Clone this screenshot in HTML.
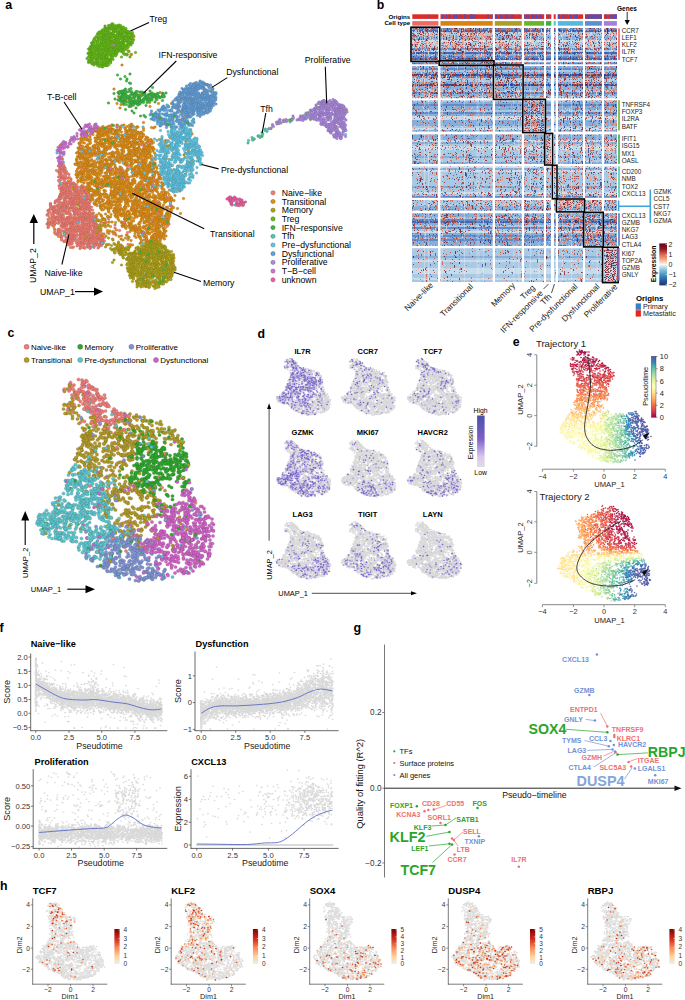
<!DOCTYPE html>
<html><head><meta charset="utf-8"><style>
html,body{margin:0;padding:0;background:#fff;width:685px;height:1000px;overflow:hidden}
svg{display:block;font-family:"Liberation Sans",sans-serif}
</style></head><body>
<svg width="685" height="1000" viewBox="0 0 685 1000">
<defs><marker id="ma0" markerUnits="userSpaceOnUse" markerWidth="1" markerHeight="1" overflow="visible" orient="0"><circle r="2.6" fill="#e08e16" stroke="#93621a" stroke-width="0.56"/></marker><marker id="ma1" markerUnits="userSpaceOnUse" markerWidth="1" markerHeight="1" overflow="visible" orient="0"><circle r="2.6" fill="#f27c72" stroke="#9e5751" stroke-width="0.56"/></marker><marker id="ma2" markerUnits="userSpaceOnUse" markerWidth="1" markerHeight="1" overflow="visible" orient="0"><circle r="2.6" fill="#afa318" stroke="#766f1b" stroke-width="0.56"/></marker><marker id="ma3" markerUnits="userSpaceOnUse" markerWidth="1" markerHeight="1" overflow="visible" orient="0"><circle r="2.6" fill="#5cc4e4" stroke="#448296" stroke-width="0.56"/></marker><marker id="ma4" markerUnits="userSpaceOnUse" markerWidth="1" markerHeight="1" overflow="visible" orient="0"><circle r="2.6" fill="#64a0da" stroke="#496d90" stroke-width="0.56"/></marker><marker id="ma5" markerUnits="userSpaceOnUse" markerWidth="1" markerHeight="1" overflow="visible" orient="0"><circle r="2.6" fill="#64bc14" stroke="#497e19" stroke-width="0.56"/></marker><marker id="ma6" markerUnits="userSpaceOnUse" markerWidth="1" markerHeight="1" overflow="visible" orient="0"><circle r="2.6" fill="#3bb842" stroke="#307b34" stroke-width="0.56"/></marker><marker id="ma7" markerUnits="userSpaceOnUse" markerWidth="1" markerHeight="1" overflow="visible" orient="0"><circle r="2.6" fill="#ce72d2" stroke="#88518b" stroke-width="0.56"/></marker><marker id="ma8" markerUnits="userSpaceOnUse" markerWidth="1" markerHeight="1" overflow="visible" orient="0"><circle r="2.6" fill="#4ccab0" stroke="#3a8676" stroke-width="0.56"/></marker><marker id="ma9" markerUnits="userSpaceOnUse" markerWidth="1" markerHeight="1" overflow="visible" orient="0"><circle r="2.6" fill="#ab8ae0" stroke="#736093" stroke-width="0.56"/></marker><marker id="ma10" markerUnits="userSpaceOnUse" markerWidth="1" markerHeight="1" overflow="visible" orient="0"><circle r="2.6" fill="#e8609f" stroke="#98466c" stroke-width="0.56"/></marker><marker id="mc_trans" markerUnits="userSpaceOnUse" markerWidth="1" markerHeight="1" overflow="visible" orient="0"><circle r="3.2" fill="#b39a26" stroke="#786924" stroke-width="0.6"/></marker><marker id="mc_naive" markerUnits="userSpaceOnUse" markerWidth="1" markerHeight="1" overflow="visible" orient="0"><circle r="3.2" fill="#f27c7a" stroke="#9e5756" stroke-width="0.6"/></marker><marker id="mc_memory" markerUnits="userSpaceOnUse" markerWidth="1" markerHeight="1" overflow="visible" orient="0"><circle r="3.2" fill="#2ea82c" stroke="#287227" stroke-width="0.6"/></marker><marker id="mc_predys" markerUnits="userSpaceOnUse" markerWidth="1" markerHeight="1" overflow="visible" orient="0"><circle r="3.2" fill="#5cc6cf" stroke="#448489" stroke-width="0.6"/></marker><marker id="mc_dys" markerUnits="userSpaceOnUse" markerWidth="1" markerHeight="1" overflow="visible" orient="0"><circle r="3.2" fill="#d063c6" stroke="#8a4884" stroke-width="0.6"/></marker><marker id="mc_prolif" markerUnits="userSpaceOnUse" markerWidth="1" markerHeight="1" overflow="visible" orient="0"><circle r="3.2" fill="#7f93d3" stroke="#59658b" stroke-width="0.6"/></marker><marker id="md_g" markerUnits="userSpaceOnUse" markerWidth="1" markerHeight="1" overflow="visible" orient="0"><circle r="1.7" fill="#d9d9d9"/></marker><marker id="md_p0" markerUnits="userSpaceOnUse" markerWidth="1" markerHeight="1" overflow="visible" orient="0"><circle r="1.6" fill="#cdc2ea"/></marker><marker id="md_p1" markerUnits="userSpaceOnUse" markerWidth="1" markerHeight="1" overflow="visible" orient="0"><circle r="1.6" fill="#ad9fe0"/></marker><marker id="md_p2" markerUnits="userSpaceOnUse" markerWidth="1" markerHeight="1" overflow="visible" orient="0"><circle r="1.6" fill="#8f7dd4"/></marker><marker id="md_p3" markerUnits="userSpaceOnUse" markerWidth="1" markerHeight="1" overflow="visible" orient="0"><circle r="1.6" fill="#7462c6"/></marker><marker id="me1_0" markerUnits="userSpaceOnUse" markerWidth="1" markerHeight="1" overflow="visible" orient="0"><circle r="1.64" fill="#aa0f45"/></marker><marker id="me1_1" markerUnits="userSpaceOnUse" markerWidth="1" markerHeight="1" overflow="visible" orient="0"><circle r="1.64" fill="#c42b4b"/></marker><marker id="me1_2" markerUnits="userSpaceOnUse" markerWidth="1" markerHeight="1" overflow="visible" orient="0"><circle r="1.64" fill="#d9444d"/></marker><marker id="me1_3" markerUnits="userSpaceOnUse" markerWidth="1" markerHeight="1" overflow="visible" orient="0"><circle r="1.64" fill="#e75a48"/></marker><marker id="me1_4" markerUnits="userSpaceOnUse" markerWidth="1" markerHeight="1" overflow="visible" orient="0"><circle r="1.64" fill="#f47044"/></marker><marker id="me1_5" markerUnits="userSpaceOnUse" markerWidth="1" markerHeight="1" overflow="visible" orient="0"><circle r="1.64" fill="#f88e52"/></marker><marker id="me1_6" markerUnits="userSpaceOnUse" markerWidth="1" markerHeight="1" overflow="visible" orient="0"><circle r="1.64" fill="#fdab60"/></marker><marker id="me1_7" markerUnits="userSpaceOnUse" markerWidth="1" markerHeight="1" overflow="visible" orient="0"><circle r="1.64" fill="#fdc272"/></marker><marker id="me1_8" markerUnits="userSpaceOnUse" markerWidth="1" markerHeight="1" overflow="visible" orient="0"><circle r="1.64" fill="#fed985"/></marker><marker id="me1_9" markerUnits="userSpaceOnUse" markerWidth="1" markerHeight="1" overflow="visible" orient="0"><circle r="1.64" fill="#feea9c"/></marker><marker id="me1_10" markerUnits="userSpaceOnUse" markerWidth="1" markerHeight="1" overflow="visible" orient="0"><circle r="1.64" fill="#fff8b3"/></marker><marker id="me1_11" markerUnits="userSpaceOnUse" markerWidth="1" markerHeight="1" overflow="visible" orient="0"><circle r="1.64" fill="#f9fdb6"/></marker><marker id="me1_12" markerUnits="userSpaceOnUse" markerWidth="1" markerHeight="1" overflow="visible" orient="0"><circle r="1.64" fill="#eef8a4"/></marker><marker id="me1_13" markerUnits="userSpaceOnUse" markerWidth="1" markerHeight="1" overflow="visible" orient="0"><circle r="1.64" fill="#def29a"/></marker><marker id="me1_14" markerUnits="userSpaceOnUse" markerWidth="1" markerHeight="1" overflow="visible" orient="0"><circle r="1.64" fill="#c3e79f"/></marker><marker id="me1_15" markerUnits="userSpaceOnUse" markerWidth="1" markerHeight="1" overflow="visible" orient="0"><circle r="1.64" fill="#a8dca4"/></marker><marker id="me1_16" markerUnits="userSpaceOnUse" markerWidth="1" markerHeight="1" overflow="visible" orient="0"><circle r="1.64" fill="#88d0a4"/></marker><marker id="me1_17" markerUnits="userSpaceOnUse" markerWidth="1" markerHeight="1" overflow="visible" orient="0"><circle r="1.64" fill="#69c3a5"/></marker><marker id="me1_18" markerUnits="userSpaceOnUse" markerWidth="1" markerHeight="1" overflow="visible" orient="0"><circle r="1.64" fill="#51aaaf"/></marker><marker id="me1_19" markerUnits="userSpaceOnUse" markerWidth="1" markerHeight="1" overflow="visible" orient="0"><circle r="1.64" fill="#3990ba"/></marker><marker id="me1_20" markerUnits="userSpaceOnUse" markerWidth="1" markerHeight="1" overflow="visible" orient="0"><circle r="1.64" fill="#4076b4"/></marker><marker id="me1_21" markerUnits="userSpaceOnUse" markerWidth="1" markerHeight="1" overflow="visible" orient="0"><circle r="1.64" fill="#545ca8"/></marker><marker id="me2_0" markerUnits="userSpaceOnUse" markerWidth="1" markerHeight="1" overflow="visible" orient="0"><circle r="1.64" fill="#aa0f45"/></marker><marker id="me2_1" markerUnits="userSpaceOnUse" markerWidth="1" markerHeight="1" overflow="visible" orient="0"><circle r="1.64" fill="#c42b4b"/></marker><marker id="me2_2" markerUnits="userSpaceOnUse" markerWidth="1" markerHeight="1" overflow="visible" orient="0"><circle r="1.64" fill="#d9444d"/></marker><marker id="me2_3" markerUnits="userSpaceOnUse" markerWidth="1" markerHeight="1" overflow="visible" orient="0"><circle r="1.64" fill="#e75a48"/></marker><marker id="me2_4" markerUnits="userSpaceOnUse" markerWidth="1" markerHeight="1" overflow="visible" orient="0"><circle r="1.64" fill="#f47044"/></marker><marker id="me2_5" markerUnits="userSpaceOnUse" markerWidth="1" markerHeight="1" overflow="visible" orient="0"><circle r="1.64" fill="#f88e52"/></marker><marker id="me2_6" markerUnits="userSpaceOnUse" markerWidth="1" markerHeight="1" overflow="visible" orient="0"><circle r="1.64" fill="#fdab60"/></marker><marker id="me2_7" markerUnits="userSpaceOnUse" markerWidth="1" markerHeight="1" overflow="visible" orient="0"><circle r="1.64" fill="#fdc272"/></marker><marker id="me2_8" markerUnits="userSpaceOnUse" markerWidth="1" markerHeight="1" overflow="visible" orient="0"><circle r="1.64" fill="#fed985"/></marker><marker id="me2_9" markerUnits="userSpaceOnUse" markerWidth="1" markerHeight="1" overflow="visible" orient="0"><circle r="1.64" fill="#feea9c"/></marker><marker id="me2_10" markerUnits="userSpaceOnUse" markerWidth="1" markerHeight="1" overflow="visible" orient="0"><circle r="1.64" fill="#fff8b3"/></marker><marker id="me2_11" markerUnits="userSpaceOnUse" markerWidth="1" markerHeight="1" overflow="visible" orient="0"><circle r="1.64" fill="#f9fdb6"/></marker><marker id="me2_12" markerUnits="userSpaceOnUse" markerWidth="1" markerHeight="1" overflow="visible" orient="0"><circle r="1.64" fill="#eef8a4"/></marker><marker id="me2_13" markerUnits="userSpaceOnUse" markerWidth="1" markerHeight="1" overflow="visible" orient="0"><circle r="1.64" fill="#def29a"/></marker><marker id="me2_14" markerUnits="userSpaceOnUse" markerWidth="1" markerHeight="1" overflow="visible" orient="0"><circle r="1.64" fill="#c3e79f"/></marker><marker id="me2_15" markerUnits="userSpaceOnUse" markerWidth="1" markerHeight="1" overflow="visible" orient="0"><circle r="1.64" fill="#a8dca4"/></marker><marker id="me2_16" markerUnits="userSpaceOnUse" markerWidth="1" markerHeight="1" overflow="visible" orient="0"><circle r="1.64" fill="#88d0a4"/></marker><marker id="me2_17" markerUnits="userSpaceOnUse" markerWidth="1" markerHeight="1" overflow="visible" orient="0"><circle r="1.64" fill="#69c3a5"/></marker><marker id="me2_18" markerUnits="userSpaceOnUse" markerWidth="1" markerHeight="1" overflow="visible" orient="0"><circle r="1.64" fill="#51aaaf"/></marker><marker id="me2_19" markerUnits="userSpaceOnUse" markerWidth="1" markerHeight="1" overflow="visible" orient="0"><circle r="1.64" fill="#3990ba"/></marker><marker id="me2_20" markerUnits="userSpaceOnUse" markerWidth="1" markerHeight="1" overflow="visible" orient="0"><circle r="1.64" fill="#4076b4"/></marker><marker id="me2_21" markerUnits="userSpaceOnUse" markerWidth="1" markerHeight="1" overflow="visible" orient="0"><circle r="1.64" fill="#545ca8"/></marker><marker id="mf" markerUnits="userSpaceOnUse" markerWidth="1" markerHeight="1" overflow="visible" orient="0"><circle r="1.7" fill="#d9d9d9"/></marker><marker id="mh_g" markerUnits="userSpaceOnUse" markerWidth="1" markerHeight="1" overflow="visible" orient="0"><circle r="1.7" fill="#dcdcdc"/></marker><marker id="mh_o0" markerUnits="userSpaceOnUse" markerWidth="1" markerHeight="1" overflow="visible" orient="0"><circle r="1.64" fill="#fdd8b4"/></marker><marker id="mh_o1" markerUnits="userSpaceOnUse" markerWidth="1" markerHeight="1" overflow="visible" orient="0"><circle r="1.64" fill="#fbb07c"/></marker><marker id="mh_o2" markerUnits="userSpaceOnUse" markerWidth="1" markerHeight="1" overflow="visible" orient="0"><circle r="1.64" fill="#f4884e"/></marker><marker id="mh_o3" markerUnits="userSpaceOnUse" markerWidth="1" markerHeight="1" overflow="visible" orient="0"><circle r="1.64" fill="#e2582e"/></marker><marker id="mh_o4" markerUnits="userSpaceOnUse" markerWidth="1" markerHeight="1" overflow="visible" orient="0"><circle r="1.64" fill="#c2301c"/></marker></defs>
<g transform="scale(0.5)" fill="none" stroke="none"><path d="m247 73 15 0 6 0-34 10-25 7-12 14 9-3 9 1 9 7 8-4 18 3 4 1 3-7 5 7 1 0-36 1-6 12 23 8 167 39-183 9 170-7 26 4-179 12 4-6 21 5 11 3 20-1 19-3 61-1 42-4-186 13 6 1 17 3 0-5 20 0 10 6 7-2 4 1 11 2 48-9 22 0 10 6 11-6 3 4-172 13 8 2 4-1 2-5 4-1 6 1 1 0 35-3 5 5 18 2 26 0 19-3 39-2 249 2-410 12 22-3 38 0 78 4 285-5 17 2 8 0-325 9 11-2 11 8 268-2 5 1 35-8-372 16 32-2 16 4 2-4 241 2 45 1-467 12 73-1 24-3 34-3 5 6 5-7 3 0 6 0 5 0 15-1 208 2-386 15 3 2 0-1 2 1 3-4 4 4 1-4 2 3 0 1 2-3 3 3 2-4 2-2 2 4 3 0 3-3 2 2 2-4 1 5 0 1 3-5 0 6 2-9 0 0 1 8 2 1 7-9 0 4 1-3 5 4 0 4 1-6 0 5 3-7 4-1 2 6 0 1 4-4 5-2 0 5 1-5 1 8 2-5 1-2 2 1 0-1 7 3 1-1 0 0 2 0 11 3 16-2 4 1 3-2 354-3-495 15 2 1 1 1 2-2 0-2 1 0 1-3 5 1 1 2 1 4 3-4 0-1 0 6 1-8 4 1 2 0 1 2 2 1 1 3 1-3 1 0 2-3 0 4 1-5 0 1 2-2 1 2 0 7 2-9 0 5 2 1 1-6 0 8 2-4 0 0 1 5 2-4 1-4 0 0 0 5 2-2 1-2 1 2 2 0 1 3 1-7 0 0 2 0 0 8 4-4 0 2 0 3 1-3 1-5 0 5 1-6 1 0 0 7 1-6 0 7 2-8 0 1 0 8 2-6 4 1 7 5 1-6 1-3 2 4 0 3 2-5 0 7 1-7 1-1 3 2 0 5 1-8 1 1 1 2 1 6 0 0 1-8 1 2 0 6 3-8 0 4 1-3 0-2 4 6 1-2 1 2 1 2 2-2 2-1 0 0 2 2 1 1 2-7 0 8 92-6 5 5 289-3-512 13 1-2 1 3 1-7 3-2 1 7 1-4 3 0 1-2 0 6 1-6 1 1 1 7 4-5 1 5 9-3 1 1 3-6 1 4 1 2 0 1 1-7 0 0 2 3 1-4 1 3 0 6 1-7 3-1 0 8 1-9 1 8 1-7 1-1 1 8 4-1 1-5 2 3 1-4 0 7 5-3 0 2 1-2 1 1 4 0 1-1 2-1 1 0 0 5 1-4 3-4 1 0 2 6 1 2 2-9 1 5 0 1 1-3 1-1 1-1 1 7 3 1 1-9 0 5 3-2 0-2 0 5 1 1 1 1 1-7 2 5 0 1 1-5 1-2 1 2 1 1 1 3 1-1 3-4 0 8 2-5 1-4 0 0 0 2 0 6 4 0 3-5 1 1 0 0 0 4 0-3 1-2 1 4 2-2 2-3 1-1 3 8 3-4 0-1 1 5 2-3 6 3 17 0 22-3 166 3 1-1-350 9 1-1 1 0 0 3 2-7 3 3 2-5 2 6 4-6 3 0 0 9 2-7 1-1 1 6 1-2 10-2 0-1 1 0 1-1 2 5 0 3 1-2 4-2 0-2 0 4 0-2 1 4 2-9 0 9 1-4 2 3 2-1 1 1 2-5 1 2 4-4 1 1 0 5 1-5 0-1 1-1 0 0 0 6 0 3 3-8 1 4 0 3 0 1 4-7 0 4 2 3 1-6 0-1 1 0 0 7 4 0 2-5 3 0 1 5 1-9 1 9 0-1 2-5 3-1 0 4 1-5 0 8 1-6 1-2 4-1 0 4 0 1 1 3 1-6 1 2 3 3 1-3 0 3 1-3 0 2 4-6 0 6 1-3 2-3 0 5 1-1 1 3 0 2 3-5 1 3 1 1 0 0 3-6 3 0 0 2 0 1 0 4 3-5 2 5 4-3 3-2 1 0 2-2 1-1 1 0 0 7 2-3 2-3 0 5 3-2 24-4 0 4 2-3 21 0 18 1-251 7 35 6 3 1 1-5 0 6 1-4 1-1 2 4 1-5 1 7 0-2 5-3 3-1 0-2 0 3 0 5 2-5 1 4 3-2 2 3 4-5 0-2 2 3 2-4 0-1 0 4 0 3 4 0 1-2 2-4 0 4 1 2 5-5 1-1 1 2 3 2 1-5 2 6 0-3 3 6 0 0 1-6 0 3 2-2 3 3 2-4 0-1 7-2 0 4 2-4 1 3 0 3 2 3 3-7 1 0 5 1 2 0 1 0 0 4 1-1 2-4 1 1 2-3 0 5 2-4 1 5 1-3 2 2 0 2 4-5 1 1 2-2 0 1 3-1 0 5 0 3 0 0 1-7 1 6 1-1 2 2 1 0 1-2 1 0 2-5 0 4 0 1 0 2 1-1 7 1 1-9 1 5 0 4 1-5 1 4 1-6 1 7 3-5 0 4 1-7 0 0 1 0 0 5 2-5 1 2 1 2 1 0 2-1 2 1 0 3 0 1 2-1 26-6 41 4-259 5 37 5 3-2 1 2 1-6 1 9 0-1 2-1 1-1 1-6 4 0 0 6 1-4 1 5 2 1 0-4 0 3 2-7 0 4 2 2 0 3 3-7 1 7 1-6 1 0 0 3 2 1 2 2 1-9 1 5 2-5 0 7 1-2 1 0 3 0 1 3 2-8 0 1 1-1 0 0 1 9 1-4 0 0 2-1 2 1 0 3 2-4 0 4 2-8 0 2 0 4 3-6 0 4 0 3 3 1 5-1 1 1 4-3 1 2 0 2 1-5 3 3 3-2 1 0 2 0 1-5 2 5 0 4 5-9 0 8 1-4 3-3 0 2 0 2 9 3 1-7 1 5 1-6 0 2 1 2 0 5 2-6 0 3 2 1 1-7 0 1 3 3 1 5 1-2 1-4 1 4 1-7 0 4 0 5 3-4 2-1 3 4 1-1 1-7 1 3 0 6 1-4 2-3 1 2 0 0 1-2 0 7 1-1 2-6 0 0 2 6 1-3 1-3 2 0 0 5 1 1 1-8 1 4 5-2 3 4 67-5 9-1-260 18 28 0 2-5 1 1 2-2 2-1 0 5 0 2 2-3 0 1 2-5 0 0 2 4 1-2 0 4 0 2 2-5 1 5 1-3 2-5 2 5 0 2 0 1 1-2 3-3 2-3 2 0 0 2 0 6 8-9 3 8 3-5 1 3 3 3 3-6 0 2 1 0 0 0 2-3 3 0 1 7 1 0 5-5 2 5 2-4 2-2 1-1 3-1 0 2 0 1 0 1 5 0 2 2 1-6 1 1 3 4 2-3 1 3 0 1 2-2 1-3 0-2 0 4 0-3 2 8 1 0 2-7 2-1 0 2 0 3 1-4 0 6 3-8 0 3 0 4 0 1 1-1 2 2 1-7 0 6 3-3 1-4 0 8 4-7 5 0 1-2 2 5 1 3 0-2 1-1 0-1 2-4 1 3 1-1 1 6 3-5 1 6 3-7 1-2 0 6 0 2 3-4 1-1 1 3 4-6 0 5 3-3 0 6 7-1 1-6 0 8 22-2 52 2 10-4-245 13 1 1 2-8 1 0 0 7 1-3 0 3 2-2 4-2 1 3 1-3 3 1 2 4 2-2 1-6 0 8 1-8 0 3 0 1 3 2 1-2 2-2 0-1 1 1 4 5 1-7 2 7 1-3 2-3 3 4 4-2 1 1 4-2 0 3 0 3 1-6 0 4 3-3 1 1 1-5 2 9 1 0 1 0 1-9 1 1 0 2 1-3 0 5 0 4 3-9 1 9 0-1 4-8 1 3 0 4 1-5 0 7 0-1 2-2 1-2 1 1 1-4 2-1 1 2 4-1 1 2 2-3 0 5 5-4 3-1 2 8 1-3 2-4 0 7 0-1 2-2 1 3 4-7 0 0 3 3 0 3 1-4 0 4 0 2 1-9 2 7 3-7 1 4 1-4 1 3 2 0 0 0 0-1 1 1 2 6 1-4 0-1 1 3 4-7 1 4 0 3 4-5 0 5 1-4 1 5 1-2 1-1 1-4 7 5 0 2 1-4 3 0 1-3 0 4 1 3 2-2 2 0 0 2-187 2 32 8 1-7 1 5 1-6 2 4 1 1 2-2 1 3 1-6 3 2 0 5 2-6 0-1 0 9 3-4 1-1 0 2 1 3 1-9 1 5 1-5 0 1 1-1 2 2 2 0 1-1 0 1 2-2 0 2 0 6 2-4 3-4 0 3 3 1 3 3 2-7 0 5 0 0 1 3 0-1 4-2 1-4 0 3 2 3 2-4 4-2 0 0 0 4 2 2 0 2 2-6 0-1 2 2 1 2 2-4 4 6 4-8 0 4 2 2 1 2 4 1 3-5 0 5 2-3 1 0 9-6 3 2 0 6 6-8 1 2 1 1 1 5 5-2 1-2 2-1 3-1 0 5 2-4 1 5 1-3 0 4 2-3 3-5 1 3 0 2 1 3 2-6 0 4 1-6 0 4 2 3 3-6 0 5 2-7 0 4 3 0 0 4 1-6 0 5 2-6 2 2 0 5 2-1 1 1 1-3 2-5 3 4 1 3 30-6-192 18 1-6 1-1 0 7 3 0 1-3 1 1 1-4 1 2 2-4 0 4 1 3 2-2 0-1 1 4 0-4 1-3 0 3 3-5 2 2 0 7 2-4 1 0 1 2 2-5 1-1 0 7 2-8 0 0 1 1 1 3 1 2 1-6 0 4 0 4 2-4 1 5 1-7 0 4 1-6 0 0 3 7 1-2 2 3 1-8 0 8 2-5 3-3 0 6 1-4 6 4 3 0 0 1 0 0 2-5 0 1 2-2 3-1 0 3 0 0 1-3 0 6 0 2 1-8 1 4 3-4 0 9 3-4 1-2 1 5 1-1 1-2 0 2 1-7 0 0 5 1 0 5 1-2 0 4 1-2 3-5 0 5 2-1 0-1 2 0 0 4 4-3 1-3 1-2 0 8 2-8 8 5 1-5 1 0 1 9 1-1 1-8 0 8 1-7 0 0 1 4 3 2 1-4 1 5 1-8 1 5 2-2 0 5 0 1 1-5 0 2 1 2 3-6 1 7 0-2 0 2 1 0 1-8 4 2 0 6 2-6 2 4 1-5 0 1 1-3 2 4 3-2 0 1 4 1 0 5 2-5 1 1 0 2 2-4 2 1 2 2 1 3 3 0 6-4 17-3 8 4 22-4-248 11 6 4 5-1 17-6 1 5 1-1 0-1 4-3 2 6 2-1 1 3 1-6 0 3 1 3 1-4 0-4 6 4 0 1 1-2 1 4 1 2 2-7 0 1 1 3 0 2 2-5 0-1 1 7 2-4 6 3 2-8 2 0 0 4 0 3 2-2 0 1 2 1 3-6 3 8 3-6 2 0 1 0 0 5 1-3 2 4 1-6 0 6 1-6 2 0 1 3 0 1 1-4 0 6 2-9 1 7 5-1 1 0 1 3 2-4 0 2 1-7 3 4 3-3 0 3 0 1 1 2 2 2 1-5 1-3 1 1 1 3 0 4 1-9 1 0 3 2 0 3 1 1 1-4 2 0 2 7 1 0 1-5 5-1 4-2 0 1 1 6 4-7 2 1 0 1 7 3 1-3 3-3 0 5 0 2 2-6 1 2 1 4 1 1 1-3 3-2 0-2 0 8 2-2 4-1 0 0 1 1 0 2 3-3 1-5 2 6 1-5 0 0 0 5 1-6 6 8 3-5 1 1 0 3 1-7 0 4 1 1 1 2 24-6 5 6 14 1 2-7-230 10 19-1 0 3 4-3 3 0 0 3 3-4 2 6 2-6 1 1 4 5 2 1 1 2 1-3 2-1 0 1 0 3 3-7 1-1 0 3 0 4 2-2 3-6 1 6 1-1 1-4 2 5 1 3 2-8 0 6 1-1 3-2 0 4 1-8 1 6 1 0 0 0 1-1 2-3 1 2 2 2 2-5 2 5 1-1 3 3 1-4 0 4 1-6 1 3 2 0 1-3 1 6 2-7 2 3 1 4 1-1 1-5 3 6 1-7 0 6 0-1 1-4 2 0 0 6 3-2 0-1 2-4 0 8 1-1 2-5 0 3 1 2 2 1 1-9 0 4 5 0 0 3 2-1 3 1 0 1 2 1 1-7 0-2 0 9 1-4 2-5 2 2 0 4 7 2 2-3 2 3 2-6 1 2 1 3 4-6 1-1 1 9 1-7 2-1 2 4 0-3 1 6 4-4 0-2 0 6 1-7 1 8 2-2 2-5 0 2 6-3 0 1 0 3 0 2 3 2 1-5 6 1 2 2 0 0 39-6-220 11 18 5 1-5 2-1 7 5 0 3 2-3 1-5 1 3 1 5 2-5 0 4 1-3 4 3 5-7 3 2 1-3 1 2 1 6 1-3 5 1 2-6 1 5 3-4 0 2 1-2 4 1 1-2 0 2 2-2 2 2 5 3 1-3 1-2 0 2 1 2 4 4 1-6 0 3 0 3 2-6 1 3 1 2 1-3 2 5 1-3 1-1 0 2 1-5 0 7 1-7 1 5 3-3 1 5 3-7 0 5 4-2 0-1 1 2 1-5 2-1 0 3 1 3 3-2 0 3 2-6 1 6 5 2 1-2 3-4 0 1 1-3 1 7 1-3 2-2 0 6 1-2 0 2 2-7 4-1 0 4 1 4 1-7 0 5 1-1 2 2 1-8 4 3 0 2 1-5 1 4 1-4 0 6 6-2 5 0 0 4 1-7 0 7 2-4 1-1 2-2 0 6 9-4 0 3 0 1 1-6 2-1 1 9 17 0 5-2-229 11 48-6 0 2 1 1 3 4 3-7 0 1 0 3 1-2 1 3 3-7 1 1 1 0 1 8 3-5 1-3 1 3 1 4 0-3 0 2 1-6 2 8 2-8 0 3 1 2 1-5 0 8 2-8 0 6 0-1 5 3 3-1 1-7 1 0 0 6 1 1 1-6 1 7 1 0 9-8 0 5 1-1 1 0 0 3 3-6 1 1 0 6 2-5 1-4 1 5 0 2 1-3 3 3 0 0 1-6 0 7 1-5 1 4 3-6 0 6 3-1 0 3 1-5 1-1 0 6 1-9 0 2 0 0 2 3 1-1 0 2 4-5 2-1 0 5 3-2 1 1 1-3 1 3 0 5 1-2 3-5 3 4 2-5 0 3 0 3 2-3 0 5 2-2 1 2 1-5 1 2 1-3 0 3 2 3 2-9 2 8 1 0 0-3 3-5 0 6 1-5 1 0 1 5 3-4 1-1 2 0 0 7 2-6 1-2 1 0 1 2 1 3 2-5 1 0 4 1 1 1 2 2 2 5 1 0 2 0 3-4 2-2 1 6 4-5 0 5 1-4 0 2 4-2 3 4 1-9 4 1 17 0 0 1-242 14 12 1 20 0 8 1 16 1 4-1 3-6 1 0 2 6 0-5 0 4 2-7 0 3 0 6 5-8 4 8 2-2 1-6 1 4 1 2 1-2 0-1 1-4 1 8 2-8 4 4 3 0 1-2 2 5 2-4 1 3 0 2 2-8 4 2 0 5 1-5 0 2 4-1 0 4 1-5 1 0 1 0 2 6 1-1 3 1 2-5 0 6 1-7 1 7 2-8 0 3 1 0 1-1 1 6 1-2 2 1 0-1 1-6 1 2 1-1 1 6 2-1 2-7 1 0 1 1 2 4 1-1 0 1 1-4 0 2 1 1 3-4 2 9 2-4 2 2 1-5 5 0 1 3 2-5 0 4 2-1 1-1 0 5 4-1 0 3 1-3 2-5 0 2 3-1 0 3 1 4 2-8 1 3 3 0 3 1 1-5 1 6 3-4 0 6 1-4 2 1 4 2 1-3 3-1 0 6 1-2 1 1 2-7 0 1 1 7 1-1 1-2 0-3 1-3 1 0 0 7 2-1 3-1 4 3 1-4 2 3 0 0 7-6 17 6 89 0-329 9 28 3 2-1 3-6 21-2 3 0 4 7 1-2 1 4 2-7 0 1 1-3 0 8 2-8 2 2 2 4 1-2 0 2 5-3 1-2 1-1 1 8 4-2 2 0 0 2 1-6 0 5 2-2 1-2 0 1 2-2 0 6 0 1 2-6 1 3 4-3 0 1 2-2 3 2 0 5 3-5 1-2 1 0 0 2 2 5 1-9 0 2 0 3 3-2 8-2 0 7 0-4 2-1 1 3 2-3 0 5 1-6 1 0 3-1 2 2 2 5 1-1 1-6 0 7 1-4 1 0 4-1 0 0 0 2 0 4 2-1 1-5 0 3 3-5 0-1 2 5 4 1 3-2 0 3 1-6 2 8 1-7 1 6 2-5 0 2 2-2 0 2 1-3 1-2 0 8 2 0 1 1 1-2 1-3 0 1 2 0 1-3 1 0 2 1 0 5 1-6 1 5 3-1 2-3 0 4 0 1 2-1 1 0 9-2 1-4 1 2 1 0 2-2 3 0 3-1 1 6 1-4 2-2 4 1 112 2-340 12 2 0 24-1 15-1 1 5 32-7 6 1 1 3 1-3 0 5 1-7 0 6 1-5 2 0 1 8 2-6 2 3 1-2 4 5 1-8 0 6 0-2 1 3 4-2 1-4 1-2 4 7 1-7 2 6 1-5 1 8 0 0 1-9 1 6 0 1 2-5 4-1 0 5 0 3 3-1 5-4 0 5 1-5 0 0 1-1 0 2 1 1 5-4 5 7 1-2 1-4 0 3 1-3 1 4 1-1 2-4 1 7 2-9 0 7 3-7 0 5 0 0 2-3 0 2 3-4 0 1 1 5 2 3 2-6 0 0 0 2 1-4 0 7 3-2 1 2 0-1 1 2 2-8 0 3 0 3 2-4 1-2 2 3 0 0 0 3 3-5 2 6 1-2 1 3 1-7 1 2 1-2 2 3 1-2 2 2 2-3 3 0 0 6 1-6 0 0 1 0 0 4 3-1 0 4 3-4 1-5 0 9 5-4 3-1 0 4 6 0 1-7 2 2 1 3 2-1 8 2 117-7 7 1-347 16 18-3 3 2 34 0 11 1 6-7 7 8 6-5 0-2 1 3 4 5 5-7 2 0 0 4 1-3 3 4 0-3 1-1 2-3 1 0 0 4 2-1 1 2 0 4 1-1 2-8 0 9 3 0 0 0 1-7 0 4 1-5 0 8 3-2 0-1 4-3 1-1 2 2 0 1 1 3 2 1 3-8 1-1 1 2 0 6 1-3 2 2 1-4 1 3 1 2 1-6 1-2 1 3 3 2 1-3 1 0 0 3 1-1 1 3 3-1 0 2 1-7 1 2 3 4 0-1 0 3 3-9 0 9 1-4 2-4 1 1 1 2 1 5 1-1 3-8 1 8 1-7 0 5 2-6 0 2 2 6 0-1 2 1 1-6 0 3 1 1 3-5 1 0 3 2 0-3 1 5 0 3 3-5 0 3 9 1 2-3 1 4 0 1 4-1 2-7 0 1 1-1 18 6-265 12 61-3 1-5 12 3 1 4 7-4 13 2 2-3 0-3 9 0 1 2 1 7 1-3 2 2 1 1 2-1 7-4 4 0 9-3 2 1 0 2 2-4 2 4 0 4 1-8 6 2 3-1 3 7 1-4 0 5 0-2 1 0 1-6 0 3 2 5 1-9 0 9 2-7 2 6 1-4 3 1 5 2 2-7 1 3 0 0 3 1 3-3 3 0 2 1 1 6 1-8 0 7 1-6 1 2 0 5 1-6 4 2 0 1 2-1 1-1 1 2 1-4 2 6 1-5 0 6 1-6 1-1 2 2 0 6 2-9 3 5 3-1 0 2 2 3 1-6 1 4 1-6 3 1 0 4 0 0 3-5 2-1 0 8 2-1 0 0 0 2 4-7 2-1 0 6 1-7 1 7 1 2 2-8 0 4 1 2 2-5-237 12 3-2 5 4 6-5 7 7 58-4 8-1 0 3 4 3 4-7 1-1 4 3 5 2 0 1 2-7 2 5 6-1 0 0 6 0 14-3 5 3 0 1 2 0 1 2 1-1 3 2 0 1 1-8 0 1 6 3 2 2 0 1 3-1 1-6 0 4 4-3 10 6 2-3 1 2 2-5 6 1 0 3 2-1 1-2 3-3 0 1 0-1 1 1 0 3 3-4 0 4 1 4 2 0 1 0 2-5 0 3 2-6 0 9 1-2 1-5 0 1 1-3 2 5 2-4 0 8 2-4 1-5 0 9 1-2 1-7 1 0 0 2 1 1 2-3 0 2 1 3 2 2 2-7 2 4 0-2 1 5 0-1 2-6 0 8 4-2 0 1 0-1 1-5 1 7-231 5 2 5 20-8 3 9 17-5 31-2 11 3 2 0 3 1 0-1 9-3 5-1 1 3 5-4 5 3 23-2 1 2 1-1 2-1 2 1 1-2 0 5 1 2 5-5 0 1 3 4 1-5 1-2 0 4 0 1 1-4 2 6 0 2 2-7 1 3 1 0 0 0 1 3 1-7 0 2 1 4 2-1 1 0 0 3 3-3 1-4 2 3 0 4 6-6 0 3 1-1 2 2 2-5 2-2 1 8 2-1 2-3 0-2 0 4 1 0 1-1 0 4 2-3 3-4 0 7 3-8 1 6 2-3 2 2 0 2 1-8 3 1 0 5 1-4 0 2 4-3 1 0 2 5 2-6 0 9 3-4-189 6 29 8 4-9 17 9 13 0 0-1 3 0 7-7 0 4 3 2 2-5 5 2 2-1 3 3 3-6 27 3 3-3 4 1 3 6 1-5 2 0 1 1 3 3 1-6 3 5 1-3 3 1 0 2 0 1 2-2 3 3 3-6 1 5 2-5 0 0 0 6 3-1 0 2 5-4 5-2 0 6 2 0 2-6 0 0 0 6 1-4 1-4 3 5 0 4 1-8 1 3 2 1 1 2 5-6 0 5 0 2 1-6 0 3 3-3-215 11 79-1 6-1 2 3 1-1 20 5 7-8 6 3 4 5 1-6 8 4 2-6 1 0 2 9 1-5 12-2 3 3 4-5 2 4 1-2 2 3 0 3 6-6 1 1 1-3 2 5 1-2 0 6 0 0 1-6 1 4 9 0 0-2 1-1 0-1 2 1 0-3 0 7 2-8 1 1 0 6 0 2 2-4 3-3 0 6 2-5 1 0 0 0 3 2 0-3 0 6 1 1 1-5 1-4 2 5 2-5 0 4 2 4 3-6-204 11 32 3 16 1 42 2 12 0 7-2 9-7 15 9 1-8 18 6 2-2 1-3 4-2 5 2 0 3 1 2 2-3 1-2 3 5 1-6 0 7 3-5 4 6 2-3 1-3 1 6 1-7 0 6 2-6 0 4 1 2 2-5 3 0-175 12 24 1 45-6 27 8 0-7 1-1 4 6 0-1 11 0 8-5 23 2 6-2 1 2 3-2 0 2 1 2 3-2 2-2 0 3 2-1 2 2-73 8 8 3 1-5 1 0 12 0 56 9 34 3-86 9 18 5 44-4 22 4-77 10 35 10 7-1 24 2-47 5-14 10 11-1 3 8 29-4" style="marker:url(#ma0)"/><path d="m218 255-51 18 132 12-137 9 122-4-118 14 23 7-70 17 5 0-7 4 0 0 3 1 0 4 0 1 1 1 2-6 0 1 2 4 2-6 0-2 1 8 1-3 1 1 0 3 0-1 32-1 93-4-142 8 4 3 2-4 0 5 0 4 1-7 2 4 0 3 1-6 4-1 2-1 0 6 1-4 0 1 2 3 1-4 2 4 3 2 98-6 10-3-129 14 3 1 2-3 0 6 0 1 1-9 2 5 1-1 0-2 2 5 1 2 2-7 3 4 5-1 3 3 112-2 54 3-191 2 2 2 1 5 5-1 1 0 2-6 2 7 0-3 4 2 1-2 0 0 2 1 2-1 3-3 0 5 0 2 5-3 0 1 1 2 1-1 4 1-35 3 1 5 3 2 1-3 0-3 1 5 0 1 2-9 0 8 1-3 0 2 1 0 1-3 1 4 1 1 1-9 0 5 1-3 1 1 2 1 0 3 3 0 1-7 0 2 0 0 0 5 3-4 2 6 1-8 1 3 1 3 0 2 2-8 1 6 1-4 1 2 1-1 0 4 3-4 5 3 0 2 1-4 1 1 0 2 3 1 1-2 1-2 0-1 1 3 28-4 86-2-162 12 0 5 0 1 1-4 3-2 0 4 1 2 2-6 0 5 3-5 0 4 0-2 1 0 0 3 1-6 1 0 0-1 1 5 4-4 0 5 2-3 0 1 0 3 1 1 3 0 1-2 2-5 1 1 0 1 2 1 1-5 0 4 1 1 2-4 0 7 1-1 0 2 1-7 0 5 2-3 3-2 0 6 1-8 1 5 3 1 6 0 2 3 121-8-179 17 1-6 1 1 0 4 1-5 0 4 1 1 2-4 0 1 1-1 4 6 1-1 1-6 0 4 0 3 2-5 2-4 1 3 0 2 1 1 2 3 1-9 1 6 1-4 0 7 1-1 1 0 2-2 2-2 1 5 1-7 0 1 1 4 0-4 2-3 0 9 1-5 0-1 2-3 1 2 1 1 0 1 4-1 0 3 1 0 2-5 2 8 2-5 3-3 0 0 1 5 0-2 2 1 1 2 2-1 0-2 154 0-231 14 0-1 9-1 1-3 0-1 3-2 2 3 2 4 2-4 4 3 0 3 1-2 1 1 2-8 1 4 2 0 0 5 1-3 3-3 2 5 1-3 2-2 1-2 0 7 1-2 2-6 0 2 1 4 1-3 1 1 0 4 2-5 0 3 1-5 1 3 1-3 2 6 1-2 0 0 1-4 3 4 2 0 0-2 1-2 1 2 1 4 1-5 0 0 2 4 1-6 0 4 1 4 2-7 2 2 0-1 0 4 1-4 1 3 2 2 1 2 0 0 2-5 0 0 134 0-214 14 1-8 0 3 0 5 1-6 3 3 0 4 1-1 1-4 1 4 1-5 1 1 1 3 3-6 2 1 0 7 1-8 0 3 1 0 1-4 3 7 0 1 2-6 0 6 2-3 0 1 1-4 1 1 1 1 3 2 1-4 0 1 1 1 1-3 0 3 1-2 1 4 0 0 5-1 1 1 0-2 0-1 1-3 0 1 0 2 4 5 2-8 0 1 2 5 0 1 1 0 2 1 3 0 2-5 1-1 0 6 1-6 1 4 1 2 1-1 2-6 0 3 1-4 0 4 1-4 0 9 1-4 3-5 0 3 0 4 1-5 0 5 2-1 0 3 0-1 1-4 2-1 1 3 3-2-87 7 0 1 0 6 2-5 2 2 3 4 3-7 0 3 2 1 0 1 1-2 1-5 1 2 0 2 0 0 1-1 3 3 0 2 2-8 1 3 1 1 0 2 4-3 0 6 2-7 2 5 1-6 1 0 1 1 1-1 1-1 2 5 2-1 1 4 1-8 1 1 0 4 2 3 4-7 2 1 2 0 0 3 0 3 1-1 0 1 0 1 2-3 2-4 2 6 1-3 1-5 2 1 0 0 2 6 1 0 2 0 1-6 1 5 3 2 0-4 1-2 3 6 1-2 2 3 2-5 1-3 1-1 1 8 1-1 2-7 0 9 131-3-222 4 4 3 3 4 0 2 4-6 0-1 1 4 2-2 0 3 1-4 3 2 1-1 0 4 0 1 2-5 0 2 0 0 3-6 1 7 0 0 1-6 3 1 0 2 1 2 0 2 0-1 2-6 0 5 0 3 1-6 0 6 3 0 0-1 4-3 0 3 1-2 0 3 2-3 1 0 1-2 1-1 1 1 1 3 1-6 3 5 2 2 1-3 1-3 0 1 0 6 1-2 1-1 3 3 1-1 1-7 1 0 1 2 0-2 1 6 1 0 2-3 2-1 1 3 0 0 0 2 1-7 1 0 1 0 1-1 2 4 2-4 0 6 1 1 1 1 2-7 0 3 0 4 2-7 0 3 1 5 1-2 1-3 1-3 1 8 0 0 2-2 1-4 1 1 2 3 26 1-123 10 2-1 0 1 1-4 0 0 0 4 2-1 1-1 2 1 1 0 1-3 3-4 0 5 2 0 0 4 1-7 0 4 1 0 6 1 1-3 0-2 1 2 4-2 1 2 0 5 3-4 1 2 3-2 1-2 0 4 2-6 2 4 0 3 2-8 0 2 2 4 1 3 1-4 0-1 1-3 1 8 2-5 1-1 0 5 1 0 1-6 0 4 5-2 0-3 0 5 4-6 0 5 3-4 3 6 1-6 0 5 0 1 1-4 1-1 2 7 1-7 0 0 0 6 2 1 1-8 1 8 1-5 3-2 1 5 1 2 1-5 2-1 3 1 0 5 0 0 1-5 2-1 1-3 1 4 9 5 12-5 37 0 55-4-208 15 1-4 0 3 6-4 5 1 8 8 3-1 3-6 2 1 1 2 1-4 2 3 1-4 0 5 1-5 1 1 0 1 1 0 2 0 0 6 1 1 4-2 2-3 0 5 1-9 0 3 2 2 1-2 0 3 2 2 2-7 4 4 0 4 1-8 1 6 1-7 2 4 0 3 2-3 0 1 0 4 1-8 3 6 1-4 0-1 3 2 0 2 1-1 0 3 2-5 4-3 0 7 0 0 1-3 1-4 3 7 1-3 1 5 0-1 1-5 5-1 0 3 1-4 0 6 2-3 0 3 0-2 1-4 0 0 1 4 2 0 2 1 1 3 2-4 0 0 30-5 0 6 105-4-226 13 1-4 1 7 3 1 1-1 0-1 1-3 1-1 1-3 1 3 1 1 1 5 1-2 2-6 4 1 2 7 2-5 1 3 1-4 2 6 1-9 2 0 0 1 0 7 0-1 1-1 1 3 1-5 2-4 1 5 1-3 1 7 2-9 0 3 0 2 1-4 2 2 1 1 1-4 0 5 4-4 1 1 1 0 1 6 0 0 0-1 1-2 2 0 1-4 1 0 0 7 1-5 2 2 1-1 1 2 1 1 1-7 1 1 0 5 3-5 0 5 1-2 0 1 0 3 1 0 6-4 0 5 1-7 0 1 2-3 0 7 0 2 3-6 1 0 0-2 3 5 1-4 0 3 0-1 3 5 2-5 1-3 4 8 21-1 12-7 16 4-133 9 1-1 0 4 1-4 5-2 3 4 2 0 0 3 3 0 1-6 1-1 2 5 0 2 1 0 2-7 0 1 1 4 2-2 1-2 1-2 0 6 1-4 1 7 1-7 1 1 2-3 2 8 3-8 0 5 0 1 1-4 0 1 2 3 2-6 0 2 0 5 4-5 0 6 1-7 0 4 3 1 3-4 0 7 1-6 2-1 0 6 2-2 1 1 0 2 1-9 0 2 1 1 3 3 1-2 0 0 1 3 3-3 1 2 1 3 1 0 1-6 1-2 0 2 1-2 0 7 3-4 0 1 0 4 1-3 4 2 3-3-86 5 5 2 3-1 2 3 2-2 0 3 2 0 3-4 0 4 1 1 0 3 1-7 2 5 0 0 2-7 0 1 1 1 5-1 1 5 2 3 1-6 2 6 1-5 3-3 0 0 1 5 1 0 1 3 1-4 2-5 0 5 0 4 1-4 2-4 0 6 1-6 2-1 1 9 1-6 3-1 0 4 0-1 1-5 0 0 1 4 1-4 2 6 2-5 1-1 0 1 0 7 2-2 3-4 0 5 0-2 0 4 2-3 1-5 0 7 4-8 0 1 1 8 0-1 0-7 1 7 0-3 1 4 2-8 0 6 0-2 1-2 0 0 0 1 1 2 0 1 0-5 3 0 47 7-119 1 4 5 6-1 7-2 6 0 0 5 1-2 3-5 1 5 4 0 1 1 5-5 0 3 2 0 1-4 2 1 0 6 1-2 2-1 5-3 0 4 3-4 4-1 1 6 2-2 1-4 3 0 1 0 0 1 37 3 107 35" style="marker:url(#ma1)"/><path d="m366 262-28 29 3 2 6 14-8 12 29-9 2 5 6 9-20 8 15 17 0-1-2 18-223 10 11 35 38 28 20-6 1 0-22 9 15 7 22-4-35 10 3-4 0 8 3-1 1-8 13 1-88 15 66-2-22 10 40-2 5 4 41-1-52 10 7 4 13-9 2 7 8 2 1-5 54 3 6 1 5 0 0 0 2-6 0 3 4-1 1 0 0 5 2-5 2 4 0 1 1-3 2 3 1-3 5 2-111 6 10 3 2-6 4 7 4 0 0-1 3-2 0-3 1 3 1 3 2-2 6-3 0 6 1-6 2 6 0-2 4 1 2-3 3 4 1-3 2-3 1 1 12 2 1 2 3-4 1 5 2-2 1 1 0 1 3-7 1 5 2-6 1 6 2 2 2-6 1 3 1-5 0 6 1-4 0-1 3 1 1 5 2-7 0 6 1-6 1 3 0 0 2 1 1-4 0 3 0 1 0 4 2-8 1 5 1 3 1-6 0 3 2-4 2 1 0 3 0 1 1-5 2 5 1-7 0 8 1-6 3-2 1 6 0-3 2 2 1-3 0 5 3-5 1 3 0 3 0-2 1-2-107 6 4 1 1 4 1 1 8 0 1-4 1-1 0 8 1-7 0 2 2 4 0-4 1-2 1-1 0-1 1 5 1-2 5 3 0-5 0 5 1 2 5 0 1 1 1-3 2 2 1-1 3-1 0 3 3-4 1-3 0 4 1 1 0 2 2-2 2 1 1-7 2 6 1-7 1 4 0 2 0 2 2-1 0 1 1-3 1-4 1 1 1 4 0-1 0 3 1-6 1 5 1-6 0 2 0 5 1 1 2-5 0 4 2-7 0 0 0 2 1 4 2-3 1 3 0 1 1-8 1 3 0 3 2 1 2-6 0 4 0 4 1-9 0 6 1-2 1-1 0 4 1-6 2 6 1 2 3-7 0 0 0-2 0 5 1-3 0 3 1 0 1 3 2-8 1 7 2-1 1-4 1 1 0 1 2 4 1-3 1-1 3 2 1-2 0-2 0 5 1-7 1 4 1-3 2 4 1-2 0 6 1-4 4-2 4 6-102 1 0 1 1 4 1 1 3-6 3 9 1-1 1-1 1-1 1-4 1 4 0 1 1-6 2 6 2-6 0 8 2-4 0-1 1-3 0 7 0-3 1-5 1 0 2 4 0 4 1-4 1 5 1-5 1 1 1 3 2-1 2-7 0 2 0 5 1-2 1 4 1-5 0 5 1-7 2 1 0 5 3-8 1 9 2-2 1-4 2 0 1-1 0 4 1-3 1 6 1-9 0 9 1-3 0-1 1-1 3 2 1-3 0 3 3 0 0 0 1 1 1-6 1 1 1 4 1-1 4-5 0 2 0 6 1-8 0 6 1-4 0 3 0 4 2-3 2-3 1-3 0 5 1 0 1-1 1 3 1-7 1 2 0 2 2 0 0 2 2-5 1 6 1-5 0 5 0 1 0-1 1-7 1 5 1-2 0 6 2 0 3-9 0 2 0 1 1 3 1-6 0 2 0 5 1 1 3-2-123 9 3-5 26 9 1-2 2-6 2 3 0 1 2-5 0 2 0 7 1-6 1 5 1 1 1-3 1-1 1-3 0 3 0 3 1-6 0 3 2-1 1 1 1-3 0 2 3 4 1-6 1-2 1 8 1-6 0 7 2-4 2-5 0 8 2-7 0 0 1 0 0 2 2-3 0 3 0 4 1-7 1 7 0 0 1-1 1-3 1-1 2 5 0 2 1-9 0 4 2-2 1 0 0 1 0 5 1-6 3 7 2-3 0 1 1-7 0 5 2-2 1 6 1-9 0 9 1-3 2-1 0 2 2-6 0 0 0 7 0-1 1-2 0 0 2 3 1 1 4-9 0 3 1 1 0 5 1-8 0 6 1-2 0 2 1-1 1-1 1-1 1 4 1-5 1 0 1-2 1 3 0 2 0 3 1-8 5 5 1-4 0 2 1 4 1-2 1 0 0 2 0 1 1-9 0 1 1 2 0 0 1-2-104 9 11 0 1 7 0-1 2 1 2-5 1 1 1 4 1 1 1 1 2-9 0 3 0 0 2 3 0-1 1-5 1 5 0 4 1-2 1-3 0-2 3-2 0 7 0 2 1-8 3 2 1 2 3 2 1 0 1-4 1-2 0 2 0 4 0 2 1-7 0-2 2 4 3-2 0 3 0 1 1-6 1 1 1 7 1-4 1 2 2 3 0-1 2-8 0 7 1-2 1 2 1-7 1 7 0 0 1-7 3 2 0 0 0 6 1 0 2-5 0 6 2-6 1 0 0 6 1-4 0 3 1-8 0 6 1-6 2 7 3-2 0 2 0 2 1-5 0 3 3-7 0 5 0 0 2-2 0 2 2-2 2-1 1-2 0 7 0-1 1-3 1 1 1 5 2-2 0 1 1-7 0 3 5-1 0-1 0 5 0 1 2-8 0 9 1 0 1-6 2 2 0 3-94 4 2 2 1-4 0 2 2 1 0 3 1 1 2-7 0 2 1 2 1-1 1 3 1 1 1 2 1-7 0 2 3 3 0 2 0-1 2-3 1-4 0 0 2 3 1-2 0 6 1 1 1-1 2-5 1-3 0 6 0 2 1-2 1-3 0 3 2-4 1-2 2 8 1-8 0 3 1 5 3-4 0 2 0 2 1-7 0 0 0 6 3-3 0 0 2 4 1-8 0 9 1-5 0 4 1-2 1 3 2-6 0 1 0 1 1-5 0 2 3-2 3 1 0 4 0 4 1-5 0 4 2-6 0 1 0 3 3 1 2-5 1 3 3 3 1-8 0 8 1 1 0-3 3-5 0 5 1-6 1 3 0 3 3-5 0 0 0 4 1-2 2 4 1-7 0 5 1 4 1-7 1 6 1-5 1 3 2-6 2 0-91 11 2 0 0 5 1-6 2 2 1-2 1 1 0 5 0 0 1-4 0 6 1-5 6 0 2 5 2-6 0 6 2-5 0 4 2-2 2-5 0 8 1 0 1-8 3 3 0 2 3-3 0 1 0 3 3-4 0 0 1-2 0 4 1-2 3 3 1-1 0 3 5-2 1-4 2 0 1 1 2-1 3 4 0 0 1-5 1 6 1 1 0 1 1-1 1-5 0 2 1-4 2 2 3 5 0 2 2-6 0 5 2-8 2 5 0 0 2-4 0 5 2-5 0 8 1-4 1 0 1-4 3 3 0 5 2-7-79 11 8-1 1 2 0 5 1-4 0 2 1-4 0 5 2-8 0 3 3-3 0 7 2-7 1 8 0 1 1-3 0 2 1-6 1-2 1 9 1-5 2-1 0 0 1 5 2-2 0 1 1-6 0-1 0 6 1-6 0 6 3-3 0 6 1-4 1 4 2-3 2-5 1 3 3 0 1 3 0 2 1-9 1 2 2 7 0-2 1-3 2 5 0 0 1-1 2-8 0 2 0 2 2 4 1-5 0 3 1-4 1 6 1-3 1 3 2-5 2 0 2 1 4-4-63 14 4-4 0 1 4 3 4-4 1 3 3-3 2 3 1 0 1-1 1-2 3 5 1-1 7-2 3 1 1 0 0 4 4-2 4-1" style="marker:url(#ma2)"/><path d="m204 65 50 6-58 24 42 2-28 6-2 16 200 57 3 11 16-2 5 0-41 7 4 0 11 7 24-8-71 11 9 6 47 1 6-8 222 3-321 14 7-2 3 0 2-6 1 1 8 8 3-4 5-5 20 2 3 5 22-1 233 3 5-3 10-3 31 4 12-5-381 16 3 1 3 0 4-9 4 7 9-5 2 6 3-2 8 3 6-3 4 0 12-6 0 3 6 3 5 3 8-4 259-3-342 8 2 8 5-8 4 2 3 2 2 2 3-4 5 4 9-4 2-1 3 6 1-4 1 6 1-6 4 3 2-6 0 5 3-5 8 4 13 2 3-6 208 9 27-5 6-3 7 5 20-4-334 8 1 0 1 0 5 8 1-2 1 0 2-4 2 1 1 0 3 5 4-5 3-1 6 0 2 4 3 3 1-2 2-4 2 5 6-5 4 1 2 2 4-6 1 3 4-2 1 1 4 0 1-1 3 7 4 1 1-2 1-5 3-1 193 3 66 1-401 8 22 2 19-1 57-2 1 6 1-7 2 4 1-4 0 6 2-1 4-2 5 4 2-5 3-2 0 7 1-4 0 0 2 0 0 0 0 3 1-5 0 5 1-6 0 2 0 6 3-2 1-1 4-5 1-1 3 9 282-4-486 5 5 7 139-6 15 2 1 6 5-4 1-5 0 2 1 2 0 2 3-2 1 4 2-8 2 7 2-3 0 1 1 1 3-3 4 2 0 3 1-1 0 1 1-8 1 6 4-4 0 2 1-2 0 3 0-2 1-3 0 7 0-3 2 3 3 0 1-7 0 5 1-2 1-3 1 9 1-9 1 3 0 3 309 3-543 4 84-1 5 4 13-6 59 8 15-2 0-3 15 0 1 1 4-4 0 0 0 2 1 0 0 6 1-5 2 6 0-1 1-2 1-2 0-3 0 2 1 2 2-2 1-2 0 0 1 5 1-1 0 3 1-8 1 7 2-7 0 2 1 2 0 3 1-4 0 1 2 1 2 0 0 3 2 1 1-4 1-1 1 3 1-6 1 5 0 3 2-9 2 1 0 8 1-9 0 8 1-4 0 4 0 0 2-6 7 7 2-3 4 1 126-2 159-4-549 14 184-4 4 8 3-3 1-5 0 6 2-7 0 1 0 6 1-3 4 5 3-2 2-3 2-3 2 2 4 4 1 2 1-3 0 1 0 1 2-7 5 8 1-8 0 3 2 3 1-3 0 4 1 1 2-7 1 3 3-3 0 3 0 0 1-1 1 3 5-7 1 8 5-7 0 7 1-6 2-2 0 8 2 1 1-4 2-2 0 1 0 1 2-5 1 9 3-4 1 2 1-3 2 4 0-4 1-4 0 8-73 5 1 6 1-8 0 4 3 0 1-2 0 4 0 1 1-5 1 2 0 0 2-5 0 6 6 0 2 0 2 3 2-5 3 5 1-5 0 4 1-2 2-1 1-5 0 2 0 4 1 2 1-5 0-3 1 7 1-4 0 6 4-7 8 5 4-6 0 1 0 1 1-3 0 1 0 4 0 3 4-7 0 2 1-1 0 5 1 1 1-4 1 1 1-2 1-3 0 1 2 2 1 2 3-3 1 0 0 1 1 6 2-4 2 0 1-1 3-2 0 7 1-5-285 12 49-3 16-1 24 7 111-8 5 3 3-4 0 3 4 1 2-3 1 0 1-1 1 7 0 1 0 1 3-6 1-3 0 3 1 3 2-1 6-4 0-1 3 8 1-2 4-4 0 2 1 4 1-2 1-2 0 4 2-7 1 6 11-6 1 5 2 1 1 0 3-2 0 3 1 0 1-4 1 0 0 4 1-3 1 1 2 1 2-5 0-1 0 8 1-8 1 0 0 3 2-3 1 7 1-6 0 1 0 6 0-2 1-4 3-1 0 4 3-1 2-4 1-1 0 6 3-1-277 5 68 2 0 6 112-2 5-6 0 0 0 7 5-6 1 6 2-5 1 7 1-9 4 6 1-1 2-3 0 1 0 5 2-8 0 5 0 4 0 0 3-7 9 7 1-6 1-2 1 4 1-1 0-3 2 5 2-1 2-5 0 2 1 4 2-1 1 4 1-3 0 2 2-8 3 9 4-1 7-3 2-4 3 6 1-2 2-1 1 3 0-3 1 2 5-5 5-1 2 2 0 4 2-2 0 2 0 3 1-9 2 7 1-7 3 1-278 14 103-2 16 3 33 3 25-6 17 1 0-1 0 2 2 1 0-6 3 4 0 5 1-1 3-7 1 0 0 2 0 5 2-3 4 1 1-1 0 4 0 0 1-9 2 7 3-7 5 5 2-4 0 1 0 1 0 0 10-3 0 5 1-2 0 0 1 0 1 0 2-3 8 1 0 6 1-1 1-1 2 1 1 1 2-4 0 1 1 0 1 0 1 1 1 3 1-2 1 2 1-6 6 0 4 0 1 2 1-4 0 2 1 7 2-2-192 8 49 2 44-2 14-4 3 6 2-5 0 5 1-3 1 1 2-3 1 5 0 1 0 0 3-6 0 1 0 2 1-2 3 3 1-2 1-3 0 7 3-5 0-1 2 7 3-8 3 8 6-1 1-5 0 3 4-4 1 1 3 3 2-4 2 3 4-4 0 4 0 2 1 2 1-2 1-4 1-2 1 3 1 2 1-4 0 3 0 2 1-6 1 0 2 4 1-4 0 1 1 2 1-2 1 7 8-4-129 11 24 1 17 0 15-4 2 5 1-4 1-2 2 2 0-1 0 4 2-6 2 4 0 2 3 1 1-4 1-3 1 1 0 6 0-2 2-5 1 7 1-1 1-4 4 4 2-7 1 9 1-8 0 3 4-1 0 6 1-8 0 0 3 1 0 1 0 2 0 3 3 0 1-1 1 2 3-5 2-3 2 0 5 2 4 6 1-8 2 6 1-7 0 8 1-6 9 4-68 4 3 5 0 0 0 3 2-2 1-3 3-1 1-1 0 7 1 1 1-6 1 5 1-8 0 7 1-6 0 8 1-4 0 4 5-4 0 3 1-1 1-1 1-2 1 4 1-1 1-6 1 5 2-4 1 5 2-4 1 6 2-7 0 7 0 0 1-3 3 0 0-2 3 1 0 4 1-9 3 1 5 8 1-2 2-3 4 0 2-3 0 4-264 12 173-6 33-1 2 5 1 3 2-8 2 3 0 4 1-7 0 0 0 8 2-5 0 5 0 0 5-7 1 1 1 2 0 5 0-3 2 0 1-4 3 6 1-6 0 0 0 3 0 3 1-3 1 1 2-3 3 2 0 3 1 1 2-2 1-5 0 5 1-1 2-4 0 7 2-6 0 6 3-5 1 1 4 1 3 0 2-5-165 10 94 1 10 0 16 2 0-2 1-2 1 0 1 0 1 1 4 5 1-2 0 0 1-2 0 7 1-7 1 1 1 5 1 0 2-8 3 4 0 4 1 0 1-8 0 4 2 1 1-5 0 5 1-4 0 8 2-9 0 8 1 1 2-5 1 0 2 0-128 13 101-7 5 4 0 0 1-3 4 2 3 0-186 13 290 1-118 9 142-2-188 9 175-3-280 29 137-4-171 10-27 23 155 2-80 16 82 1-101 5" style="marker:url(#ma3)"/><path d="m381 167 5 1 3-1 2-1 2-1 0 4 4 0 2-3 1-4 1 2 3 1 1-1 0 3 1 2 2-3 2 2 1 1 3 0-50 8 3 2 4-2 1 1 1-6 1 7 2-3 2-6 0 8 1 1 2-7 0 4 1 0 2-2 1-2 0 3 2-3 2 6 0 1 1-4 0 3 1-6 0 6 1-5 0 3 1-3 1 0 1-3 0 9 1-7 0 5 1-5 0 2 1 4 2-3 2 0 1-4 0 2 0 3 1-6 1 7 1-4 0-1 2-1 1 8 0-1 2 1 4-9 1 0 1 1 0 2 1-2 1 5 2-6 5 8-68 11 1-2 1-3 3 4 0 1 2-4 1 0 1-4 1-1 0 4 1 1 2 2 2-6 0 7 1-3 1 2 1-4 1 5 1-4 0 2 0 3 3-7 1-2 0 8 1-2 1-1 1 4 1-9 0 2 0 7 2-4 2-5 0 2 0 1 1 2 1-5 0 8 1-5 1 3 3 1 0-1 1 3 6-3 1 1 1 2 2-7 0 3 0 2 2-2 2 3 2-7 0 2 1-2 0 6 0 2 3-7 4 2 2 5 1-7 4 4 0 1 3 1-186 6 6-2 3 1 35 1 13 5 26-6 21 6 3-3 1 3 1-4 3-1 0-3 2 1 1 3 1-3 0 6 2 0 0 1 2-9 1 5 1 0 0 2 1-4 2 3 1-2 1 2 1-6 0 4 0 4 3-3 2 2 1-7 0 7 1-6 0 4 0 3 1 0 2-1 1-1 3-6 0 9 0-2 1-7 0 4 0 3 3 0 1-3 2 3 1-2 2-3 0 5 2-5 0 0 2 4 1-3 1-2 0 7 1-7 0 4 0 3 1-4 2 3 0 2 2-2 1-5 1 7 1-5 2-1 0 0 0 3 1 0 1-5 2 6 1-5 0 2 0 0 3 0 0 0 0 3 4-5 0-1 0 6 1-5 1-1 1 5 1 3 1-4-87 12 1-4 0 5 5-8 3 9 2-7 0 3 2-5 0 1 1 5 5-6 4 6 1-6 0 5 1-5 0 3 1 0 1 6 1-2 2-7 0 2 1 1 1 3 2 1 1-7 1 8 1-6 0 6 1-6 1 2 0 4 1-4 2-2 1 1 1 4 0-1 1 1 1-4 2 4 1-4 0 1 1-4 1 6 2-1 0 2 1-4 1 6 1-1 1-1 1-6 2 8 1-3 1-6 4 0 0 1 0 4 2 4 1-9 0 7 2 2 0-3 2-6 0 5 0 1 1-3 0-2 2 1 0 5 1-6 3 2 0 4 1-4 2-1 0 1 0 3 3-6 1 8-107 6 0 3 2-1 0-4 0 2 1 4 2-2 0 2 7-5 0 1 8 0 2 0 1-4 2 0 1 6 1 0 2-1 1-2 1 5 1-5 1-3 1 3 1 1 5 5 1-8 0 4 0 3 1-8 0 8 1-4 2 0 1 3 0 1 2-3 1-2 0 6 2-6 1-1 0 6 4 1 1-6 0 4 0 2 1-9 1 2 1-2 0 9 2-9 0 9 1-9 0 4 0 0 0 2 2 2 3-5 1 6 1-8 0 5 0 1 1-6 0 5 1-6 1 8 1-1 1 2 1-7 0 4 1-2 0 4 2-4 1-2 1 4 1-6 0 7 1-3 0 1 1-4 1 2 1-3 0 6 0 3 2-7 0 7 3-7 1-1 0 3 1 1 0 3 1-1 0-2 1 4 1-7 1 1 1-3 0 0 0 6 2-6 2 1-125 16 1-5 8 4 1-1 5 3 2-6 0-1 5-1 1 8 9 1 1-8 5 0 1 1 3 0 4 6 2 1 5-4 0-2 2-3 0 1 1 2 3 6 3-5 0-2 0 2 1 3 1-4 0 3 4-6 0 0 0 2 2 3 3-1 1-3 0 8 2-4 0 2 4-3 1 0 3 4 1-7 0 2 1-2 0 7 0-1 1-7 4 1 2 4 2-1 0 4 1-6 0 3 2 4 0-1 2-6 1-2 0 2 0 2 1 5 3-5 1 0 0 4 0-1 3-3 1 1 2-3 0 2 1 2 0-4 4 1 2-2-116 17 0 0 1-4 1 3 4-4 1-2 1 5 2 0 1-1 0 2 0-7 0 4 4 0 1 4 3 1 5-9 0 8 2-8 0 8 7-7 4 0 3 6 0-5 1 6 8 0 0-6 11 0 0 7 0-1 1-3 4-5 4 5 1-1 1-4 2 3 0-3 0 4 1-1 2 1 2-3 4 7 8-7 5 2-85 10 1-3 6 6 1 1 3-7 2 1 0 2 3 5 1-4 0 2 0 2 4 0 3 0 0-7 0-1 7 5 6-3 5-2 1 8 1-1 2-6 2 6 2-7 1 9 3-9 1 4 0 2 1 1 2-5 3 3 2 2 10-2-68 7 1-1 1-1 10 0 1 5 2-5 7 4 0-3 10 3 10-1 19-3 4 1" style="marker:url(#ma4)"/><path d="m224 48 0 0 2 0-16 4 0 4 0 0 1 1 0 0 2 2 2-3 0 0 1 3 1-8 2 4 0 2 1-6 0 1 0 5 0 1 0 0 2 0 1-4 1 1 0 3 1-7 2 1 0 4 0 2 0-3 3-2 1-2 0 5 2 0 1-3 0 2 2-4 0 5 1-4 1-2 2 3 0 2 0 2 1-6 1 3 1 1 1 3 1-1 1 1 1-4 0 5 3-1 2-1-57 11 1-1 1 0 1-3 2 3 2-4 1 5 0-3 1 4 1-6 0-3 0 5 1-5 2 3 0 4 1-1 2-4 0 5 1-6 0-1 1 8 2-6 1 4 0 2 1-1 0-2 1 1 1-2 2 4 3-2 2-5 0 4 0 3 1-8 0 6 2-6 1 3 1-3 1 2 0-1 2 4 1-5 0 9 1-4 2 1 1-3 0 5 1-6 1 0 0 5 1-1 0-2 3-2 0 1 1 5 1-2 3-2 1-1 1 4 1-5 2 1 1 0 0 2 1-2 0 4 1-1 2-1 2 3 1 0 2-3-76 13 0-1 0 2 3-6 2 2 2-1 1-3 0 7 1 0 1-3 3-1 1-4 2 6 0 3 1 0 1-8 0 2 0 2 1-3 0 6 1 0 1-5 1-2 0 2 0 2 2-3 0 7 1-7 0 3 2 4 1-6 0-1 1 4 0 3 2-4 0 3 2-8 0 0 0 1 0 5 0 0 2-1 1-2 0 2 4-2 1-2 0 0 0 4 0 4 2-4 0-1 3-1 0 0 0 1 1-3 1 7 2-7 0 1 0 2 1-3 2-1 0 7 1-5 0 2 0 4 1-7 1 0 3 5 0 3 1-4 0 0 1-2 1 0 1-3 0 4 1 0 1-4 2 1 0-1 0 7 2-3 0 1 0 1 3 2 1-1 1-2 0-1 1-4 2 0 0 1 1 8-84 7 1 1 2-3 0 5 1-8 0 6 0 2 1-2 4-4 1 6 2-8 0 3 0-2 0 4 3-6 2 0 1 6 1-5 0 7 1-3 1 1 0 2 1 1 2-8 1 1 0 1 2 3 0 2 1-6 1 6 1-4 1 1 0 4 1-6 0 5 3-6 1 6 1-5 0 5 1 1 1-7 0 3 1-2 0 4 2-4 1-2 0 1 0 2 0 3 2 0 0-1 1-4 1-1 1 7 1-2 1-4 0 3 1-5 2 0 0 5 1 0 0-4 1 2 1 6 1-5 1 3 2-2 2-5 0 3 1 2 0 3 0 0 2-7 0 4 0-3 0 7 1-7 1-1 4 2 0-3 1 0 1 0 0 6 1 1 1-4 0 2 0 3 1 1 2-5 0 1 2-1 1 0 1-4 0 6 1-5-89 17 2 1 1-4 1-2 0 5 0 1 2-2 1-6 0 1 0 1 1 0 1 3 1-6 1 4 1-1 1 1 2 2 1-3 0 1 2-3 1 3 1-4 0 5 0 0 2 4 1-9 0 3 0 0 0 3 2 0 2-6 1 1 1 8 1-7 1 3 0 4 0-2 1-7 0 4 2 2 1-1 1-2 2 0 1-1 0 6 1-3 3-1 0 2 0 1 2-6 0 7 1-2 3-2 0 0 1 1 0 4 2-6 0 0 0 5 2-8 0 6 1-2 2-3 0 2 1 2 0 3 1-8 0 6 1 3 2-8 0 7 1-4 2 0 1-4 0 4 0 1 0 4 0-9 1 0 1 5 1-3 1 3 0 4 2-6 0 0 0 5 0 0 1-2 3 3 0-9 2 3 0 1 1 1 1-4 5-1-86 17 2-2 0 3 2-2 1-6 1 2 0 6 2-8 0 2 0 4 1-6 0 6 1 0 0 1 1-2 3-5 0 6 1-4 0 6 1-6 3-1 0 0 1 0 0 3 0 5 1-3 2-4 0 6 2-5 1 0 1 6 2-9 0 0 0 6 1-3 0 6 4-4 1-1 1 5 1-8 1-1 1 2 0 1 0 4 1 1 1-4 1-3 1 1 2-2 0 4 0 4 1-4 4-4 1 2 0 3 0-1 1 4 2-5 0-3 1 3 1 2 0 4 1-8 0 6 0 2 1-9 0 1 0 4 1-2 1 0 4-2 1 1 0-2 1 2 2-1 1 3 2 3 0-5 2 7 5-1 4-5 13 2-97 12 3-3 2-4 1 3 1 5 1-4 1-1 1 1 1-4 0 9 1-6 0 0 0 6 3-8 1 4 1 0 1 3 1 0 1-8 0 0 1 8 1-8 0 2 1 4 1 0 2-6 0 2 0 1 0 3 1-3 1 6 1-5 0 5 2-3 0 1 1-7 0 9 1-9 1 2 0 4 3 0 1-5 1 1 0 3 0-1 0 5 1-6 1 4 0 2 2-8 2 8 0-1 3-7 0 7 1-8 0 1 0 5 1-3 0 0 1-3 0 5 1 4 2-9 3 2 12 2 11-4 6 4-83 11 1-2 0-2 0 1 1-1 0 2 1-3 0 3 3 1 0 2 1 2 1-4 0 2 1-6 0 3 2 4 2 0 1-3 1-1 0 4 2-6 0 7 1-6 1 1 0 6 1-2 0 0 2-3 0 3 3-6 1 7 1-5 1 6 0 0 1-2 0 0 2-3 0-3 1 4 0-1 0 5 2-9 1 1 0 8 0 0 2-3 1-6 0 7 1-4 1 0 2-1 1 1 1 1 0 2-33 4 7 1 3 2 4-2 1 2 2 1 1-1 4-2 1 0 3-1 0 1 1-1 2 0 420 86 1-1-25 14 4-4 15-1 2 5 5-5-55 14 37 1 18-4 1-4-73 12 12-3 4 1 50-1-91 17-18 16" style="marker:url(#ma5)"/><path d="m260 148-25 2 6 8 9-5 4 5-1 4 6 4 2 1-10 11 7 1 4-2 43-2-77 12 8-2 2 2 0 0 1-4 0 2 3-2 2-1 0 2 0 5 1-1 1 0 0-4 0 0 1 5 1 0 1-1 0-2 0-6 1 9 1 0 1-6 3 1 5-1 3 5 0-5 2 4 0 0 4 2 2-3 1-3 1 5 2-5 5 1 4 0 1 4 2-2 0 3 1 0 2-3 7 3 3-7 1 6 0 1 1-1 2-2 4 2 4 1 3-2 1 0 9-1 1 3 0-1 1 1 5-3-102 12 9-3 2 3 1 1 1-4 0 2 0 1 0-5 1-1 1 4 1-5 1 1 0 4 2-3 2 6 0-3 1-6 3 7 0-3 1-1 3 5 1-7 0 6 1-1 0 1 5-6 1 5 1 0 1-5 1 3 3-3 3-1 0 6 1-4 1 5 0-6 1 5 0 0 0 0 1 3 3-7 5 5 2-6 3 6 0-3 1-2 1 7 0-8 0 3 1-2 3 4 1-6 1 0 1 8 1-7 2-1 0 4 1 0 1 0 0-2 1 0 4 0 0 4 1-6 0 2 1 7 1-6 0-2 3 2 1 2 1 0 2-1 3-1 0 0 1-1 1 2-110 12 19-6 3 1 3 0 0 2 1-2 2 1 1 1 0-3 2 4 0 0 0 1 0 4 3-5 2 5 4-5 3 3 0 2 1-9 1 8 1-3 1-4 1 3 1 0 0 0 2 2 1-4 1 3 0-4 1 5 1 0 0-4 1 0 1 6 2-7 1 6 1 1 0-3 0 3 0-7 1-1 1 7 0 0 1-5 1 1 1 0 3 0 0-3 0 0 1 0 0 5 1-5 6 5 1-4 3-1 1 3 5-3 6 4 15-3-74 18 7-6 2-1 1-1 5-1 1 0 5 6 4-6 16 1-28 11 4 4 13 6 7-1 3 3 14-4 15 6 29-4 26 14-165 10 17-5 109-1-126 30 15 6 83 43-72 26-46 8 5 13 20-6 67 9 31 39-56 19 78 6-38 13 4 27-21 21 38 0-20 6-6 12 42 8-7 11-41 17 19-6 22 3-8 10 7-3" style="marker:url(#ma6)"/><path d="m228 90-49 158 13 0-31 11 6-2 3-4 1-3 2 3 2-3 0 1 1 1 1 2 2 4 1-2 2-3 5 5 2-7 0 4 2 1 0-4 1 7 2-6 2 1 38-1-80 14 5-7 3 9 1-7 1 3 0 4 1 0 2-6 0 3 0 0 1 1 1-1 0 0 0 0 2-4 1 6 1 1 7 0 1-9 2 0 0 5 1-4 2 2 0-2-44 18 1-4 2 3 2 0 1-3 1 1 1 3 4-7 1 6 9-8 1 2 5-2 2 0 0 2-48 17 0-2 1 0 2-4 1 6 3-1 0-3 1 1 7 1 0 0 1-5 2 6 0-8 5 3-31 12 2 4 1-6 2 2 0 2 3-3 0-1 1-1 1 5 3-1 2-3 4 1 1 0 0-2-22 9 5 1 1 4 0-3 1 2 0 2 0-1 1-4 4 4 2 1 0-3-13 12 3 0 1-3 1 1 0 4 0-1 1 0 2-3-6 7 1 3 2 5 1-4 0-1 2 2 2-3-5 8 101 6 23 19 61 15 158 25 11 3-11 6 6-4 5 6 14-2-148 6-53 54" style="marker:url(#ma7)"/><path d="m531 258 6 0-13 7 1 4 0-1 5-7 4 2-30 12 4 3 8-6 1 0 2 0 0 2-23 12 1-5 8-1" style="marker:url(#ma8)"/><path d="m666 199-30 8 2-3 1 3 3 2 0 0 2-2 0-4 1 1 1 5 0-1 0-3 0-3 1 2 1 2 0-5 0 0 0 5 1 0 1-2 2 0 0 5 2-1 0-3 0 4 2-5 0 0 3 5 1 0 0-8 2 3 1 5 2-3 0 0 1 3 2-2 0-3 1-3 1 2 1-1 1 2 0 5 0-3 2-1 4 4-50 10 1-2 2-1 1-1 0-5 2 4 1 2 4 3 0-2 2-3 1 4 0-3 0-3 1 0 0 4 1-4 2 7 1-8 1 5 0-4 0 2 3-3 0 0 0 8 1-3 1-1 0-2 0-1 4 7 0-8 0 1 1 6 1-3 0 4 1 0 1-3 5 0 1-4 1 1 0 2 1-3 1 6 2-8 1 7 1 0 2-7 0 6 1 0 0-5 1 3 1 2 1-6 0 7 1-6 0 3 0-1 0 2 1 2 0 1 1-4 1 0 0-4 0 3 1 4 1 1 1 0 0-4 0 3 2 1 3 0-80 8 3 1 4 2 2-9 1 2 0 7 1-7 0 3 1-4 1-1 1 9 3-4 2-1 0 2 0 2 1-7 1 6 0-7 4 9 1-4 2-2 0 0 2 3 0-5 2 5 0 3 1-4 1 1 0 3 2-3 0 0 1 2 1 1 0 0 3-7 1-1 0 6 0 0 1-2 0-3 1 2 0-2 0 1 0 6 3-3 2 1 3 0 0-1 1-5 3-1 1 9 1-7 1 2 1 3 0 2 1-1 0-6 0-1 0-1 1 0 0 7 0-5 1 1 0 3 3-3 0-2 0-1 2 5 0 0 0 0 0-4 0 5 1-6 0 0 0 1 0 8 0-7 0-2 2 9 0-2 0-7 2 2 1 1 0 6 2-7 1 1 1 0 0 1 0 3 0 1 4-4-134 15 12 0 13 0 1-7 1 4 10 3 1-1 3-4 0-2 0 7 3-7 0 2 3 2 0 0 1 2 1-8 2 7 1 1 2-3 2-5 3 5 2 1 1-3 1 1 0-2 2 5 1-7 1 2 1 6 0 0 1-6 2 3 0-5 1 5 0 2 5 1 2-6 0 5 0 2 0-9 0 5 1 2 1-6 0 7 1-6 0-1 1-1 0 0 1 9 1-7 2 6 1 0 1-1 5-3 0-3 1 8 0-5 2-3 0 5 0 0 3-1 1-2 0 3 1 1 0-7 5 0 3 5 0 4 0-2 1-1 0-5 1 0 1 0 1 0 1 0 0 0 1 5 0 3 1-9 1 9 1-9 1 7 0 2 1-8 0 3 0 3 1-1 1 1 1 1 1-3 1 0 0-3 2-1 0 6 0-6 1 6-144 12 8-5 1 4 0-1 4-4 0-1 0 5 1-7 0 6 1-4 2 4 5-6 2 3 4 0 1-2 20-1 7 0 5 1 28-1 5 1 3 7 0 0 1-3 0 0 1 4 3-6 0 4 0-5 0 6 3 1 0-4 1 4 0-6 1 3 4-6 1 9 1 0 1-9 0 9 3-1 1-4 0 5 4-2 0-5 0 1 1 4 1-7 1 5 0 0 1-3 0 1 2 1 1 1 1-4 0 2 1-1 1 2 0 4 2-5 2 5 0 1 3-7 0 5 0 1 1-2 1-1 2-1 1 5 1 0 2-9-153 17 6-5 2 1 102-3 3 3 2 1 1 0 0-1 1-3 2 6 0 3 1-7 0 1 0 4 1-6 1 2 1 4 3-2 0-4 3 6 1-6 1 1 0 6 0-5 2 0 0 0 1 2 0 3 2-3 6-2 1 1 0-4 0 1 1 2 1-3 1 0 1 7 0 1 0-3 0 3 3-5 0 1 1 3 1-6-35 10 1 0 2-1 1 3 1 0 0 2 1 1 1-4 1 0 0-2 1 1 6 0 1 1 0-2 1 9 0-3 1 2 1-1 1-2 0-4 1 5 0-1 3 1 0 2 5 1 1-5 1-1 1-2 3-1 1 1-25 9 1 4 1-4 0 0 3 5 1 0 1-4 0 6 3-6 1 1 1-2 2 4 0 3 1-1 0 0 0 1 2-6 7 2" style="marker:url(#ma9)"/><path d="m454 398 4 0 1-4 1 5 1-5 0 2 2 2 4 1 0-2 2-3 1 4 0-2 3 1 6 1 1 1-21 2 2 1 1 6 1-8 0 6 0-1 1 4 1-8 0-1 1 1 7 4 2-4 0 7 0 0 5-4 0 3 1 1 1-7 2 2 0-3 1 6 1 1 5-3-27 6 10 0 2 1 3-1 6 1 2-1" style="marker:url(#ma10)"/></g>
<text x="5.3" y="9" font-size="12.5" font-weight="bold">a</text><text x="149.5" y="21.7" font-size="8.7">Treg</text><line x1="149" y1="22.5" x2="130.4" y2="31" stroke="#000" stroke-width="1.1"/><text x="158.5" y="57.6" font-size="8.7">IFN-responsive</text><line x1="176.3" y1="61" x2="143.5" y2="93.2" stroke="#000" stroke-width="1.1"/><text x="226.2" y="75.1" font-size="8.7">Dysfunctional</text><line x1="227.3" y1="77.6" x2="212" y2="87.4" stroke="#000" stroke-width="1.1"/><text x="260.2" y="111.5" font-size="8.7">Tfh</text><line x1="265.8" y1="113" x2="262.2" y2="132.8" stroke="#000" stroke-width="1.1"/><text x="304.8" y="62.8" font-size="8.7">Proliferative</text><line x1="325.3" y1="66.8" x2="326.7" y2="103.2" stroke="#000" stroke-width="1.1"/><text x="47" y="99.5" font-size="8.7">T-B-cell</text><line x1="64" y1="102" x2="82" y2="129.3" stroke="#000" stroke-width="1.1"/><text x="221" y="173" font-size="8.7">Pre-dysfunctional</text><line x1="201.5" y1="164.5" x2="218.6" y2="168.9" stroke="#000" stroke-width="1.1"/><text x="210" y="237" font-size="8.7">Transitional</text><line x1="132.3" y1="193.2" x2="204.2" y2="228.8" stroke="#000" stroke-width="1.1"/><text x="203" y="285.5" font-size="8.7">Memory</text><line x1="174" y1="272.2" x2="201" y2="281.4" stroke="#000" stroke-width="1.1"/><text x="44.4" y="275.5" font-size="8.7">Naive-like</text><line x1="68.9" y1="234.7" x2="61.9" y2="264.5" stroke="#000" stroke-width="1.1"/><text x="40" y="295" font-size="8.7">UMAP_1</text><line x1="75" y1="291.6" x2="96" y2="291.6" stroke="#000" stroke-width="1.2"/><path d="M103 291.6 L94 287.4 L94 295.8Z"/><text x="36" y="283" font-size="8.7" transform="rotate(-90 36 283)">UMAP_2</text><line x1="33.8" y1="244" x2="33.8" y2="222" stroke="#000" stroke-width="1.2"/><path d="M33.8 214 L29.6 223 L38 223Z"/><circle cx="273" cy="192.8" r="2.1" fill="#f27c72" stroke="#915651" stroke-width="0.5"/><text x="281.7" y="195.8" font-size="8.7">Naive−like</text><circle cx="273" cy="201.5" r="2.1" fill="#e08e16" stroke="#885f23" stroke-width="0.5"/><text x="281.7" y="204.5" font-size="8.7">Transitional</text><circle cx="273" cy="210.2" r="2.1" fill="#afa318" stroke="#706a24" stroke-width="0.5"/><text x="281.7" y="213.2" font-size="8.7">Memory</text><circle cx="273" cy="218.9" r="2.1" fill="#64bc14" stroke="#4a7622" stroke-width="0.5"/><text x="281.7" y="221.9" font-size="8.7">Treg</text><circle cx="273" cy="227.6" r="2.1" fill="#3bb842" stroke="#367439" stroke-width="0.5"/><text x="281.7" y="230.6" font-size="8.7">IFN−responsive</text><circle cx="273" cy="236.3" r="2.1" fill="#4ccab0" stroke="#3e7d70" stroke-width="0.5"/><text x="281.7" y="239.3" font-size="8.7">Tfh</text><circle cx="273" cy="245.0" r="2.1" fill="#5cc4e4" stroke="#467a8a" stroke-width="0.5"/><text x="281.7" y="248" font-size="8.7">Pre−dysfunctional</text><circle cx="273" cy="253.7" r="2.1" fill="#64a0da" stroke="#4a6885" stroke-width="0.5"/><text x="281.7" y="256.7" font-size="8.7">Dysfunctional</text><circle cx="273" cy="262.4" r="2.1" fill="#ab8ae0" stroke="#6e5d88" stroke-width="0.5"/><text x="281.7" y="265.4" font-size="8.7">Proliferative</text><circle cx="273" cy="271.1" r="2.1" fill="#ce72d2" stroke="#7f5181" stroke-width="0.5"/><text x="281.7" y="274.1" font-size="8.7">T−B−cell</text><circle cx="273" cy="279.8" r="2.1" fill="#e8609f" stroke="#8c4868" stroke-width="0.5"/><text x="281.7" y="282.8" font-size="8.7">unknown</text>
<g fill="none" stroke-width="1" shape-rendering="crispEdges"><path d="M412 74.5h26m2 0h53m2 0h27m2 0h20m2 0h5m3 0h2m2 0h25m2 0h17m2 0h13m-205 1h26m2 0h53m2 0h27m2 0h20m2 0h5m3 0h2m2 0h25m2 0h17m2 0h13m-205 9h26m2 0h53m2 0h27m2 0h20m2 0h5m3 0h2m2 0h25m2 0h17m2 0h13m-205 1h26m2 0h53m2 0h27m2 0h20m2 0h5m3 0h2m2 0h25m2 0h17m2 0h13" stroke="#2c4c9c"/><path d="M412 30.5h26m2 0h53m2 0h27m2 0h20m2 0h5m3 0h2m2 0h25m2 0h17m2 0h13m-205 1h26m2 0h53m2 0h27m2 0h20m2 0h5m3 0h2m2 0h25m2 0h17m2 0h13m-205 21h26m2 0h53m2 0h27m2 0h20m2 0h5m3 0h2m2 0h25m2 0h17m2 0h13m-205 1h26m2 0h53m2 0h27m2 0h20m2 0h5m3 0h2m2 0h25m2 0h17m2 0h13m-205 5h26m2 0h53m2 0h27m2 0h20m2 0h5m3 0h2m2 0h25m2 0h17m2 0h13m-205 1h26m2 0h53m2 0h27m2 0h20m2 0h5m3 0h2m2 0h25m2 0h17m2 0h13m-205 162h26m2 0h53m2 0h27m2 0h20m2 0h5m3 0h2m2 0h25m2 0h17m2 0h13m-205 1h26m2 0h53m2 0h27m2 0h20m2 0h5m3 0h2m2 0h25m2 0h17m2 0h13" stroke="#4367b0"/><path d="M412 28.5h26m2 0h53m2 0h27m2 0h20m2 0h5m3 0h2m2 0h25m2 0h17m2 0h13m-205 1h26m2 0h53m2 0h27m2 0h20m2 0h5m3 0h2m2 0h25m2 0h17m2 0h13m-205 19h26m2 0h53m2 0h27m2 0h20m2 0h5m3 0h2m2 0h25m2 0h17m2 0h13m-205 1h26m2 0h53m2 0h27m2 0h20m2 0h5m3 0h2m2 0h25m2 0h17m2 0h13m-205 7h26m2 0h53m2 0h27m2 0h20m2 0h5m3 0h2m2 0h25m2 0h17m2 0h13m-205 1h26m2 0h53m2 0h27m2 0h20m2 0h5m3 0h2m2 0h25m2 0h17m2 0h13m-205 6h26m2 0h53m2 0h27m2 0h20m2 0h5m3 0h2m2 0h25m2 0h17m2 0h13m-205 1h26m2 0h53m2 0h27m2 0h20m2 0h5m3 0h2m2 0h25m2 0h17m2 0h13m-205 4h26m2 0h53m2 0h27m2 0h20m2 0h5m3 0h2m2 0h25m2 0h17m2 0h13m-205 1h26m2 0h53m2 0h27m2 0h20m2 0h5m3 0h2m2 0h25m2 0h17m2 0h13m-205 7h26m2 0h53m2 0h27m2 0h20m2 0h5m3 0h2m2 0h25m2 0h17m2 0h13m-205 1h26m2 0h53m2 0h27m2 0h20m2 0h5m3 0h2m2 0h25m2 0h17m2 0h13m-205 15h26m2 0h53m2 0h27m2 0h20m2 0h5m3 0h2m2 0h25m2 0h17m2 0h13m-205 1h26m2 0h53m2 0h27m2 0h20m2 0h5m3 0h2m2 0h25m2 0h17m2 0h13m-205 11h26m2 0h53m2 0h27m2 0h20m2 0h5m3 0h2m2 0h25m2 0h17m2 0h13m-205 1h26m2 0h53m2 0h27m2 0h20m2 0h5m3 0h2m2 0h25m2 0h17m2 0h13m-205 7h26m2 0h53m2 0h27m2 0h20m2 0h5m3 0h2m2 0h25m2 0h17m2 0h13m-205 1h26m2 0h53m2 0h27m2 0h20m2 0h5m3 0h2m2 0h25m2 0h17m2 0h13m-205 83h26m2 0h53m2 0h27m2 0h20m2 0h5m3 0h2m2 0h25m2 0h17m2 0h13m-205 1h26m2 0h53m2 0h27m2 0h20m2 0h5m3 0h2m2 0h25m2 0h17m2 0h13m-205 22h26m2 0h53m2 0h27m2 0h20m2 0h5m3 0h2m2 0h25m2 0h17m2 0h13m-205 1h26m2 0h53m2 0h27m2 0h20m2 0h5m3 0h2m2 0h25m2 0h17m2 0h13m-205 7h26m2 0h53m2 0h27m2 0h20m2 0h5m3 0h2m2 0h25m2 0h17m2 0h13m-205 1h26m2 0h53m2 0h27m2 0h20m2 0h5m3 0h2m2 0h25m2 0h17m2 0h13m-205 7h26m2 0h53m2 0h27m2 0h20m2 0h5m3 0h2m2 0h25m2 0h17m2 0h13m-205 1h26m2 0h53m2 0h27m2 0h20m2 0h5m3 0h2m2 0h25m2 0h17m2 0h13m-205 3h26m2 0h53m2 0h27m2 0h20m2 0h5m3 0h2m2 0h25m2 0h17m2 0h13m-205 1h26m2 0h53m2 0h27m2 0h20m2 0h5m3 0h2m2 0h25m2 0h17m2 0h13" stroke="#628bc8"/><path d="M412 36.5h26m2 0h53m2 0h27m2 0h20m2 0h5m3 0h2m2 0h25m2 0h17m2 0h13m-205 1h26m2 0h53m2 0h27m2 0h20m2 0h5m3 0h2m2 0h25m2 0h17m2 0h13m-205 1h26m2 0h53m2 0h27m2 0h20m2 0h5m3 0h2m2 0h25m2 0h17m2 0h13m-205 1h26m2 0h53m2 0h27m2 0h20m2 0h5m3 0h2m2 0h25m2 0h17m2 0h13m-205 15h26m2 0h53m2 0h27m2 0h20m2 0h5m3 0h2m2 0h25m2 0h17m2 0h13m-205 1h26m2 0h53m2 0h27m2 0h20m2 0h5m3 0h2m2 0h25m2 0h17m2 0h13m-205 5h26m2 0h53m2 0h27m2 0h20m2 0h5m3 0h2m2 0h25m2 0h17m2 0h13m-205 1h26m2 0h53m2 0h27m2 0h20m2 0h5m3 0h2m2 0h25m2 0h17m2 0h13m-205 1h26m2 0h53m2 0h27m2 0h20m2 0h5m3 0h2m2 0h25m2 0h17m2 0h13m-205 4h26m2 0h53m2 0h27m2 0h20m2 0h5m3 0h2m2 0h25m2 0h17m2 0h13m-205 1h26m2 0h53m2 0h27m2 0h20m2 0h5m3 0h2m2 0h25m2 0h17m2 0h13m-205 5h26m2 0h53m2 0h27m2 0h20m2 0h5m3 0h2m2 0h25m2 0h17m2 0h13m-205 1h26m2 0h53m2 0h27m2 0h20m2 0h5m3 0h2m2 0h25m2 0h17m2 0h13m-205 9h26m2 0h53m2 0h27m2 0h20m2 0h5m3 0h2m2 0h25m2 0h17m2 0h13m-205 1h26m2 0h53m2 0h27m2 0h20m2 0h5m3 0h2m2 0h25m2 0h17m2 0h13m-205 3h26m2 0h53m2 0h27m2 0h20m2 0h5m3 0h2m2 0h25m2 0h17m2 0h13m-205 1h26m2 0h53m2 0h27m2 0h20m2 0h5m3 0h2m2 0h25m2 0h17m2 0h13m-205 1h26m2 0h53m2 0h27m2 0h20m2 0h5m3 0h2m2 0h25m2 0h17m2 0h13m-205 1h26m2 0h53m2 0h27m2 0h20m2 0h5m3 0h2m2 0h25m2 0h17m2 0h13m-205 5h26m2 0h53m2 0h27m2 0h20m2 0h5m3 0h2m2 0h25m2 0h17m2 0h13m-205 1h26m2 0h53m2 0h27m2 0h20m2 0h5m3 0h2m2 0h25m2 0h17m2 0h13m-205 7h26m2 0h53m2 0h27m2 0h20m2 0h5m3 0h2m2 0h25m2 0h17m2 0h13m-205 1h26m2 0h53m2 0h27m2 0h20m2 0h5m3 0h2m2 0h25m2 0h17m2 0h13m-205 3h26m2 0h53m2 0h27m2 0h20m2 0h5m3 0h2m2 0h25m2 0h17m2 0h13m-205 1h26m2 0h53m2 0h27m2 0h20m2 0h5m3 0h2m2 0h25m2 0h17m2 0h13m-205 1h26m2 0h53m2 0h27m2 0h20m2 0h5m3 0h2m2 0h25m2 0h17m2 0h13m-205 1h26m2 0h53m2 0h27m2 0h20m2 0h5m3 0h2m2 0h25m2 0h17m2 0h13m-205 5h26m2 0h53m2 0h27m2 0h20m2 0h5m3 0h2m2 0h25m2 0h17m2 0h13m-205 1h26m2 0h53m2 0h27m2 0h20m2 0h5m3 0h2m2 0h25m2 0h17m2 0h13m-205 5h26m2 0h53m2 0h27m2 0h20m2 0h5m3 0h2m2 0h25m2 0h17m2 0h13m-205 1h26m2 0h53m2 0h27m2 0h20m2 0h5m3 0h2m2 0h25m2 0h17m2 0h13m-205 1h26m2 0h53m2 0h27m2 0h20m2 0h5m3 0h2m2 0h25m2 0h17m2 0h13m-205 1h26m2 0h53m2 0h27m2 0h20m2 0h5m3 0h2m2 0h25m2 0h17m2 0h13m-205 1h26m2 0h53m2 0h27m2 0h20m2 0h5m3 0h2m2 0h25m2 0h17m2 0h13m-205 1h26m2 0h53m2 0h27m2 0h20m2 0h5m3 0h2m2 0h25m2 0h17m2 0h13m-205 5h26m2 0h53m2 0h27m2 0h20m2 0h5m3 0h2m2 0h25m2 0h17m2 0h13m-205 1h26m2 0h53m2 0h27m2 0h20m2 0h5m3 0h2m2 0h25m2 0h17m2 0h13m-205 3h26m2 0h53m2 0h27m2 0h20m2 0h5m3 0h2m2 0h25m2 0h17m2 0h13m-205 1h26m2 0h53m2 0h27m2 0h20m2 0h5m3 0h2m2 0h25m2 0h17m2 0h13m-205 1h26m2 0h53m2 0h27m2 0h20m2 0h5m3 0h2m2 0h25m2 0h17m2 0h13m-205 1h26m2 0h53m2 0h27m2 0h20m2 0h5m3 0h2m2 0h25m2 0h17m2 0h13m-205 1h26m2 0h53m2 0h27m2 0h20m2 0h5m3 0h2m2 0h25m2 0h17m2 0h13m-205 1h26m2 0h53m2 0h27m2 0h20m2 0h5m3 0h2m2 0h25m2 0h17m2 0h13m-205 3h26m2 0h53m2 0h27m2 0h20m2 0h5m3 0h2m2 0h25m2 0h17m2 0h13m-205 1h26m2 0h53m2 0h27m2 0h20m2 0h5m3 0h2m2 0h25m2 0h17m2 0h13m-205 13h26m2 0h53m2 0h27m2 0h20m2 0h5m3 0h2m2 0h25m2 0h17m2 0h13m-205 1h26m2 0h53m2 0h27m2 0h20m2 0h5m3 0h2m2 0h25m2 0h17m2 0h13m-205 5h26m2 0h53m2 0h27m2 0h20m2 0h5m3 0h2m2 0h25m2 0h17m2 0h13m-205 1h26m2 0h53m2 0h27m2 0h20m2 0h5m3 0h2m2 0h25m2 0h17m2 0h13m-205 5h26m2 0h53m2 0h27m2 0h20m2 0h5m3 0h2m2 0h25m2 0h17m2 0h13m-205 1h26m2 0h53m2 0h27m2 0h20m2 0h5m3 0h2m2 0h25m2 0h17m2 0h13m-205 17h26m2 0h53m2 0h27m2 0h20m2 0h5m3 0h2m2 0h25m2 0h17m2 0h13m-205 1h26m2 0h53m2 0h27m2 0h20m2 0h5m3 0h2m2 0h25m2 0h17m2 0h13m-205 19h26m2 0h53m2 0h27m2 0h20m2 0h5m3 0h2m2 0h25m2 0h17m2 0h13m-205 1h26m2 0h53m2 0h27m2 0h20m2 0h5m3 0h2m2 0h25m2 0h17m2 0h13m-205 1h26m2 0h53m2 0h27m2 0h20m2 0h5m3 0h2m2 0h25m2 0h17m2 0h13m-205 1h26m2 0h53m2 0h27m2 0h20m2 0h5m3 0h2m2 0h25m2 0h17m2 0h13m-205 4h26m2 0h53m2 0h27m2 0h20m2 0h5m3 0h2m2 0h25m2 0h17m2 0h13m-205 1h26m2 0h53m2 0h27m2 0h20m2 0h5m3 0h2m2 0h25m2 0h17m2 0h13m-205 1h26m2 0h53m2 0h27m2 0h20m2 0h5m3 0h2m2 0h25m2 0h17m2 0h13m-205 1h26m2 0h53m2 0h27m2 0h20m2 0h5m3 0h2m2 0h25m2 0h17m2 0h13m-205 7h26m2 0h53m2 0h27m2 0h20m2 0h5m3 0h2m2 0h25m2 0h17m2 0h13m-205 1h26m2 0h53m2 0h27m2 0h20m2 0h5m3 0h2m2 0h25m2 0h17m2 0h13m-205 9h26m2 0h53m2 0h27m2 0h20m2 0h5m3 0h2m2 0h25m2 0h17m2 0h13m-205 1h26m2 0h53m2 0h27m2 0h20m2 0h5m3 0h2m2 0h25m2 0h17m2 0h13m-205 3h26m2 0h53m2 0h27m2 0h20m2 0h5m3 0h2m2 0h25m2 0h17m2 0h13m-205 1h26m2 0h53m2 0h27m2 0h20m2 0h5m3 0h2m2 0h25m2 0h17m2 0h13m-205 3h26m2 0h53m2 0h27m2 0h20m2 0h5m3 0h2m2 0h25m2 0h17m2 0h13m-205 1h26m2 0h53m2 0h27m2 0h20m2 0h5m3 0h2m2 0h25m2 0h17m2 0h13m-205 1h26m2 0h53m2 0h27m2 0h20m2 0h5m3 0h2m2 0h25m2 0h17m2 0h13m-205 1h26m2 0h53m2 0h27m2 0h20m2 0h5m3 0h2m2 0h25m2 0h17m2 0h13m-205 1h26m2 0h53m2 0h27m2 0h20m2 0h5m3 0h2m2 0h25m2 0h17m2 0h13m-205 11h26m2 0h53m2 0h27m2 0h20m2 0h5m3 0h2m2 0h25m2 0h17m2 0h13m-205 1h26m2 0h53m2 0h27m2 0h20m2 0h5m3 0h2m2 0h25m2 0h17m2 0h13" stroke="#86aedb"/><path d="M412 32.5h26m2 0h53m2 0h27m2 0h20m2 0h5m3 0h2m2 0h25m2 0h17m2 0h13m-205 1h26m2 0h53m2 0h27m2 0h20m2 0h5m3 0h2m2 0h25m2 0h17m2 0h13m-205 1h26m2 0h53m2 0h27m2 0h20m2 0h5m3 0h2m2 0h25m2 0h17m2 0h13m-205 1h26m2 0h53m2 0h27m2 0h20m2 0h5m3 0h2m2 0h25m2 0h17m2 0h13m-205 7h26m2 0h53m2 0h27m2 0h20m2 0h5m3 0h2m2 0h25m2 0h17m2 0h13m-205 1h26m2 0h53m2 0h27m2 0h20m2 0h5m3 0h2m2 0h25m2 0h17m2 0h13m-205 1h26m2 0h53m2 0h27m2 0h20m2 0h5m3 0h2m2 0h25m2 0h17m2 0h13m-205 1h26m2 0h53m2 0h27m2 0h20m2 0h5m3 0h2m2 0h25m2 0h17m2 0h13m-205 1h26m2 0h53m2 0h27m2 0h20m2 0h5m3 0h2m2 0h25m2 0h17m2 0h13m-205 1h26m2 0h53m2 0h27m2 0h20m2 0h5m3 0h2m2 0h25m2 0h17m2 0h13m-205 3h26m2 0h53m2 0h27m2 0h20m2 0h5m3 0h2m2 0h25m2 0h17m2 0h13m-205 1h26m2 0h53m2 0h27m2 0h20m2 0h5m3 0h2m2 0h25m2 0h17m2 0h13m-205 19h26m2 0h53m2 0h27m2 0h20m2 0h5m3 0h2m2 0h25m2 0h17m2 0h13m-205 1h26m2 0h53m2 0h27m2 0h20m2 0h5m3 0h2m2 0h25m2 0h17m2 0h13m-205 7h26m2 0h53m2 0h27m2 0h20m2 0h5m3 0h2m2 0h25m2 0h17m2 0h13m-205 1h26m2 0h53m2 0h27m2 0h20m2 0h5m3 0h2m2 0h25m2 0h17m2 0h13m-205 1h26m2 0h53m2 0h27m2 0h20m2 0h5m3 0h2m2 0h25m2 0h17m2 0h13m-205 1h26m2 0h53m2 0h27m2 0h20m2 0h5m3 0h2m2 0h25m2 0h17m2 0h13m-205 9h26m2 0h53m2 0h27m2 0h20m2 0h5m3 0h2m2 0h25m2 0h17m2 0h13m-205 1h26m2 0h53m2 0h27m2 0h20m2 0h5m3 0h2m2 0h25m2 0h17m2 0h13m-205 5h26m2 0h53m2 0h27m2 0h20m2 0h5m3 0h2m2 0h25m2 0h17m2 0h13m-205 1h26m2 0h53m2 0h27m2 0h20m2 0h5m3 0h2m2 0h25m2 0h17m2 0h13m-205 3h26m2 0h53m2 0h27m2 0h20m2 0h5m3 0h2m2 0h25m2 0h17m2 0h13m-205 1h26m2 0h53m2 0h27m2 0h20m2 0h5m3 0h2m2 0h25m2 0h17m2 0h13m-205 9h26m2 0h53m2 0h27m2 0h20m2 0h5m3 0h2m2 0h25m2 0h17m2 0h13m-205 1h26m2 0h53m2 0h27m2 0h20m2 0h5m3 0h2m2 0h25m2 0h17m2 0h13m-205 15h26m2 0h53m2 0h27m2 0h20m2 0h5m3 0h2m2 0h25m2 0h17m2 0h13m-205 1h26m2 0h53m2 0h27m2 0h20m2 0h5m3 0h2m2 0h25m2 0h17m2 0h13m-205 17h26m2 0h53m2 0h27m2 0h20m2 0h5m3 0h2m2 0h25m2 0h17m2 0h13m-205 1h26m2 0h53m2 0h27m2 0h20m2 0h5m3 0h2m2 0h25m2 0h17m2 0h13m-205 5h26m2 0h53m2 0h27m2 0h20m2 0h5m3 0h2m2 0h25m2 0h17m2 0h13m-205 1h26m2 0h53m2 0h27m2 0h20m2 0h5m3 0h2m2 0h25m2 0h17m2 0h13m-205 1h26m2 0h53m2 0h27m2 0h20m2 0h5m3 0h2m2 0h25m2 0h17m2 0h13m-205 1h26m2 0h53m2 0h27m2 0h20m2 0h5m3 0h2m2 0h25m2 0h17m2 0h13m-205 1h26m2 0h53m2 0h27m2 0h20m2 0h5m3 0h2m2 0h25m2 0h17m2 0h13m-205 1h26m2 0h53m2 0h27m2 0h20m2 0h5m3 0h2m2 0h25m2 0h17m2 0h13m-205 3h26m2 0h53m2 0h27m2 0h20m2 0h5m3 0h2m2 0h25m2 0h17m2 0h13m-205 1h26m2 0h53m2 0h27m2 0h20m2 0h5m3 0h2m2 0h25m2 0h17m2 0h13m-205 1h26m2 0h53m2 0h27m2 0h20m2 0h5m3 0h2m2 0h25m2 0h17m2 0h13m-205 1h26m2 0h53m2 0h27m2 0h20m2 0h5m3 0h2m2 0h25m2 0h17m2 0h13m-205 11h26m2 0h53m2 0h27m2 0h20m2 0h5m3 0h2m2 0h25m2 0h17m2 0h13m-205 1h26m2 0h53m2 0h27m2 0h20m2 0h5m3 0h2m2 0h25m2 0h17m2 0h13m-205 1h26m2 0h53m2 0h27m2 0h20m2 0h5m3 0h2m2 0h25m2 0h17m2 0h13m-205 1h26m2 0h53m2 0h27m2 0h20m2 0h5m3 0h2m2 0h25m2 0h17m2 0h13m-205 1h26m2 0h53m2 0h27m2 0h20m2 0h5m3 0h2m2 0h25m2 0h17m2 0h13m-205 1h26m2 0h53m2 0h27m2 0h20m2 0h5m3 0h2m2 0h25m2 0h17m2 0h13m-205 1h26m2 0h53m2 0h27m2 0h20m2 0h5m3 0h2m2 0h25m2 0h17m2 0h13m-205 1h26m2 0h53m2 0h27m2 0h20m2 0h5m3 0h2m2 0h25m2 0h17m2 0h13m-205 1h26m2 0h53m2 0h27m2 0h20m2 0h5m3 0h2m2 0h25m2 0h17m2 0h13m-205 1h26m2 0h53m2 0h27m2 0h20m2 0h5m3 0h2m2 0h25m2 0h17m2 0h13m-205 1h26m2 0h53m2 0h27m2 0h20m2 0h5m3 0h2m2 0h25m2 0h17m2 0h13m-205 1h26m2 0h53m2 0h27m2 0h20m2 0h5m3 0h2m2 0h25m2 0h17m2 0h13m-205 1h26m2 0h53m2 0h27m2 0h20m2 0h5m3 0h2m2 0h25m2 0h17m2 0h13m-205 1h26m2 0h53m2 0h27m2 0h20m2 0h5m3 0h2m2 0h25m2 0h17m2 0h13m-205 3h26m2 0h53m2 0h27m2 0h20m2 0h5m3 0h2m2 0h25m2 0h17m2 0h13m-205 1h26m2 0h53m2 0h27m2 0h20m2 0h5m3 0h2m2 0h25m2 0h17m2 0h13m-205 1h26m2 0h53m2 0h27m2 0h20m2 0h5m3 0h2m2 0h25m2 0h17m2 0h13m-205 1h26m2 0h53m2 0h27m2 0h20m2 0h5m3 0h2m2 0h25m2 0h17m2 0h13m-205 3h26m2 0h53m2 0h27m2 0h20m2 0h5m3 0h2m2 0h25m2 0h17m2 0h13m-205 1h26m2 0h53m2 0h27m2 0h20m2 0h5m3 0h2m2 0h25m2 0h17m2 0h13m-205 5h26m2 0h53m2 0h27m2 0h20m2 0h5m3 0h2m2 0h25m2 0h17m2 0h13m-205 1h26m2 0h53m2 0h27m2 0h20m2 0h5m3 0h2m2 0h25m2 0h17m2 0h13m-205 1h26m2 0h53m2 0h27m2 0h20m2 0h5m3 0h2m2 0h25m2 0h17m2 0h13m-205 1h26m2 0h53m2 0h27m2 0h20m2 0h5m3 0h2m2 0h25m2 0h17m2 0h13m-205 1h26m2 0h53m2 0h27m2 0h20m2 0h5m3 0h2m2 0h25m2 0h17m2 0h13m-205 1h26m2 0h53m2 0h27m2 0h20m2 0h5m3 0h2m2 0h25m2 0h17m2 0h13m-205 5h26m2 0h53m2 0h27m2 0h20m2 0h5m3 0h2m2 0h25m2 0h17m2 0h13m-205 7h26m2 0h53m2 0h27m2 0h20m2 0h5m3 0h2m2 0h25m2 0h17m2 0h13m-205 1h26m2 0h53m2 0h27m2 0h20m2 0h5m3 0h2m2 0h25m2 0h17m2 0h13m-205 7h26m2 0h53m2 0h27m2 0h20m2 0h5m3 0h2m2 0h25m2 0h17m2 0h13m-205 1h26m2 0h53m2 0h27m2 0h20m2 0h5m3 0h2m2 0h25m2 0h17m2 0h13m-205 3h26m2 0h53m2 0h27m2 0h20m2 0h5m3 0h2m2 0h25m2 0h17m2 0h13m-205 1h26m2 0h53m2 0h27m2 0h20m2 0h5m3 0h2m2 0h25m2 0h17m2 0h13m-205 18h26m2 0h53m2 0h27m2 0h20m2 0h5m3 0h2m2 0h25m2 0h17m2 0h13m-205 1h26m2 0h53m2 0h27m2 0h20m2 0h5m3 0h2m2 0h25m2 0h17m2 0h13m-205 1h26m2 0h53m2 0h27m2 0h20m2 0h5m3 0h2m2 0h25m2 0h17m2 0h13m-205 1h26m2 0h53m2 0h27m2 0h20m2 0h5m3 0h2m2 0h25m2 0h17m2 0h13m-205 1h26m2 0h53m2 0h27m2 0h20m2 0h5m3 0h2m2 0h25m2 0h17m2 0h13m-205 1h26m2 0h53m2 0h27m2 0h20m2 0h5m3 0h2m2 0h25m2 0h17m2 0h13m-205 1h26m2 0h53m2 0h27m2 0h20m2 0h5m3 0h2m2 0h25m2 0h17m2 0h13m-205 1h26m2 0h53m2 0h27m2 0h20m2 0h5m3 0h2m2 0h25m2 0h17m2 0h13m-205 3h26m2 0h53m2 0h27m2 0h20m2 0h5m3 0h2m2 0h25m2 0h17m2 0h13m-205 1h26m2 0h53m2 0h27m2 0h20m2 0h5m3 0h2m2 0h25m2 0h17m2 0h13m-205 3h26m2 0h53m2 0h27m2 0h20m2 0h5m3 0h2m2 0h25m2 0h17m2 0h13m-205 1h26m2 0h53m2 0h27m2 0h20m2 0h5m3 0h2m2 0h25m2 0h17m2 0h13m-205 1h26m2 0h53m2 0h27m2 0h20m2 0h5m3 0h2m2 0h25m2 0h17m2 0h13m-205 1h26m2 0h53m2 0h27m2 0h20m2 0h5m3 0h2m2 0h25m2 0h17m2 0h13m-205 1h26m2 0h53m2 0h27m2 0h20m2 0h5m3 0h2m2 0h25m2 0h17m2 0h13m-205 1h26m2 0h53m2 0h27m2 0h20m2 0h5m3 0h2m2 0h25m2 0h17m2 0h13m-205 7h26m2 0h53m2 0h27m2 0h20m2 0h5m3 0h2m2 0h25m2 0h17m2 0h13m-205 1h26m2 0h53m2 0h27m2 0h20m2 0h5m3 0h2m2 0h25m2 0h17m2 0h13m-205 1h26m2 0h53m2 0h27m2 0h20m2 0h5m3 0h2m2 0h25m2 0h17m2 0h13m-205 1h26m2 0h53m2 0h27m2 0h20m2 0h5m3 0h2m2 0h25m2 0h17m2 0h13m-205 3h26m2 0h53m2 0h27m2 0h20m2 0h5m3 0h2m2 0h25m2 0h17m2 0h13m-205 1h26m2 0h53m2 0h27m2 0h20m2 0h5m3 0h2m2 0h25m2 0h17m2 0h13" stroke="#a9c8e4"/><path d="M412 40.5h26m2 0h53m2 0h27m2 0h20m2 0h5m3 0h2m2 0h25m2 0h17m2 0h13m-205 1h26m2 0h53m2 0h27m2 0h20m2 0h5m3 0h2m2 0h25m2 0h17m2 0h13m-205 57h26m2 0h53m2 0h27m2 0h20m2 0h5m3 0h2m2 0h25m2 0h17m2 0h13m-205 18h26m2 0h53m2 0h27m2 0h20m2 0h5m3 0h2m2 0h25m2 0h17m2 0h13m-205 1h26m2 0h53m2 0h27m2 0h20m2 0h5m3 0h2m2 0h25m2 0h17m2 0h13m-205 1h26m2 0h53m2 0h27m2 0h20m2 0h5m3 0h2m2 0h25m2 0h17m2 0h13m-205 1h26m2 0h53m2 0h27m2 0h20m2 0h5m3 0h2m2 0h25m2 0h17m2 0h13m-205 9h26m2 0h53m2 0h27m2 0h20m2 0h5m3 0h2m2 0h25m2 0h17m2 0h13m-205 1h26m2 0h53m2 0h27m2 0h20m2 0h5m3 0h2m2 0h25m2 0h17m2 0h13m-205 11h26m2 0h53m2 0h27m2 0h20m2 0h5m3 0h2m2 0h25m2 0h17m2 0h13m-205 1h26m2 0h53m2 0h27m2 0h20m2 0h5m3 0h2m2 0h25m2 0h17m2 0h13m-205 5h26m2 0h53m2 0h27m2 0h20m2 0h5m3 0h2m2 0h25m2 0h17m2 0h13m-205 1h26m2 0h53m2 0h27m2 0h20m2 0h5m3 0h2m2 0h25m2 0h17m2 0h13m-205 1h26m2 0h53m2 0h27m2 0h20m2 0h5m3 0h2m2 0h25m2 0h17m2 0h13m-205 1h26m2 0h53m2 0h27m2 0h20m2 0h5m3 0h2m2 0h25m2 0h17m2 0h13m-205 17h26m2 0h53m2 0h27m2 0h20m2 0h5m3 0h2m2 0h25m2 0h17m2 0h13m-205 1h26m2 0h53m2 0h27m2 0h20m2 0h5m3 0h2m2 0h25m2 0h17m2 0h13m-205 3h26m2 0h53m2 0h27m2 0h20m2 0h5m3 0h2m2 0h25m2 0h17m2 0h13m-205 1h26m2 0h53m2 0h27m2 0h20m2 0h5m3 0h2m2 0h25m2 0h17m2 0h13m-205 21h26m2 0h53m2 0h27m2 0h20m2 0h5m3 0h2m2 0h25m2 0h17m2 0h13m-205 1h26m2 0h53m2 0h27m2 0h20m2 0h5m3 0h2m2 0h25m2 0h17m2 0h13m-205 38h26m2 0h53m2 0h27m2 0h20m2 0h5m3 0h2m2 0h25m2 0h17m2 0h13m-205 1h26m2 0h53m2 0h27m2 0h20m2 0h5m3 0h2m2 0h25m2 0h17m2 0h13m-205 28h26m2 0h53m2 0h27m2 0h20m2 0h5m3 0h2m2 0h25m2 0h17m2 0h13m-205 1h26m2 0h53m2 0h27m2 0h20m2 0h5m3 0h2m2 0h25m2 0h17m2 0h13m-205 7h26m2 0h53m2 0h27m2 0h20m2 0h5m3 0h2m2 0h25m2 0h17m2 0h13m-205 1h26m2 0h53m2 0h27m2 0h20m2 0h5m3 0h2m2 0h25m2 0h17m2 0h13m-205 1h26m2 0h53m2 0h27m2 0h20m2 0h5m3 0h2m2 0h25m2 0h17m2 0h13m-205 1h26m2 0h53m2 0h27m2 0h20m2 0h5m3 0h2m2 0h25m2 0h17m2 0h13m-205 1h26m2 0h53m2 0h27m2 0h20m2 0h5m3 0h2m2 0h25m2 0h17m2 0h13m-205 1h26m2 0h53m2 0h27m2 0h20m2 0h5m3 0h2m2 0h25m2 0h17m2 0h13m-205 5h26m2 0h53m2 0h27m2 0h20m2 0h5m3 0h2m2 0h25m2 0h17m2 0h13m-205 1h26m2 0h53m2 0h27m2 0h20m2 0h5m3 0h2m2 0h25m2 0h17m2 0h13" stroke="#c6dbec"/><path d="M412.5 29v1m0 1v1m0 10v1m0 18v1m0 44v1m0 23v1m0 51v1m1-141v1m0 4v1m0 141v1m0 60v1m0 26v1m1-73v2m1-177v4m0 4v1m0 13v2m0 23v5m0 43v1m1-96v2m0 1v2m0 31v1m0 5v1m0 14v1m0 122v1m0 27v1m1-185v1m0 94v2m0 23v2m0 42v1m1-191v1m0 1v2m0 5v1m0 6v4m0 196v1m1-210v1m0 7v1m0 1v1m0 22v2m0 5v1m0 169v1m1-205v3m0 10v1m0 25v1m0 60v1m1-111v2m0 39v2m0 66v1m0 59v1m0 6v1m1-157v1m0 24v2m0 15v1m0 12v1m0 11v2m1-90v1m0 18v1m0 24v2m0 31v2m0 72v2m0 21v1m1-168v1m0 17v1m1 20v1m0 75v1m0 79v4m0 1v2m1-205v1m0 14v1m1-16v1m0 7v1m0 1v1m0 47v1m0 63v1m1-105v2m0 47v1m0 8v1m0 43v1m0 2v2m0 4v1m0 41v2m1-178v1m0 2v3m0 21v1m0 18v1m0 13v1m0 3v4m1-69v1m0 8v2m0 3v1m0 5v2m0 25v2m0 12v1m0 86v2m0 22v2m1-147v1m0 159v1m0 20v1m0 8v1m0 16v1m1-224v2m0 4v1m0 5v1m0 3v1m0 5v1m0 89v1m0 27v1m0 33v1m1-180v1m0 7v2m0 2v1m0 49v1m0 79v1m1-146v1m0 11v2m0 6v1m0 2v1m0 17v1m0 132v1m0 13v1m0 17v1m0 7v1m1-210v1m0 5v1m0 35v3m0 3v1m0 66v1m0 44v1m0 31v1m1-185v1m0 141v1m0 51v1m1-194v1m0 4v1m0 5v1m0 10v1m0 10v1m0 78v1m3-121v1m0 41v3m1 31v1m0 60v1m0 60v1m1-204v1m0 6v1m0 194v2m0 6v1m1-155v1m0 8v1m0 106v1m1-161v1m0 89v2m0 128v2m1-188v1m0 72v1m1-118v1m0 9v1m0 11v1m0 1v1m0 9v1m0 6v4m0 89v3m0 18v2m0 36v2m0 8v2m0 39v1m1-246v1m0 7v1m0 1v1m0 5v2m0 3v1m0 3v1m0 35v1m0 3v1m0 109v1m1-175v1m0 1v1m0 9v1m0 112v2m0 6v1m0 73v1m1-212v1m0 11v1m0 1v1m0 17v1m0 12v1m0 124v1m0 4v1m1-145v2m0 15v1m0 11v1m0 64v1m0 49v1m1-168v1m0 4v1m0 17v1m0 160v1m1-193v2m0 26v1m1-27v2m0 8v1m0 175v1m1-184v4m0 50v1m0 3v1m0 12v1m1-56v2m0 14v1m0 9v1m0 126v1m1-148v1m0 34v1m0 147v2m1-208v1m0 27v1m0 3v3m0 15v1m0 71v1m0 11v1m1-141v2m0 7v3m0 22v2m0 20v1m0 54v1m0 14v1m1-122v2m0 12v2m0 91v1m0 81v2m0 41v1m1-87v1m0 6v1m1-110v1m0 48v1m0 68v3m0 6v1m0 3v1m0 51v2m1-232v1m0 53v1m0 23v1m0 6v1m0 11v1m0 108v2m1-193v1m0 10v1m0 16v1m0 23v2m0 20v1m1-92v1m0 130v1m0 46v1m1-134v2m0 21v1m0 58v1m0 53v1m0 35v1m1-212v1m0 12v1m0 75v1m0 6v1m0 72v3m0 45v1m1-210v2m1 66v1m0 6v1m0 45v1m0 23v1m1-154v2m0 48v1m0 49v2m0 9v1m1-106v2m0 18v1m0 118v2m0 82v1m1-222v1m0 6v1m0 58v1m0 92v1m0 50v1m0 17v2m1-244v1m0 64v1m0 13v1m0 37v3m0 31v1m1-141v1m0 44v2m1-58v2m0 6v1m0 6v1m0 114v1m0 28v1m1-142v1m0 50v1m0 12v1m0 72v1m0 85v1m1-214v1m0 6v1m0 12v2m0 39v2m1-85v2m0 8v3m0 9v1m0 49v2m0 2v2m0 74v2m1-98v1m0 49v1m0 25v1m0 21v1m0 19v1m1-130v1m1-44v1m0 3v1m0 46v3m0 97v1m1-144v1m0 8v4m0 17v1m0 10v1m0 164v1m1-223v1m0 52v1m0 11v2m0 2v2m0 95v1m1-158v1m0 3v1m0 48v1m1-57v1m0 3v2m0 42v1m0 29v1m0 7v1m0 39v1m0 46v1m0 41v2m1-111v1m1-110v1m0 16v1m0 8v1m1-16v1m0 1v1m0 213v1m1-230v2m0 37v1m0 13v1m0 3v1m0 3v1m0 25v1m1-58v2m0 128v1m1-146v2m0 5v1m0 5v2m0 7v2m1-31v1m0 3v2m0 35v4m0 57v1m0 1v1m0 79v1m1-193v5m0 34v1m0 65v1m3-98v1m0 6v1m0 122v1m1 34v1m0 5v1m0 12v1m0 7v3m1-179v1m0 37v1m0 130v2m0 46v2m1-237v1m0 8v1m0 95v1m0 96v1m0 7v1m1-188v1m0 21v1m0 26v1m0 113v2m0 22v1m1-197v1m0 3v3m0 127v2m1-151v1m0 40v3m0 8v1m0 7v2m1-49v4m0 62v4m0 69v1m0 52v1m1-206v1m0 10v1m0 3v2m0 106v1m1-125v1m0 8v1m0 17v1m0 2v1m0 13v1m0 35v1m0 16v1m0 36v1m0 36v1m0 18v2m1-186v1m0 3v1m0 12v1m0 1v1m0 1v1m0 29v2m0 93v1m1-130v1m1-15v2m0 3v1m0 35v3m0 7v1m1-62v2m0 5v3m0 150v1m0 11v2m0 32v1m1-196v1m0 40v3m0 128v1m0 52v1m1-227v1m0 19v2m0 49v1m0 57v1m0 25v1m0 4v1m0 22v1m1-194v1m0 25v1m0 11v1m0 142v2m1-182v1m0 14v1m0 3v2m0 35v1m0 7v1m0 76v1m2-141v1m0 6v2m0 3v1m0 6v1m0 19v1m0 9v1m0 12v2m0 45v1m1-108v1m0 79v1m0 164v1m1-249v1m0 1v1m0 6v2m0 35v1m0 9v1m0 4v2m0 17v1m0 59v1m0 13v1m0 12v1m0 55v1m1-209v1m0 42v2m0 139v1m0 37v1m1-238v1m0 3v1m0 16v1m0 38v2m0 106v1m0 27v2m1-199v1m0 8v1m0 39v1m0 9v2m0 114v1m0 6v1m1-187v1m0 5v1m0 3v1m0 5v1m0 38v3m0 51v2m0 139v1m1-251v4m0 19v1m0 7v1m0 17v1m0 9v1m0 13v1m0 79v1m0 23v1m0 7v1m0 24v1m3-183v1m0 3v1m0 17v3m0 40v2m1-45v1m1-36v1m0 30v1m0 92v1m0 75v1m1-95v1m0 6v1m0 9v1m1-139v1m0 4v1m0 1v1m0 1v1m0 1v3m0 5v2m0 6v1m0 22v3m0 23v2m0 3v1m0 77v1m0 67v1m1-198v1m0 17v1m0 12v1m0 26v1m0 148v1m1-230v5m0 145v2m0 12v2m1-173v1m0 31v1m1-23v2m0 1v1m0 1v1m0 90v1m0 5v2m0 5v1m1-107v2m0 83v1m0 61v1m1-147v3m0 30v1m0 31v1m0 3v1m0 1v3m0 69v1m1-154v1m0 8v1m0 47v1m0 50v4m1-95v6m0 22v1m0 34v1m0 4v1m0 97v1m2-180v1m0 3v1m0 7v1m0 7v1m0 42v1m0 5v2m0 1v1m0 31v1m0 80v1m1-173v1m0 7v3m0 22v1m0 47v1m1-14v2m0 49v1m1-141v3m0 26v1m0 127v1m1-155v1m0 163v2m1-165v1m0 19v1m0 34v2m0 12v2m0 55v1m0 41v1m0 40v1m0 2v1m3-184v1m1 29v1m0 60v1m0 67v1m0 2v1m0 20v1m1-218v2m0 1v3m0 5v1m0 9v1m0 94v1m0 11v1m0 1v1m0 96v2m1-212v1m0 109v3m0 31v1m0 31v1m0 1v1m0 17v1m1-213v3m0 1v1m0 49v1m0 52v2m0 2v1m0 1v4m0 8v1m0 84v1m4-205v2m0 25v1m0 54v1m0 2v2m0 67v1m0 5v2m1-164v1m0 107v2m0 107v2m3-221v1m0 39v1m0 68v1m0 64v1m0 13v3m0 20v1m1-211v1m0 5v1m0 16v1m0 4v1m0 124v2m1-134v1m0 9v2m0 37v1m0 60v1m0 38v1m0 35v3m1-206v2m0 7v1m0 106v2m0 49v1m0 15v1m1-188v1m0 7v1m0 7v1m0 126v1m0 11v1m0 1v2m1-156v1m0 112v2m0 46v2m0 35v2m1-123v2m0 57v1m0 14v2m0 5v1m0 7v2m0 37v1m0 17v1m1-224v1m0 7v1m0 65v1m0 97v1m0 24v2m1-169v1m0 1v1m0 31v1m0 49v3m0 53v1m0 4v1m1-179v3m0 27v2m0 13v1m0 32v1m0 17v1m0 16v3m0 20v1m0 55v1m0 13v1m1-210v2m0 13v1m0 50v1m0 44v1m0 8v1m1-121v1m0 1v1m0 1v1m0 15v1m0 6v2m0 17v1m0 33v4m0 11v1m0 4v1m0 22v1m0 5v1m0 24v1m0 25v1m0 7v3m0 21v1m0 4v1m1-6v1m1-210v1m0 10v1m0 6v1m0 47v1m0 52v1m0 8v3m0 38v1m0 44v1m1-150v1m0 107v1m0 1v2m0 16v4m1-134v1m0 121v1m0 22v1m1-143v2m0 92v2m0 12v1m0 9v1m1-187v1m0 8v1m0 9v1m0 34v1m0 28v2m0 89v1m0 37v2m0 2v1m1-213v1m0 1v1m0 17v1m0 7v1m0 66v2m0 115v1m0 19v2m1-222v2m0 3v1m0 17v1m0 79v2m0 31v1m1-143v1m0 11v1m0 6v1m0 20v1m0 2v1m0 8v1m0 52v1m0 39v1m0 83v1m1-224v1m0 46v2m0 13v1m0 5v4m1-74v1m0 14v1m0 81v2m0 18v1m0 43v3m1-52v3m0 80v1m1-197v1m0 10v2m0 132v1m0 19v1m0 1v1m3-181v2m0 4v1m0 3v1m0 1v1m0 3v2m0 10v1m0 3v1m0 1v1m0 67v1m0 10v1m0 11v1m0 30v1m0 8v1m0 37v1m1-194v1m0 4v3m0 11v1m0 9v2m0 20v1m0 53v1m0 16v1m0 57v1m0 7v1m0 6v2m0 1v1m0 6v2m1-204v1m0 35v1m0 1v1m0 32v1m0 46v2m0 42v2m0 3v2m0 9v1m0 1v1m0 3v1m0 1v1m1-195v1m0 1v2m0 54v1m0 38v1m0 28v1m0 83v1m0 16v1m1-228v1m0 9v1m0 4v2m0 25v1m0 12v1m0 146v2m1-205v1m0 1v1m0 10v1m0 59v1m0 23v2m1-100v3m0 6v3m0 3v2m0 12v1m0 30v1m0 62v3m0 4v2m0 2v1m0 33v3m0 15v1m0 7v1m0 7v1m1-192v1m0 1v2m0 1v1m0 10v1m0 60v2m0 84v1m0 1v1m0 4v1m0 49v1m1-228v1m0 8v1m0 2v2m0 5v2m0 84v1m1-109v1m0 22v1m0 83v1m0 41v2m0 11v1m1-168v1m0 16v1m0 16v1m0 108v2m0 32v1m0 12v1m1-181v3m0 3v1m0 16v1m0 26v1m0 3v3m0 14v1m0 71v1m0 43v4m0 9v1m0 3v1m1-200v1m0 5v1m0 84v1m0 88v1m0 1v1m1-191v1m0 1v1m0 106v1m0 2v3m0 1v1m0 44v2m0 34v1m0 6v1m0 5v1m1-218v1m0 1v1m0 21v1m0 188v1m0 28v1m1-239v2m0 8v1m0 6v1m0 7v1m0 8v3m0 9v2m0 135v3m0 3v1m0 15v1m0 23v2m1-235v2m0 1v1m0 6v2m0 15v1m0 21v1m0 18v1m0 38v1m0 96v3m0 21v1m3-229v1m0 5v2m0 3v1m0 6v1m0 4v1m0 2v1m0 17v2m0 49v1m0 37v1m0 39v3m0 44v1m0 10v2m1-233v1m0 15v1m0 133v1m0 16v1m0 52v1m0 3v2m0 3v1m1-175v1m0 133v1m0 19v1m0 7v1m0 13v1m0 20v2m1-191v1m0 140v1m0 31v1m0 14v1m1-240v2m0 1v1m0 22v1m0 28v1m0 71v2m0 24v3m0 58v1m1-227v1m0 3v1m0 25v1m0 91v1m0 65v1m0 1v1m0 51v1m1-240v1m0 10v1m0 202v1m1-212v3m0 11v3m0 188v1m1-206v2m0 3v1m0 10v1m0 8v1m0 37v1m0 36v2m0 88v2m0 42v2m1-233v2m0 25v1m0 14v1m0 6v2m0 8v1m0 118v1m0 35v2m1-169v1m0 12v1m0 141v1m0 18v3m1-222v1m0 154v1m0 57v1m0 23v3m1-243v1m0 20v1m0 211v1m0 1v2" stroke="#f4d8cc" stroke-opacity="0.8"/><path d="M412.5 47v1m0 3v2m0 23v2m0 1v1m0 17v1m0 25v1m0 2v1m0 87v2m1-138v1m0 17v1m0 111v2m0 69v1m1-252v1m0 2v1m0 10v1m0 1v2m0 1v1m0 2v1m0 9v1m0 0v1m0 14v2m0 5v5m0 155v3m1-198v1m0 145v3m1-149v1m0 27v1m0 6v3m0 11v1m0 42v1m0 14v1m0 57v1m0 7v1m0 19v1m0 28v1m1-236v1m0 28v1m0 1v3m0 6v2m0 16v2m0 1v2m0 107v3m1-153v1m0 21v1m0 6v2m0 2v2m0 13v1m0 19v1m0 64v1m0 20v1m0 9v2m0 20v1m0 26v1m1-228v1m0 24v1m0 105v1m0 16v1m0 4v2m0 20v1m0 17v3m0 1v2m1-157v2m0 1v1m0 5v1m0 29v1m0 106v1m0 20v1m0 11v1m1-218v5m0 45v1m0 61v1m0 13v1m1-138v1m0 1v1m0 2v1m0 13v2m0 2v1m0 12v1m0 11v1m0 4v1m0 61v1m0 20v2m0 16v1m0 21v1m0 33v1m1-203v1m0 3v2m0 29v1m0 9v2m0 2v1m0 1v3m0 5v1m0 124v2m0 5v1m1-203v1m0 28v1m0 17v1m0 3v1m0 11v1m0 5v1m0 25v2m0 10v1m0 15v1m0 104v2m1-225v1m0 8v2m0 1v1m0 14v1m0 2v2m0 10v1m0 2v1m0 22v1m0 96v2m1-171v1m0 9v2m0 10v1m0 41v1m0 48v1m0 17v1m0 15v2m0 71v1m1-207v1m0 8v1m0 2v1m0 8v1m0 9v2m0 1v1m0 1v2m0 10v1m0 43v5m0 1v1m0 15v1m0 9v1m0 5v4m0 15v1m1-155v3m0 1v1m0 30v2m0 48v1m0 34v1m1-126v1m0 80v1m0 103v2m0 7v1m1-198v2m0 16v1m0 7v1m0 87v1m0 10v2m1-117v1m0 30v1m0 14v1m0 110v2m0 22v1m0 25v1m1-220v2m0 3v2m0 9v1m0 9v1m0 10v1m0 4v1m0 5v1m0 10v1m0 55v1m0 8v1m0 5v1m0 42v2m1-144v1m0 22v5m0 57v1m0 7v1m0 33v1m0 26v1m0 33v2m1-211v1m0 20v2m0 22v1m0 24v1m0 28v3m0 1v1m0 28v3m0 24v1m0 12v1m1-182v1m0 5v1m0 5v1m0 1v1m0 155v1m0 39v1m0 21v2m1-225v2m0 4v2m0 35v2m0 2v1m0 40v1m0 58v1m0 38v1m1-185v1m0 14v1m0 11v1m0 3v1m0 21v1m0 90v2m0 5v1m3-150v2m0 20v1m0 7v3m0 18v2m0 21v1m0 3v2m0 70v1m1-153v1m0 128v1m0 6v1m0 61v4m1-216v2m0 5v2m0 13v2m0 6v1m0 16v1m0 9v1m0 8v1m0 4v1m0 11v2m0 6v1m0 20v1m1-109v1m0 14v1m0 12v1m0 17v1m0 69v1m1-116v1m0 1v2m0 21v1m0 6v1m0 5v1m0 1v1m0 22v1m0 81v1m0 26v1m0 43v2m1-214v1m0 115v1m0 26v1m0 63v1m1-198v1m0 21v2m0 1v1m0 19v1m0 21v3m0 112v1m0 14v1m0 17v1m0 4v1m0 2v1m1-237v3m0 1v1m0 35v1m0 113v2m0 3v1m0 42v1m1-194v1m0 21v1m0 46v1m0 9v4m0 43v2m0 4v1m0 1v1m0 36v2m0 20v1m1-206v2m0 12v2m0 1v1m0 22v1m0 19v1m0 18v1m0 7v1m0 134v1m1-223v1m0 2v1m0 36v1m0 62v1m0 8v1m0 3v1m0 30v1m0 9v3m0 2v1m0 46v1m0 37v1m1-245v2m0 8v4m0 25v2m0 11v2m0 31v1m0 7v2m0 10v1m1-106v2m0 7v1m0 48v1m0 18v1m0 8v1m0 48v1m0 24v1m1-168v3m0 14v1m0 5v1m0 34v1m0 60v3m0 52v1m1-159v1m0 1v1m0 7v1m0 22v1m0 1v2m0 42v1m0 70v2m0 7v1m0 1v1m0 38v1m1-212v3m0 19v1m0 33v1m0 6v2m1-68v1m0 10v1m0 6v2m0 9v1m0 157v2m0 3v1m0 1v2m1-190v3m0 2v2m0 3v1m0 48v1m0 49v2m0 1v2m0 20v1m0 8v1m0 37v1m0 7v2m1-193v2m0 86v1m0 28v1m0 69v1m0 16v1m1-209v2m0 29v1m0 61v1m0 2v2m0 54v1m0 18v1m0 40v2m1-215v3m0 12v1m0 15v1m0 10v1m0 10v1m0 133v1m0 28v1m1-173v1m0 9v1m0 1v1m0 72v1m0 9v1m0 7v2m0 72v1m1-219v1m0 7v3m0 6v1m0 17v1m0 14v1m0 34v1m0 1v1m0 47v2m0 2v3m0 20v1m0 81v1m1-239v1m0 2v3m0 3v1m0 1v1m0 3v1m0 32v2m0 15v1m0 31v4m0 7v1m0 11v2m1-126v1m0 7v1m0 9v1m0 11v1m0 8v1m0 1v1m0 8v2m1-49v1m0 18v2m0 18v1m0 1v1m0 7v1m0 52v1m0 37v3m0 14v1m0 46v3m1-216v1m0 184v1m0 61v1m1-202v1m0 10v2m0 1v1m0 1v2m0 18v2m0 117v1m1-192v1m0 22v1m0 23v2m0 21v1m0 20v1m0 18v1m0 11v1m0 39v1m0 36v1m0 43v1m1-250v1m0 47v1m0 30v1m0 28v1m0 47v1m0 12v1m0 6v3m0 30v3m0 1v1m1-208v1m0 22v3m0 10v3m0 31v1m0 40v1m0 56v3m0 9v1m0 61v1m1-189v1m0 55v1m0 38v2m0 14v1m0 3v1m0 28v1m1-203v3m0 6v1m0 32v1m0 1v1m0 37v1m0 1v1m0 2v1m0 8v1m0 39v2m0 12v2m1-118v2m0 12v1m0 4v1m0 1v1m0 50v1m0 13v1m0 45v1m0 3v1m1-149v1m0 12v2m0 12v4m0 6v1m0 124v1m0 7v1m0 23v2m1-218v1m0 26v2m0 15v1m0 3v1m0 62v1m0 79v2m1-190v2m0 4v3m0 43v1m0 11v1m0 29v1m0 57v1m0 1v1m1-151v2m0 15v1m0 24v2m0 118v1m0 5v2m1-141v2m0 13v1m0 96v1m0 3v1m1-151v2m0 24v1m0 6v1m0 7v1m0 6v2m0 2v1m0 120v2m1-183v1m0 1v1m0 3v1m0 21v2m0 1v1m0 12v1m0 66v1m0 65v2m0 14v1m1-190v1m0 31v1m0 121v1m0 37v1m0 20v1m1-210v1m0 1v2m0 4v1m0 33v1m0 4v1m0 25v2m0 71v1m1-144v1m0 3v2m0 1v1m0 3v1m0 12v1m0 14v3m0 2v2m0 69v2m0 22v1m0 16v2m0 7v2m0 9v2m0 4v2m0 22v1m0 7v1m0 2v1m1-203v1m0 1v2m0 58v1m0 32v4m0 51v1m0 13v1m0 12v1m1-147v3m0 2v1m0 45v1m0 8v2m0 29v1m0 10v1m0 6v4m0 8v1m0 11v1m1-186v1m0 1v2m0 18v1m0 3v1m0 140v1m1-167v1m0 13v2m0 9v2m0 29v1m0 3v1m0 23v2m0 34v1m1-111v1m0 49v3m0 46v1m0 64v1m1-163v1m0 35v1m0 1v1m0 22v1m0 23v1m0 17v1m0 18v1m0 39v1m0 7v1m0 2v3m1-188v1m0 12v1m0 23v3m0 15v4m0 1v1m0 6v1m0 80v2m0 2v2m0 15v1m0 10v2m0 19v1m0 42v1m1-245v2m0 10v1m0 13v1m0 11v1m0 89v1m0 23v1m1-150v3m0 1v1m0 44v1m0 3v1m0 9v1m0 7v1m0 29v1m0 1v2m0 14v1m0 4v3m0 62v3m0 52v1m3-232v1m0 31v1m0 51v1m0 5v1m0 1v1m0 74v1m1-180v2m0 28v1m0 15v1m0 6v2m0 35v2m0 42v1m0 4v1m0 26v1m0 1v1m0 20v1m0 9v1m0 2v2m1-205v1m0 23v1m0 19v2m0 1v1m0 1v2m0 5v1m0 17v4m0 53v1m0 7v2m0 4v1m0 11v1m0 22v1m0 19v1m0 20v1m1-209v1m0 11v3m0 2v1m0 24v1m0 74v1m0 21v1m0 12v1m0 22v3m1-179v1m0 21v1m0 14v1m0 26v2m0 9v1m0 46v1m0 11v1m0 67v1m1-210v1m0 16v1m0 14v1m0 11v2m0 4v2m0 103v1m1-155v2m0 1v5m0 4v2m0 25v1m0 5v1m0 51v1m0 14v1m0 15v1m0 7v1m1-109v1m0 73v1m0 32v3m0 21v2m0 10v1m0 6v1m0 13v1m0 14v3m1-195v1m0 16v1m0 43v1m0 22v1m0 11v1m0 83v1m0 6v1m0 32v1m1-184v1m0 25v1m0 12v5m0 8v1m0 29v1m0 28v2m1-173v3m0 13v2m0 29v1m0 4v2m0 17v1m0 24v1m0 2v3m0 8v1m0 6v2m0 5v1m0 10v2m0 46v1m0 11v1m0 10v1m1-214v1m0 1v1m0 47v2m0 124v3m1-150v1m0 14v1m0 56v1m0 71v2m0 14v1m0 19v1m1-208v1m0 56v1m0 12v1m0 119v1m1-184v1m0 8v1m0 3v1m0 4v1m0 2v3m0 27v1m0 7v1m0 59v1m0 37v1m0 47v1m1-208v1m0 8v1m0 73v1m0 97v2m0 4v2m0 14v1m1-202v1m0 4v1m0 3v1m0 57v4m0 2v2m0 45v1m0 30v1m0 11v1m0 5v3m0 1v1m0 21v1m0 48v1m1-243v1m0 137v1m0 59v1m0 18v1m1-221v1m0 8v1m0 3v1m0 32v1m0 44v1m0 29v3m0 56v1m0 14v1m0 17v1m1-206v1m0 3v1m0 7v1m0 9v1m0 142v1m1-177v2m0 24v1m0 24v1m0 16v3m1-64v1m0 203v1m1-210v3m0 66v2m0 2v1m0 1v2m0 5v1m0 116v1m1-188v2m0 11v1m0 161v1m1-189v1m0 8v2m0 29v1m0 125v1m0 1v2m0 1v1m0 13v1m0 1v1m1-181v2m0 31v1m0 145v1m0 60v1m1-245v3m0 24v1m0 30v1m0 38v1m0 80v3m0 7v1m0 1v1m0 13v1m3-184v1m0 49v1m0 8v1m0 10v1m0 17v1m0 15v1m0 24v1m0 27v1m1-183v2m0 3v1m0 8v1m0 28v1m0 32v1m0 25v1m0 43v2m0 48v1m0 48v1m1-242v1m0 13v4m0 53v1m0 21v1m0 3v1m0 7v1m0 1v2m0 9v2m0 32v1m0 4v2m0 17v1m1-175v1m0 44v3m0 2v1m0 1v1m0 23v1m0 14v2m0 11v2m0 1v1m0 29v2m0 67v1m1-203v1m0 56v1m0 10v1m0 71v3m1-112v1m0 16v1m0 13v1m0 111v1m0 1v1m0 2v2m1-100v1m0 88v1m0 31v1m1-211v1m0 84v1m0 9v2m0 21v2m1-53v1m0 17v1m0 3v3m0 52v1m0 65v1m1-172v1m0 34v2m0 6v1m0 1v1m0 58v2m0 1v1m0 10v2m0 35v1m0 4v2m0 2v1m0 6v1m1-214v3m0 54v1m0 2v2m0 32v1m0 8v1m0 79v1m0 25v1m1-198v2m0 1v1m0 3v2m0 1v2m0 4v1m0 0v3m0 40v1m0 11v1m0 29v3m0 5v1m0 2v1m0 2v1m0 34v2m0 4v1m0 36v2m1-166v1m0 49v1m0 33v1m0 82v1m0 29v1m1-208v1m0 63v1m0 1v2m0 19v1m0 19v1m0 29v1m0 24v4m0 15v1m0 4v1m1-212v1m0 23v1m0 24v1m0 13v1m0 12v1m0 61v1m0 10v1m0 24v1m1-186v1m0 15v3m0 25v1m0 56v1m0 42v2m1 20v1m0 22v1m1-168v1m0 5v1m0 50v4m0 1v1m0 36v2m0 123v1m1-238v2m0 69v1m0 5v2m0 1v1m0 29v1m0 6v1m0 15v1m0 6v1m0 3v1m0 23v2m0 8v1m0 11v1m1-193v2m0 7v1m0 16v2m0 1v1m0 18v1m0 13v1m0 42v2m0 86v1m0 8v1m3-210v1m0 8v1m0 38v2m0 5v1m0 28v1m0 24v1m0 34v1m0 50v1m0 56v1m1-243v1m0 5v1m0 42v1m0 23v1m0 10v1m0 11v1m0 8v2m0 16v1m0 11v1m0 6v1m0 16v1m0 17v1m0 34v1m1-185v1m0 59v1m0 53v2m0 4v1m0 7v4m1-163v1m0 13v1m0 20v1m0 89v2m0 68v1m0 47v1m1-240v1m0 23v1m0 94v1m0 30v1m0 10v2m0 49v2m4-208v1m0 3v1m0 14v1m0 38v2m0 69v2m0 4v1m0 19v2m0 5v2m1-162v2m0 17v1m0 18v3m0 100v1m0 26v2m3-178v2m0 14v1m0 37v1m0 6v2m0 64v1m0 11v1m0 22v3m0 9v1m0 9v2m0 9v2m1-200v1m0 9v1m0 35v2m0 82v1m0 13v2m0 22v1m0 17v1m0 2v1m1-42v2m1-115v1m0 13v1m0 52v2m0 32v1m0 1v1m0 30v1m0 35v1m0 29v1m1-201v1m0 74v2m0 19v1m0 1v2m0 5v1m0 1v1m0 12v1m0 62v1m1-219v1m0 144v1m0 18v2m0 4v1m0 1v2m1-165v1m0 120v1m0 9v1m0 17v1m0 14v1m0 6v2m0 16v1m0 33v1m1-238v1m0 5v1m0 46v1m0 25v1m0 60v1m0 3v2m0 65v1m0 9v2m1-226v1m0 47v2m0 62v1m0 15v2m0 48v2m0 26v1m0 5v1m0 4v1m1-218v1m0 28v1m0 14v2m0 57v1m0 37v1m0 24v1m0 32v3m0 42v1m0 6v1m1-244v2m0 1v1m0 1v1m0 10v1m0 30v3m0 14v1m0 33v2m0 14v1m0 5v1m0 20v1m0 67v1m1-212v1m0 1v2m0 7v2m0 3v1m0 34v5m0 47v1m0 21v3m0 16v2m0 55v4m1-189v1m0 1v1m0 47v1m0 8v1m0 72v1m0 12v1m0 20v2m0 18v1m1-199v3m0 41v1m0 1v1m0 4v3m0 84v1m0 10v1m0 3v1m0 5v1m0 23v1m0 4v1m1-121v1m0 33v1m0 59v1m0 19v2m0 40v1m1-224v1m0 8v2m0 61v1m0 93v1m0 3v1m0 8v1m0 1v1m0 1v1m1-194v1m0 114v2m0 1v1m0 18v1m0 36v1m0 18v1m0 10v1m0 25v1m1-228v2m0 10v1m0 17v1m0 14v1m0 22v1m0 67v1m0 48v2m0 11v4m0 4v1m1-208v1m0 9v1m0 77v1m0 14v1m0 55v1m0 17v1m0 21v1m1-203v1m0 4v1m0 27v2m0 27v1m0 1v1m0 66v1m0 7v1m0 3v2m0 5v2m0 5v1m0 8v1m0 9v1m0 1v2m0 52v2m0 11v2m1-247v2m0 41v1m0 81v1m0 18v2m0 28v1m0 3v1m0 22v2m0 14v1m0 11v5m0 14v3m0 2v1m1-204v1m0 30v1m0 18v1m0 19v1m0 64v2m0 5v3m0 7v1m0 6v2m0 23v1m1-230v2m0 18v2m0 5v1m0 7v1m0 7v2m0 65v1m0 70v2m0 17v1m0 2v2m1-190v1m0 32v1m0 37v1m0 19v2m0 64v1m0 2v1m0 4v1m0 3v1m0 27v1m0 11v1m1-229v1m0 20v1m0 5v1m0 25v1m0 89v1m0 1v1m0 1v2m0 3v1m0 63v1m3-214v1m0 20v1m0 16v2m0 1v1m0 13v2m0 4v1m0 50v1m0 70v1m0 18v1m0 1v2m0 13v1m1-224v2m0 2v1m0 54v2m0 3v1m0 4v1m0 36v2m0 10v1m0 3v2m0 43v2m1-168v2m0 59v1m0 5v1m0 104v1m0 38v3m1-214v2m0 12v1m0 3v2m0 9v1m0 1v1m0 7v1m0 5v1m0 3v1m0 3v1m0 1v2m0 56v1m0 77v1m0 7v2m0 4v1m0 34v1m1-238v1m0 3v1m0 5v1m0 3v2m0 38v2m0 29v1m0 36v3m0 22v1m0 1v1m0 39v1m1-183v2m0 33v2m0 14v1m0 48v1m0 8v1m0 27v5m0 5v1m0 1v2m0 10v1m0 26v1m0 15v1m0 24v2m1-185v1m0 54v2m0 28v1m0 8v1m0 28v1m0 1v1m0 2v4m0 11v2m0 1v1m0 9v1m0 20v1m1-230v1m0 45v1m0 4v2m0 25v1m0 22v2m0 8v1m0 15v1m0 16v1m0 26v1m0 29v3m0 1v2m0 5v1m1-146v1m0 57v1m0 11v1m0 5v3m0 50v1m0 9v2m1-202v3m0 1v1m0 40v1m0 4v3m0 1v1m0 21v1m0 3v1m0 11v1m0 13v1m0 40v1m0 5v2m0 15v1m1-108v1m0 20v1m0 103v3m1-201v1m0 3v1m0 1v2m0 68v1m0 65v1m0 3v2m0 40v2m1-166v1m0 15v1m0 8v1m0 18v1m0 20v2m0 6v1m0 20v1m0 46v1m0 43v1m0 9v1m1-210v1m0 4v2m0 61v1m0 77v1m0 27v1m1-182v1m0 3v3m0 8v1m0 6v1m0 54v1m0 41v1m0 7v1m0 46v1m0 32v1m1-195v1m0 63v1m0 3v2m0 6v1m0 9v1m0 43v1m0 1v1m0 16v1m1-160v2m0 7v1m0 4v1m0 1v1m0 20v1m0 16v1m0 8v1m0 7v2m0 17v1m0 15v1m0 20v1m0 3v1m0 9v2m0 22v1m0 4v1m0 48v1m0 22v1m3-246v1m0 52v1m0 11v2m0 35v2m0 37v1m0 12v2m0 1v1m1-153v1m0 33v1m0 19v1m0 5v1m0 16v2m0 25v2m0 2v1m0 57v1m0 6v1m0 2v1m0 5v1m1-190v2m0 12v2m0 8v1m0 13v1m0 5v1m0 17v1m0 7v1m0 8v1m0 8v2m0 4v2m0 4v1m0 15v1m0 3v2m0 9v1m0 67v1m1-81v1m0 38v1m0 29v1m0 9v2m1-82v1m0 1v1m0 5v2m0 18v1m0 6v1m0 42v2m0 2v1m0 1v1m0 8v1m1-179v1m0 31v1m0 1v1m0 9v1m0 33v2m0 62v1m1-88v1m0 29v1m0 27v1m0 3v1m0 13v1m0 8v1m0 5v2m1-169v1m0 31v3m0 16v3m0 4v1m0 12v1m0 29v2m0 1v1m0 11v1m0 42v1m0 3v1m0 7v1m0 7v1m0 7v1m1-188v1m0 5v1m0 34v1m0 5v2m0 17v1m0 3v1m0 42v2m0 1v3m0 5v1m0 37v1m0 23v1m0 4v3m1-188v2m0 10v1m0 1v1m0 14v1m0 15v1m0 49v1m0 10v1m0 62v2m0 25v1m1-211v1m0 14v1m0 17v1m0 20v1m0 35v2m0 24v1m0 4v1m0 60v1m1-167v1m0 44v2m0 20v2m0 3v1m0 6v2m0 28v2m0 54v1m1-188v1m0 15v1m0 76v2m0 4v1m0 27v1m0 22v1m0 1v1m0 8v1m0 11v1m0 24v2m0 7v2m0 6v1" stroke="#e8a08a" stroke-opacity="0.8"/><path d="M412.5 69v1m0 2v1m0 10v2m0 3v3m0 2v3m0 4v2m0 87v1m0 20v1m1-162v3m0 22v1m0 10v1m0 136v1m1-168v1m0 25v1m0 26v2m0 18v1m0 65v2m0 13v1m0 8v2m0 20v1m1-201v2m0 41v4m0 10v2m0 35v1m0 10v1m0 4v1m0 3v2m0 36v1m0 40v1m1-192v1m0 1v1m0 18v1m0 15v2m0 10v1m0 1v1m0 51v2m0 14v1m0 16v1m0 25v1m0 28v1m0 11v1m0 9v1m1-218v1m0 9v1m0 52v1m0 52v1m0 45v1m1-168v1m0 25v2m0 35v3m0 50v1m0 5v1m0 37v2m0 59v2m1-198v3m0 11v2m0 3v2m0 1v1m0 1v3m0 11v1m0 32v1m0 4v1m0 6v1m0 12v2m0 3v1m0 1v2m0 13v1m0 1v1m0 7v1m0 26v2m1-164v1m0 12v1m0 11v1m0 77v2m0 16v1m0 3v1m0 10v1m0 12v2m0 6v1m0 29v1m0 6v1m0 33v1m1-244v2m0 3v1m0 47v1m0 2v1m0 133v1m1-184v7m0 17v1m0 16v2m0 5v1m0 5v1m0 13v1m0 9v1m0 78v1m0 15v1m0 11v1m0 52v1m1-225v2m0 1v1m0 11v1m0 6v6m0 107v1m0 42v2m1-209v1m0 4v1m0 1v1m0 3v1m0 5v1m0 41v1m0 8v2m0 49v1m0 18v3m0 20v1m0 4v1m0 22v2m0 10v3m0 5v1m1-207v1m0 1v2m0 3v1m0 1v2m0 1v1m0 26v2m0 11v1m0 1v1m0 5v1m0 1v1m0 4v1m0 13v1m0 6v1m0 5v1m0 4v1m0 28v1m0 8v1m0 13v2m0 4v1m0 5v1m0 10v1m0 13v1m0 5v2m1-191v1m0 48v2m0 41v1m0 7v1m0 88v1m0 1v4m0 27v1m0 15v3m0 1v1m1-231v1m0 1v1m0 1v1m0 7v1m0 13v2m1-12v1m0 20v1m0 7v2m0 39v1m0 82v1m0 22v2m1-200v1m0 21v1m0 12v1m0 4v1m0 3v2m0 53v1m0 72v1m0 2v1m0 7v1m0 11v1m1-208v2m0 30v1m0 4v1m0 4v1m0 19v1m0 41v1m0 17v1m0 85v2m1-203v2m0 110v1m0 30v1m0 36v3m0 2v1m0 5v3m1-167v1m0 10v1m0 7v2m0 3v1m0 37v1m0 21v2m0 39v2m0 30v1m0 3v1m0 3v1m0 1v1m0 13v1m1-154v2m1-20v1m0 1v1m0 5v3m0 5v2m0 27v2m0 8v1m0 24v3m0 3v3m0 16v3m0 5v1m0 29v1m0 7v3m0 1v1m0 9v1m0 18v1m1-231v1m0 5v1m0 5v1m0 7v2m0 56v1m0 15v2m0 4v2m0 6v1m0 17v1m0 1v2m0 29v3m1-159v1m0 21v1m0 21v1m0 19v3m0 47v1m0 36v1m0 22v4m0 20v2m1-197v1m0 1v1m0 1v1m0 2v1m0 11v2m0 6v1m0 10v1m0 9v2m0 6v2m0 48v1m0 19v2m0 41v2m3-172v2m0 34v1m0 1v1m0 18v1m0 44v1m0 71v1m0 34v1m0 26v1m1-222v3m0 6v2m0 4v2m0 27v1m0 1v3m0 12v1m0 5v1m0 46v2m0 32v2m0 28v1m0 2v1m1-175v1m0 26v1m0 1v1m0 12v2m0 19v1m0 15v2m0 20v3m0 17v1m0 39v1m0 1v1m0 11v2m1-204v1m0 13v2m0 1v2m0 4v1m0 7v1m0 6v3m0 21v2m0 23v1m0 4v3m0 77v3m0 3v1m0 16v1m0 17v1m1-213v2m0 1v1m0 52v2m0 8v1m0 17v1m0 16v2m0 17v1m0 70v1m1-176v2m0 14v1m0 7v4m0 9v1m0 10v1m0 18v1m0 108v1m0 16v2m1-198v1m0 18v1m0 19v1m0 1v1m0 2v2m0 3v1m0 4v1m0 110v3m0 63v1m1-243v1m0 13v1m0 1v1m0 12v1m0 12v1m0 22v1m0 82v1m0 6v1m0 10v1m0 6v2m0 13v1m0 19v1m0 4v1m1-172v1m0 7v1m0 10v1m0 47v2m0 3v1m0 1v1m0 25v1m0 21v1m0 4v1m0 29v2m0 13v1m1-60v3m0 33v1m0 10v1m0 2v1m0 33v1m1-202v1m0 4v1m0 8v1m0 1v1m0 1v1m0 8v1m0 43v2m0 18v1m0 26v1m0 12v2m0 1v1m0 3v1m0 1v1m0 6v2m0 1v1m0 9v1m0 7v1m0 7v1m0 16v2m0 4v1m1-192v1m0 4v1m0 8v1m0 34v1m0 33v2m0 38v1m1-173v1m0 9v3m0 8v1m0 1v1m0 48v2m0 14v1m0 37v2m0 33v1m0 2v2m0 6v2m0 14v1m0 1v1m1-161v3m0 166v1m0 17v1m1-213v1m0 8v1m0 15v2m0 1v1m0 33v1m0 1v1m0 11v1m0 8v1m0 97v1m0 5v1m0 15v2m1-71v4m0 33v1m0 9v1m0 10v2m0 3v1m0 8v1m1-207v1m0 1v1m0 8v1m0 4v4m0 62v2m0 27v1m0 8v5m1-132v2m0 2v1m0 16v1m0 9v1m0 37v2m0 32v1m0 2v1m0 27v1m0 23v2m0 50v2m1-173v1m0 1v2m0 21v1m0 4v1m0 10v1m0 40v1m0 7v2m0 7v1m0 41v1m1-167v1m0 31v1m0 21v1m0 8v1m0 3v1m0 10v2m0 7v3m0 14v1m0 32v1m0 12v1m0 12v1m0 48v2m0 13v1m0 2v1m0 8v1m1-206v1m0 2v1m0 15v2m0 50v1m0 65v1m0 4v2m0 1v1m0 13v1m0 32v2m1-220v3m0 8v1m0 13v1m0 3v3m0 5v1m0 2v3m0 20v1m0 65v1m0 3v2m0 4v2m0 28v2m1-193v1m0 5v1m0 11v2m0 29v2m0 34v1m0 26v1m0 13v1m0 7v2m0 37v3m0 27v1m1-171v2m0 26v1m0 1v2m0 8v1m0 46v1m0 59v2m0 22v1m1-201v1m0 15v2m0 6v1m0 21v1m0 12v1m0 35v1m0 104v1m1-189v2m0 5v2m0 17v2m0 8v1m0 7v1m0 1v1m0 3v1m0 3v1m0 36v1m0 10v1m0 57v1m0 2v1m0 6v1m1-60v5m0 35v1m0 19v1m0 1v1m0 18v1m0 28v1m1-238v1m0 1v1m0 5v1m0 1v1m0 30v2m0 5v1m0 1v1m0 16v1m0 42v2m0 8v1m0 5v2m0 22v1m0 15v1m0 28v1m1-194v1m0 1v1m0 7v1m0 7v1m0 27v2m0 23v1m0 23v2m0 4v1m0 23v1m0 48v1m0 3v2m0 7v1m0 26v2m1-196v1m0 57v1m0 4v1m0 28v1m0 32v1m0 77v1m1-221v4m0 55v1m0 20v3m0 8v3m0 14v1m0 11v1m0 14v1m0 27v1m1-153v4m0 11v1m0 4v1m0 17v1m0 32v1m0 19v1m0 2v1m0 31v1m0 74v1m0 31v2m1-247v1m0 13v2m0 5v1m0 7v1m0 1v1m0 2v1m0 5v1m0 23v1m0 16v2m0 19v2m1-106v1m0 4v1m0 18v1m0 3v2m0 2v1m0 3v1m0 13v1m0 10v1m0 1v1m0 19v2m0 20v3m0 32v1m0 1v4m0 19v2m0 5v1m0 5v1m0 12v2m0 18v1m1-211v1m0 9v1m0 24v1m0 6v1m0 5v1m0 1v1m0 14v1m0 44v1m0 61v1m0 18v2m1-188v2m0 3v1m0 22v1m0 2v2m0 18v1m0 1v1m0 2v1m0 74v2m0 7v3m0 37v1m0 21v1m1-209v1m0 19v1m0 20v1m0 10v3m0 8v1m0 2v1m0 69v1m0 49v4m1-188v1m0 45v1m0 1v2m0 6v1m0 1v2m0 4v2m0 27v1m0 51v1m0 11v1m0 15v1m1-173v3m0 4v2m0 21v1m0 29v2m0 21v1m0 62v1m0 83v1m0 13v1m1-232v3m0 33v1m0 25v1m0 4v1m0 14v2m0 65v3m0 15v1m0 31v1m1-201v2m0 7v1m0 19v1m0 16v1m0 5v1m0 85v1m1-102v1m0 11v1m0 17v1m0 2v1m0 66v2m0 19v2m0 4v2m1-177v1m0 7v1m0 33v1m0 8v1m0 81v1m0 62v1m0 42v1m1-239v1m0 21v1m0 34v1m0 3v2m0 42v2m0 1v1m0 5v1m0 9v1m0 20v1m0 47v1m1-193v1m0 48v1m0 41v3m0 10v3m0 4v1m0 9v2m0 122v1m1-221v1m0 1v1m0 84v1m0 6v2m0 35v1m0 29v1m0 5v2m0 21v2m1-207v1m0 28v1m0 13v3m0 3v1m0 106v1m0 3v1m0 22v2m0 7v1m0 12v1m1-221v1m0 7v1m0 39v1m0 3v2m0 1v1m0 5v1m0 14v1m0 27v2m0 7v1m0 4v1m0 51v1m0 7v1m1-174v3m0 7v1m0 37v1m0 7v1m0 29v2m0 6v2m0 82v2m0 21v1m0 6v1m1-192v3m0 5v2m0 16v1m0 16v1m0 73v2m0 11v1m0 17v1m0 35v1m0 1v1m1-204v1m0 23v1m0 20v1m0 3v1m0 27v1m0 16v2m0 68v1m0 62v2m1-237v2m0 2v1m0 6v1m0 44v2m0 38v1m0 2v1m0 42v2m0 29v2m0 3v1m0 1v1m0 21v5m0 2v2m1-194v1m0 1v1m0 34v1m0 9v3m0 34v3m0 40v1m0 65v1m0 30v1m3-235v1m0 3v2m0 20v1m0 31v1m0 1v3m0 55v1m0 46v1m0 1v1m0 6v1m0 21v2m0 4v1m0 13v1m1-175v1m0 1v1m0 2v1m0 3v1m0 53v2m0 15v1m0 42v1m0 24v1m1-155v1m0 17v1m0 5v3m0 128v2m0 1v2m0 4v1m0 9v1m0 10v1m0 18v1m1-234v1m0 4v2m0 3v1m0 32v2m0 8v2m0 4v3m0 14v1m0 60v2m0 5v1m0 28v2m0 1v1m0 1v1m0 9v3m0 8v1m1-214v1m0 2v1m0 3v1m0 8v4m0 44v1m0 47v2m0 52v1m0 19v1m0 20v1m1-206v1m0 6v1m0 1v2m0 3v1m0 24v1m0 2v1m0 11v1m0 10v3m0 29v1m0 51v2m0 73v1m1-165v1m0 47v1m0 18v1m0 44v1m1-174v1m0 12v1m0 21v1m0 19v1m0 21v1m0 40v2m0 27v1m0 17v1m0 24v1m0 7v1m0 1v1m0 7v1m0 7v1m1-218v1m0 48v1m0 5v2m0 5v1m0 22v1m0 7v2m0 24v1m0 1v1m0 12v1m0 52v3m1-189v1m0 14v1m0 1v3m0 31v2m0 139v1m0 4v1m0 7v2m0 2v1m1-211v1m0 16v1m0 3v1m0 43v3m0 1v1m0 42v1m0 1v2m0 62v1m0 20v1m0 9v2m1-200v1m0 27v2m0 24v1m0 72v1m0 5v2m0 106v1m1-215v2m0 6v1m0 38v1m0 4v2m0 90v1m1-183v1m0 35v1m0 3v2m0 15v1m0 8v1m0 26v2m0 8v1m0 38v1m0 7v1m0 36v1m0 11v1m0 1v1m0 6v1m1-209v1m0 4v1m0 5v3m0 51v1m0 52v2m0 76v1m0 4v1m0 8v2m0 16v1m0 4v3m1-236v4m0 17v1m0 88v2m0 1v1m0 1v1m0 2v1m0 30v1m0 1v3m0 32v1m0 19v1m0 1v1m0 5v1m0 2v1m1-195v1m0 9v1m0 10v1m0 1v1m0 1v1m0 18v4m0 1v1m0 30v1m0 9v1m0 52v1m0 9v1m0 20v1m0 4v1m0 6v1m0 34v1m1-207v3m0 3v1m0 3v3m0 104v1m0 5v2m0 13v1m0 16v1m0 6v2m1-175v1m0 3v1m0 1v1m0 13v1m0 20v1m0 52v2m0 49v1m0 17v1m0 22v3m1-206v1m0 12v1m0 28v1m0 11v1m0 19v1m0 82v2m0 3v1m0 30v1m1-194v1m0 35v1m0 7v1m0 40v3m0 15v1m0 6v2m0 19v1m0 37v1m0 10v1m1-174v1m0 1v2m0 20v5m0 1v1m0 1v1m0 19v2m0 32v1m0 24v1m0 45v2m0 18v1m0 7v1m0 6v2m1-210v5m0 67v1m0 11v2m0 4v1m0 8v1m0 2v1m0 22v1m0 63v2m0 7v1m0 10v1m0 41v1m1-250v1m0 3v1m0 7v1m0 14v1m0 3v1m0 10v2m0 35v1m0 2v1m0 15v1m0 17v2m0 19v1m0 48v1m0 8v1m0 9v1m0 1v1m1-191v1m0 5v1m0 17v1m0 13v4m0 58v1m0 5v1m0 54v1m0 6v2m0 5v2m0 2v2m0 3v2m1-172v1m0 1v1m0 25v1m0 18v1m0 21v1m0 2v1m0 5v1m0 66v1m0 10v1m1-63v1m0 15v1m0 14v2m0 4v1m0 25v2m0 9v4m0 2v1m0 8v1m0 25v1m3-238v1m0 1v1m0 5v1m0 29v3m0 1v1m0 42v1m0 4v1m0 19v1m0 36v4m0 19v1m0 23v1m0 10v2m1-154v1m0 3v7m0 7v1m0 10v1m0 13v1m0 23v1m0 7v1m0 45v1m0 1v1m0 16v1m0 8v1m0 1v2m0 1v1m0 1v2m0 26v1m1-210v1m0 6v1m0 14v2m0 54v1m0 6v1m0 30v1m0 58v1m0 3v1m1-214v1m0 4v1m0 1v1m0 11v1m0 14v1m0 6v1m0 2v1m0 36v3m0 15v2m0 74v1m0 19v2m0 2v1m0 14v1m1-183v1m0 32v2m0 18v1m0 6v4m0 4v3m0 3v1m0 6v1m0 9v1m0 49v1m0 7v2m1-159v1m0 40v2m0 14v1m0 17v2m0 12v2m0 3v1m0 2v1m0 3v2m0 31v2m0 6v1m0 6v2m0 1v1m1-177v1m0 1v2m0 10v2m0 2v1m0 1v4m0 40v2m0 13v1m0 8v1m0 19v2m0 3v1m0 2v1m0 62v1m0 7v1m0 6v1m0 17v1m1-166v1m0 49v2m0 1v1m0 39v1m0 3v1m0 24v1m0 60v1m1-231v2m0 1v1m0 21v2m0 27v1m0 25v2m0 44v1m0 63v4m1-194v2m0 19v1m0 56v2m0 17v1m0 15v2m0 11v1m0 31v1m0 13v1m0 18v1m0 11v1m1-196v1m0 44v2m0 1v1m0 10v1m0 1v1m0 3v2m0 1v3m0 11v1m0 3v1m0 1v1m0 12v1m0 9v1m0 6v1m0 33v1m0 12v1m0 1v1m0 2v1m0 14v1m0 7v2m0 6v1m0 1v1m0 31v1m1-241v1m0 3v1m0 13v1m0 7v2m0 16v2m0 19v1m0 89v1m0 37v1m1-197v3m0 6v1m0 26v1m0 7v1m0 11v1m0 15v1m0 9v2m0 22v2m0 4v1m0 5v1m0 6v2m0 22v2m0 8v1m0 12v2m0 51v1m1-181v1m0 8v1m0 23v1m0 33v1m0 20v3m0 10v1m1-147v1m0 14v1m0 40v1m0 19v1m0 29v1m0 32v1m0 5v3m0 18v1m0 2v1m0 3v4m0 11v2m0 9v2m1-194v1m0 1v1m0 18v1m0 19v1m0 1v2m0 5v1m0 1v4m0 1v1m0 4v1m0 19v1m0 20v1m0 63v1m0 5v2m1-162v1m0 18v1m0 1v2m0 14v3m0 5v1m0 46v1m0 74v1m0 21v1m0 27v2m1-234v2m0 2v2m0 1v1m0 1v1m0 34v1m0 18v1m0 4v1m0 14v3m0 15v1m0 5v1m0 1v3m0 10v1m0 44v2m0 4v2m0 31v1m0 1v1m1-208v1m0 16v2m0 23v1m0 1v1m0 5v1m0 5v1m0 1v2m0 9v2m0 1v1m0 60v1m0 21v1m0 31v1m0 1v1m0 17v1m0 3v1m0 7v1m0 10v1m1-217v1m0 11v1m0 48v2m0 1v1m0 2v1m0 1v1m0 1v1m0 1v2m0 31v1m0 50v1m0 44v4m3-212v1m0 31v1m0 4v1m0 1v1m0 39v1m0 18v2m0 19v2m0 18v1m0 33v2m0 1v4m0 12v2m0 2v1m0 6v1m1-184v1m0 3v2m0 8v1m0 5v1m0 1v2m0 10v2m0 20v1m0 20v1m0 15v3m0 20v1m0 14v2m0 22v1m0 24v2m1-209v1m0 39v1m0 35v1m0 50v1m0 52v1m1-139v1m0 6v1m0 60v1m0 4v1m0 40v2m0 2v1m0 8v2m0 9v1m0 1v1m0 26v2m0 5v1m1-200v1m0 24v2m0 6v1m0 33v1m0 3v1m0 25v2m0 1v1m0 73v1m0 18v1m0 35v1m4-116v1m0 53v1m0 19v1m1-202v1m0 10v1m0 28v1m0 1v1m0 15v1m0 9v1m0 102v1m0 7v1m0 22v1m3-209v3m0 25v2m0 11v1m0 22v1m0 25v1m0 5v1m0 12v2m0 36v1m0 8v2m0 16v2m0 21v2m1-188v1m0 66v2m0 4v1m0 25v5m0 9v1m0 42v1m0 5v1m0 22v1m0 10v3m1-163v1m0 33v2m0 44v1m0 16v1m0 22v1m0 3v3m0 6v1m0 2v1m0 14v1m1-204v1m0 3v1m0 18v1m0 26v1m0 4v1m0 86v1m0 6v1m0 1v1m0 12v1m0 1v1m0 1v1m0 23v1m0 16v1m0 1v1m1-207v2m0 28v1m0 21v1m0 1v1m0 3v2m0 23v1m0 33v1m0 10v1m0 10v1m0 8v3m0 10v3m0 3v1m0 3v1m0 12v2m0 3v1m0 3v2m0 9v1m0 4v1m0 38v1m1-174v1m0 4v1m0 14v1m0 86v1m0 45v1m0 19v1m1-240v1m0 32v1m0 7v3m0 7v1m0 3v2m0 6v1m0 29v1m0 4v1m0 1v1m0 1v1m0 15v1m0 17v1m0 4v1m0 30v1m0 5v2m0 7v1m0 12v1m0 8v1m1-224v1m0 63v1m0 2v2m0 16v1m0 15v1m0 4v1m0 5v1m0 4v1m0 1v1m0 6v1m0 18v1m0 30v1m0 14v1m0 3v1m0 14v1m0 1v1m0 21v1m1-233v3m0 6v1m0 2v2m0 17v2m0 29v1m0 3v1m0 26v1m0 21v2m0 24v3m0 21v1m0 28v1m0 2v3m0 8v1m0 11v1m1-145v1m0 4v2m0 2v1m0 5v1m0 2v2m0 3v1m0 27v1m0 31v1m0 2v1m0 14v1m0 10v1m0 2v1m0 9v1m0 7v2m0 2v1m0 1v1m0 11v1m1-225v2m0 34v1m0 41v1m0 25v1m0 3v1m0 4v1m0 16v1m0 25v1m0 2v2m0 8v1m0 4v1m0 1v1m0 3v3m0 6v1m0 9v1m0 5v1m1-181v1m0 71v2m0 22v2m0 31v1m0 3v2m0 7v1m0 5v1m0 6v2m0 38v1m1-169v1m0 51v1m0 7v1m0 23v2m0 5v2m0 8v2m0 4v2m0 10v1m0 3v1m0 16v1m0 42v1m1-233v1m0 7v4m0 22v2m0 5v1m0 8v2m0 6v2m0 45v1m0 12v1m0 23v1m0 30v1m0 4v1m0 14v1m0 2v1m0 21v1m0 7v1m0 17v1m1-208v1m0 2v3m0 3v1m0 91v2m0 10v3m0 20v1m0 42v1m1-168v1m0 6v1m0 26v1m0 6v1m0 34v2m0 23v1m0 2v2m0 34v2m0 5v1m0 1v1m0 7v1m0 2v1m1-180v1m0 19v1m0 25v2m0 26v1m0 39v2m0 4v1m0 7v1m0 6v1m0 7v1m0 3v1m0 3v2m0 18v1m1-149v1m0 4v3m0 21v2m0 50v2m0 4v1m0 1v1m0 1v1m0 6v1m0 21v1m1-161v2m0 17v2m0 8v1m0 3v1m0 1v1m0 23v2m0 16v1m0 34v1m0 33v3m0 6v3m0 8v2m0 1v1m0 49v1m1-229v1m0 34v2m0 2v1m0 15v1m0 2v1m0 39v2m0 6v1m0 6v2m0 1v2m0 29v2m0 11v1m0 17v1m0 11v1m1-194v1m0 4v1m0 3v1m0 6v1m0 1v2m0 19v2m0 6v2m0 7v2m0 13v1m0 61v1m0 11v1m0 30v1m1-180v2m0 94v2m0 2v1m0 3v1m0 28v1m0 48v1m0 1v1m0 14v3m0 13v1m1-222v2m0 1v1m0 4v1m0 8v1m0 15v1m0 17v1m0 18v1m0 39v1m0 9v1m0 8v1m0 11v1m0 30v3m0 16v3m0 2v1m0 14v2m0 13v2m0 22v3m1-189v1m0 7v2m0 25v1m0 14v1m0 78v1m1-186v2m0 23v2m0 12v1m0 20v1m0 11v1m0 57v1m0 12v1m0 3v2m0 4v3m0 31v1m0 10v2m0 15v3m0 24v1m3-213v1m0 10v2m0 21v1m0 4v1m0 7v1m0 14v1m0 6v1m0 12v1m0 3v1m0 8v3m0 9v2m0 12v1m0 1v4m0 10v1m0 3v2m0 31v1m0 1v1m0 6v1m1-196v1m0 20v2m0 61v1m0 37v1m0 6v1m0 31v1m0 26v1m1-194v1m0 16v2m0 2v1m0 3v1m0 149v1m1-180v1m0 10v1m0 5v1m0 13v1m0 40v1m0 75v1m0 9v2m0 17v2m0 18v1m0 22v2m1-193v1m0 3v1m0 1v2m0 1v1m0 7v1m0 9v1m0 1v1m0 17v1m0 26v1m0 23v1m0 29v2m0 4v1m1-172v1m0 4v1m0 1v1m0 14v1m0 2v1m0 3v1m0 48v2m0 8v1m0 24v2m0 5v1m0 11v2m0 31v2m0 17v2m0 15v2m0 5v1m1-201v1m0 18v1m0 9v1m0 13v1m0 11v1m0 11v2m0 2v1m0 17v2m0 8v1m0 2v1m0 12v1m0 25v3m0 3v1m0 2v1m0 10v1m0 15v3m1-196v1m0 39v1m0 4v1m0 7v1m0 19v1m0 4v1m0 15v3m0 15v2m0 3v1m0 1v1m0 1v1m0 12v1m0 60v1m0 2v1m0 1v1m0 46v2m1-250v1m0 2v1m0 2v1m0 3v1m0 22v3m0 29v1m0 74v1m0 11v1m0 34v4m0 15v1m1-205v2m0 19v2m0 1v1m0 11v2m0 8v1m0 9v1m0 19v1m0 2v1m0 2v1m0 8v1m0 5v1m0 48v3m0 1v1m0 26v1m0 12v2m1-188v1m0 8v1m0 42v1m0 13v1m0 6v1m0 23v1m0 8v1m0 5v1m0 34v1m0 27v2m0 2v4m0 3v1m1-165v1m0 7v1m0 9v2m0 7v1m0 107v3m0 6v3m0 10v3m0 14v1m0 3v3m1-204v2m0 12v1m0 19v1m0 4v1m0 17v1m0 9v3m0 51v1m0 41v2m0 18v2m0 3v1m0 5v1m0 53v1m1-232v1m0 12v2m0 19v1m0 10v2m0 20v2m0 4v1m0 17v1m0 27v1m0 47v1m0 5v1m0 18v1m1-203v1m0 8v1m0 26v1m0 10v2m0 11v1m0 6v1m0 20v1m0 1v1m0 49v1m0 49v1m1-156v2m0 20v1m0 2v1m0 27v1m0 12v1m0 45v2m0 11v1m0 5v1m0 12v1m0 7v2m0 3v1m0 6v1m1-194v2m0 13v2m0 1v1m0 1v2m0 15v1m0 2v1m0 31v1m0 26v2m0 32v1m0 12v1m0 1v1m0 20v2m0 1v1m0 3v2m0 21v1m0 25v1m0 1v1m0 5v3m3-223v1m0 22v1m0 25v1m0 37v1m0 7v1m1-73v1m0 3v2m0 5v2m0 58v1m0 96v1m0 4v1m1-216v1m0 6v2m0 23v1m0 16v2m0 11v1m0 1v4m0 8v1m0 5v1m0 5v1m0 5v1m0 5v1m0 1v2m0 4v1m0 5v1m0 12v1m0 41v2m0 8v1m0 28v1m1-214v1m0 1v1m0 34v1m0 5v1m0 14v1m0 1v1m0 1v1m0 18v1m0 3v2m0 4v1m0 1v1m0 5v1m0 9v1m0 9v2m0 78v1m0 7v1m1-158v1m0 3v1m0 2v1m0 15v1m0 91v2m0 11v1m0 1v1m0 3v1m0 3v2m1-147v1m0 3v1m0 7v2m0 17v1m0 18v1m0 8v1m0 92v1m0 26v1m0 1v1m1-222v1m0 5v2m0 1v1m0 1v1m0 19v1m0 1v1m0 12v1m0 7v1m0 2v1m0 4v1m0 7v5m0 7v4m0 6v1m0 15v1m0 7v1m0 23v1m0 8v1m0 27v2m0 18v1m0 4v1m0 32v1m0 6v1m1-214v1m0 80v2m0 38v2m0 5v3m0 5v1m0 11v1m0 1v1m0 23v2m0 2v1m0 31v1m1-250v2m0 2v1m0 4v1m0 8v1m0 14v1m0 6v1m0 3v1m0 32v2m0 9v1m0 1v1m0 2v1m0 2v1m0 18v3m0 3v2m0 65v2m0 19v1m0 3v2m0 35v1m1-210v1m0 12v3m0 5v2m0 35v1m0 44v3m0 7v1m0 3v2m0 4v1m0 17v1m0 9v1m0 21v1m0 13v1m0 24v1m1-253v2m0 6v1m0 5v1m0 30v1m0 15v2m0 3v1m0 35v1m0 7v2m0 7v1m0 45v1m0 9v1m0 2v1m0 10v1m0 10v1m0 1v1m0 5v1m0 4v1m0 1v1m0 5v1m0 3v3m1-194v1m0 77v1m0 1v1m0 4v6m0 25v1m0 20v3m0 1v1m0 15v2m0 9v1m0 6v1m0 5v1m1-213v3m0 19v2m0 22v1m0 6v3m0 2v1m0 9v2m0 14v1m0 7v2m0 21v1m0 38v2m0 32v2m0 8v2m0 6v1m0 11v1m0 25v1m0 1v2" stroke="#cf6650" stroke-opacity="0.8"/><path d="M412.5 33v1m0 1v1m0 2v1m0 19v2m0 3v1m0 10v1m0 6v1m0 65v1m0 24v2m0 21v1m0 4v1m0 32v1m1-201v4m0 2v1m0 50v2m0 14v3m1-75v3m0 31v1m0 21v4m0 24v1m0 21v1m0 12v2m0 61v1m0 6v6m1-201v1m0 28v1m0 14v1m0 1v2m0 16v1m0 47v1m0 7v1m0 12v3m0 23v1m0 12v1m0 36v1m1-183v1m0 33v1m0 20v4m0 101v2m1-184v1m0 8v1m0 30v1m0 4v1m0 5v1m0 5v1m0 52v2m0 14v1m0 3v1m0 8v1m0 6v2m0 7v1m0 5v1m0 7v1m0 10v1m0 18v2m0 7v1m1-200v1m0 6v2m0 6v1m0 22v2m0 27v1m0 76v1m0 28v2m0 13v1m0 1v1m0 29v1m1-200v2m0 21v1m0 51v2m0 12v1m0 15v1m0 11v1m0 1v1m0 37v1m0 22v1m1-212v1m0 36v1m0 20v1m0 58v1m0 12v1m0 59v1m0 1v1m1-197v1m0 14v1m0 15v1m0 144v1m1-176v1m0 11v1m0 17v1m0 80v1m0 52v1m0 43v2m1-211v1m0 8v3m0 11v2m0 2v1m0 41v1m0 14v1m0 3v1m0 13v1m1-90v1m0 1v1m0 5v1m0 8v1m0 5v1m0 8v2m0 17v1m0 16v1m0 7v3m0 2v1m0 6v3m0 81v1m1-186v2m0 25v1m0 1v1m0 15v2m0 14v1m0 5v2m0 45v1m0 6v2m0 65v2m0 5v1m0 4v1m1-184v3m0 21v1m0 7v1m0 4v1m0 9v1m0 174v1m0 2v1m0 9v2m1-251v2m0 7v1m0 29v3m0 17v1m0 97v2m0 49v1m0 5v1m1-199v2m0 1v1m0 7v1m0 20v1m0 2v2m0 111v2m1-147v1m0 28v1m0 4v1m0 193v2m1-236v1m0 1v1m0 31v1m0 4v2m0 2v1m0 6v1m0 110v1m0 1v1m0 1v1m0 16v3m1-201v1m0 54v1m0 1v1m0 56v1m0 16v1m0 10v1m1-137v1m0 7v1m0 16v2m0 5v1m0 3v2m0 5v1m0 8v1m0 5v2m0 1v1m0 40v3m0 5v1m0 18v1m0 8v2m0 13v1m0 6v1m0 6v1m0 7v1m0 9v1m0 18v1m0 12v1m1-223v1m0 36v1m0 78v1m0 23v1m0 16v1m0 74v1m1-229v1m0 1v1m0 1v1m0 19v3m0 8v1m0 27v1m0 3v2m0 1v3m0 101v1m0 64v1m1-222v1m0 40v2m0 6v1m0 11v1m0 3v1m0 2v1m0 11v1m0 13v1m0 3v1m0 55v2m0 2v1m0 8v3m0 24v1m0 7v3m1-195v3m0 53v2m0 42v3m0 8v3m0 25v1m1-173v1m0 2v2m0 14v1m0 12v1m0 2v1m0 12v1m0 8v1m0 1v1m0 24v1m0 17v1m0 4v2m0 10v2m0 129v1m3-230v1m0 11v1m0 22v1m0 7v1m0 1v1m0 62v2m0 27v1m0 13v1m0 28v1m0 49v2m1-248v3m0 9v1m0 31v1m0 110v3m1-157v1m0 12v1m0 1v1m0 43v1m0 22v1m0 26v1m0 42v1m0 1v1m0 18v1m0 12v2m0 2v1m0 3v1m0 9v1m0 22v4m1-234v1m0 3v2m0 1v2m0 16v1m0 6v1m0 8v1m0 11v1m0 8v1m0 1v1m0 58v1m0 40v1m0 13v2m0 42v1m1-193v1m0 1v1m0 18v2m0 111v1m0 5v1m0 15v2m0 19v1m0 39v1m1-245v1m0 15v1m0 74v2m0 4v1m0 15v2m0 92v1m0 16v2m1-214v1m0 17v1m0 24v1m0 85v1m0 18v1m0 6v1m0 1v1m0 28v2m0 20v1m1-191v1m0 12v1m0 5v2m0 2v2m0 1v1m0 70v2m0 12v2m0 47v2m0 6v2m0 8v1m0 37v1m1-241v1m0 20v2m0 22v3m0 98v1m0 22v1m0 3v1m0 7v4m1-197v1m0 6v1m0 1v1m0 58v1m0 17v1m0 8v1m0 45v3m0 37v1m1-129v1m0 10v3m0 58v1m0 12v1m0 47v1m0 37v1m1-221v2m0 7v1m0 13v2m0 6v1m0 29v3m0 21v2m0 75v1m1-162v1m0 8v1m0 3v1m0 13v1m0 0v2m0 11v1m0 34v1m0 47v1m0 51v1m0 3v1m0 6v3m0 7v1m0 6v1m0 7v1m1-199v3m0 180v1m0 7v1m1-209v2m0 40v1m0 1v1m0 8v4m0 4v1m0 29v1m0 63v2m0 55v1m0 12v1m0 5v1m0 9v1m1-229v1m0 1v4m0 24v2m0 26v1m0 7v1m0 11v2m0 12v1m0 4v3m0 2v1m0 1v1m0 4v1m0 1v1m0 28v1m1-145v1m0 44v1m0 5v1m0 19v1m0 18v1m0 5v2m0 12v1m0 28v1m0 52v1m0 5v2m1-195v1m0 29v3m0 14v1m0 51v1m0 57v1m0 49v1m1-211v2m0 1v2m0 2v3m0 9v1m0 80v1m0 37v2m0 9v1m1-152v2m0 22v1m0 8v1m0 38v1m0 74v1m0 8v1m0 54v1m0 8v1m1-214v1m0 14v1m0 26v2m0 50v1m1-104v2m0 3v1m0 4v1m0 63v1m0 81v1m0 58v1m0 18v1m1-228v1m0 9v1m0 1v1m0 4v1m0 13v1m0 34v1m0 20v1m0 3v1m0 40v2m0 1v1m0 2v2m0 3v2m0 29v1m1-191v2m0 4v1m0 23v1m0 5v1m0 46v2m0 38v1m0 2v3m0 25v2m0 51v1m1-198v1m0 1v1m0 21v1m0 19v1m0 10v1m0 69v1m0 73v1m1-208v2m0 15v2m0 15v1m0 19v1m0 7v1m0 19v1m0 10v1m0 1v1m0 3v2m0 10v1m0 80v1m0 4v1m1-198v1m0 30v1m0 78v1m0 130v1m1-179v1m0 3v2m0 37v1m0 4v3m0 82v2m0 13v1m1-214v1m0 13v1m0 3v1m0 3v1m0 9v1m0 2v2m0 31v1m0 22v2m0 20v3m0 6v1m0 38v1m0 40v1m1-168v1m0 28v1m0 4v1m0 23v2m0 103v1m0 3v1m1-183v1m0 23v1m0 70v3m0 9v1m0 4v1m0 12v1m0 13v2m0 5v1m0 29v1m0 13v1m0 6v1m1-213v2m0 1v1m0 2v1m0 37v1m0 6v1m0 27v1m0 42v1m0 49v1m0 75v1m1-252v1m0 7v1m0 30v2m0 3v1m0 7v1m0 1v1m0 1v1m0 70v1m0 69v1m0 23v1m1-219v1m0 7v1m0 6v1m0 22v1m0 1v1m0 1v1m0 1v1m0 110v1m0 56v1m1-201v2m0 1v1m0 12v1m0 1v1m0 13v1m0 10v1m0 11v1m0 30v1m0 17v1m0 16v2m0 46v1m0 27v2m1-205v1m0 3v2m0 8v2m0 5v1m0 86v1m0 25v1m0 13v1m0 25v1m1-182v2m0 7v1m0 16v2m0 89v1m0 63v2m1-178v1m0 1v1m0 20v1m0 5v3m0 24v1m0 47v1m0 31v1m1-145v1m0 45v1m0 117v1m0 6v1m1-129v1m0 24v1m0 21v1m0 99v1m0 4v2m1-165v1m0 1v1m0 12v4m0 28v3m0 66v1m0 22v1m0 14v1m1-157v2m0 0v2m0 137v1m0 37v1m1-193v1m0 1v2m0 21v1m0 1v2m0 117v1m0 25v1m1-171v1m0 12v1m0 11v1m0 2v1m0 9v1m0 7v1m0 27v1m0 7v2m0 54v2m0 54v2m1-201v1m0 6v3m0 39v1m0 4v1m0 12v1m0 20v1m0 62v1m0 18v1m0 1v2m0 8v2m0 6v3m0 1v1m0 3v1m1-192v1m0 69v1m0 1v1m0 49v2m0 28v1m0 1v1m1-176v1m0 8v1m0 1v2m0 1v1m0 6v2m0 14v1m0 5v1m0 13v1m0 17v1m0 16v1m0 25v1m0 30v2m1-129v1m0 16v1m0 4v1m0 1v3m0 18v3m0 14v1m0 27v2m0 35v1m0 16v1m1-154v1m0 18v1m0 8v1m0 1v6m0 10v1m0 29v1m0 49v1m0 18v1m0 44v2m0 16v1m0 27v1m1-243v2m0 13v1m0 12v1m0 63v1m0 47v1m0 1v1m0 7v2m0 25v1m1-184v1m0 10v2m0 6v1m0 33v1m0 3v1m0 8v1m0 22v1m0 50v1m0 5v1m0 68v1m1-202v1m0 7v1m0 8v1m0 1v2m0 2v1m0 27v1m0 11v3m0 11v1m0 12v1m0 61v1m0 7v1m0 63v1m1-234v1m0 13v2m0 13v1m0 46v1m0 39v1m0 2v1m0 20v1m0 40v1m3-186v1m0 1v1m0 43v1m0 13v1m0 55v1m0 1v1m0 1v1m0 5v1m0 2v1m0 1v1m0 41v1m0 1v1m0 34v2m1-201v1m0 190v3m0 9v1m1-179v2m0 4v2m0 3v2m0 47v2m0 91v1m1-193v4m0 1v1m0 38v1m0 8v3m0 39v1m0 33v1m0 14v2m0 8v1m0 17v1m0 34v1m1-199v1m0 3v2m0 8v1m0 1v1m0 1v2m0 17v1m0 7v1m0 7v1m0 18v1m0 94v1m0 2v1m0 10v2m0 4v2m0 7v1m1-206v1m0 17v2m0 13v1m0 115v1m0 8v1m0 2v2m0 61v1m1-194v1m0 32v1m0 4v2m0 50v1m0 12v1m0 26v1m0 2v2m0 21v1m0 22v2m1-209v2m0 11v2m0 15v2m0 19v1m0 38v3m0 17v1m0 11v3m0 69v1m0 5v1m0 1v1m1-204v1m0 11v1m0 19v1m0 72v3m0 34v1m0 52v1m1-187v1m0 11v1m0 97v4m0 4v2m0 27v1m0 13v1m0 14v2m0 61v1m1-249v4m0 7v1m0 25v2m0 5v2m0 24v1m0 54v1m0 5v1m1-127v3m0 10v1m0 5v1m0 6v1m0 23v1m0 1v2m0 71v3m0 15v1m0 82v1m1-234v1m0 1v1m0 7v1m0 57v2m0 121v2m0 9v1m0 8v1m0 10v2m1-203v1m0 23v2m0 8v1m0 50v2m0 12v3m0 36v1m0 29v2m0 26v1m1-215v1m0 3v1m0 12v1m0 75v2m1-88v2m0 94v3m0 15v2m0 6v1m0 12v1m0 10v1m0 2v1m0 6v2m0 9v1m0 3v1m0 9v2m1-177v1m0 4v1m0 42v2m0 24v1m0 10v1m0 40v2m0 1v1m0 1v1m0 1v1m0 1v1m0 36v1m0 28v1m1-211v3m0 36v1m0 5v1m0 2v1m0 1v1m0 9v1m0 38v1m0 22v2m1-91v1m0 4v1m0 19v1m0 14v1m0 9v1m0 2v3m0 53v1m0 9v4m0 30v2m0 13v1m1-205v1m0 26v2m0 16v2m0 36v2m0 12v1m0 73v2m0 1v2m0 30v1m0 2v1m1-200v2m0 1v1m0 26v1m0 4v1m0 14v1m0 2v3m0 23v1m0 8v1m0 32v1m0 30v1m1-164v1m0 5v2m0 11v1m0 4v2m0 5v1m0 29v1m0 84v1m0 13v3m0 58v1m1-212v1m0 2v3m0 28v1m0 18v1m0 27v1m0 2v2m0 54v3m0 21v1m0 8v1m0 43v1m1-220v1m0 1v1m0 3v1m0 31v1m0 18v1m0 69v1m0 18v1m0 17v1m0 11v1m0 3v2m0 19v1m0 4v1m1-210v1m0 13v1m0 5v2m0 3v1m0 15v1m0 16v1m0 1v1m0 60v1m0 18v1m0 68v1m1-200v2m0 28v1m0 15v1m0 24v3m0 26v1m0 2v5m0 76v1m0 20v2m0 6v3m1-228v1m0 34v1m0 4v1m0 4v1m0 68v1m3-118v2m0 5v1m0 5v3m0 38v1m0 11v1m0 2v1m0 12v2m0 25v1m0 38v1m0 11v1m0 10v1m0 14v3m0 53v1m0 2v1m1-232v1m0 3v1m0 18v1m0 3v3m0 7v1m0 1v2m0 27v1m0 14v1m0 10v1m0 7v2m0 11v1m0 11v4m0 10v1m0 18v2m0 10v1m0 14v1m0 1v1m1-203v1m0 67v2m0 20v3m0 24v3m0 10v1m0 17v1m0 4v1m0 18v1m0 10v2m0 1v1m0 12v1m0 13v1m1-215v1m0 13v1m0 47v1m0 6v1m0 3v2m0 1v1m0 86v2m0 9v3m0 10v1m0 16v1m1-206v2m0 13v1m0 12v1m0 2v1m0 14v1m0 25v1m0 4v1m0 7v3m0 40v2m0 8v2m0 24v1m0 9v3m0 8v2m0 5v1m1-195v1m0 53v3m0 15v2m0 5v1m0 3v2m0 1v1m0 20v1m0 34v1m0 2v1m1-141v2m0 38v1m0 3v2m0 72v1m0 1v2m0 37v1m0 1v2m0 9v1m1-129v1m0 24v2m0 5v2m0 12v1m0 11v1m0 15v1m0 42v1m0 9v1m0 22v1m1-180v1m0 64v1m0 4v1m0 3v1m0 6v1m0 1v1m0 19v1m1-116v3m0 6v1m0 47v1m0 18v2m0 8v2m0 28v1m0 16v2m0 1v2m0 2v1m0 18v1m0 10v1m0 6v2m0 2v1m0 3v1m0 5v1m1-187v1m0 5v1m0 20v1m0 2v4m0 3v1m0 49v1m0 1v1m0 47v1m0 2v1m0 13v1m0 28v1m0 1v1m0 18v1m1-207v2m0 26v1m0 16v1m0 7v2m0 34v3m0 8v1m1-94v1m0 43v1m0 15v1m0 15v1m0 3v1m0 3v2m0 37v4m0 78v1m1-223v1m0 47v1m0 15v1m0 6v1m0 7v2m0 6v1m0 1v2m0 1v2m0 15v1m0 64v1m1-157v1m0 11v2m0 63v1m0 2v1m0 26v1m0 64v1m1-189v2m0 6v1m0 2v1m0 76v2m0 1v1m0 21v1m0 3v1m0 45v1m1-132v1m0 32v1m0 50v1m0 7v1m0 48v1m0 47v2m0 14v1m1-225v1m0 3v1m0 71v2m0 3v2m0 25v2m0 5v3m0 5v1m0 2v1m0 6v3m0 14v1m0 74v1m1-197v2m0 7v1m0 13v1m0 13v1m0 12v1m0 48v1m0 6v1m0 7v1m0 12v1m0 12v1m0 3v1m0 20v1m1-210v1m0 8v3m0 5v1m0 9v1m0 19v1m0 1v2m0 20v1m0 26v1m0 1v1m0 16v3m0 27v1m0 8v1m3-135v4m0 4v2m0 24v1m0 48v1m0 11v1m0 8v1m0 1v1m0 28v1m0 13v1m0 12v1m1-135v2m0 55v2m0 3v1m0 21v1m0 45v2m0 2v1m0 23v2m0 18v1m1-217v1m0 5v1m0 25v1m0 23v1m0 22v1m0 18v2m0 1v1m0 11v1m0 45v1m0 4v1m0 2v2m0 22v1m1-203v2m0 1v1m0 52v1m0 126v1m0 13v1m0 7v1m0 29v1m1-222v3m0 45v3m0 34v1m0 17v1m0 12v1m0 11v3m0 38v2m4-187v2m0 8v1m0 18v1m0 15v1m0 94v1m0 1v1m0 16v1m1-152v1m0 87v1m0 47v2m0 46v6m0 13v1m0 5v1m0 24v1m3-242v1m0 39v1m0 9v1m0 3v2m0 24v2m0 5v1m0 19v1m0 8v1m0 27v1m0 21v1m0 32v1m0 16v1m0 4v4m0 1v1m0 25v1m1-210v2m0 20v1m0 35v2m0 2v2m0 5v1m0 7v1m0 33v1m0 11v1m0 18v1m0 1v1m0 28v1m1-186v1m0 25v3m0 1v3m0 1v1m0 27v3m0 14v2m0 69v1m0 10v1m1-192v1m0 8v1m0 2v1m0 3v1m0 1v2m0 8v2m0 37v2m0 2v1m0 17v2m0 27v1m0 8v1m0 8v1m0 15v1m0 3v1m0 1v3m0 9v1m0 6v1m0 1v2m0 13v1m1-152v1m0 2v1m0 12v1m0 51v1m0 60v1m0 3v1m0 8v1m0 14v1m0 14v1m0 4v2m0 6v1m0 8v2m0 1v2m1-228v3m0 92v1m0 31v2m0 2v2m0 1v1m0 8v1m0 33v1m0 8v1m0 19v1m0 3v1m1-204v2m0 119v1m0 7v1m0 15v1m0 48v1m1-196v1m0 50v1m0 4v1m0 9v3m0 33v1m0 7v1m0 49v1m0 5v2m1-167v1m0 86v1m0 40v1m0 22v1m0 14v1m0 1v1m0 1v1m1-183v1m0 2v3m0 37v1m0 1v1m0 32v3m0 52v1m0 27v6m0 7v1m0 20v1m0 16v2m1-222v1m0 13v1m0 1v2m0 1v1m0 37v1m0 55v1m0 9v1m0 6v1m0 17v1m0 15v1m0 4v1m0 16v1m1-177v1m0 1v1m0 35v1m0 20v1m0 12v1m0 35v1m0 45v2m0 28v1m1-193v1m0 84v1m0 60v1m0 9v1m0 10v1m0 44v1m1-213v2m0 44v1m0 64v1m0 3v1m0 17v1m0 22v1m0 17v1m0 10v2m0 48v1m1-208v2m0 53v1m0 26v2m0 4v1m0 28v1m0 37v1m0 12v5m1-206v1m0 15v1m0 16v4m0 44v1m0 3v3m0 112v3m0 6v1m1-166v4m0 2v1m0 3v1m0 1v1m0 5v2m0 1v1m0 75v1m0 6v1m0 1v1m0 28v1m0 21v2m0 12v2m0 8v2m1-182v1m0 5v1m0 5v1m0 6v1m0 15v3m0 4v1m0 5v1m0 9v1m0 34v1m0 27v1m0 10v1m1-178v1m0 14v2m0 1v2m0 11v1m0 27v2m0 25v1m0 61v1m0 50v1m0 8v2m1-201v1m0 22v1m0 5v1m0 16v1m0 17v1m0 16v1m0 15v2m0 40v1m0 68v1m0 7v2m1-224v3m0 1v1m0 12v2m0 108v1m0 7v1m0 1v1m0 9v1m0 25v1m0 3v1m0 11v2m0 1v1m0 18v1m0 8v1m1-221v1m0 6v3m0 44v1m0 15v4m0 6v1m0 6v1m0 2v1m0 80v1m0 5v1m0 32v1m1-204v1m0 24v1m0 60v2m0 19v1m0 5v2m0 2v1m0 61v1m0 8v3m1-159v2m0 12v2m0 48v1m0 9v1m0 16v1m0 11v2m0 25v2m0 25v1m0 2v1m0 19v1m1-174v2m0 73v1m0 15v2m0 23v2m0 5v1m0 1v1m0 1v2m0 7v1m0 6v1m0 51v1m3-236v1m0 10v1m0 1v2m0 16v1m0 6v1m0 4v1m0 1v2m0 1v1m0 4v2m0 3v1m0 1v1m0 20v2m0 17v2m0 61v2m0 3v1m0 16v1m0 1v4m0 1v2m0 14v1m1-210v2m0 4v1m0 37v1m0 1v1m0 11v2m0 21v2m0 21v2m0 62v1m0 12v1m0 4v1m0 1v2m0 5v2m0 7v1m1-205v1m0 39v1m0 5v3m0 49v1m0 51v3m0 25v1m0 1v1m0 1v1m0 11v2m0 1v6m0 6v1m1-180v1m0 5v1m0 101v2m0 11v2m0 12v1m0 4v1m0 1v1m0 9v1m0 13v1m1-205v1m0 32v2m0 9v1m0 142v2m0 9v1m0 13v1m0 24v2m1-218v1m0 27v1m0 63v1m0 52v2m0 11v1m0 11v1m0 9v3m0 9v1m1-183v1m0 6v1m0 9v2m0 1v3m0 1v1m0 11v1m0 23v3m0 28v1m0 53v1m0 15v1m0 16v1m1-202v1m0 1v1m0 24v1m0 29v1m0 19v1m0 39v2m0 55v1m0 20v2m0 18v1m1-180v1m0 1v1m0 2v3m0 41v2m0 7v1m0 16v2m0 1v1m0 5v1m0 30v2m0 31v1m0 10v1m0 5v1m0 7v1m1-218v1m0 6v1m0 1v1m0 10v2m0 12v1m0 10v2m0 3v1m0 1v1m0 16v1m0 99v1m0 2v1m0 2v3m0 23v1m0 1v1m1-183v1m0 16v1m0 38v1m0 11v1m0 8v1m0 59v1m0 13v1m0 2v1m0 35v1m1-191v2m0 7v1m0 10v4m0 4v3m0 1v1m0 8v1m0 10v1m0 23v2m0 24v3m0 24v1m0 7v1m0 17v1m0 27v1m0 7v1m1-204v1m0 13v1m0 24v1m0 8v1m0 6v1m0 14v3m0 69v2m0 7v1m0 20v1m0 3v2m0 16v2m0 1v3m0 5v1m1-210v1m0 40v1m0 38v1m0 17v1m0 35v1m0 47v1m0 3v1m0 10v1m0 6v1m0 16v1m1-196v1m0 25v1m0 19v1m0 14v2m0 1v1m0 30v1m0 2v1m0 30v1m0 28v1m0 8v1m0 1v1m1-190v1m0 42v1m0 4v2m0 1v2m0 112v1m0 4v2m0 19v1m0 10v1m0 3v1m0 4v1m1-218v1m0 23v1m0 33v1m0 1v2m0 35v1m0 41v1m0 16v1m0 17v2m0 27v1m0 38v1m3-239v1m0 4v1m0 1v1m0 3v2m0 6v1m0 34v1m0 13v1m0 32v1m0 1v2m0 15v1m0 11v1m0 25v1m0 29v3m1-197v1m0 7v1m0 12v2m0 10v1m0 2v1m0 16v1m0 16v1m0 5v1m0 4v1m0 54v2m0 56v1m0 11v2m0 36v1m1-198v4m0 3v3m0 10v1m0 59v2m0 11v1m0 23v1m0 7v1m0 10v2m0 24v1m0 1v1m0 21v1m0 5v1m0 3v1m1-233v1m0 1v1m0 14v2m0 51v1m0 5v1m0 27v1m0 11v1m0 2v2m0 37v1m0 3v3m0 6v2m0 1v1m0 23v1m0 17v2m0 6v2m0 4v1m1-240v1m0 15v1m0 14v1m0 12v2m0 56v1m0 4v1m0 31v1m0 31v2m0 15v1m0 12v3m0 1v1m0 23v1m0 3v1m1-196v2m0 12v1m0 14v1m0 11v2m0 5v1m0 89v2m0 22v1m0 3v1m1-204v1m0 1v1m0 22v1m0 6v1m0 23v1m0 37v1m0 11v1m0 3v1m0 5v1m0 6v2m0 14v2m0 8v3m0 10v1m0 3v1m0 4v1m0 1v1m0 19v1m0 14v1m0 11v1m0 13v1m0 8v2m1-218v1m0 20v3m0 2v2m0 2v1m0 47v2m0 14v2m0 19v2m0 30v1m0 15v1m0 6v1m0 5v1m1-194v1m0 57v1m0 37v1m0 29v1m0 6v2m0 8v1m0 12v3m0 6v2m0 19v2m0 12v1m0 10v1m1-223v1m0 133v1m0 54v1m1-159v1m0 7v1m0 40v1m0 43v1m0 3v1m0 16v1m0 21v1m0 71v4m0 5v1m1-197v1m0 12v1m0 2v1m0 11v1m0 103v1m0 8v2m0 1v1m0 6v1m0 3v2m0 16v1m1-130v1m0 15v1m0 13v1m0 2v1m0 7v1m0 2v1m0 19v1m0 11v1m0 10v3m0 22v1m0 3v1" stroke="#b03a30" stroke-opacity="0.8"/><path d="M412.5 44v2m0 109v1m1-74v1m0 10v1m0 106v1m0 2v1m0 1v2m0 57v1m1-191v1m0 86v3m0 66v1m1-187v3m0 12v2m0 49v1m1-83v1m0 7v1m0 9v1m0 27v1m0 84v1m1-99v1m0 59v1m0 34v1m0 72v1m0 21v1m1-217v1m0 105v1m0 108v1m0 7v1m0 14v1m1-246v1m0 8v3m0 7v1m0 13v1m0 27v1m0 2v1m0 54v3m1-105v1m0 66v2m0 30v1m0 7v1m0 119v1m1-239v1m0 4v1m0 16v1m0 7v1m0 11v1m1-45v1m0 41v1m0 14v1m0 11v2m0 13v1m0 62v1m0 3v2m0 28v1m1-179v1m0 8v1m0 21v3m0 49v1m0 67v2m0 6v1m0 56v1m0 17v2m1-224v1m0 28v1m0 13v1m0 22v1m0 111v3m0 11v1m1-190v1m0 50v1m0 6v1m0 99v2m0 4v1m0 30v1m0 22v2m1-242v1m0 1v1m0 31v1m0 92v1m0 38v1m1-166v1m0 6v1m0 1v1m0 46v2m1-54v3m0 55v1m0 30v2m0 16v2m0 6v2m0 53v1m0 6v1m0 12v1m0 4v1m1-184v1m0 2v1m0 18v1m0 23v1m0 6v1m0 46v1m0 14v2m0 46v2m1-114v1m0 14v1m0 59v1m0 9v1m0 69v2m1-185v1m0 12v1m0 10v1m0 85v1m0 25v1m0 8v1m0 62v1m1-228v1m0 31v1m1-51v2m0 39v1m0 197v1m1-243v1m0 17v4m0 28v1m0 14v1m0 108v1m0 12v1m0 6v1m0 40v1m1-202v1m0 45v1m0 25v1m0 4v2m0 6v1m1-90v1m0 13v2m0 8v1m0 9v2m0 100v4m1-60v1m0 15v1m0 24v1m0 21v1m3-129v1m0 71v1m0 59v1m1-177v2m0 24v1m0 29v1m0 147v1m0 4v1m1-196v1m0 1v1m0 83v2m0 14v2m0 58v1m0 8v1m0 30v1m1-172v1m0 2v1m0 52v2m1-90v1m0 5v1m0 27v2m0 12v3m0 89v1m0 32v1m0 26v1m0 27v1m1-162v2m0 104v1m1-150v1m0 146v5m0 24v1m1-215v2m0 49v1m0 12v1m0 35v1m0 14v1m0 70v2m0 1v1m0 3v1m0 54v2m1-236v1m0 52v1m0 57v1m0 52v1m1-167v1m0 14v2m0 20v3m0 151v1m1-168v1m0 166v1m1-160v1m0 6v2m0 4v1m0 11v2m1-15v1m0 40v1m0 61v1m0 71v1m0 3v1m0 17v1m1-247v4m0 1v1m0 15v1m0 4v3m0 29v1m0 15v1m0 45v1m0 48v1m0 36v1m1-214v1m0 19v2m0 86v2m0 97v1m0 29v3m1-240v1m0 32v1m0 2v1m0 27v1m0 37v1m0 77v2m1-177v1m0 9v2m0 160v2m1-155v1m0 26v1m0 9v1m0 3v1m1-62v1m0 24v1m0 23v1m0 89v1m0 38v1m0 16v1m1-184v1m0 5v1m0 49v2m0 65v3m0 7v1m0 25v1m0 74v2m1-206v1m0 9v1m0 7v2m0 78v1m0 51v1m0 16v2m1-212v2m0 63v1m0 23v1m0 50v2m0 13v1m0 14v1m0 29v1m1-196v1m0 1v1m0 24v2m0 31v2m0 99v1m0 55v1m1-179v1m0 19v1m0 11v1m0 33v2m1-107v1m0 34v1m0 37v2m0 159v1m1-236v1m0 3v2m0 21v1m0 19v1m0 148v1m1-189v2m0 106v2m0 48v1m1-141v2m0 1v1m0 7v1m0 7v4m1-48v1m0 21v1m0 98v1m1-120v2m0 4v1m0 13v2m0 59v1m0 108v1m1-95v1m0 36v1m0 5v1m0 5v2m0 57v2m1-169v1m0 10v1m0 2v2m0 31v1m0 21v3m1-97v1m0 4v1m0 2v1m0 1v1m0 29v2m0 50v1m0 18v1m0 43v4m0 8v1m1-25v1m1-161v2m0 3v1m0 108v1m0 46v1m1-167v2m0 2v1m0 15v2m0 34v2m0 55v1m0 20v1m0 55v2m0 2v1m0 5v1m1-194v1m0 12v1m0 24v1m0 126v1m0 3v2m1-158v3m0 10v1m0 1v1m0 12v1m0 9v1m0 32v2m0 79v1m1-153v1m0 2v1m0 31v1m0 64v1m0 10v1m0 43v1m1-171v1m0 8v1m0 21v1m0 9v2m0 16v1m0 2v1m1-64v1m0 9v2m0 4v1m0 1v1m0 31v1m0 1v2m0 99v1m0 22v1m1-120v1m0 38v1m0 63v2m0 22v1m0 1v1m0 7v1m0 2v1m1-59v2m0 13v1m1-21v1m0 41v1m0 16v2m1-195v1m0 210v1m1-152v2m0 66v1m0 20v2m1-119v1m0 14v1m0 4v1m0 12v1m0 62v1m0 49v1m1-183v1m0 7v1m0 9v1m0 10v1m0 4v1m0 3v1m0 21v1m0 67v1m0 47v1m1-173v1m0 24v2m0 4v2m0 14v1m0 92v1m0 19v3m0 23v1m1-145v4m0 12v3m0 80v1m0 31v1m0 36v1m1-215v1m0 3v1m0 5v2m0 14v2m0 8v1m0 129v2m0 13v2m1-163v1m0 8v2m0 54v1m0 2v1m0 32v1m1-107v1m0 104v1m0 9v2m0 19v3m3-135v1m0 20v3m0 2v1m0 10v1m0 3v1m0 138v2m1-170v1m0 3v1m0 9v3m0 78v1m0 31v1m1-138v1m0 91v1m0 37v2m1-142v1m0 50v1m0 131v1m1-190v1m0 5v1m0 20v1m0 33v2m0 1v1m0 19v1m0 12v2m0 84v1m0 24v2m0 20v1m1-229v1m0 15v1m0 11v1m0 2v2m0 12v1m0 32v1m0 56v1m0 23v1m0 5v1m1-131v2m0 7v2m0 61v1m0 43v2m1-154v1m0 1v1m0 97v1m0 3v1m0 34v1m0 22v2m0 18v2m0 23v2m1-206v3m0 48v1m0 3v1m0 3v1m0 125v1m1-188v1m0 39v1m0 9v1m0 31v1m0 22v1m0 13v1m0 87v1m0 1v1m1-183v2m0 13v2m0 78v1m0 56v2m0 17v1m0 11v1m0 4v1m0 1v2m0 16v1m1-227v1m0 7v1m0 5v2m0 21v2m0 111v2m0 13v2m0 4v1m0 25v1m1-210v2m0 1v1m0 9v1m0 31v4m0 42v1m0 33v1m0 39v1m0 44v4m1-211v3m0 5v2m0 1v2m0 4v3m0 16v1m0 6v1m0 12v2m0 52v1m0 49v1m0 17v1m0 17v1m0 19v2m0 15v1m1-52v3m0 38v1m1-184v1m0 80v1m0 35v1m1-159v2m0 27v1m0 14v1m0 6v1m0 1v1m0 2v1m0 70v1m0 20v1m0 19v1m1-143v1m0 1v1m0 24v1m0 5v1m0 53v3m0 5v1m1-124v2m0 18v1m0 17v2m0 5v3m0 4v1m0 1v2m0 3v1m0 6v1m0 63v1m0 50v2m0 12v1m0 38v2m1-232v1m1-8v1m0 17v1m0 2v2m0 36v3m0 21v1m0 125v1m1-211v2m0 36v1m0 14v2m0 1v2m0 123v1m1-171v1m0 19v1m0 4v1m0 8v1m1-46v1m0 21v1m0 5v1m0 60v1m0 54v1m1-135v2m0 6v1m0 12v2m0 22v2m0 94v1m0 8v2m0 5v2m0 33v1m0 19v1m1-156v1m0 108v2m1-114v2m0 22v1m0 78v3m0 24v1m0 35v2m3-232v2m0 19v2m0 3v1m0 51v1m0 35v1m0 8v4m0 22v1m0 17v1m0 4v1m0 7v1m0 15v2m1-163v1m0 36v2m0 16v1m0 94v1m0 1v1m1-187v1m0 98v1m0 95v1m0 3v2m1-188v2m0 16v1m0 52v1m0 3v1m0 1v1m0 50v1m0 30v1m1-151v1m0 73v1m0 45v1m0 17v1m1-157v3m0 8v1m0 52v1m0 5v1m0 21v1m0 30v1m0 70v4m0 6v1m0 4v1m0 38v1m1-207v1m0 53v1m0 4v1m0 26v1m1-62v1m0 11v2m0 72v4m0 10v1m0 7v1m0 32v2m0 2v1m0 34v2m1-249v3m0 1v1m0 20v1m0 57v1m0 69v1m1-153v1m0 22v1m0 46v1m0 24v3m0 2v2m1-98v2m0 19v2m0 96v3m0 12v1m0 20v1m0 61v1m1-228v2m0 7v1m0 41v1m0 29v2m0 24v2m0 36v1m0 40v2m0 5v1m1-189v3m0 72v1m0 19v1m0 32v1m0 56v1m0 13v2m0 45v1m1-219v1m0 22v1m0 19v1m0 6v1m0 35v1m0 7v1m0 3v1m1-130v1m0 1v1m0 1v1m0 82v1m0 1v1m0 1v2m0 25v1m0 81v1m0 7v1m0 2v1m1-194v1m0 25v1m0 6v1m0 20v2m0 6v2m0 15v1m1-47v1m0 45v1m0 39v1m0 39v2m1-163v1m0 46v1m0 43v2m0 7v2m0 9v1m0 14v1m1-131v1m0 5v2m0 9v2m0 5v1m0 45v1m0 14v1m0 1v1m0 13v1m0 41v1m0 7v2m0 14v2m1-169v1m0 48v1m0 13v1m0 1v1m0 53v1m0 53v1m0 1v1m0 63v1m3-235v1m0 44v1m0 3v2m0 20v2m0 24v1m0 3v1m0 76v4m0 1v2m1-161v1m0 74v4m0 1v1m0 7v1m0 26v2m0 1v1m0 75v1m1-229v1m0 45v1m0 50v1m0 11v1m0 2v1m0 10v1m0 7v1m0 9v1m0 39v1m1-176v1m0 3v1m0 90v1m0 1v1m0 6v1m1-87v1m0 72v1m0 21v1m0 28v3m0 20v1m0 25v1m4-202v1m0 9v1m0 15v2m0 5v1m0 77v2m0 8v1m0 22v1m0 7v1m0 18v2m1-162v1m0 38v1m0 5v1m0 2v4m0 19v1m0 70v1m0 6v1m0 1v1m0 76v2m3-230v1m0 59v2m0 80v1m0 10v1m0 17v1m0 1v1m0 19v1m1-209v2m0 17v3m0 137v1m0 4v1m0 8v1m0 5v1m0 1v1m1-129v1m0 36v1m0 36v1m0 51v1m0 9v2m0 25v1m0 23v1m1-196v1m0 16v5m0 15v1m0 16v1m0 85v1m0 1v1m0 28v1m1-202v1m0 93v1m1 97v1m0 8v1m1-198v2m0 28v3m0 37v1m0 11v1m0 58v2m0 12v2m0 31v1m0 34v4m1-230v2m0 39v1m0 94v1m0 26v1m0 18v1m0 17v1m1-198v1m0 25v1m0 19v1m0 105v1m1-152v1m0 42v1m0 7v1m1-43v1m0 145v1m0 19v1m0 47v1m1-234v1m0 36v1m0 41v2m0 23v1m0 3v1m0 56v1m0 15v2m0 6v3m1-196v2m0 61v1m0 22v2m0 6v2m0 71v1m0 3v1m1-179v2m0 34v1m0 10v1m0 117v2m0 8v1m0 12v1m0 22v1m1-155v1m0 4v2m0 60v1m0 40v1m0 1v1m0 6v1m1-173v1m0 3v1m0 44v1m0 2v1m0 14v2m0 1v1m0 27v1m0 1v1m0 69v2m0 1v1m1-80v1m0 13v1m0 16v3m0 14v1m0 15v1m0 8v1m0 26v1m0 25v1m0 13v1m1-225v1m0 34v1m0 50v3m0 31v1m0 12v1m0 15v1m0 17v1m0 27v2m0 43v1m1-244v1m0 1v1m0 17v1m0 36v1m0 17v1m0 53v1m0 17v1m0 2v2m0 12v1m1-150v1m0 32v2m0 54v1m0 41v1m0 37v1m1-178v1m0 72v1m0 22v1m0 35v1m0 17v1m0 23v1m0 44v1m1-191v1m0 23v1m0 106v1m0 21v2m0 17v1m1-199v1m0 1v1m0 23v2m0 7v1m0 3v2m0 47v1m0 94v1m1-157v1m0 33v2m0 7v1m0 4v1m0 6v1m0 1v1m0 78v1m0 61v1m0 6v3m1-237v2m0 37v1m0 7v1m0 34v3m0 25v1m0 60v2m0 9v3m0 2v1m0 24v1m0 1v1m3-217v1m0 96v1m0 15v1m0 56v1m0 5v2m1-187v1m0 13v1m0 180v1m1-178v2m0 1v3m0 6v1m0 7v1m0 13v2m0 4v1m0 84v2m0 95v1m1-235v2m0 38v1m0 9v1m0 3v1m0 1v2m0 13v3m0 31v2m0 7v2m0 60v1m0 23v1m0 9v1m1-199v1m0 40v1m0 2v1m0 16v1m0 80v2m0 9v2m0 38v1m1-118v1m0 6v1m0 69v1m0 4v1m0 2v1m0 1v1m0 1v1m0 7v1m0 8v1m0 1v1m0 41v1m1-243v1m0 35v1m0 17v1m0 6v2m0 73v2m1-133v1m0 24v1m0 20v2m0 11v1m0 26v1m0 10v1m0 17v1m0 43v3m0 12v2m0 1v2m0 1v1m0 20v1m1-71v1m0 21v3m0 16v1m1-156v1m0 12v1m0 87v1m0 28v1m0 26v3m0 19v1m0 1v1m0 5v1m1-215v2m0 87v1m0 8v1m0 63v1m0 2v1m0 10v1m0 37v1m1-150v1m0 124v1m1-161v1m0 12v1m0 7v1m0 4v1m0 7v1m0 123v1m0 9v1m0 10v1m0 3v1m1-217v1m0 19v1m0 28v1m0 143v1m0 12v2m0 34v1m1-237v1m0 7v2m0 1v1m0 66v2m0 33v1m0 54v2m0 9v1m0 18v1m0 4v1m1-191v1m0 14v2m0 8v2m0 19v1m0 1v1m0 21v2m0 53v1m0 6v1m0 22v1m0 10v1m1-172v1m0 32v1m0 5v1m0 33v1m0 33v2m0 19v1m0 11v6m0 25v1m0 6v1m0 4v1m0 4v1m0 7v1m3-58v1m0 49v3m0 16v2m0 11v1m0 6v1m1-236v1m0 22v3m0 13v1m0 43v2m0 2v1m0 7v1m0 69v2m0 13v1m0 65v1m1-254v1m0 67v1m0 40v2m0 111v1m1-203v1m0 6v2m0 124v2m0 11v1m0 26v1m0 15v1m0 6v2m0 15v1m0 7v2m0 5v1m1-239v1m0 6v1m0 15v2m0 10v1m0 133v1m0 9v1m0 31v2m0 1v1m0 15v2m0 1v2m0 1v1m0 4v2m1-206v1m0 124v4m0 48v2m0 22v1m0 3v1m1-253v1m0 27v1m0 5v1m0 10v1m0 8v1m0 19v1m0 31v2m0 77v1m0 15v1m0 1v1m0 5v2m0 13v1m0 13v1m1-213v1m0 9v1m0 13v1m0 55v3m0 16v1m0 96v1m0 19v1m0 2v1m1-198v1m0 4v1m0 10v3m0 33v2m0 62v1m0 2v1m0 17v1m0 5v1m0 19v1m0 13v1m0 6v2m0 3v1m0 14v1m1-246v1m0 69v2m0 70v1m0 1v1m0 15v1m0 62v1m0 15v1m1-219v3m0 34v1m0 6v1m0 88v2m0 29v1m0 1v1m1-193v1m0 48v1m0 24v3m0 31v2m0 6v1m0 36v1m0 29v1m0 10v1m0 44v1m1-232v2m0 6v2m0 59v1m0 23v1m0 8v2m0 53v2m0 16v2m0 8v1m0 33v1" stroke="#8a1c22" stroke-opacity="0.8"/><path d="M412.5 49v1m0 36v1m1-31v1m0 199v2m1-219v2m0 38v1m0 15v2m1-62v1m0 14v1m1-1v1m1 31v1m0 63v1m0 98v1m1-207v2m0 12v1m0 120v1m1-142v1m0 60v1m0 49v1m1-111v1m0 23v2m0 6v1m0 111v4m1-85v2m0 36v3m3-54v1m0 22v1m0 133v2m1-184v1m0 27v1m0 35v1m0 30v1m1-116v2m0 145v2m0 1v1m1-102v1m0 7v1m1-68v1m0 7v2m0 78v2m2-62v1m0 156v1m1-138v2m0 77v1m1-129v1m0 68v1m1-15v1m0 55v2m0 19v1m1-39v1m1-21v1m0 40v1m0 93v1m1-204v1m0 2v1m0 40v2m1 13v1m4 12v1m0 109v1m1-156v2m1 19v1m0 3v1m1 67v1m0 90v1m0 10v1m1-226v1m0 26v1m0 5v1m0 158v1m0 47v2m1-236v3m0 182v1m1-154v2m0 130v1m1-123v1m0 58v1m1 39v1m1-103v1m0 96v1m1-73v1m1 17v1m0 9v1m1-40v2m0 122v1m1-36v1m0 40v1m0 7v2m1-189v1m0 209v3m1-226v1m0 109v1m0 14v1m1-73v1m0 111v1m1-63v1m1-96v1m0 47v1m0 144v1m0 15v1m0 16v2m1-231v3m0 13v2m0 138v1m0 5v2m0 32v4m1-204v1m0 5v1m0 114v1m0 117v2m1-219v2m0 5v1m0 14v1m0 16v3m0 29v1m1-72v1m1 44v1m1-30v2m0 103v4m1-113v1m0 122v2m0 20v1m1-176v2m0 11v4m1-6v1m0 46v1m0 1v2m0 118v1m1-60v2m1-128v1m0 1v1m0 12v3m0 54v3m2-63v1m0 159v2m0 21v2m0 31v1m1-229v1m0 101v1m0 28v1m0 67v2m1-139v1m0 85v2m1-120v1m0 136v2m1-136v1m1-33v1m0 23v1m0 16v5m1-32v1m0 1v1m0 15v1m0 88v2m1-124v4m0 58v1m0 146v1m1-200v1m0 91v1m0 72v1m0 37v2m1-124v3m0 84v1m1-148v1m0 1v2m0 115v2m1-152v3m0 2v1m1 11v3m0 14v1m0 45v1m1 29v1m0 12v1m0 88v1m1-180v2m1-9v1m0 75v1m0 16v1m0 75v2m1-176v1m1 16v2m0 125v1m0 1v1m0 30v1m1-165v1m0 12v1m0 1v2m0 138v1m1-64v2m0 59v1m1-164v1m0 5v3m0 0v2m0 13v1m0 20v1m0 95v1m3-166v1m0 13v1m0 23v1m0 8v1m0 79v1m1-108v3m0 20v1m0 22v4m0 118v2m1-184v2m1 169v1m1-130v1m0 1v1m0 42v1m0 24v3m0 88v1m1-206v1m0 49v1m1-16v1m0 5v1m0 10v1m1-47v2m1 46v1m0 53v1m1-48v1m0 124v1m1-172v1m0 36v1m0 62v3m0 75v1m1-194v2m0 7v1m0 4v1m0 3v1m0 88v1m0 62v1m1-116v1m0 3v1m0 86v1m0 15v1m1-115v2m0 14v1m1-44v1m0 24v1m0 12v1m0 86v3m0 28v1m0 35v1m1-150v1m0 103v1m1-120v1m0 1v1m0 113v1m1-107v1m1-26v1m0 22v1m0 48v4m0 92v1m0 24v1m1-175v1m0 105v1m1-112v1m0 28v1m0 62v3m0 26v1m0 13v1m1-129v1m0 117v1m1-70v1m1-71v1m0 17v2m0 33v2m0 67v3m1-125v2m0 170v2m1-204v1m0 68v1m1-23v1m3 26v2m0 18v1m0 17v2m0 56v1m1-96v1m0 40v1m0 47v2m1-167v1m0 9v1m0 64v1m0 1v1m0 3v5m0 88v2m0 9v3m1-186v1m0 11v2m0 24v1m0 1v1m0 44v2m0 16v1m1-69v1m1-36v1m0 81v1m0 1v1m0 1v1m0 6v2m1-74v1m0 60v1m0 43v1m0 45v1m1-165v1m0 60v2m0 7v4m1-19v1m0 3v3m0 4v1m0 33v1m0 70v1m1-134v2m0 16v1m0 81v2m0 56v2m0 38v1m1-172v1m0 9v1m0 28v1m0 19v1m0 38v1m0 8v3m1-138v1m0 94v1m0 39v1m1-103v1m0 34v2m2-107v1m0 65v1m0 1v1m0 15v2m0 79v1m1-158v2m0 45v1m0 4v2m0 1v1m0 4v1m0 10v2m1 3v3m0 29v1m0 16v2m0 3v1m1-81v1m0 1v1m0 8v1m0 8v1m0 4v1m0 1v1m0 51v1m1-154v1m0 16v1m0 33v1m0 20v1m0 17v3m0 3v1m0 5v1m0 7v2m0 61v1m0 28v2m1-167v1m0 64v1m3-98v1m0 5v1m0 167v2m0 46v3m1-186v2m0 107v1m0 22v3m1-165v3m0 44v4m0 109v1m1-70v2m0 7v1m0 75v1m1-58v1m4-110v1m0 21v2m0 35v1m0 59v1m0 10v1m1-109v3m0 90v2m0 7v2m3-132v2m0 106v1m0 83v2m1-207v1m0 5v3m0 15v1m0 119v1m1-110v1m0 6v1m0 35v1m0 114v2m0 44v2m1-42v3m1-28v2m1-92v5m0 80v2m1-51v1m0 51v2m0 55v1m1-203v1m0 94v2m0 42v1m0 1v1m1-166v1m0 7v1m1 5v2m0 95v1m0 60v1m0 5v2m1-154v1m1-11v1m0 80v1m0 6v1m0 3v1m1-19v1m0 93v1m1-17v1m0 51v1m1-165v2m1-36v1m0 57v1m0 4v1m1 12v1m1-101v2m0 5v1m0 177v3m1-10v1m0 6v1m0 1v1m0 11v1m1-154v1m0 120v1m0 6v1m0 17v2m0 9v4m1-141v1m0 84v3m1-161v1m0 52v1m0 118v1m1-7v1m1-99v1m0 106v1m0 31v1m1-203v2m0 52v2m0 148v1m3-21v1m1-155v2m0 19v1m0 45v1m0 125v2m1-115v1m1-9v1m0 77v1m0 12v1m0 11v1m1-172v2m0 59v3m0 98v3m0 29v2m1-235v1m0 81v1m1-43v1m0 170v1m0 5v1m1-170v1m0 19v1m0 34v1m1-90v2m0 139v1m0 16v2m1-157v2m0 35v1m0 89v1m1 68v1m1-130v1m0 3v1m0 51v1m0 54v1m0 20v1m1-62v1m0 16v2m1-171v1m0 48v1m0 92v1m0 20v1m1-112v1m0 9v2m0 23v1m0 15v1m0 4v1m0 75v1m0 3v1m0 1v4m1-141v1m0 138v3m0 8v2m1-167v1m0 157v1m0 13v1m0 22v1m3-201v1m0 128v1m0 61v1m0 21v1m1-200v1m0 30v1m0 40v1m0 90v1m0 17v1m0 2v2m0 1v1m0 1v1m0 1v1m0 1v2m0 4v1m0 1v1m1-246v1m0 76v2m0 139v1m0 2v2m0 4v2m0 3v1m0 1v1m0 3v1m0 3v1m0 1v1m1-251v6m0 107v1m0 106v3m0 1v1m0 1v3m0 17v1m1-131v2m0 40v1m0 56v2m0 11v1m0 1v1m0 1v1m0 3v1m0 12v1m1-236v5m0 107v1m0 95v1m0 4v1m0 5v1m0 1v2m0 3v1m0 3v1m0 5v1m1-113v1m0 1v1m0 23v1m0 26v2m0 1v2m0 26v1m0 5v3m0 1v1m0 1v1m0 1v1m0 5v2m0 3v1m1-247v2m0 129v1m0 12v2m0 44v1m0 6v2m0 24v1m0 1v2m0 2v1m0 2v1m0 1v5m0 11v1m1-74v2m0 13v1m0 28v2m0 6v1m0 4v1m0 10v3m1-234v1m0 29v1m0 39v2m0 4v4m0 125v1m0 5v1m0 5v1m0 1v2m0 1v1m0 1v3m0 1v1m0 4v4m1-170v1m0 141v1m0 9v1m0 2v1m0 2v1m0 1v1m0 8v1m1-74v2m0 1v1m0 24v1m0 15v1m0 3v1m0 1v1m0 3v1m0 1v1m0 2v1m0 1v1m0 3v1m0 1v1m0 6v2m1-240v1m0 6v1m0 16v2m0 29v1m0 155v1m0 8v1m0 1v1" stroke="#5e1020" stroke-opacity="0.8"/><path d="M412.5 135v4m0 29v1m0 38v2m0 62v2m1-104v1m0 48v1m0 5v2m0 16v2m1-181v1m0 40v2m1 8v1m0 42v2m0 55v1m1-162v1m0 77v1m1-88v1m0 58v1m0 12v1m0 66v1m0 36v1m1-58v1m1-114v1m0 64v3m1 115v2m1-184v1m0 67v1m0 90v1m0 59v1m2-239v2m0 88v1m0 13v1m1 84v1m0 1v1m2-151v2m0 94v2m0 71v3m1-54v1m0 36v1m1-123v2m0 82v3m1-41v1m0 50v1m0 30v1m1 19v2m1-145v1m1 56v1m1-121v3m0 2v1m0 23v2m0 39v2m0 114v1m1-128v1m1-54v6m0 13v2m0 14v2m0 34v1m0 34v1m1 61v1m0 11v1m1-6v2m3-83v1m0 20v1m0 74v1m1-164v1m0 18v1m0 48v1m0 36v1m1-109v1m1 139v1m1-167v2m1 138v2m0 31v1m0 5v2m1-127v2m0 26v2m0 6v1m0 62v1m1-94v3m0 25v1m1 78v1m2-178v3m0 85v1m0 26v1m1-24v1m0 109v1m0 29v2m1-169v1m0 39v1m0 86v1m1-182v2m0 136v1m1-122v1m1 11v4m0 170v2m1-161v1m0 76v1m0 12v1m2 25v3m1-124v1m1 38v1m1 4v1m1-35v1m0 35v1m0 94v1m1-44v1m0 13v2m1-59v1m1 11v1m0 64v1m0 13v1m1-152v2m0 84v4m1-11v1m1-29v1m0 30v3m0 13v1m1-144v1m0 115v5m0 22v1m0 18v2m1-140v1m0 91v1m1-63v2m0 60v1m1 80v1m0 8v1m1-204v1m0 49v2m0 28v2m1-52v1m0 22v1m0 71v1m1 37v2m1-123v1m0 48v1m0 24v1m1-27v1m0 47v1m1-22v1m0 47v1m1-88v3m0 123v1m1-181v2m0 85v2m0 67v1m1-78v1m0 4v1m1-63v1m0 33v1m0 138v3m1-161v1m1-17v1m0 79v1m0 39v1m1-141v5m0 188v3m2-39v1m1-103v4m0 74v1m0 25v2m0 8v3m1-144v1m0 14v1m1 117v3m0 6v4m2-31v1m0 22v1m3-183v1m0 1v1m1-23v1m0 99v1m0 9v2m1-91v2m1 79v1m2-61v1m0 28v1m0 31v4m1-36v1m0 60v1m0 50v1m0 6v1m1-56v2m0 36v3m1-108v1m0 41v1m0 108v1m0 17v2m1-168v2m0 84v1m1-3v2m1-89v1m0 32v1m0 15v1m0 86v1m1-188v2m0 153v1m1-109v1m0 74v1m0 8v1m0 93v1m1-160v1m0 86v1m2 17v2m1-182v1m0 95v4m0 75v1m0 6v1m1-184v1m0 110v3m0 70v1m0 12v1m1-171v1m0 70v1m1 18v2m0 31v2m0 42v1m1-184v1m0 5v1m0 48v2m1 66v1m1 1v3m0 26v1m1-155v1m0 45v1m0 62v1m0 19v5m1-24v2m0 17v2m0 11v1m1-140v2m0 4v2m3 173v2m0 5v3m1-122v3m0 76v1m1-115v1m0 171v1m1-49v3m1-127v1m2-23v4m0 10v1m0 28v1m0 46v2m0 77v2m1-59v1m0 3v1m1-134v1m0 108v2m0 29v1m0 46v1m1-82v3m0 64v2m1-173v1m0 137v2m1-79v1m0 76v3m0 11v2m1-114v1m0 81v1m0 8v2m1-149v1m0 87v2m0 82v1m1 40v1m2-195v2m0 43v4m1-21v1m0 3v1m0 100v2m0 60v1m1-196v1m1 68v2m0 108v1m3-104v1m1-104v1m0 139v4m0 30v2m1 33v1m1-109v1m1-41v2m0 102v2m0 36v1m4-185v1m0 76v1m0 12v1m0 54v2m0 36v1m1-159v1m0 161v4m0 10v1m4-161v3m0 85v1m1-120v1m0 26v1m0 44v3m0 49v1m1 44v1m0 1v3m1-174v2m0 22v2m1-22v4m0 7v1m0 17v2m1-26v1m0 59v2m0 18v3m1-71v2m0 155v2m1-151v1m1 8v4m1 85v3m0 40v1m2-172v3m0 81v1m1-84v2m1-18v1m0 112v1m0 26v1m1-125v1m0 45v2m0 34v1m0 12v2m0 1v1m0 113v2m1-219v3m0 46v1m1-56v1m0 22v1m0 122v1m1-89v2m0 57v1m0 28v2m1-151v1m1 19v1m0 99v1m1-89v1m0 121v1m1-108v1m0 2v3m1-66v1m0 116v4m1-10v1m0 19v3m3 6v2m1-71v2m0 65v1m0 38v2m1-165v1m0 70v1m0 50v1m0 16v2m1-37v5m1 5v5m0 55v2m1-138v1m0 70v2m1-51v1m1-33v1m0 17v2m0 24v3m1-13v1m0 30v1m1 29v1m1 10v2m1-66v1m1-76v1m0 102v1m1-74v2m0 139v1m0 15v3m1-114v1m0 70v1m0 57v1m0 16v2m1-159v1m0 49v1m0 27v4m1-126v1m0 59v3m0 80v1m3-129v4m0 21v1m0 105v2m1-82v1m1 94v1m1-117v1m0 117v2m1-66v1m1 30v1m0 29v2m0 20v2m1-204v1m3 60v1m0 138v1m1-180v2m1-20v1m0 26v2m0 90v1m0 6v2m0 15v3m1-79v2" stroke="#2e3f86" stroke-opacity="0.8"/><path d="M412.5 175v1m1-117v2m0 100v1m2 78v1m2-18v1m1-109v1m0 119v4m2-105v3m0 73v1m1-111v2m0 75v3m0 11v1m0 62v2m1-37v3m1 37v1m1-55v1m1-100v1m1-43v1m1 42v1m1-35v1m0 146v1m1-149v2m0 112v1m1 77v2m0 8v1m3-74v3m1-10v2m1-5v1m1-49v1m1-18v1m0 134v1m3-223v2m0 75v1m0 85v1m1-10v1m0 26v4m1-43v1m0 11v2m1-85v1m0 65v2m1 14v1m0 30v1m0 16v1m1-35v1m0 10v1m2-117v2m1-33v1m4 66v1m0 40v1m0 45v2m1-151v2m0 49v1m0 48v1m0 47v1m1-85v2m0 21v2m0 54v1m1-180v1m1 75v1m0 80v2m0 59v1m1-81v1m2 53v1m1-193v1m0 2v1m1 12v1m0 50v3m0 124v3m3-97v1m0 26v1m0 73v2m1-124v1m1-40v1m0 163v1m1-43v5m1-91v1m0 61v1m0 4v1m1-45v1m1-57v2m0 12v3m0 135v1m1-110v1m2 56v3m0 5v1m1-131v1m0 174v2m1-109v2m4-30v2m0 85v2m0 40v1m1-89v3m1-72v1m1 134v2m1-8v1m1-126v1m0 143v1m1-175v2m0 83v1m2 36v1m1-60v2m0 115v1m0 28v1m1-111v1m1 60v1m0 53v1m1-160v1m1 20v2m3 0v1m0 20v1m0 35v1m1-69v1m1 76v2m2-19v2m1-75v2m2-29v1m3 51v1m0 95v1m0 45v1m1-71v1m0 67v1m2-190v1m0 40v1m0 42v1m1-53v1m2 17v1m1 104v1m0 40v2m1-130v1m1-117v1m0 75v2m0 48v1m0 22v2m1 7v2m2 4v1m0 28v1m1-118v1m1-76v2m0 82v1m0 77v3m2-19v4m0 94v5m3-122v2m1 109v1m3-30v1m0 10v2m1-220v1m0 213v1m1-190v1m0 112v3m1-16v3m0 59v4m1-51v1m1-26v5m0 98v1m1-84v1m1-48v1m1 106v3m1-141v3m0 53v1m0 114v4m1-93v1m0 36v1m1-26v1m0 39v1m2-171v2m0 164v1m0 11v1m0 13v1m1-11v3m0 38v1m4-245v2m0 136v1m3-79v4m0 3v1m1-33v1m4-27v2m1 75v1m0 87v1m3-120v1m0 95v1m4-88v1m0 137v3m1-204v1m1 125v1m0 73v1m2-199v1m0 23v1m0 41v2m1-65v1m0 147v3m1-30v2m1 96v2m1-110v2m1-96v1m0 101v1m1-59v1m0 2v1m0 57v5m1 43v1m1-165v1m0 84v1m2-33v2m0 50v1m0 29v1m0 61v1m1-135v4m0 1v2m0 2v2m0 26v1m2-75v3m0 51v2m0 85v1m1-106v3m0 135v3m2-136v1m0 129v2m4-29v1m3-106v1m0 58v2m0 14v2m1-64v1m0 138v1m1-109v1m2-14v1m0 3v2m0 7v1m0 21v1m0 99v1m3-117v2m1-103v1m0 93v1m0 52v3m1-166v2m0 149v1m2-50v2m0 11v3m1-58v2m3-8v1m0 121v1m0 23v1m1-103v1m0 15v3m0 2v3m2-78v4m0 14v1m1-1v3m1 9v1m1-2v1m0 48v1m2-108v1m1-6v2m0 58v1m0 91v1m1-2v1m2-141v2" stroke="#4463ad" stroke-opacity="0.8"/></g><path d="M428.6 28V282M424.6 28V282M483.2 28V282M464.6 28V282M477.1 28V282M442.1 28V282M478.9 28V282M513.8 28V282M518.8 28V282M530.7 28V282M539.0 28V282M562.4 28V282M571.5 28V282M597.1 28V282M609.9 28V282" stroke="#ffffff" stroke-opacity="0.45" stroke-width="0.7"/><rect x="410" y="60.4" width="210" height="1.4" fill="#fff"/><rect x="410" y="64.3" width="210" height="1.7" fill="#fff"/><rect x="410" y="98.4" width="210" height="1.9" fill="#fff"/><rect x="410" y="131.6" width="210" height="2.8" fill="#fff"/><rect x="410" y="164.0" width="210" height="2.3" fill="#fff"/><rect x="410" y="197.8" width="210" height="2.2" fill="#fff"/><rect x="410" y="210.9" width="210" height="2.4" fill="#fff"/><rect x="410" y="245.9" width="210" height="2.3" fill="#fff"/><rect x="438.4" y="27" width="2.1" height="256" fill="#fff"/><rect x="492.7" y="27" width="2.1" height="256" fill="#fff"/><rect x="521.8" y="27" width="2.3" height="256" fill="#fff"/><rect x="544.1" y="27" width="1.9" height="256" fill="#fff"/><rect x="551.3" y="27" width="2.4" height="256" fill="#fff"/><rect x="555.7" y="27" width="2.1" height="256" fill="#fff"/><rect x="583.1" y="27" width="1.9" height="256" fill="#fff"/><rect x="601.9" y="27" width="2.0" height="256" fill="#fff"/><rect x="412.3" y="14.3" width="26.1" height="4.6" fill="#dc2c24"/><rect x="428.6" y="14.3" width="0.6" height="4.6" fill="#4a52c0"/><rect x="412.3" y="21.1" width="26.1" height="4.6" fill="#f06a66"/><rect x="440.5" y="14.3" width="52.2" height="4.6" fill="#dc2c24"/><rect x="441.5" y="14.3" width="0.8" height="4.6" fill="#4a52c0"/><rect x="442.2" y="14.3" width="1.0" height="4.6" fill="#4a52c0"/><rect x="446.0" y="14.3" width="0.8" height="4.6" fill="#4a52c0"/><rect x="448.8" y="14.3" width="1.5" height="4.6" fill="#4a52c0"/><rect x="453.9" y="14.3" width="1.0" height="4.6" fill="#4a52c0"/><rect x="455.5" y="14.3" width="0.5" height="4.6" fill="#4a52c0"/><rect x="456.0" y="14.3" width="1.4" height="4.6" fill="#4a52c0"/><rect x="459.4" y="14.3" width="1.0" height="4.6" fill="#4a52c0"/><rect x="461.2" y="14.3" width="0.7" height="4.6" fill="#4a52c0"/><rect x="463.7" y="14.3" width="1.2" height="4.6" fill="#4a52c0"/><rect x="464.9" y="14.3" width="1.3" height="4.6" fill="#4a52c0"/><rect x="469.3" y="14.3" width="0.6" height="4.6" fill="#4a52c0"/><rect x="469.9" y="14.3" width="1.0" height="4.6" fill="#4a52c0"/><rect x="471.0" y="14.3" width="1.5" height="4.6" fill="#4a52c0"/><rect x="472.4" y="14.3" width="0.9" height="4.6" fill="#4a52c0"/><rect x="474.4" y="14.3" width="1.5" height="4.6" fill="#4a52c0"/><rect x="487.4" y="14.3" width="1.3" height="4.6" fill="#4a52c0"/><rect x="492.0" y="14.3" width="0.7" height="4.6" fill="#4a52c0"/><rect x="440.5" y="21.1" width="52.2" height="4.6" fill="#d9820f"/><rect x="494.8" y="14.3" width="27.0" height="4.6" fill="#dc2c24"/><rect x="495.4" y="14.3" width="1.5" height="4.6" fill="#4a52c0"/><rect x="499.8" y="14.3" width="0.7" height="4.6" fill="#4a52c0"/><rect x="500.4" y="14.3" width="0.8" height="4.6" fill="#4a52c0"/><rect x="502.4" y="14.3" width="0.8" height="4.6" fill="#4a52c0"/><rect x="504.9" y="14.3" width="1.0" height="4.6" fill="#4a52c0"/><rect x="505.9" y="14.3" width="0.7" height="4.6" fill="#4a52c0"/><rect x="507.3" y="14.3" width="1.1" height="4.6" fill="#4a52c0"/><rect x="510.4" y="14.3" width="0.9" height="4.6" fill="#4a52c0"/><rect x="512.6" y="14.3" width="1.5" height="4.6" fill="#4a52c0"/><rect x="518.8" y="14.3" width="0.6" height="4.6" fill="#4a52c0"/><rect x="494.8" y="21.1" width="27.0" height="4.6" fill="#a99f22"/><rect x="524.1" y="14.3" width="20.0" height="4.6" fill="#dc2c24"/><rect x="524.1" y="14.3" width="0.8" height="4.6" fill="#4a52c0"/><rect x="525.9" y="14.3" width="0.5" height="4.6" fill="#4a52c0"/><rect x="527.3" y="14.3" width="1.4" height="4.6" fill="#4a52c0"/><rect x="531.4" y="14.3" width="1.5" height="4.6" fill="#4a52c0"/><rect x="532.9" y="14.3" width="0.5" height="4.6" fill="#4a52c0"/><rect x="533.4" y="14.3" width="0.9" height="4.6" fill="#4a52c0"/><rect x="535.4" y="14.3" width="1.6" height="4.6" fill="#4a52c0"/><rect x="538.6" y="14.3" width="1.1" height="4.6" fill="#4a52c0"/><rect x="540.3" y="14.3" width="1.5" height="4.6" fill="#4a52c0"/><rect x="543.9" y="14.3" width="0.2" height="4.6" fill="#4a52c0"/><rect x="524.1" y="21.1" width="20.0" height="4.6" fill="#6ab42a"/><rect x="546.0" y="14.3" width="5.3" height="4.6" fill="#dc2c24"/><rect x="547.9" y="14.3" width="0.6" height="4.6" fill="#4a52c0"/><rect x="546.0" y="21.1" width="5.3" height="4.6" fill="#3cb044"/><rect x="553.7" y="14.3" width="2.0" height="4.6" fill="#dc2c24"/><rect x="553.7" y="21.1" width="2.0" height="4.6" fill="#4ec9b4"/><rect x="557.8" y="14.3" width="25.3" height="4.6" fill="#dc2c24"/><rect x="557.8" y="14.3" width="1.3" height="4.6" fill="#4a52c0"/><rect x="559.1" y="14.3" width="0.9" height="4.6" fill="#4a52c0"/><rect x="561.8" y="14.3" width="0.6" height="4.6" fill="#4a52c0"/><rect x="562.4" y="14.3" width="1.1" height="4.6" fill="#4a52c0"/><rect x="564.6" y="14.3" width="1.0" height="4.6" fill="#4a52c0"/><rect x="566.8" y="14.3" width="0.7" height="4.6" fill="#4a52c0"/><rect x="569.8" y="14.3" width="1.5" height="4.6" fill="#4a52c0"/><rect x="574.1" y="14.3" width="1.0" height="4.6" fill="#4a52c0"/><rect x="575.8" y="14.3" width="1.5" height="4.6" fill="#4a52c0"/><rect x="557.8" y="21.1" width="25.3" height="4.6" fill="#55b8dc"/><rect x="585.0" y="14.3" width="16.9" height="4.6" fill="#dc2c24"/><rect x="585.0" y="14.3" width="0.6" height="4.6" fill="#4a52c0"/><rect x="586.6" y="14.3" width="1.5" height="4.6" fill="#4a52c0"/><rect x="588.2" y="14.3" width="1.4" height="4.6" fill="#4a52c0"/><rect x="589.6" y="14.3" width="0.9" height="4.6" fill="#4a52c0"/><rect x="590.5" y="14.3" width="1.6" height="4.6" fill="#4a52c0"/><rect x="592.1" y="14.3" width="1.6" height="4.6" fill="#4a52c0"/><rect x="593.6" y="14.3" width="0.8" height="4.6" fill="#4a52c0"/><rect x="594.5" y="14.3" width="0.9" height="4.6" fill="#4a52c0"/><rect x="595.4" y="14.3" width="1.2" height="4.6" fill="#4a52c0"/><rect x="596.6" y="14.3" width="1.1" height="4.6" fill="#4a52c0"/><rect x="597.8" y="14.3" width="0.5" height="4.6" fill="#4a52c0"/><rect x="598.3" y="14.3" width="1.4" height="4.6" fill="#4a52c0"/><rect x="599.7" y="14.3" width="1.0" height="4.6" fill="#4a52c0"/><rect x="600.7" y="14.3" width="1.1" height="4.6" fill="#4a52c0"/><rect x="601.7" y="14.3" width="0.2" height="4.6" fill="#4a52c0"/><rect x="585.0" y="21.1" width="16.9" height="4.6" fill="#5b8fd0"/><rect x="603.9" y="14.3" width="13.0" height="4.6" fill="#dc2c24"/><rect x="605.4" y="14.3" width="1.1" height="4.6" fill="#4a52c0"/><rect x="610.2" y="14.3" width="1.5" height="4.6" fill="#4a52c0"/><rect x="612.5" y="14.3" width="1.1" height="4.6" fill="#4a52c0"/><rect x="613.7" y="14.3" width="1.6" height="4.6" fill="#4a52c0"/><rect x="615.2" y="14.3" width="0.5" height="4.6" fill="#4a52c0"/><rect x="615.8" y="14.3" width="0.8" height="4.6" fill="#4a52c0"/><rect x="616.6" y="14.3" width="0.3" height="4.6" fill="#4a52c0"/><rect x="603.9" y="21.1" width="13.0" height="4.6" fill="#a37fd6"/><g fill="none" stroke="#000" stroke-width="1.6"><rect x="411.0" y="27.2" width="28.7" height="34.2"/><rect x="439.2" y="60.8" width="54.8" height="4.5"/><rect x="493.5" y="65.0" width="29.6" height="34.4"/><rect x="522.8" y="99.3" width="22.6" height="33.3"/><rect x="544.7" y="133.4" width="7.9" height="31.6"/><rect x="552.4" y="165.3" width="4.6" height="33.5"/><rect x="556.5" y="199.0" width="27.9" height="12.9"/><rect x="583.7" y="212.3" width="19.5" height="34.6"/><rect x="602.6" y="247.2" width="15.6" height="35.4"/></g>
<text x="376.8" y="8.8" font-size="12.3" font-weight="bold">b</text><text x="410.2" y="18.9" font-size="6.2" text-anchor="end" font-weight="bold">Origins</text><text x="410.2" y="25.3" font-size="6.2" text-anchor="end" font-weight="bold">Cell type</text><text x="627" y="10.8" font-size="6.5" text-anchor="middle" font-weight="bold">Genes</text><line x1="627.2" y1="12" x2="627.2" y2="21" stroke="#000" stroke-width="0.8"/><path d="M627.2 25 L624.6 20 L629.8 20Z"/><rect x="618.2" y="28.4" width="1.6" height="31.6" fill="#f06060"/><text x="621.7" y="32.6" font-size="6.3" fill="#222">CCR7</text><text x="621.7" y="39.85" font-size="6.3" fill="#222">LEF1</text><text x="621.7" y="47.1" font-size="6.3" fill="#222">KLF2</text><text x="621.7" y="54.35" font-size="6.3" fill="#222">IL7R</text><text x="621.7" y="61.6" font-size="6.3" fill="#222">TCF7</text><rect x="618.2" y="100.3" width="1.6" height="30.2" fill="#6ab42a"/><text x="621.7" y="106.8" font-size="6.3" fill="#222">TNFRSF4</text><text x="621.7" y="114.05" font-size="6.3" fill="#222">FOXP3</text><text x="621.7" y="121.3" font-size="6.3" fill="#222">IL2RA</text><text x="621.7" y="128.55" font-size="6.3" fill="#222">BATF</text><rect x="618.2" y="134.4" width="1.6" height="29.5" fill="#3cb044"/><text x="621.7" y="141.1" font-size="6.3" fill="#222">IFIT1</text><text x="621.7" y="148.35" font-size="6.3" fill="#222">ISG15</text><text x="621.7" y="155.6" font-size="6.3" fill="#222">MX1</text><text x="621.7" y="162.85" font-size="6.3" fill="#222">OASL</text><rect x="618.2" y="166.3" width="1.6" height="31.3" fill="#4ec9b4"/><text x="621.7" y="174.1" font-size="6.3" fill="#222">CD200</text><text x="621.7" y="181.35" font-size="6.3" fill="#222">NMB</text><text x="621.7" y="188.6" font-size="6.3" fill="#222">TOX2</text><text x="621.7" y="195.85" font-size="6.3" fill="#222">CXCL13</text><rect x="618.2" y="213.3" width="1.6" height="32.5" fill="#4a80c8"/><text x="621.7" y="217.5" font-size="6.3" fill="#222">CXCL13</text><text x="621.7" y="224.75" font-size="6.3" fill="#222">GZMB</text><text x="621.7" y="232" font-size="6.3" fill="#222">NKG7</text><text x="621.7" y="239.25" font-size="6.3" fill="#222">LAG3</text><text x="621.7" y="246.5" font-size="6.3" fill="#222">CTLA4</text><rect x="618.2" y="248.2" width="1.6" height="32.5" fill="#a37fd6"/><text x="621.7" y="255.5" font-size="6.3" fill="#222">KI67</text><text x="621.7" y="262.75" font-size="6.3" fill="#222">TOP2A</text><text x="621.7" y="270" font-size="6.3" fill="#222">GZMB</text><text x="621.7" y="277.25" font-size="6.3" fill="#222">GNLY</text><path d="M618.6 200.5V211M618.6 206.2H650.3M650.3 189.5V223" fill="none" stroke="#3aa6da" stroke-width="1.6"/><text x="653.5" y="194.1" font-size="6.3" fill="#222">GZMK</text><text x="653.5" y="201.4" font-size="6.3" fill="#222">CCL5</text><text x="653.5" y="208.7" font-size="6.3" fill="#222">CST7</text><text x="653.5" y="216" font-size="6.3" fill="#222">NKG7</text><text x="653.5" y="223.3" font-size="6.3" fill="#222">GZMA</text><defs><linearGradient id="rdbu" x1="0" y1="0" x2="0" y2="1"><stop offset="0" stop-color="#67001f"/><stop offset="0.13" stop-color="#8e1526"/><stop offset="0.25" stop-color="#d6604d"/><stop offset="0.38" stop-color="#f4a582"/><stop offset="0.5" stop-color="#f7f7f7"/><stop offset="0.62" stop-color="#92c5de"/><stop offset="0.75" stop-color="#4393c3"/><stop offset="0.88" stop-color="#2a5aa0"/><stop offset="1" stop-color="#1c326e"/></linearGradient></defs><rect x="659.3" y="243.4" width="7.7" height="42" fill="url(#rdbu)"/><line x1="665.5" y1="244.6" x2="667" y2="244.6" stroke="#fff" stroke-width="0.6"/><text x="668.5" y="247" font-size="7" fill="#222">2</text><line x1="665.5" y1="255" x2="667" y2="255" stroke="#fff" stroke-width="0.6"/><text x="668.5" y="257.4" font-size="7" fill="#222">1</text><line x1="665.5" y1="264.6" x2="667" y2="264.6" stroke="#fff" stroke-width="0.6"/><text x="668.5" y="267" font-size="7" fill="#222">0</text><line x1="665.5" y1="274.7" x2="667" y2="274.7" stroke="#fff" stroke-width="0.6"/><text x="668.5" y="277.1" font-size="7" fill="#222">−1</text><line x1="665.5" y1="284.3" x2="667" y2="284.3" stroke="#fff" stroke-width="0.6"/><text x="668.5" y="286.7" font-size="7" fill="#222">−2</text><text x="656" y="264" font-size="6.8" text-anchor="middle" font-weight="bold" transform="rotate(-90 656 264)">Expression</text><text x="636" y="301.3" font-size="7.8" font-weight="bold">Origins</text><rect x="635.7" y="303.4" width="5.2" height="6.4" fill="#3a7fc8"/><rect x="635.7" y="310.2" width="5.2" height="6.4" fill="#de2a22"/><text x="643" y="309.2" font-size="7.2" fill="#222">Primary</text><text x="643" y="316" font-size="7.2" fill="#222">Metastatic</text><text x="431.5" y="286.5" font-size="8.3" text-anchor="end" transform="rotate(-45 431.5 283.5)" fill="#222">Naive-like</text><text x="471.5" y="288" font-size="8.3" text-anchor="end" transform="rotate(-45 471.5 285)" fill="#222">Transitional</text><text x="513.5" y="287" font-size="8.3" text-anchor="end" transform="rotate(-45 513.5 284)" fill="#222">Memory</text><text x="533.5" y="289" font-size="8.3" text-anchor="end" transform="rotate(-45 533.5 286)" fill="#222">Treg</text><text x="541.5" y="294.5" font-size="8.3" text-anchor="end" transform="rotate(-45 541.5 291.5)" fill="#222">IFN-responsive</text><text x="550" y="298" font-size="8.3" text-anchor="end" transform="rotate(-45 550 295)" fill="#222">Tfh</text><text x="576" y="288" font-size="8.3" text-anchor="end" transform="rotate(-45 576 285)" fill="#222">Pre-dysfunctional</text><text x="598" y="288" font-size="8.3" text-anchor="end" transform="rotate(-45 598 285)" fill="#222">Dysfunctional</text><text x="616" y="288" font-size="8.3" text-anchor="end" transform="rotate(-45 616 285)" fill="#222">Proliferative</text><line x1="543.5" y1="289" x2="548.5" y2="284" stroke="#000" stroke-width="0.7"/><line x1="551.5" y1="293" x2="554.5" y2="284" stroke="#000" stroke-width="0.7"/>
<g transform="scale(0.5)" fill="none" stroke="none"><path d="m166 790-26 15-3 11 4-4 6 4 3-2-17 13 8 0 7-2 101 2 11 1-115 9 19 2 17-4 28-2 64 0 15 1-98 7 31 8 30-1 7-8 26 1 10 1 19 4 10 3-158 7 9-6 23 8 9 1 3-6 7 5 16-7 9 8 21-7 4 6 2-5 10 3 6-6 45 8 9-3-166 12 8-5 2 7 22-1 12-1 3-3 3 1 14 3 2 0 6-1 15 1 9-8 34 1 1 6 1-1 2-2 12 0-153 6 1 4 0 1 7-5 5 3 1-3 2 1 3 4 2 3 15-5 8 2 4 2 11-2 1 0 4-4 12 6 4 0 10-4 0 2 5-5 10 1 18 3 10 5 14-2 20 1-166 3 2 2 5 5 2-8 2 5 5 4 17-2 12-6 0 3 1-2 17 5 7 1 3-7 8-1 2 4 5-1 4 2 2-4 53 4 51 2-203 9 2 1 19 1 11-6 20 6 12 0 1-3 1 2 4 1 4 0 8-4 0-1 4-1 0 7 4 0 3-9 25 8-119 9 4-6 8 4 4 2 8-4 0-1 4-2 6 9 16-8 3 8 9-6 1 3 0 3 6-8 7 5 13-4 19 4 9 1-112 4 3-1 16 3 35 3 32-5 9 0 4 7 1 1 1-3-104 6 1 1 7 2 9 2 1-7 66 4-69 7 5 2 24 3 16-4 19 2 2 1-104 10 48-2 26-3 9 0 4 8 0-6 13 0 25 0-86 9 12 0 1 6 12-6 28 1 23-1 15 4-40 14 41-1 8-7 4 1 9 5-96 6 10 1 37 3 17-1 11-2 29 4 3 0-88 4 2 6 9-3 2-2 0 5 15-5 2-3 5 4 1-1 18-3 6 5 1-4 12 1 1-2 13 6-84 11 14-7 5 1 1 5 0-4 9 4 1 2 12-2 22 0 3-4 12-1 11 1-93 11 5-3 5 8 11-7 15 2 6 2 28-5 13 5 10-2 7-2 6 0-93 15 38-2 25 0 5-1 20-3-103 13 47 2 4 2 1-1 8 3 35-4 22-4-193 15 135-6 11 8 13-4 4 1 8-2 2-2 16 0-59 15 3-2 2 4 10-3 7-1 4-3-131 17 93-6 1 0 36 2 3-4 72 5 8 4-155 7 34 3 3-9 5 4 1 0 128 1-151 12 8-4 10-2 17-1 4 3 51 34 56-1-92 37" style="marker:url(#mc_trans)"/><path d="m157 759-18 10 25-9 0 9 1-4 5 0-29 13 17 1 10-7 9 4 1-6 1 5 4 2 1-3 1 1 3 4-28 4 2-1 6 4 9-2 2 5 15-2 0 2-27 8 5 1 10 1 9-1 8-2 5 1 5-7-61 19 22-6 6 0 11 3 3-5 9 8 7-4-33 9 4 3 1 1 7-4 7-2 2 7 8-9 14 0-37 10 0 3 2-1 8 7 1-1 8-8 1 0 1 7 0 0 25-4 3 2 1-5 13 6-55 5 9 5 2-2 35-3 6 7 3-1 7-2 1-5-88 14 7-1 21 3 0-5 4-1 3 3 3 6 3-9 10 6 7-4 8 1 2-3 0 7 6-7-25 17 18-2-21 11 1-1 22 1 112 1-114 18 38 24-19 14 59 11-144 39 37 4 135 13 56 16-272 32-5 17 54 3 28 46 4-4 52 2" style="marker:url(#mc_naive)"/><path d="m139 820 76 29 75-8-49 15 47-1-4 10 12-3 29 2 13-4-72 11 20 7 11-6 10-1 57 7-91 11 8 0 6 6 11-2 2 1 2 3 3-2 5 2 19 2 33-9 4 6-89 9 44-4 0 4 2 3 0-6 35 5-101 7 26 4 4-6 18-1 4 5 2-1 3-3 0 2 5-1 8-1 13-1 2 8 8-2 0 2 3-1 2-7 8 5 4-6 5 4-90 14 5-2 9 2 3-2 6-4 2 2 0 2 0-6 1 9 4-5 1-1 6 4 3-1 9 0 1-3 1-2 3 5 0 2 3-4 2-1 3 1 1 1 4-1 4 5 1-2 1-6 6 1 15 3-101 6 4 5 5-5 1-1 5 0 3 8 1-5 3 6 2 0 3-7 9 6 1-2 0 2 4-6 1 2 7-4 3 6 14 2 7-1 13-2 14-2-112 13 7 3 7-5 4-3 6 8 2-3 5-1 26 2 16-7-89 15 36 4 6-2 3 1 1-2 1-2 3 1 2-5 0 0 11 5 1 0 3 0 13-1 14 3 25 0 1-2-74 13 5-3 1 4 9-3 0 0 4-1 4-4-175 16 143-4 3-3 9 3 8 0 6-1 10-2 49 4-186 14 123-1 27 2-177 59-69 9 139 9 35-1 23 42 95 2-156 3" style="marker:url(#mc_memory)"/><path d="m224 829-44 88 182-5-25 12-193 14 12-4 2-2 11 7-26 2 14 7 5-5 2 5 3-3 24-4-46 18 1-9 13 4 4-3 63 6-95 4 1 2 2-1 8 6 5-8 3 8 0-3 1-1 2 3 7 1 0-4 10-3 5 8 4-5 4-3 2-1 21 8 15-2 7-4-91 17 6 0 8-5 13 1 7-3 1 2 22 3 1-5 37 2-105 13 28-1 2 0 8-6 10 4 8 0 7-3 1 5 4 0 9 1-85 11 47 1 5-2 13-6 5 7 7-1 5 0 3 0 8-4 11-1 10 7-119 5 6-4 4 7 6-5 7 5 0 2 23-4 3 0 5 0 9 1 1-6 7 7 11-1 2-1 5-3 0 2 5 5 10-7-106 16 6-8 18 5 4-5 3 2 2 7 0-5 2-4 17 1 1 4 1-4 2 8 27-9 0 3 2 4 5-2 21 4-144 10 10-3 8 1 7 1 9-2 3 2 3-2 3-4 1 2 5 1 12 0 4-1 6 4 13 1 20-6 1 5 22-8 5 9 1-4 1-1-133 12 4-6 1 8 5-3 4 4 6-6 1 2 7 0 4 4 13-6 14-2 1 6 6-7 1 5 0-5 8 7 16-5 1 3 1 1 1 1 5-2 20 1 6-3 1 5 82-7 83 4-275 14 1 0 5-2 3-6 2 2 3 0 9-1 2 2 4-2 3 5 3 1 2-4 0-3 8 8 1 0 11-3 0 2 1-1 15-5 5 7 5-4 50 4-144 2 5 7 7 0 2-1 11-5 41 6 2-4 11 1 6 4 9-3 0 2 22-1 17-6 10 3 2 4-148 2 5 8 2-5 11 6 21-1 5-2 6-6 30 3 18 6 0-1 4-4 24 3 10 2 9-8 3 2 7-3 174 2-307 15 7 0 5 1 2 0 3 0 13-1 3-6 4 4 33 1 13-1 1 0 28 0 7-2 1 5 9-2 3 0 7-6-119 12 28 1 1 0 7 5 3-2 7 0 6-1 12 4 4 0 10-3 1 1 1-1 3-1 8 2 20-5 8-1 2 1-88 13 1-2 10 1 4 2 8-2 11-1 1 0 3 3-37 4 10 1 33 6 4-7 3 9 31-9 95 5-161 9 0 3 13 1 14 0-16 3 44 23 117 10" style="marker:url(#mc_predys)"/><path d="m170 772 179 112-135 69-80 10 237 3-116 9 47-2 81 5-15 8 5-6 8 5-17 5 5 1 10 5 1-1-14 10 5 3 8-8 4 1 1 8-60 1 9 4 8-1 29 4 11-3 1-4 3 2 0 0 11 7 8-6-89 16 20-8 10 1 2 0 29 3 1 4 32-5-78 7 2 5 3 2 8 0 2-4 2 0 1-4 6 8 13-1 10-4 13 6 2-8 5 7 2 0 1 1 6-1 4-5 1 1-70 9 4 0 15-3 11 4 1-1 1 4 20-7 4 1-231 9 168 1 15 5 2-1 2-3 5 2 0 3 21-3 1 1 24 1 6 1 4-1-153 7 50-3 10 8 2-4 1-2 3 7 17-9 11 9 24-8 1 5 10 2 9-5 13 1 10-4 3 1-252 15 105 0 29-1 5 2 1-1 5-1 10 1 4-6 3 3 10 0 24 2 8 0 9 4 2-4 1-5 17 2 4 2 0 1 1-5 6 2-129 13 13-5 8 7 0-2 8 3 0-5 2 3 2 3 39-8 1 2 10-3 0 2 9-1 4-1 20 8 15-8-203 15 78-3 0 2 9 0 0 4 21-5 11-3 1 1 9 7 2-1 7-6 0 4 5 2 5 1 35-3 22-2-138 8 33 2 3-2 1 3 8 2 2 3 6-4 11-3 2 1 7 2 9 4 1-1 5 0 13-3 4 2 2-3 2 3 4 1 13-5 8 6-100 4 6 4 5-6 1 6 5 0 8-6 6 3 5 2 13 2 14 1 11 0 1-7 4 3 0 3 5-3 2-3-84 15 28-5 4 1 25 1 8-3 4 5 1-6 15 6 2 2-64 3-8 18 15-3 14-3 4 3 5-3 5 3 8-4-65 9" style="marker:url(#mc_dys)"/><path d="m261 866 18 21 24 4-59 20-66 49 49 27 3 5 1 9-97 26-22 21 236-5-156 10-70 13 117-3 9-1 63-1 38 7-135 5 5-2 8 4 14-2 20 2 8 3 5-1 120-1-199 6 29 2 6 5 13-2 0-2 10 3 2-7 6 6 3-7 15 4-75 8 11-1 0 1 7-2 17 0 9 2 13 1 10 4 6-5 1 5 1 0 9-5 8 7 20-1-115 7 0-5 5 8 7 1 11-1 1-2 6-6 41 4 1 4 6-6 7 2 16 2 2 2 1-4-118 12 2-3 13-1 10 0 0 3 9-3 3 5 8 0 7-3 26 1 0-1 6-1 0 5 17-8 25 6-100 10 7-4 12 5 16-5 13 7 6-6 12 4 16-7 18 9-107 5 5 0 6-4 12 8 2-4 15 4 1 0 3-3 4-5 3 4-23 8 17 7 9-9 1 4 2 5 28-5 11 5 2-5 1 2 3-4 6 6-77 3 33-1 10 7 0-4 15 2 4-3 3 3 22 3 3-3 2 0-58 6 17-1" style="marker:url(#mc_prolif)"/><path d="m135 778 4-5 10 11 1 2-21 23 7 0 7-3 1-1-16 5 17 1 13 0-28 16 5-1 8-5 10 5-8 6 10 6 2-7 27 4 66 3 7-5 10 1 2 2-111 11 54 0 21-6 15 0 10 4 1 4 2-8-92 17 22-3 20 4 3-2 19-2 2 4 30-2 1 1 18-7 10 5 1 0 9-5 19 6-147 11 2-4 1 2 4 1 22 0 23 2 7-1 0-2 5-4 8-2 12 9 8-9 17 4 9-3 11 5 23 0 3 0 4-2 5 3 10-7-181 18 2-6 2 6 4-3 4 4 3-4 7-3 7 5 19-4 2-2 12 2 4 4 4 2 0-8 4-1 1 4 10 4 3-3 21-3 8 2 4-1 0 1 3 1 9-2 4 0 23 4 8 0 16 2-187 9 3-7 8 4 18-5 34 7 7 1 1-5 33 0 4 1 17 4 51 1 17-6-197 12 3-4 19 0 7 4 32-4 2 4 1 1 9 1 5-6 8 5 2-3 6 0 6-3 13 0 1 9 14-4 20-4 51-1-206 17 2 0 1-1 5-6 26 0 2 4 15-1 10-1 27 7 11-1 4 0 39-3-147 14 3-3 3-6 13 5 6-2 20 6 13-5 1 0 8-3 3 2 2 3 6-6 33 4 4 5-110 4 11 2 3 4 8-9 1 3 0 2 1-5 1 1 11 1 2 0 5 5 11-3 6 0 4 0 32 4-91 6 17 1 1-3 1 6 9-3 1-5 5 4 39-4 20 1-96 16 45-5-4 11 18 2 10-5 24 5 6 0 6 2 105-1-118 12 10-1 1-6 28 3 8 2-79 5 15 8 13-5 5 0 11-4 9 0 1 9 0-5 24 0-123 8 37 7 16-6 5 2 0-3 3-2 12 0 2 1 8 6 2-1 7-4 1-2 7 0 6 4 7 0 19 0 4 0 22-3-119 14 13-5 14 9 24-2 17-7 6 4 8 2 1-1 8-4 6 8-101 3 49 5 51 0 2 0 6 2 1-9 12 8-216 10 83-5 15 3 58 1 8 1 5-2 8-1 19-4 13 6 7 0 2-4-114 12 0-4 15-1 22 0 3 6 16 3 1 0 10-8 22 0 3-1-97 10 46 2 19 4 4-2 1 0 18 4 12-7 48 3-142 10 13 2 4-5 2 6 1-7 15 4 7 4 2-5-122 9 123 6 6 1 7-8 8 7 21 0-185 11 112-3 14-1 13 4 9 0 17-9 20 2-22 9-26 14 21-2" style="marker:url(#mc_trans)"/><path d="m141 768 25-3 3-1 3-3-24 9 15 5 5-1 12-1 8 4-60 3 10 2 32 4 10 1 15-1-40 4 13 9 2-7 1 2 2 2 5-1 8-1 10 1 0-5 1 0 3 6 2-2 8 2-49 7 17 4 2-2 1-1 6-4 12 0 9 7 5-1-35 5 6 4 14-5 16 3 1-3 13 8-83 4 29-1 8 1 7 0 9 7 3-3 35 2 0-1-40 10 4-4 2 3 10-2 19 1 2-2 13 4 9-5 3 0-74 10 2 2 4 5 1-4 13-5 3 1 6 0 1 2 7-2 6 5 31 1-49 10 8-1-7 8 34-4 32 19 54 35-167 38 155 1 42 3-36 19-132 11 44-1-120 18-5 22-5 21 141 0 5 102" style="marker:url(#mc_naive)"/><path d="m256 859 11 2 3 3 10-2 15 6-17 8 76 0-105 6 21 5 17-3 17 1 3 0 4 4-37 1 3 6 5 3 4-2 6 0 3-2 12 3 4 1 12 0 3-4 31-3 6 3-99 7 9 6 2-8 9 2 19-2 14 1 6-1 10 8 0 0 27-7-97 13 11 1 32-4 4 3 4 2 27 2 8-3 12 0 5 2 3-7-96 19 1 0 0-2 23-6 24 6 5-6 1 2 0-2 4 7 0-8 2 5 4-4 5 7 17-6 14 0 1-1 3 7-132 10 23-7 7 7 2-5 7-1 4 7 14-5 10 3 2-2 2 1 13 2 4 0 8-7 1 4 2-2 10-2 0 1 3 3 10-5 0 4 4 3-84 7 3-2 15-2 3 6 3-5 3 5 5 1 3-1 3 3 7-5 0-2 4 7 11 0 19-8 2-1-109 18 9 0 3-6 50 6 1-2 4-1 7 1 23 2 4-7-88 15 6-4 0 5 9 2 7 0 2-4 4 2 4-2 10-4 1 1 56 1 6 2-101 9 8-4 20 1 7 5 32-1 25-3-128 8 60 5 67-1 0-3-58 14 1 4 35-7-35 9 39 9 30 2-56 11-3 7 51 3-150 26 158 26-202 12 221 25" style="marker:url(#mc_memory)"/><path d="m181 803 51 48-81 78-4 5 3 4-5 2 0 9 19-6 6-3 30 7 2 1-40 5 0-2 2 3 6 1 1-1 13 4 12-2 64 3-123 2 5 6 10-5 4 7 3 0 11-9 19 0 4 9 10-4 114 1-185 11 1-6 1 1 3 4 19 3 11-4 4-1 12-3 7 7 10-4 2-4 3 8-69 4 0 7 26-9 7 8 4-4 9-3 3 6 8-4 6 5 2 0 2-1 5-2-90 10 33 0 3-3 6 2 2 5 2-8 2 0 20 7 1-3 12 2 12-7 2 3 2 5 2-4-111 15 4-4 57-3 2 1 8 6 5-8 9 8 11-7 3 7 1-3 1 0 6 1 2 0 0 0 10 2-114 9 20-2 7-3 4 2 4 1 3-6 4 0 3 6 3-5 4 7 8-7 1 0 2 1 4 3 12-3 7 7 3-6 9-2 10 5-113 8 12-3 5 3 9 1 18 3 14 1 3-1 16-4 5 4 26-3-137 9 23 5 5-4 5-4 3-1 14 3 1 0 3 4 3-6 9 4 0 2 5-2 2 3 3-5 2-2 1 0 5-1 0 6 5-3 7 3 2-5 2 4 3 2 25 1 3-6 7 3 2-4 1 5 4-1 1 1 15 1-164 10 3-7 2 5 2-5 6 3 6 4 11-3 2 2 2 2 5-1 3-2 0 1 26-6 22 6 0-1 55 4-132 3 9 4 8 0 2-2 4-1 18 1 1 1 2-5 0 8 5-2 4 0 25-3 9-1 19 6 9-4 8-1 5 5 4-4 2 2 2-3 1 2 7 0-121 8 2-3 3 5 4 3 9 1 0-2 15-2 33-4 5 1 2 7 15-2 2 0 4-6 3 2 11 3 8 0 33 1-161 7 23-2 1 5 24 0 1-7 6 5 10 2 25-3 8-1 0 2 1-1 3 2 4-5 28 6-104 5 14-1 2 2 2 0 21 6 4-2 8-1 3-5 8 6 2 0 12 1 8-5 21 3 0-6 8 7-64 5 2-1 1 8 6-1 1-7 15 2 0 3 7-6 22 3 131-3-197 15 10-4 2 0 16 3 1 0 11 2 73-2-88 12 0-3 3 2 38 1 44 4 107 18" style="marker:url(#mc_predys)"/><path d="m194 820 56 10 2 12 97 36-102 32 125 29-177 5 69 21 101 19 5 5 7-5 2 3-3 3-56 15 54 3 4-7 6 4 5-4-69 14 10-1 15 3 4 1 2-1 13-3 2 3 0 2 24-2 11-4-72 14 1-7 14 2 0-2 9 4 17 0 0 5 4-5 19 0 7 1-77 8 11 0 6 5 15 0 19 1 7-7 3 4 34-1 6 3-128 11 24-4 11-4 4 5 2-3 21 1 29 2 13 0 8 0 1-1 18 4-333 6 212 1 4 0 24-4 6-2 7 1 1 3 8-1 5 4 12-4 17-2 2 2 0 6 14-3 1-6 1 8 5 0-103 4 0 6 1 0 4 1 7-7 0 2 6 0 1-1 24 0 11 6 0-9 2 6 5 0 1 3 7-9 3 6 3-6 4 2 4 6 0-6 1 1 4 3 1-2 9-2 5-2 5 3-123 16 22 0 1-6 1 5 1-8 1 1 1 5 3 0 23 3 17-1 0-6 3 4 35 2 1-1 4-2 1 3 8-7 1 1-133 17 8-3 4-1 4-4 5 0 5 8 0-7 16 6 14-7 24 3 12 2 19-2 1 0 9 3 5-5 0-1 10 6 4 0-134 11 8-5 5 2 1-4 1 7 1 0 1-7 2 6 9 1 15-3 13 3 0-6 17 6 2 1 13-4 3 1 6-1 15 4 0-7 4 3-126 5 13 5 8-2 1 2 13-2 8-1 4 6 2-3 0 0 5 3 16-8 10 2 13 3 2 3 0-2 1-4 4 6 6-6 1 6 5 1 11-9 12 6 2 3 1-9-121 15 25 2 6-3 13 5 2-1 7-8 31 0 10 6 5 0 7-4 15 0-101 16 22-2 1-6 2 1 4 1 10 3 20 2 16 0 7-3-83 13 26-1 1-5 17 7 6 1 14-4 8-3-33 10 19 4-101 8" style="marker:url(#mc_dys)"/><path d="m201 811-1 35 59-2-73 26 123 24-24 19-37 7-47 15-13 42 122-2-58 79-80 10 74 5-35 8 33-3 1 2 12 1 8-4 10 4-46 5 4-2 9 3 3-2 3 3 25-3 2 8 3-9 17 5 8 2-92 10 18-3 1 1 2 1 6-2 8-1 2 0 2 1 10 5 5-4 0 2 3 2 1-2 5-6 10 5 2 2 1 0-75 6 44 3 17-7 6 9 10-6-107 15 33 0 2 1 15-4 22-1 4-2 12 0 20 3 35 3-140 4 24 5 9-1 3-4 3-2 3 0 3 6 10-4 1 3 0-1 3-4 1 5 15-4 4 8 2-7 4 4 27-5 4 8 11-6-117 10 6-1 7 4 7-2 8 4 17-7 4 7 1-1 0 0 5-3 4 4 0 0 2-5 9 3 1 3 4-3 1 1 3-4 1 5 4 1 2-6 17 3 7 3 0-2 6-7 19 9-116 2 7 2 10 2 16 2 18-5 23 1 6 1 0-1 20 6-83 2 17-1 11 8 33-2 4-1 2-3 0 1 6 2 2-5 20 7" style="marker:url(#mc_prolif)"/><path d="m140 770-11 13 15 13 6-5 3 6 3-2-10 5-19 18 7-7 13 7 1-2 21 2 19 16 2 1 69 4 14-9 6 4-97 13 7-4 48 1 8-2 4 5 11-6 14-1 12 2 0 0 4-2 9 7 1-6 1 2 3 0 15 5 2-5-150 15 22-7 18 0 47 8 5-9 11 2 1 6 14-3 26 2-147 4 6 6 7-5 6-2 6 2 8 4 8-2 0 3 6-4 18 3 6 1 3-4 10 2 14 2 17-1 9 1 10-3 1 3 3-6 14 0 24 1 0 5 4-5-185 11 4 0 3-2 0 2 1 2 2 3 7-2 3 0 22 0 6 3 7-7 1 1 18 6 0-1 5-3 24-2 13-3 15 3 15 1 32 4 4-7 1 1 1 6 3 1 5-2 1-6-185 14 1 0 1-4 4 5 13 0 18 2 0-1 16-1 26 0 1-3 2 5 1-2 6-4 4 7 0-5 6 0 0-1 28 5 9-5 23 3 26-2 3-1 8 1-211 14 17-6 4-1 0 3 9-1 6 4 7-5 8 5 9 2 0-7 1 4 34 2 4-2 9 0 3-5 3 2 25 4 5-7 61 5-198 5 17 8 5-2 52 1 21 1 1 0 4-3 2-3 35 0-151 17 3-4 10-5 5 2 20 7 1-1 3-3 23-3 1 1 27-3 4 2 1-2 10 9 6-8-83 12 4 4 20-6 1 0 10 0 9 4 10 2 4-2 3-1 7 4 12-7-90 11 20 7 14-3 14-3 11 2 14-1 1-3 133-1-197 10 16 8 6-4 77 3-92 4 1 2 13-3 9 6 10-5 18 5-32 12 10-6 15-1 8 7 12-5 12 2 15-4-72 18 10-5 12 3 15-4 0 2 9-2 18 3 39-3-72 10 2 0 33-2 5 7 4-4 1-2 1 2 2 3 7-3-72 9 10 4 65-2 15 0-93 9 7 5 17-9 12 5 53 1-189 4 93 5 2-1 5 4 59 1 8-6 14 2 15-5 2 2 12 5 6-5-122 15 0-3 3 3 34 0 3-1 0-6 2 3 2 1 3-4 11 5 15-5 76 1-147 13 30-4 11 0 1 2 7 4 14-4 4 1 4-2 5 4 0 3 1-2 7-6 7 3 29 3-90 11 12-3 3-2 12 2 24 1 67 2 15-7-161 12 29-1 20 2-172 14 149-6 11 5 1 3 12-6 0 0 2-2 10-1 5 2 34 14-37 4 0 14 66-3 0 9-125 21 2 2" style="marker:url(#mc_trans)"/><path d="m141 765 33-2-45 15 11 1 5-6 2 6 30-8 7 7 10 1-42 7 1-2 4 3 2-6 5 2 1 0 2 0 9 0 1 6 15-8-48 9 5 4 8 5 15-5 1 3 13-6 7 5 13 3-40 9 4-2 8-5 0 6 23 2-63 3 30 6 3-7 20 5 19-6 8 3-83 7 45 3 3 3 5-6 1 5 7 0 8-3 1 2 6-2 17 2 3 4 2-6 5 7-44 2 31 8 6-8 12 0-60 14 33-1 25-2-55 11 33-3 30 9-16 36 96 12-150 65 39 4 8 101 39-4 22 19 4 7-14 63" style="marker:url(#mc_naive)"/><path d="m251 839 52 3-125 13 107 14-45 5 79-4 19 4-62 12 29-4 0 6 2-3 22-1-55 11 12 4 1-8 3 6 11-5 2-2 4 6 4 3 2-5 12 2 4 0-53 7 3 3 0-3 1-2 2 5 0 3 15 0 5-5 6 5 4-4 0 1 11 3 1-2 26 2 16-5 5 3 2 1-153 9 44-5 10 6 8-2 20-1 2-3 4 7 4-9 11 2 0-1 8 4 25-5 8 4 0-4 9 3-87 9 6 0 1 0 6 0 6 0 2 1 7 1 11 1 5 2 6-2 15-3 6 0 1 3 4 4 9-8-97 13 2 1 3 0 0 0 2 0 14-4 2 7 11-2 2 0 5-2 3-1 4 5 12 0 16-5 7 5 1-4 11-4 1 0-99 19 0-4 4 0 18-1 19-3 23 0 9 0 2 8 1-2 1-6 9 2 0 2 2 0 2-2-121 7 20 7 3-4 5 3 6 1 11 1 12-7 28 7 2-1 6 0 4-5 2 6 4-8 13 4-206 7 111 2 1 1 1-3 14 7 12-2 1-6 0 0 2 2 12 6 0 1 9-7 1 3 4 4 35-6 15 3 3 2 3-4 4-4-101 10 10 9 5-9 2 3 12 3 14 3 18-7 26 1-79 9 3 3 20 3 58-7-30 11 9 7-31 14 9-3 17 4-165 11 150-4-233 26 265 11-14 11 48 1-128 13 108 0-130 20-40 28" style="marker:url(#mc_memory)"/><path d="m176 823 122 53-1 12-85 8 91-2-112 6-14 14-2 8-29 17 47-1-43 11 9 0 6-6 3 2 2 4 3-7 1 3 4 2 4-6 8 3-53 6 22 1 2 8 13-1 5 0 1 0 1 1 5-4 4 4-53 10 0-2 3-5 5-2 1 8 8 1 5-6 2 5 4-8 8 2 11 1 1 4 16-3 1 5 12-3 14-1 66-2-158 13 12-2 4-3 10 0 11 1 17 6 12-3 1-2 5-1 8 1-81 8 8 6 1-6 23 3 6 3 2 2 9-5 2 4 3-5 1 5 1 1 4-8 3 0 2 3-89 12 10-2 35-2 2 6 17 0 5 0 3-3 3-3 6 3 14-4 1 1-102 14 10-1 13-5 24 0 12 6 2-4 1 5 0-3 0-1 7 3 1-4 7-1 12-1 6 3-90 10 1 1 13 0 0-1 9-1 2-1 1 0 5 1 17 4 10-5 6 2 32 4 6-1 4-1-123 6 17-1 4 3 7-3 7 1 21 6 11-3 4-2 4-1 3 3 4 0 1 0 3 1 10 0 0 4 7-3 4-2 14-1 3 2-140 9 10-4 6 0 14 3 10 4 12 1 1-2 8-3 2-2 5 5 1-4 9 6 43-7 5 8 128 0 69-7-325 11 8 0 1 1 8 4 10-7 1 2 1 0 3 3 13-6 1 1 21 0 5 2 11-2 13-1 36 1 5 2 6 1-141 6 5 0 11 4 3 0 10-4 5 3 6 0 4 3 9 2 1-1 35 0 50-5 7 2 11 3 25 0 109-2-284 12 1-1 5-6 2 2 6 0 13 6 9-3 17 0 12 0 31 3 7-2 4-4 3 2 1 5 7 0 8-5 12 0 5 2 1-1 24 1-141 8 5-3 0 1 2 4 2 0 10-1 3-4 14 1 30 4 6-4 0 7 1-2 18-5 4 2 3-1 3-3 30 2 39 7-109 7 9-5 9 6 7 2 21-8 39-1-88 16 4-5 9 5 20-6 3 7 189-2-221 10 4-2 25 0 19 6-43 3 32 5 11-3 103-1 79 2-163 32-1 8" style="marker:url(#mc_predys)"/><path d="m174 786 181 178 24 1-175 13 63-6-69 15 51-6 9-1 111 3 7 0 2 11 10 2-72 12 37 1 5-3 1 0 5 2 23-7 1-1 2 1-202 14 11-5 147 6 21-1 4-3 3 5 14-5 6 6 14-1-86 3 6 2 7 1 8 2 2-1 1-3 0 6 1-1 10 0 4-6 11 7 4-7 3 2 9 7 2-1 7-8 5 9-89 4 19 2 6-1 3 2 1-4 2 7 2-4 1-5 22 5 5 3 2 1 1-5 25 5 6 0 4-2 4-5-121 15 9-3 33-3 4 3 3 0 2-2 0-1 3 1 0 7 12-8 5-1 3 2 5-1 1 6 16-1 8-3 7 6 2 0 2-3 1 3 13-3-163 4 50 1 24 3 12 3 18-2 1 3 0-8 18 9 4-8 2 3 7 4 2-5 5 0 3-2 12 0 4 4-146 5 25 0 16 9 2-3 5 3 24-7 5 4 6-1 11-1 9 2 18-6 7 6 3-6 0 0 19 2-228 11 72-2 68 4 3 4 4-3 3 2 16-2 1 0 2-6 5 2 5 4 2 3 27-4 3 1 1 2 15-6-239 17 94-3 11-4 3 2 4 4 10 0 2-2 15 0 15-1 11-2 2 6 10-7 4 4 5-4 7 6 3 1 1-9 0 0 8 9-210 9 91-8 16 6 0 2 2-3 14 3 8-7 21 2 21-3 8 3 1 5 1-4 2-3 4 2 10 2 3 4 8-3 0-5 13-1 2 3 1-1 10 1-107 12 36-2 1-1 15 1 14-1 6 5 5-1 4 3 0-4 4 4 0-5 6-3 8 1 10 5-88 7 6 4 5-5 1 5 3-1 9-4 1 5 10-3 19-3 3 0 8 5 3-2 1-4 4 1 10 6 2-6 1-1-106 16 0-2 12-5 8 3 3 6 18-6 20 3 1-6 4 9 2-2 2 1 13-4 6 2 1 2 1-4-87 14 35-4 21 1 19-1 8-2-112 14 76-4 4 5 2-3-33 7" style="marker:url(#mc_dys)"/><path d="m162 835 119 0 103 143-76 3 10 35 67 4 14 8-159 24-16 15 1 2 2-1 37-2 4-3-7 16 3-3 16 0-61 6 10 0 14 2 10 1 4-5 0 4 15 4 22-5-112 12 14-2 26-1 7 1 0 6 1-5 1 1 2-4 3 7 13-5 3-1 3-1 1 0 14-1 13 6-111 12 47-2 4 1 1-7 11 6 2-1 2 4 25-6 1 6 4-9 1 6 5-4 8 7-111 5 12 4 47-1 44-3 16 5 27-7-136 8 26 9 0-7 6-1 0 8 12-6 15 1 7 4 10-4 15-3 4 2 5 2 2-3 11 6 2-8-86 14 27 5 9-6 1 4 7-5 9-2 21 5 10 2 19-4-99 10 10-3 9 7 2 1 1 0 5-3 9-5 2 0 1 7 11 2 3-5 28 0 2 4 8-5 5 0 5 3 3 2 6 1 3-6 1-2 44 3-136 10 47 4 4-1 1-1 4-1 4-5 6 7 1-7 1 9 6-4 3-5 13 0-49 11" style="marker:url(#mc_prolif)"/></g>
<text x="7.4" y="337.2" font-size="12.3" font-weight="bold">c</text><circle cx="26.6" cy="346.8" r="2.5" fill="#f27c7a" stroke="#945352" stroke-width="0.4"/><text x="30.9" y="349.7" font-size="8">Naive-like</text><circle cx="80.2" cy="346.8" r="2.5" fill="#2ea82c" stroke="#286b27" stroke-width="0.4"/><text x="84.5" y="349.7" font-size="8">Memory</text><circle cx="131.4" cy="346.8" r="2.5" fill="#7f93d3" stroke="#545f82" stroke-width="0.4"/><text x="135.7" y="349.7" font-size="8">Proliferative</text><circle cx="26.6" cy="360" r="2.5" fill="#b39a26" stroke="#716323" stroke-width="0.4"/><text x="30.9" y="362.9" font-size="8">Transitional</text><circle cx="80.2" cy="360" r="2.5" fill="#5cc6cf" stroke="#417b80" stroke-width="0.4"/><text x="84.5" y="362.9" font-size="8">Pre-dysfunctional</text><circle cx="156" cy="360" r="2.5" fill="#d063c6" stroke="#81457b" stroke-width="0.4"/><text x="160.3" y="362.9" font-size="8">Dysfunctional</text><text x="27.5" y="578" font-size="7.6" transform="rotate(-90 27.5 578)">UMAP_2</text><line x1="25.2" y1="545" x2="25.2" y2="520" stroke="#000" stroke-width="1.1"/><path d="M25.2 511 L21.2 520.5 L29.2 520.5Z"/><text x="30.8" y="592" font-size="7.6">UMAP_1</text><line x1="67.3" y1="589.2" x2="87" y2="589.2" stroke="#000" stroke-width="1.1"/><path d="M95 589.2 L85.5 585.2 L85.5 593.2Z"/>
<g transform="scale(0.5)" fill="none" stroke="none"><path d="m575 718 6 1 0-2 2 2-9 3 1-2 0 8 1-3 2 0 0 1 1 1 0-1 0 3 0-5 2 0 0-3 1-1 0 1 0-1 1 4 0 3 0 0 1-2 1-4 0 1 0 7 0-5 0 4 1-7 2 1 0 1 0 3 0-4 0 0 1 6 1-5 0 4 0-1 1-1 0-2 1 4 0 0 1 1 0-1 1-2-24 12 0-6 2 1 1-2 0 2 2 5 0 2 0-4 1-3 2 3 1-3 3 2 2 1 0 0 0-2 1-2 0 3 0 2 0-3 2-3 0 3 0-3 1 2 0 6 0-2 0 1 0-2 0-5 1 1 0 8 0-4 1-1 0 5 1-1 0-2 0-1 1-3 0 0 0 5 1 2 1-9 0 4 1-2 2 0 2 5 1-2 1 1 0 0 1 2 0-2 0 0 3 0 0 3 1-1 1-1 0 2 3-1 0-1 4 1 1 0 2 0-38 3 2 8 0-8 0 4 0-5 1 5 0 4 0 0 1-9 0 7 2 2 0-2 1-3 1-2 0 7 0-7 0 7 1-5 0 4 1-8 0 2 1-2 2 0 1 7 0 0 0-1 1 0 0 0 1-2 0 3 0-1 1-6 0 1 0 6 0 2 0-6 0 4 1 2 0-6 0 6 0-7 1 0 0 5 2 2 1-1 0-7 1 5 1 2 0-8 0 1 1 6 0 2 0-1 0 1 2-3 1-4 1-2 0 6 1-4 0 4 0 3 0 0 1-4 0 3 0-8 0 9 0-9 0 2 1 5 0-5 0 5 0-3 1 1 0 2 0 2 0 0 1-1 0-3 0 1 0-4 1 2 1 4 0-4 2-1 1-3 0 8 0-2 1 3 0-9 0 0 0 9 1-1 0 1 1-2 0-1 0 3 0-8 0-1 0 4 1-4 0 1 1 7 0-1 0 0 1-1 0-3 0 5 2-7 1 2 1-2 1 8 1-5 1 1 0 2 1 0 2-3 1 1 0 2 1-1 0 3 0 0 3 0 0 0-61 10 2-4 1-1 0 3 0-1 1-5 0 1 1-2 0 8 1-6 0 1 0 0 1-1 0-1 0 4 0-3 1 5 0-7 0 4 1-3 1 5 1-1 0 1 0-4 2 2 0 0 1-4 1 1 2 0 0 6 0-7 0 2 1 4 0 0 2 0 1-2 1 2 0-6 0 5 0 1 2 1 0-4 0 2 2-5 0 1 1-1 0 9 1 0 0-4 1 2 0-5 1 7 0-2 1-5 0 2 0-2 0 0 1-2 1 9 0-2 0 1 1-2 1 3 1-6 0 1 0-1 1 0 0 1 1 3 1 0 0 1 1-6 1-1 0 4 0 0 0 0 1-5 1 1 0 7 0 1 1-5 1 0 0 1 0 1 0-1 0 0 1-2 1 3 0-1 0 1 0 0 0-2 0 4 1 1 2-2 1 2 0 0 1-3 0 3 1-6 1 6 0-9 3 4 1-2 1 7 1-8 1 0 0 7 2-2 0-1 0-4 0 3 1 4 0-4 0-3 1 1-69 17 1-1 1 0 0-6 1-1 0 0 2 4 2-3 0 7 0-6 1-3 1 5 0 3 1-2 0-4 0 6 1-4 0-2 0 1 1-1 0 6 0-1 1-1 1 0 0-6 1 3 0 2 0 3 0-6 0 1 3 0 0 5 1-1 1-4 0 4 1-7 0 8 0-7 1 1 1-1 0 2 1 2 1-4 0 3 2-4 1 5 1 0 1 3 1-3 2-2 0 1 1 2 1-6 0 3 2-2 0-1 1 2 1 5 1-1 1-5 1 7 1-4 0-4 0 6 0-3 1 1 0-4 0 8 1 1 0-4 0 3 2-6 0 4 0 0 1 2 0-3 1 1 0 1 0-4 1 4 0-7 1 7 0-4 0 3 0 2 0-5 1 4 0-4 0 1 1-1 0 4 1 2 2-6 0-1 0 3 0-5 0 4 1 0 0 3 1-1 0-4 0 0 0-2 1 4 0 5 0-5 1-2 0 1 0 5 1-3 0-3 0 0 0 5 1 1 0-4 0 5 1-3 0 2 0 0 0-7 1 1 0 2 1 4 1-6 0 5 1-2 0-5 1 8 0-3 0-4 2 2 0-3 0 2 0 2 1 4-74 6 1 4 0-2 0 0 0-1 1-3 0 3 0-2 0 4 1 2 0-1 0 1 1-3 0-2 0 1 1-2 1 3 0 0 0-1 1 0 1-4 0 0 0-1 1 5 1-4 1 7 0-8 1 7 0-5 2-1 0 5 0-6 0 7 1-3 0-2 1 1 0 1 0 5 1-7 0 7 0-1 0-7 1 0 0 1 1 4 0-3 0 5 1-2 0-4 0 7 1 0 0-2 0-7 1 2 0 5 0-2 2 3 2-7 1 5 0-5 1 0 1 1 0 0 1 2 0 3 0 2 4-2 0 1 0 0 1 1 1-2 0-1 1 1 0-6 0 6 1 1 0-2 0-4 1 2 0 5 0-6 1 3 0-4 1 4 1 2 1-4 1 3 1-4 0 1 0-1 2 4 0-7 0 4 1 2 1-3 0 0 0 3 0 1 1-2 0-1 0 1 2 1 0 1 0 1 0 0 1-3 1 0 0 4 0-6 1 2 0 2 0 1 0-1 1-7 0 5 1-3 0 5 0-3 1 4 0-5 2-1 0 0 0 1 0 6 1-6 1-1 1 0 0 1 1-2 0 7 1-7 1-1 2 5 1-3 0-2 2 2 0 7 1 0 0-3 1-1 1 4 0-4 3 3-85 9 1 0 2 2 0-3 1 2 0-5 1 3 0-3 0 0 0 6 1 0 1-8 1 4 0 4 1 0 1-8 1 7 0-1 1 1 0 1 0 0 1 0 1-6 1-1 1 0 1 3 1-4 0 7 0-2 0-3 0-3 0 6 1 2 0-2 0-5 0 4 2 3 0-3 0 1 0-4 1 3 2 0 0 1 1-3 0 6 1-8 0 3 0-4 1 6 0-6 0 4 0 4 1-2 0 3 0-9 0 6 1 2 0-1 0-7 0 1 1 3 0 3 0-2 0-3 0 7 0-2 1 1 0-7 1 1 0 6 0-6 0 1 1 4 0-4 0 6 0 0 1-5 0 3 0-4 0 2 1-2 1 0 0-2 0 0 1 6 1-4 0 1 0-4 0 0 1 5 0-4 1 4 0-3 1 0 0 2 0-4 2 3 0 1 1 1 2 1 0 1 1-6 3-1 1 0 1 9 0-8 2-1 0 3 0-2 1 0 1 8 0-9 1 4 1-1 1 6 1-7 1-1 0 6 1-1 1-2 0 1 0 2 0 0 0 0 4 2 1 0 1-2 0 1 3 1 2-2 0 2 0 0 4-7 0 7 1-2 0 0 1 2 0-1 1-1 1 2 0-2 0 2 1-4 0-4 0 2 0-2 1 6 0 0 0 1 0-4 0-3 1-1 0 6 0 2 2-3 0 0 0-1 0 5 3 0 2-1 0 1-101 10 0-2 0 2 1-6 1 6 0-3 0-1 0 2 0 0 1-1 0 3 2-2 1-7 0 9 1-6 0 3 1-2 0 3 0-3 0 2 1 1 0-4 0 1 0 2 0 1 1-1 1-4 0 7 0-4 0 1 1 1 0-6 0 2 0 0 1 3 0 1 1-1 0-6 0 1 0 5 1-5 0 1 1 2 0-2 1 5 0 1 0-7 0 8 2-3 1-5 0 8 0-5 0 5 0-4 1 0 0-1 0 1 0 2 1-4 1 5 0-6 0 5 1 2 0-5 1-1 1-1 1 6 0 1 1-3 0-3 2 1 0 1 0-1 0 2 0-4 1 6 0-3 1-4 0 1 1-2 2 3 0 6 3-5 0-2 2 2 0-4 0 9 1-1 0-6 0 3 1-2 0-2 0 1 0 7 0-8 0 1 1 7 0-8 0 1 1 7 1-9 2 0 2 7 0-1 5 3 0-5 1-3 1 7 1-5 0 5 0-1 0-6 1 1 1 5 0 0 2 2 1-5 0 1 0-1 3 0 1 1 0 1 1 0 0-1 0 2 1 1 1-7 0 7 1-6 2 6 0-4 3-2 1 0 0-2 1 5 1-4 0-1 1 9 0-6 0 5 0-2 0 1 0-2 1-1 0 1 1-5 0 6 0 0 0 1 1-7 0 1 0 3 0-1 1 1 0-2 0 5 1-2 1 4 0-3 0 1 1-2 1-3 0-2 1 9 0-2 0-7 1 4 1 5 0-8 0 4 0 1 0-1 1 1 0 1 0-5 0 4 1-4 0 2 1-3 0 3 1 1 1 4 0-8 1 3 0-1 0 5 0-5 0 5 1-8 0 0 1 1 0 4 0-2 0 2 0 2 1 1 0-6 0 3 0-2 0 2 0 4 0-4 1 4 0-1 1-1 0 2 0-1 0-2 0 1 0-2 1-1 0 5 1-4 0-2 4 6-106 3 2 2 0 0 1-2 0-2 0 4 0-3 1 1 0 2 1-4 0 0 2 5 1 1 1 0 0-3 1-3 0 2 1 4 0-4 1 2 0-1 0 0 1 0 0-3 1 8 1-8 1 7 0-6 0-1 0 4 0 2 1-5 0 4 0-3 2 2 1 3 1-3 1-1 1 5 1-7 0 8 2-9 0 3 0 3 1 3 1-3 0-5 0 2 1 6 1-4 0-2 1 5 1-3 0 4 0-2 1-2 1 0 0 1 0 1 0 2 0-1 1-5 0-1 1 1 0 2 0-4 1 4 0 4 1-9 0 5 0-5 2 3 1 1 0 3 0-3 1 5 0-3 0 1 1-4 1 5 0-7 0 2 0-3 0 8 0-4 1-4 1 3 0 0 0 3 1 0 0-5 0 6 1 0 0-6 1 5 0 2 0-3 0-3 1 7 0-4 0 3 1 0 0-3 0 2 1-6 1-1 0 2 0 5 1-5 0 5 0-1 0-2 0-1 1-1 0 5 1-4 0 3 0-2 0 4 0-1 1 0 1-6 0 5 1 3 0-3 0-2 1 4 0 0 0-4 0 3 1-1 0 0 0-5 0 3 1-1 1 6 1-9 1 7 0 0 0 2 1-2 0 2 1 0 0-1 0 0 0-7 2 1 0-1 1 4 0-3 0 6 1-2 0-4 0 6 0 1 1-6 0 1 1 1 0 2 0 1 0-5 0 1 0 0 1-2 0 1 0 3 0-4 1 5 0-6 1 7 0 1 0-5 0 1 0-2 1 2 1 0 0-5 0 0 1 6 0 3 2-2 0-1 0 0 1-6 0 5 0-1 1-4 0 2 0 1 2-2 0 6 0-7 1 2 0 6 0-2 0-6 0 0 1 0 0 1 0 3 0 4 1 0 1-2 0 1 0-1 1-2 0-1 0-2 0 7 0 1 1-7 1 4 0-4 0 4 0 3 1-8 1 1 0 3 0-3 0 2 0-3 1 3 1 4 0 0 1-5 0 3 0-4 0-1 0 0 2 8 0-8 1 4 0 1 0 0 0-5 0 6 0-6 0 0 1 4 0 0 0-4 0 5 1-5 0 2 1-1 0 3 0 4 0-8 1-1 1 2 0 0 1 6-83 3 1 0 3 2 0-2 1 5 0-2 1 1 0 1 1-4 0 1 1-1 0-1 1 1 0 7 0-2 1-7 0 7 1-1 0-2 1 3 0-4 1-3 0 4 1 0 0-2 0 5 0-6 1 0 0 1 0-1 0 3 0 2 1-4 0 3 0 0 1-3 0 5 0-1 0-1 0-5 1 0 1 9 0-8 1 4 0-3 0 2 1 4 0-2 0 0 0-1 1-2 0-2 0 8 0-5 1-3 0 0 0 5 0 1 0-1 1-6 0 0 0 3 0-3 1 5 1-5 0 3 0 6 0-3 0-1 0 4 0-9 1 8 0 1 1-8 1 0 0-1 1 0 0 0 1 4 1 5 0-9 1 6 1 2 0-7 1 7 0-4 0-2 1 3 0-1 0-3 0 5 0-6 0 6 1-3 1-2 0 1 0 7 0 0 0-6 1 2 0-3 0-2 0 4 0-1 0-1 1 7 0-7 0 0 0-2 1 4 0-3 0 7 1-4 0 3 0-4 0 1 1-2 0 7 0-1 0-7 1 0 1 4 0-2 0-3 0 1 1-1 0 0 0 4 0-2 0-1 1 3 1-4 0 2 0 7 0-2 1-5 1 4 0-3 1 5 0-1 0 1 1-1 1-7 0 4 0 0 0 2 0-2 0 0 1 2 0-2 0 1 1 0 0-3 0 6 1 1 0-9 0 0 1 9 0 0 1-1 0-6 1 1 0 1 0 5 0 0 0-7 0 1 0 4 1 2 0-9 1 7 0-6 0 3 1 5 1-5 0-2 1 0 0 6 0-6 1 3 0-5 1 1 0 3 0 0 2 0 0 1 0 0 0-2 0 6 1-1 1 0 0-3 0-3 0 2 0 0 1 3 0-5 0 2 0 1 1-1 0 1 0-1 0 1 0 3 0 1 0-3 1 3 0-7 0 0 0 3 1 1 0 3 1-7 1 0 0 4 0-6 0 6 0-6 0 3 1-2 1 3 1 3 0 1 1-7 0 2 1 2-69 7 2 0 3 0 0 1 1-2 0 3 0-4 0 5 1-3 3 2 0 1 1-2 2 1 0-1 1-1 0 6 1-3 1-2 0 0 0 2 0-2 0 0 1 3 0-5 1 2 0 0 0 0 1-1 1 2 0 4 1-8 0 6 0-5 0 3 1-4 0 4 1 0 1 4 0-5 1 4 2-5 0 0 1 4 0-2 1 5 1 0 0-5 0 5 1-1 0-3 0-2 0 5 0-1 0-1 0-5 1 6 1-2 0 2 0-6 0 8 1-2 0-1 0 2 0-3 0 4 1-3 0-6 1 0 0 5 0-5 1 2 0 5 1-6 0 5 1 0 0 1 2 0 0 0 0-2 0-1 2 1 0 2 0-6 2 2 3 2 2-1 1-1 1 3 1-1 0-1 1 1 0-1 2-4 0 3 0-3 0 1 1-1 0 3 2-2 0 3 1-1 3-2 1-1 1 0-42 10 3 0" style="marker:url(#md_g)"/><path d="m579 717 3 1-12 5 3-3 4 4 3 0 0-1 2 1 0 1 1-4 3 7 5-3-19 9 2-2 2 2 7-3 6 8 1-5 2 4 1-2 2 1 1-1 3-1-16 14 5-5 1 2 4-6 3 0 0 4 3 3 2-6 1 7 0-7 1 0 2 8 1-2 0-6 2-1 4 5 1 1 4 2 0-5 2 2 1-1 2 2 2 3 11-1-53 4 1 0 3 6 1-7 13 6 0 2 3-1 1-4 2-3 7 1 1 7 1-9 3 6 6 2 0-6 1 4 0 1 1 1 3 0 0-1 0 1 2-2 0 0 7 3 0-9 7 9-67 1 1 3 1-3 1 9 1-9 3 0 3 2 2-2 1 5 6 1 3 3 5-2 0-1 5-6 4 5 1 1 10-3 1-2 0 7 0-7 6 3 1 5 6-4 3 3 1-2 1 1-71 7 6 1 0-5 1 1 0 3 2-4 2 0 0 8 4-4 2 5 4-4 7 0 1 4 4-1 2-7 3 0 2 3 0-4 0 9 4-5 2 1 1-3 1-1 1 5 5-1 2-5-63 14 3 1 5-5 2 3 1 6 4-4 3-3 0 5 1 2 2-6 2-2 2 3 3-1 1 5 8-7 1-1 3 1 5 8 5-4 0-5 5 0 4 7 2 2 1-2 4-4 13 3 0-3 2 2-84 9 0-4 0 1 2-1 2 5 1 3 8-4 2 1 2-5 3 3 5-2 7 1 19 3 5 4 9-6 9 6 5-6 7-2-89 12 2-3 3 5 8 1 6-5 7 4 5 4 1 0 0-8 1 7 5-8 1 3 0 2 1-2 1 5 3-4 1-2 4 1 16 3 1-1 16-3 1 1 6 6 1-3-67 6 2-1 7 0 16 5 3 0 1-6 16 6 18-4-49 12 16-3 12 6-11 3" style="marker:url(#md_p0)"/><path d="m570 724 3-4 1 3 2-3 0 3 3 0 4 1 4 3 5 1-21 8 3-6 1 3 7 0 3-1 4 4 3-4 3 0 6 6 10 1 0 0-29 7 3 3 2-3 2-6 0 2 6 3 6 2 1-2 2-5 0 5 1 0 9 0 2 1 6-4 2 6 14-2-58 13 2-9 1 5 2 4 5-8 5 4 2 2 3-4 1 4 2-4 2 2 6-1 3 4 2-1 0 1 1-5 0 4 4-1 0-3 9 6 0-3 11-1-65 13 1-1 3 1 9-1 20-6 2-1 6 7 4-7 2 1 3 6 2 0 0-3 1 1 9-2 1 6 0-6 1 6 1-8-69 13 1 2 2 2 1-3 0-2 1 0 2-2 1-1 0 7 3-3 1 1 1-2 4 0 3 4 6-3 8 4 5-3 0 0 3 0 0 2 2-2 0-5 4 7 4 0 0-2 2 0 1-1 2-1 9-1 8 2-81 14 10-1 6-1 13 0 2 3 3-9 10 1 2 0 6 2 2-3 1 6 2-5 2 2 6 5 13-6 3 1-86 15 2-1 4-5 1 6 5-2 6 2 3-5 2-1 2 3 10-4 2 7 1-5 3 6 8-7 7-2 1 4 5 1-63 6 7-1 3 2 1-1 4 6 9 0 2-6 4 8 8-8 3 1 0 2 6 3 1-3 3-3 2 1 3-1 0 8 2-8 24 5 2-5 1 6-61 9 1-2 0-3 3 7 0 1 1-3 3-1 33-4 22 5 3 2-46 8 0 0 1 0 4 0 1-4 4 1 7 2" style="marker:url(#md_p1)"/><path d="m573 723 2 2 1 2 4-4 9 5-15 7 2-1 7-3 2-1 1 5 5-3 1 5 0 0 4-5 7 5 4 2-22 1 1 6 4-4 2 7 9-5 0 4 2-1 0 1 6-7-28 13 0 5 2-9 1 0 0 0 3 9 0-5 1 1 1 2 1-3 0 4 4-5 0 3 0-2 0-2 2-1 3 6 1-7 0 2 3-1 1 0 4 1 1 7 6-2 0 2 5-3 0 0 3 3 2-4 12-4 3 5-54 12 0-5 0 0 4-2 3 6 5 2 6-6 0 4 3-7 4 1 1 0 0 1 3 7 1-6 0 3 1 1 1-6 5 1 2-1 0-1 3 9 0-4 4-1 0-2 10 3 3-1-72 10 4 0 3 4 8-5 6 6 6-1 6 1 2 0 3-9 0 9 2-9 2 0 4 3 1 3 0 1 0-7 1 0 1 6 2-6 0 7 3-6 5 5 6-2 5 5-78 7 3-1 4 3 1-8 9 0 0 7 0 2 1-2 4-3 0-2 1 0 0 1 1 4 2 1 0 1 1-5 4 3 1-1 3 2 1-5 8 6 6-9 1 2 3-1 2 2 1-1 5 3 0 3 1 1 5-8 7 5 8 2-94 6 4 3 1-4 1 3 8-4 0-1 1 2 1 3 0-2 2-3 1 3 8 0 0-3 4 3 20-1 1-1 3 5 1 0 2 1 4-4 2 4 3-6 2 1 0 1 2 0 7-4 3 9 9-1-83 3 4 4 3 1 0 1 3-7 6 8 7 0 10-3 4-3 3 5 4-2 0-3 3 2 1 1 1-4 2 4 4 2 4 2 5-5 0 0 31 0-67 6 0 1 1 0 8 7 1-8 5 2 8 2 1-2 3-1 5 7 14 0 2 0-45 3 12 6 13 2 8-5 2-3 4 7" style="marker:url(#md_p2)"/><path d="m584 718-1 11 2-9 0 3 1 0 1-1 0 3 1 2 3-1-22 8 17 1 1 2 0-2 5 1 1 0 7-1 7 1-22 10 0 2 2 0 7-2 0-6 1 7 2-3 8-3 0-1 2 5 3-2 8-2 1 8 14-3 1 2 0 0-55 11 7-5 0 2 11-2 6-3 5 0 0 4 0-5 2 8 0-4 0-2 1 6 4-3 8 2 4-2 3 1 2-5 8 8 1 0-66 9 5-2 6-4 3 6 0 1 3-7 6-2 6 8 5-6 3 7 5-4 2-2 1 4 2-3 2 1 2 1 2-3 1 4 3-7 0 4 0 4 5-6 1 1 2 4 1-5-65 9 0 4 2 2 2 2 0-8 0 5 3 0 1-3 8 2 0 0 0 4 1-1 3-3 1-1 4 0 1 5 2-6 0 3 2-3 1 2 5 0 3 1 3 0 7-5 3 5 0 3 5-9 9 7-74 10 4-7 0 9 5-5 0 3 7-3 3-4 2 1 5 3 6-3 0 6 7-1 9-6 0 9 19-5-76 10 5-1 1 6 1-5 9 1 3 1 3-1 0-1 3 4 10-2 0-2 3-1 0 2 1 4 7 0 2-7 1 4 3 3 3-6 3-3 3 5 5-5 13 1 2 3 1-4-80 11 5 4 2 0 7 1 2-6 9 3 5 2 19 2 5 0 21-4 3 1 15 5-71 5 19-2 6-2 2 2 4 7 4-5 3 2 15-6 7 1-49 10 10 5 2 1 0-5 7 5 3-4 13 6" style="marker:url(#md_p3)"/><path d="m708 718 4 1 2-1 1 1-15 5 1 0 0-2 2-2 0 1 1 1 0 0 0 1 1-1 0 4 1 3 0-2 0 2 1-3 0-4 0 3 0-1 1 0 0 2 0 2 1-1 0-2 1-1 0-1 2 1 0-2 0 6 0-2 1-1 1 4 0-4 0 2 0-3 1-4 0 1 0 8 1 0 0-4 1-3 0 0 1 1 0 6 0-2 0-4 1 0 0 5 1-5 0 3 0 1 1 2 0-3 1 1 1 1 1 0-24 3 0 4 1 1 0-5 1 0 1 5 0-6 0 4 1-3 0 2 0 1 2-1 0 1 1-1 0 1 1 1 1-3 0 5 2 2 1-5 1-4 0 1 1 2 1-1 1-1 0 0 0 4 0-1 0-4 1 7 0 2 0-1 1-5 0 4 0 0 0 0 1 2 0-6 1 6 0-3 0-2 1 4 0-7 1 7 0-6 0 5 0 1 1-3 0 3 0-6 2 1 0-2 0 7 0-6 2 0 0-1 1 0 1 6 2 1 0-3 0 0 0 2 1 2 1-3 1 1 1-1 2 0 0 0 1 3 1-1 2 1 3 0 0-1 2-1 1 2 2 0-38 3 0-1 1 7 0-8 0 9 0-4 0-1 1 5 0-1 2-2 0-2 1 4 0-1 0 2 1 0 1-9 0 0 0 4 1 2 0-6 1 7 1-2 0-5 0 0 1 7 1 1 0-6 0-2 1 6 0-5 0 7 0 1 0 0 1-1 1-3 0 0 0-4 0 0 0 1 1 2 0-4 0 3 0 6 1-7 0-2 0 7 2 1 1-1 0 2 0-8 0 3 1-3 0 3 0 2 0-3 1-2 0 6 0 2 0 0 0-2 0 1 1 1 0-7 0 4 1 2 0 1 0-4 0-5 1 6 1-6 1 7 1 2 0-2 1-5 0 4 0 2 0-7 1 1 0 6 0-7 0 1 0-1 1 4 0 0 1 2 0-3 0 1 0 2 0 2 1-6 2 5 0-4 0 5 1-3 1 3 0-6 0 5 0-7 0 2 0 4 1 2 0-5 0 5 1-3 0 3 0-4 1 1 0-2 0 4 0 1 2-2 0 1 0-8 0 9 0-6 0-2 0 5 1 3 0-2 0 0 1-1 0-1 1-2 2 2 0 1 1 0 0 3 0-7 3 6 2 0 2 1 0-3 3-1-61 14 1 0 1-2 0-1 0 2 1-2 0-6 0 7 1-3 0 1 0-1 0-4 0 0 1 2 0 0 1-1 1 2 0-2 0 4 0-5 0 3 1 0 0 2 1-4 0-1 0 5 0 3 0-3 0 4 1-2 0-6 0 5 0-1 1 2 0-1 1-2 0 1 0 4 1-7 0 2 1-4 1 6 0-3 1 0 1-2 1 8 0-3 0 1 0-6 0 5 3 0 0 0 0-1 0 4 1-9 0 7 1-1 0 3 0-3 0-3 1-3 0 6 1-1 0 4 0-8 0-1 0 0 0 4 1 4 0-7 0 0 1 3 0-2 0 3 0-5 1 6 0 1 1 2 0 0 0-5 0-1 0 1 0-1 1 2 0 2 0-5 1 3 0-5 1 0 0 2 1 4 0 3 0-4 0-4 0 5 0 2 1-5 0-3 1 8 0-6 1 1 0 0 0 0 0 6 0-3 0-3 1-1 1 4 0-2 0 1 0 2 0-1 0 2 2-2 0-1 0-2 1-3 0 6 0 0 1 1 0-3 1-4 0 9 1-3 0-1 0-2 0 4 0-7 1 1 0 4 0-3 0 2 1 1 0 3 0-2 0-3 1 0 0-1 0 0 0 2 1 2 0-4 0 5 0-4 0 2 0 3 1-7 2 7 0 0 0 1 1-4 0 0 0 2 0-5 1 3 0 4 1-6 1 6 2-9 2 1 0 8 1-6 0-2 0 0 0-1 2 9 0-4 0-3 0 7 0-7 1 4 1-3 0 3 0-3 0-2 1 8 0 0-69 9 1 1 0-1 0-1 2 0 1-5 0 0 1 3 1 4 0-2 1-6 0 4 1-4 0 8 0-2 1-2 2 4 0-8 0 7 0-6 0 0 0 1 1 0 0-2 0 7 0-4 0 0 1-4 0 6 1-4 0 3 0-4 1 7 1-6 0 7 0-8 0 6 2-2 0 4 1 0 0-2 0 0 1-4 1 1 0-3 1 0 0 7 0-8 1 1 0 2 1-1 0 3 0 0 1 3 1 1 0-1 2-3 1-1 0 3 2 2 0-5 0 3 0-2 1-2 0 0 0 5 0-4 1-4 0 0 1 4 0 1 1-4 1 1 1-2 1 2 0-2 0 6 0-5 2 3 0 5 0-2 0-5 1 6 0-3 0 2 0 0 0-2 0 1 1-5 0 5 0 0 1 0 0 2 0-1 0-1 1-6 0 6 0-1 0-5 0 7 0-2 1 4 0-5 0 4 1 0 1-2 0 0 0 2 1-4 0-2 0 5 0-4 1-2 0 5 0-5 1 0 0 3 0-1 1 0 0 4 0-2 1-4 0 5 0 0 0-6 0 8 0-4 1 2 0-5 0 1 0 6 0-7 1 8 0-4 0 1 2-2 0-1 0 1 1-4 0 7 0 0 1-3 0 1 0-5 0 4 0 3 1-2 0 3 0-4 0 3 0-2 0 3 1-6 1 0 0 1 0 1 1 0 0 0 1 4 0-5 1-1 0 2 1 2 1 1 0-5 0 7 0-7 0 0 0 2 2 2 0-5 0 0 0 1 1 7 1 0 0-6 1 1 0 1 1 0-75 9 0 5 1 0 0-4 0 1 1-1 0-1 0-1 0 4 1-6 0 4 1 0 0 3 1-1 0-4 1-3 0 6 1 2 0-3 0 1 0 0 0-2 1 2 0-6 0 8 0-8 1 4 0-3 0 5 0-5 1 6 0 1 0-7 1-1 0 0 0 1 1 7 0-1 0 0 0-5 0 2 1 2 0-3 1 2 1 0 0-2 0 6 0-6 1 5 0-5 0 0 0 1 1 5 0-5 0-2 0 4 1-3 0 5 0-7 0 0 0-1 1 6 0 3 0-3 1-3 1-1 0 6 0-1 0 2 1-5 0 2 0 3 0-3 0-6 1 8 0-3 0 1 1-1 2 2 0 1 1-7 1 4 0 0 1-5 1 6 0-1 0 3 2-5 1-3 0 5 1 4 0-1 2-1 0 1 0-2 0 3 1-2 1-5 0 0 1 7 0-7 0 6 0-3 0-1 0 0 1 1 1 2 1-5 0 1 0 3 0 3 1-7 0-2 0 8 0 0 1-2 0 1 0 2 0 0 1-3 0-5 1 6 1 2 0-5 0 4 0-2 1-3 0 0 0-2 0 5 1-1 0-2 0-2 1 4 0 1 0 0 0-2 0-3 0 2 0-1 1 4 0-5 0 5 0 2 1-2 0-1 0 2 0 1 1-1 1-2 0-3 0 6 0-3 0 0 0-3 1 6 0 0 0-6 1 2 0 0 0 0 0 1 0-4 1-1 0 5 0 1 1-3 1 0 0-2 0 2 0 5 1-5 0 6 1-5 1-1 1-2 1-1 0 2 0 5 2-7 3 2 1 0 0-1 1 8 1-7 0 7 0-1 0-2 1 3 0-4 0-3 0 3 2 0 0-1 2 5 1 0-84 9 1-2 1 0 0 1 0-4 0 2 1-2 1 6 3-7 0 6 1-1 0-6 0 7 1 1 0-2 1-6 1 6 1-3 0-1 1 0 0 1 0-3 0 6 1-6 0 7 0-4 1 1 1 4 0-4 0 3 0-6 0 5 1-6 0 6 0-2 0 2 0-5 0 2 1 4 0-2 0 2 0-8 0 8 1 1 0-5 0-4 0 1 1 8 0-2 0-2 0-3 1 2 0 1 0 1 1-5 0 2 0-1 0 4 0-6 0 0 1 1 0 0 0 3 0-2 0 1 0 4 1-7 0 7 0-3 1-4 0 3 0 4 1 2 0 0 0 0 0-9 0 1 1 4 0-4 0 0 0-1 1 2 0 2 1 4 0-2 0-1 0 2 0-2 1 4 0-1 1-6 0 4 0 0 0 2 0-5 0 3 0-3 1 3 0 3 0-5 0-1 1 6 0-4 0-2 2-1 0-1 0 5 0-6 1 1 0 3 0-3 1 3 0-4 0 4 0-2 1 0 0 1 0 1 0-3 1 3 1-1 2-3 0 5 1-5 0 5 2-2 1-3 0 3 1 6 3-9 3 1 0 2 0-2 0 1 0-2 0 4 0-1 3 5 0-5 1 2 0-5 1 3 0-2 1 5 0 1 1-2 0-4 0 0 0 4 0 3 0-1 1 1 0-1 0 0 0-7 1 8 0-1 0 2 1 0 0-4 0 0 1 0 0 4 1-1 1-1 0 2 0 0 3-1 2 1 2-1 1-1 1 0 2 2 1 0 0-8 0-1 1 2 1 5 1-5 1 6 0 0 0-3 1-1 0 3 0 0 0-4 1 1 0 4 1-5 0 4 0 2 1 0 2-1 1 1-100 5 0 3 0 0 1 0 0-2 0-2 0 1 2 5 0-3 0 2 1-3 0 0 1 3 0-6 1-1 0 4 1 4 0-7 0 4 1-2 0 4 0-1 0 0 1 1 0-3 0 1 1-2 0 0 0 5 0-1 0-1 1-6 0 8 0-1 0-8 0 0 0 6 0 1 1 0 1-6 0 0 0 2 1 3 0-4 0 4 1 0 0-6 0 1 0 2 0-1 0 0 1 3 0-1 1 3 1-4 1 0 0 6 0-7 0 2 1 4 0-4 0-1 0 2 1 4 0-3 0-6 0 2 0 3 0 1 1-6 1 5 0-3 0 2 0-1 0-1 1 1 0 1 0 2 0 2 1-2 0-2 0 0 1 1 0-3 1 6 0-5 0 0 0 4 0-7 0 1 1 8 0-7 1 5 1-3 0 1 0 0 0-5 0 3 1 4 0-2 0 1 0-5 0 1 1-1 1 1 1 1 1 0 1 6 1-7 1 4 0-3 0 2 0 4 0-7 1 5 1-4 0-2 1-1 1 1 0 1 0 0 0 0 0-1 0 3 0-2 0 0 1 7 0-1 0-4 0 0 0 4 1 0 0-4 1-4 2 8 1-8 0 6 1 2 0-2 2-3 1 5 2 1 0-2 0 2 1-1 0-2 0-2 0 0 0 4 1-6 1 0 0 3 1 4 0-6 0 3 1 1 0 1 0-8 1 7 0-3 0 4 0-5 0 2 1-5 1 0 0 5 1-4 0 2 0 1 0 0 1-1 1 1 1 5 0-4 0 1 0 0 0 1 1-4 1-3 0 5 1 2 2-3 0-3 1 8 1-7 1 1 1 0 0 5 1-8 0 0 0 3 1 0 0 0 0 1 1-4 0 0 0 4 0 2 1-1 0-4 0 4 1 1 0 0 0 3 0 0 1-5 0-2 0 3 0 3 1-8 0 6 0 2 0-2 0-1 0 2 0-5 1 4 0 1 0-3 0-1 0 0 0-3 0 3 1-2 0 8 1-8 0 4 0 3 1-8 0 1 1 6 1 1 0-8 1 0 0 0 0 5 1 1 0-2 0 0 0-3 0 2 1-3 0 7 0 1 0-2 0-2 0 1 0-4 1 3 0-4 1 9 0-6 1 3 1-5 0 0 0 7 1-5 0 5 0-2 2-5 1 4 0-3 1 5 0 2 1-3 0-1 0 3 0 0 1 1 0-1 0-4 2 0 1 4 0 0 1-3-104 6 1 3 0-1 1-2 0 0 0 1 1-1 2 3 0 2 0-1 3-3 1 1 1 2 0-1 1 2 0 0 0-4 1-1 0 3 0-1 0 0 0 3 1-3 1 0 0 2 1-4 0 6 0-6 0 3 0-1 1-1 0 4 0-6 3 7 0 0 1-4 0 4 0-3 1 4 1-2 2-4 0-2 0 6 1-6 0 9 1-9 0 1 1 7 0-6 1 3 0 4 0 0 1-4 0-4 1 3 0 3 0-2 0-5 0 4 1 0 0 0 1 2 0 3 0-1 1 1 1-1 1-1 0-4 0 5 0-2 1-3 0 1 1-3 0 4 0 0 0-1 1 0 0 2 0-3 0 1 0-2 0 6 1-7 0 7 0 0 0-3 1 4 0-3 1-2 0-4 0 6 1 2 0-4 0-1 0-3 0 6 1-6 0 9 0-9 0 5 0 2 1-5 0 1 0-3 0 3 0-3 0 5 0 1 1 2 0-8 0 1 0 7 0-6 0 5 1-1 0-4 0 6 0-1 0-4 0-3 0 7 1-6 0 5 0-5 0 5 1 2 0-1 0-6 0 4 1 2 0-3 0 1 0 4 0-4 0 4 1-5 0-1 1 0 0 0 0 0 0 4 1-3 1 5 0-7 0 5 0 1 0 0 1-1 0-3 0 5 1-7 0 4 0-2 1-3 0 4 0 2 0 0 1-2 1-1 0 5 1-2 0 0 1 1 0-3 0 1 0 0 1-1 0 4 0-8 0 1 1-1 0 8 1 0 1-3 1 1 0 2 2 0 0-2 0 1 2-3 1-5 0 2 0 7 0-1 0-4 0-2 0 0 0 6 1-2 0 1 0 2 0-3 1 2 0-5 0 1 1 0 0 2 0 3 0-7 0 1 0 1 0 2 0 0 0-2 1 1 0 3 0-4 0 5 1-8 1 3 0-2 2 4 1-2 1 2 0 1 1-7 0 7 0-3 1-2 0 0 1-2 0 3 0 5 0-8 1 5 0-5 1 2 0 2 0-4 1 7 0-4 0-2 0 7 0 1 0-2 1-1 0-4 0 6 0-7 0 3 1 0 0-1 0-1 1 4 0-2 1 3 0-1 1-6 0 8 0-6 0 7 0-1 1 0 0-4 0 3 0-1 1 3 0-5 0-2 0-1 0-1 1 1 0-1 0 2 0 7 0-4 1 0 0-3 0 7 0-3 0-3 1 1 0-2 0 7 1-9 1 6 0 0 1 3 0-6 0 4 0-6 1 1 0 5 0-1 0-2 0 2 0-5 0 5 0 1 1-2 0-4 1 4 0-4 1 1 1-1-82 10 1 0 1 2 1 1 2-3 0-1 0 3 0 2 0 1 0-4 0-1 1 0 0 3 0 3 1-1 0-3 0-2 0 3 0-3 1 1 1 7 0-2 0-6 0 0 0 6 1-7 0 6 0 1 1-7 0 7 1-7 0 0 0 4 1-3 0 3 0 0 1-3 0 3 0-3 0 4 0 3 1-5 0-3 0 3 0-3 0 6 0-2 1 0 1 3 0 2 0-9 1 8 0-6 0-1 0 5 0-2 1 5 0-5 0 2 1 3 0-5 1-4 0 3 1-1 0 5 0 1 0-8 0 3 0 1 1-4 0 1 0-1 0 7 0 0 1-1 0-6 2 7 0 2 0-3 1 3 1-1 1-8 1 0 0 0 0 1 1 3 1 0 1-1 1 6 0-6 0-1 0 0 1-2 0 7 0-2 0-4 0 5 1-1 0-3 0-1 0 5 0 2 0-6 0 1 1-2 0 7 1-8 0 2 0 1 0 0 0-2 1 8 0-5 0-3 0 5 1-5 0-1 0 2 0 0 0 2 1 1 0-3 0-1 0-1 0 4 1-2 0 1 1-1 0 6 0 0 0-8 1 0 0 0 1 3 0 2 1-1 0 0 0-2 1-2 0 1 0 1 0-1 1 6 0-3 0 5 0 0 1 0 1-3 1-5 0 3 0 5 1-1 0-5 0 5 0-2 1-2 0 3 1 2 0-2 0-2 0-1 1 2 0 3 0-8 0 3 1 1 1-4 0 6 1-4 0 4 0 0 0 2 0-5 0-3 0 6 1-1 0 3 0-9 0 8 0-6 0 6 0-5 1 1 1 5 0-3 0-6 0 9 0-9 0 8 1-7 0 3 1 0 0-1 0-3 0 2 1 0 0 0 0 0 0 0 1-2 0 5 0 2 2-7 0 9 0-5 0 2 0-1 2 4 0-4 0 3 0-3 1 3 0-3 0-3 0 1 0 2 1-4 0 4 0-1 0 0 1 2 0-2 0 4 0-5 0 3 1-1 0-1 0 0 0-4 0 5 1 2 0 0 0-4 0 4 1 0 0 0 0 1 0 1 1 0 0-3 0-6 0 1 0 4 0-5 0 9 1-8 1 0 0 2 2 3 0 0 0-3 1 2 1-4-70 11 4 0 1 0 0-2 1 0 0 1 1 2 0-1 2 3 0-2 0 0 2 0 0 2 1 2 0-7 0 5 1 1 0 2 1-7 0 2 1 3 0-2 0 1 1 1 0-3 1-1 0-2 0 2 1 4 0-3 0-2 0 2 0 1 0-2 2-1 0 1 1-2 0 6 0-6 1 6 1-2 0 5 2-2 0-7 0 4 2-2 0 7 1 0 0-7 0 2 1 2 0 2 1 1 0-4 0 0 1 3 0-4 0-1 0 5 0-3 1 2 0-1 1-3 1 6 0-1 0-3 0 1 1 1 0-3 1 1 0 3 0-2 0-5 1-1 0 1 0 5 0-6 1 3 0 4 2-1 0 3 1-1 0-1 0-3 1 0 1 1 1-5 0 0 2 3 2 2 0-4 2 3 1 1 1-2 0 2 0 0 1 1 0-3 1 3 1-3 1-3 0 5 0-4 1 2 1 0 1 2 2-5 0 1 2-1 1 0-38 11" style="marker:url(#md_g)"/><path d="m704 720 11 8 6-1-13 12 4-7 18 3-13 7 2-2 0 0 4 8 8-8 4 5 2-3 7-2 7 7 15 2-54 1 18 6 27 1-47 11 6-5 38 0 5 2 2-3 13 1-48 12 9 4-13 9 1-4 25-4-24 15 9 0 6-2 27-3-46 13 15 3 9 2 16 1-42 3 32 4-12 11" style="marker:url(#md_p0)"/><path d="m700 723 13 3 8 0-17 9 10-5 18 5 1 4 5 0-25 8 29 2 2-7 16 5-33 9 2-6 9 3 0 3 5-4 11 5 18-5-40 13 16-3 8 7 4-9 4 4 1 0-63 12 12-5 2 6 6 1 16-6 3 4 35-1-80 11 68-4-70 15 7 1 11 1 34-2 21 0 8-1 8 2-87 8 12-6 7 8 5-7 34 6-21 20 21-4" style="marker:url(#md_p1)"/><path d="m714 728 1 0 5-5-13 8 4-1 11 7 6-4 4 4-18 6 1 6 10-6 10 6 5-1 23 1 2-3-39 5 7 3 0 2 9 1 0-6 9 3 4 2-48 7 6 2 2 0 4-2 8 1 1-3 1 0 12 1 18 5 6-7 1 6-64 10 15-3 25 5 14-1-62 10 1 2 28-4 3-2 22 6-5 4-52 8 11 3 16 4 4 1 14-4 49 0-65 6 12 5 50 1-18 9" style="marker:url(#md_p2)"/><path d="m704 719 1 3 7 2 1 5 6-1 2-2 4 0-20 9 17-4 16 8 3-3-12 4-17 17 14-5 3 7 7-8 24 5-49 13 4-2 13-5 32-2-17 11 4 3 22-1-68 11 2 5 7-3 4-1 25-4 9 4 2 3 4-6 2 3 19-5-85 19 18-1 32-1 11-3 27-3 6 5-63 9 6 0 8 3 0 0 19-7 9 4-30 7 16 1 24 1-50 7 14 1" style="marker:url(#md_p3)"/><path d="m844 719 0-1 1 0-11 6 1-1 0-3 1 2 0-1 1 0 1 5 0-6 0 5 1 1 0 0 0 2 0-1 1 2 1-6 0 1 0-1 1 0 0-3 0 2 1 3 1-5 0 1 0 7 0-1 0-2 0 2 1-6 0 7 0-1 1-3 0 0 0 4 1-7 0 6 0-6 1 1 0 3 1-2 0 3 1 2 0-5 1 6 0-1 1 0 0-1 1-1 0-2 2 4 1-2-24 11 0-6 0 3 1-3 0 3 1-1 1-1 1 3 0 2 1-1 0 2 0 1 0-6 0 1 1-2 0 1 2 3 1-4 0-2 1 9 1-5 2-1 1-1 1 3 0-1 0 1 1-2 1 6 0-6 1 2 0 3 0-1 0-4 1 4 0-3 1 5 0-2 1 2 0-8 0 6 1-2 0 4 0-8 0 0 1 4 0-3 1 7 1-7 0 2 1-2 0-1 0 0 0 8 1-6 1 4 1-1 1-2 0 1 1 3 2-1 0 2 0-3 1 3 0 0 1-3 1 0 1 1 2 1 0 0 0-1 1 2 2-1 1 0-34 3 1 1 1 3 1 4 0-2 0-2 0 0 0 3 1-7 0 8 0-2 0 2 1-1 0-2 0 1 1 2 0-4 1 4 0-2 1 1 0 1 0-3 1-6 0 6 0-5 0 1 1 1 0-1 0-2 1 6 0 3 1-6 0-1 0 3 1-4 0 6 0-7 1 5 0 2 0-7 1 6 1 0 1-1 0-5 0 7 1-3 0 5 0-3 1 0 0-6 0 0 1 9 0-7 1 7 0-1 0-8 1 2 0 2 0 0 1 1 1 4 0-8 0 6 0 2 0 0 1 0 0-5 1-4 0 8 0-3 0 0 0 3 0 1 1-9 1 2 0-2 0 7 0-6 1 4 0 1 1-5 0-1 0 1 1 8 0 0 0-1 0-1 0-5 1 3 0-2 0 1 0 5 1 0 0-2 0 0 0 1 1-8 2 4 0 2 0 3 2-9 0 3 0 5 0-7 0 8 0-3 1-2 1-4 1 9 0-4 0 4 1-3 0 2 1 1 1-8 0 5 0-3 0 4 0-6 0 0 1 5 0 3 2-2 1-5 1 4 0 3 0-8 1 4 2 2 0-2 0 1 3-2 1 4 1-1 0-2 2 4 1 0-61 10 0 0 1-4 1-5 0 6 0-1 0 1 1-1 0 2 0 1 1-5 0 1 0-3 0 1 0-2 1 4 1-3 0 4 0 0 0-5 0 0 0 9 2-1 0-4 0 2 0-6 1 8 1-1 0-6 0 6 0 0 1-2 0 1 1-4 0 2 0 5 1-6 1-3 0 4 1 5 0-4 0-5 1 3 0-2 1 6 0-5 1 2 0-3 1 4 0-5 1 5 1-5 0 3 0 5 0 0 0-2 1-3 0 0 0 0 1 3 1-5 0 6 0-1 1 3 0-6 0-3 1 8 0-7 0-1 0 1 1 5 0-2 0-3 1 3 1-1 0-1 0-1 0 5 0-1 0 2 1-4 1-2 0-1 2 7 0-5 0 2 1 0 0-2 1 2 0-2 1 1 0 1 0-2 0 1 0 6 1-1 0 0 0-1 0-6 0 2 0 0 0 3 0 0 1 0 0 2 0-4 0-3 1 5 0 2 0-2 1-6 0 0 0 2 0-2 0 5 1 0 0-5 0 6 1 0 1-6 0 3 0 3 0 3 1-4 0-2 0 5 0 1 0-6 1 1 0-2 0 1 0-3 0 5 0 3 1-8 0 5 0-1 0-1 0-1 0 2 1 2 0 0 1-3 0 4 0 2 0-4 0-5 0 8 0 0 2 0 0-1 0 0 1 0 0 1 1-6 1 4 0-1 0-4 1 7 0 1 0-8 0 7 2 1 1-8 1 1 0-2 1 0 2 1 0 0 0 6 1-6 0 4 0-1 1 4 0-3 1 1 0-5 1 8 0-1-69 11 0-1 1 0 1-6 1-1 1 4 0 1 1 0 1-6 0 9 1 0 0-6 0 4 1-5 0 7 0-6 0-3 0 0 1 9 0-1 1-8 0 3 0-1 1-2 0 8 0-2 0 1 0-4 0-2 1 0 0 7 0-4 1 3 0-3 1-1 0-1 0 7 1-1 0 0 1-7 3 1 0 4 1-3 0-3 2 0 1 3 0 1 0-4 0 6 0-3 0-2 1 6 0-2 1-5 1 7 0 2 1-5 0 1 2-1 1 2 0-3 0 4 0-7 1 0 0 7 0 0 0-1 1-4 0 1 2 1 1-4 0 1 0 2 0-3 0 3 1-2 0 7 1-6 1-1 0 8 1-5 1-3 0 8 0-8 1 6 2-5 0 4 0-5 0 5 1 1 0 0 0-2 1-2 0 6 1 0 0-7 1 6 0 0 1-5 1 3 0 0 0-3 0-3 0 1 1 2 0 4 0-6 0 3 1 3 0 0 0-6 0 0 0 6 0 0 0 0 1-1 0-6 0 0 0 4 1 0 0-1 1-2 0 4 1-5 0 5 0-5 0 0 1 2 1 2 0 1 0-1 0-3 0 7 1-3 0 2 0 1 1-6 0 0 1 6 1-2 0 1 0-5 0 0 0 0 1 1 0 4 1-1 0-3 0-2 1 1 0 0 0 3 0-5 1 9 0-5 0 1 1 1 0 2 0 1 0 0 0-8 2-1 0 7 1-3 0 1 1-4 0 2 0 4 0-3 0-4 1 6 0-2-74 13 1-2 0 3 0-3 0 3 1-7 0 7 1-6 0 1 0 1 2 1 0 0 1 1 0 1 0-1 0-1 1-5 0 4 1 1 0-3 0 6 0-8 0 2 1-2 0 6 0-5 0 4 0 1 0 3 1 0 0-9 0 8 0-6 0-2 1 1 0 6 0-4 1 1 0-1 0-2 0 3 0 0 1 2 1-6 0 4 1-2 0 5 0 2 1-7 0 1 1 6 0-5 0 5 0-8 1 7 0 1 0 0 0-6 0 5 1-2 0 0 0 1 1-7 0 2 0 2 0-3 1 4 0 1 0 2 0-7 0-1 1 8 0-3 0 4 0-1 1-3 0 2 1-5 2 3 0-4 3-1 0 3 0 5 0-6 1 4 0 3 2-7 0 3 1 4 1-2 0-1 0 3 0 0 0-7 1 7 0-5 1 3 0-5 0 7 0-7 1 5 1-3 0 2 0-4 0 5 0-5 1 2 0 0 0-2 0 6 0-4 0 1 1 0 1 3 0 0 0 1 0-7 1 3 0-5 0 2 0-1 0 5 0-4 0 5 1-6 1 8 0-3 1-4 0 1 0 3 1-6 0 7 0 0 0 2 1 0 0-9 0 6 0-1 1-1 0 4 0-4 1-3 0 1 0 3 0-5 1 4 0-4 0 5 0-3 0-1 0 8 1-4 0 0 0 3 0 1 1-4 0 2 0-1 1-6 0 7 0-1 0-1 0 1 1-2 0-2 0 7 0-7 0 6 0-3 1-5 0 3 1 3 0-2 0 0 1-4 0 1 1 0 0 1 1 1 1 6 1-6 1-1 0 5 1-4 4-1 1 1 1 0 1 0 0-1 1 3 0 3 1-3 1 1 0-1 1 0 1-1 1 4 1 1-89 10 4-1 0-1 1 2 0-3 0-3 0 6 2-4 0 3 0-2 1-2 1 4 0-5 1-2 2 7 0 1 0-9 1 8 0 0 2 0 0-8 1 9 0 0 1-2 0 2 0-2 1-4 1 0 0-2 0 8 1-7 0-1 0 5 1 1 0 1 1 0 0-3 0 1 0 0 0-4 0 6 0-2 1-6 0 5 1-4 0 6 0-3 0-4 0 5 0-4 1 6 0-3 1 5 0-3 0-2 0 0 0-3 1 3 0 1 1-4 0 3 1-2 0 3 0-1 1-2 0-2 0 1 0 3 0 4 1 0 0-8 0 8 0 0 1-7 0 5 0 1 0-3 0 2 0-4 1 3 0 2 0-2 0 1 0-5 0-1 1 1 0 8 0-3 0-6 1 3 0-3 0 2 0 3 0-3 1 0 0 7 0-7 0 6 0-4 1 2 0 0 0 0 0 3 0-2 1-5 0 2 0 5 0 0 0-4 2 2 1-6 0 8 0-9 1 5 1-3 0 2 0 2 0-6 2 5 0-5 1 3 2 3 0-6 0 1 1 0 1 8 2-1 3-8 0 2 0-1 1 3 1-4 1 0 0 3 0-2 0 0 1 3 0 4 0-8 1 4 0 5 0-9 2 7 0-4 0 5 0-4 1-2 0-2 1 1 0 1 1 4 0-2 0 2 0-4 1 3 0-1 0 0 0 4 1 0 0 0 1-3 0 2 3 2 1-3 1 3 0 0 0-7 1 1 0-1 2 1 0 6 0 0 1-5 0 3 1 2 0 0 2-2 1 0 1-6 0 1 1-2 0 9 0-8 1 0 0 2 0 5 1-1 1 2 0-9 0 1 0 6 1-3 0-2 0 2 0-1 0-1 1 3 0 2 0-1 1 2 0-1 0-2 0 3 0 1 1-6 0 2 0 2 1-2 0 4 4 0-100 6 0 0 0 1 0 3 2-1 0-4 0 3 1-4 1 5 1 1 0-2 0-4 1 5 1-4 0 2 1 1 0 0 1 2 0-5 0-2 0 3 0 2 0-1 1 2 0 1 0-5 0 3 1 1 0-5 0-1 0 3 1-5 0 6 0-5 0 2 1-1 0 6 0-7 0 6 1-7 0 1 0 2 0 1 1-3 1 3 1 1 0 3 0-6 1 5 0-4 1-2 0 1 1 7 0-6 0-2 0 5 1 1 0-3 1-1 0 0 1 5 0-3 0-3 0 1 1 6 0-4 0 3 2-4 0 0 1 4 0-8 0 3 0-1 0-1 1 6 0-6 1 3 0-2 0 4 1-2 0 5 0-7 1 0 1 3 0-4 1 0 1 2 0-1 2 3 0-5 1 2 0 0 1 3 1 0 1 1 0-2 0-2 0-2 1 3 0-2 1 5 0-5 0 5 0-4 0 2 0 4 0-6 0 7 0-9 1 9 0-1 0-4 0-3 1 4 2 4 0 0 2-4 1 0 2 2 2 1 0-8 0 2 1 5 0-6 0 0 0-1 1 9 1-1 0-3 1 2 0-4 2-1 0 5 0-5 0 6 0-5 0-3 1 2 0-2 1 8 0-4 1-3 0 3 1-1 1 0 1 2 1 4 0-3 1-3 2-3 0 6 1-4 2 7 0-6 2-3 0 3 0 4 1-7 0 1 1 1 1 0 0-2 0 0 0 6 1-2 0-3 0 3 0 3 0-2 1 4 0-3 0-2 1-1 0 2 0 3 0-1 1-5 0 0 0 1 0 3 0-2 0 1 0 1 0 1 1 0 0-5 0-1 0 4 0 4 0-6 0 3 0-5 1 1 0 6 0-8 0 0 1 9 0 0 0-3 1-4 0 3 1-5 0 7 1-1 0-6 1 9 1-6 0-3 1 9 0-3 0-4 0 3 0-5 0 6 0 2 0-3 1-3 0 3 0-3 1 2 0-4 1 1 1 3 1-1 0 6 0 0 1-6 0-1 0 6 0 1 0-4 1 2 1-3 0 1 0-3 0 3 1 2 0-3 0 5 0-6 1 4 1-5 0 6 0 0 0-4 0-3 0 7 1-3 0 0 2-1 2 1 0 3-103 2 0 0 0 0 1 1 0 2 0 1 1-4 0 3 1-3 0 2 1-2 1 3 1-2 0 6 1-7 1 6 0-2 1 2 0-2 1 2 0-2 0 0 0 1 0 1 1-2 0 1 1 1 1-6 0 0 0 4 1-3 0 7 0-3 0 1 2-5 2 8 0 0 0-5 1-1 0 6 0-4 0 1 2 3 1-1 1-7 1-1 0 1 1 7 1 1 0 0 1-3 0-4 0 4 1-3 1 4 0-2 0-1 1 2 0 1 0-4 1 6 0-4 0 0 0 0 0-3 1 7 0-5 1 1 1 1 0-1 0-2 0 6 1-5 0 5 1-4 0 4 0-8 1 3 0-2 0 5 1-7 0 3 0 4 0-2 1-4 0 4 1-1 0 0 0 5 1-6 0 6 0 0 0-5 1 4 0-5 0-1 0 4 0 3 1-6 0 3 0-2 1 4 0-2 0 1 1-1 0 2 0-6 0 5 1-2 0 1 0-6 1 8 0-3 0-3 1 6 0-4 0 4 0 1 0-7 1 6 0-3 1-3 0 1 0 0 0-2 0 8 1-9 0 8 0-7 0 3 1 2 0 2 0-5 0 1 0 0 1 2 0-3 0-1 0-1 0 8 0-1 1-5 0 0 0-3 0 3 0 3 1-1 1-1 0 3 0 0 1 1 0 1 1-1 0-6 0 6 0-6 1 4 0 3 0-3 1-5 0 1 1 7 1-9 0 9 1-1 0-1 1 1 0 1 1-1 0-1 1-5 0-1 0 8 1-4 0-3 0 7 1 0 0-2 0-3 0-1 1-1 1 3 0 2 0-5 0 3 0-1 0 5 1-5 0 2 1-3 0 3 0 3 0-6 0-1 1 7 1-5 0 1 1 0 1-5 1 7 0 0 0 1 0 1 1-6 0 6 0-4 1-3 0 1 0 3 0-2 1 3 0-5 0-2 1 4 0 3 1-5 0-1 0 8 1-4 0 3 0-8 0 3 0-3 1 1 0 6 0-2 0 3 1 0 0-6 0 5 0-1 1 1 0-4 0 4 1 1 1-7 0 1 0 4 0-1 1-5 0 2 0 2 0 4 0 1 0-6 2-1 0 5 0 0 1-4 0 2 0-5 1 9 0-7 1 6 0-7 1 1 0 0 1 1 0-2 1 4 0 4 0-3 0-6 0 4 1-3 0 0 1 1 0-1 0 3 0 2 0 2 1-8 0 4 1-2 1 7 0-7 1-1 0 4-81 6 1 2 1 1 1-1 0-1 1 3 0 2 0-6 1 1 0 0 0 5 1-5 0-2 0 1 1 1 0 2 0 5 0-9 0 7 0-5 1 6 0-6 1-2 0 2 1 4 0-6 0 3 2-3 0 5 0-2 1-1 0 2 1-2 0-1 1 8 0-4 1-3 0-2 0 4 1 5 0-1 1-7 0 7 1 0 0-2 0-1 0 3 1-5 0 2 1-2 0-2 0-1 1 1 0 6 0 0 0-5 0 0 1-2 0 6 1-4 0 7 0-4 1 4 1 0 0-6 0 5 0 1 1 0 0-9 1 0 0 2 1 3 0 1 1 3 0-3 1-1 0 3 1-5 0 4 0-6 1 7 0-7 0 0 0 2 1-3 0 8 0-8 1 4 0-4 0 3 0 6 0-2 1-5 0-1 0 7 0-6 0 1 0 3 2 1 0-3 0-2 0 1 1 0 0 2 0-3 0-2 0 0 0 4 1 2 0-3 0-2 0 0 1-1 0 1 1 6 0 0 0 1 1-8 0 4 1-1 0 2 0-5 0 0 0 3 0-2 1 0 0 2 0-1 1 3 1-5 0 3 0 4 0-7 1 0 0 7 0-5 0 1 1 0 0 4 1-7 0 0 0 9 0-2 0-4 1 3 0 2 1 1 0-2 0-2 0 0 1-1 0 0 0-3 0 3 0 1 1-4 0 7 0-4 2 1 0 1 1 2 0-6 0 4 1-1 0-2 0-1 1 4 0 3 0-9 0 9 1-9 0 8 2-4 0-2 1 0 0-1 1 6 0-2 0 0 0 3 1-8 0 8 0-2 2-4 0 6 1-6 0 0 0 2 1 5 0-5 1 3 0-2 0 0 0 3 0-5 0 5 0-2 1-2 0 1 1 2 0-1 0 2 1-6 0 1 0 4 1-5 0 7 0-8 1-1 0 2 0 4 0-2 0-4 1 3 1 2 2 0 0 0 0-5 0 3 1-3 0 1-72 9 3 2 2 0 0-1 2-1 0 2 0-1 1-1 0 0 1 5 0-4 1 0 1 3 1 0 0 0 2 3 0-7 0 2 1 2 0 3 1-3 1 2 0 1 0-1 1-3 1-1 0 1 0 3 1 0 0-1 1-2 1-1 0 7 0-8 1 4 1 0 0-4 0 5 0-3 1 2 0 2 1-7 0 8 0-6 0 1 2 1 0 4 1 1 0-1 3-3 0 3 1-3 0-2 0 2 1 3 0-1 0 1 0-4 1 4 0 0 0-2 0 2 1-5 1 2 0 1 0 2 1-3 0-5 0 0 1 7 0-1 0-4 0 3 1-2 0 2 1 3 0-8 0 7 1-7 0 8 1 1 0-3 0 0 0 2 1-5 0 1 2-3 1 1 1-1 1 0 1 4 1-3 2 2 0-1 3-2 0 3 0 0 1 2 1-2 0 1 2-2 1-3 1 2 0 2 1-4 1 1 1-1 2 0-39 10 0 0 3 0" style="marker:url(#md_g)"/><path d="m836 721 18 7 1 0-20 4 13 4 15 3 2-2-12 3 8 1 5 4-25 14 3-9 5 5 2-1 19-2 0 3 4 4 32 0-60 4 26-3 4 7 0 0 7-5 3 5 20-5-71 27 10-1 3-7 13-1 43 8-88 6 12 5 12-9 1 6 18-3 21 3 6-5 0 3-52 8 5-1 17 3 3 3 2-5 1-2 5 2 21 4 4-4 17 4-63 11 9-2 52-4-38 12" style="marker:url(#md_p0)"/><path d="m837 722-1 11 8-3 3 5 1-5 7 0 2 14 8 5 6-7 2 3 15-3 9 7-17 5 4 1 22 8-71 13 7 0 3 1 14 0 16-2 12 2-52 3 23 2 27-2 9 8-74 7 6-5 9 9 1-3 0-1 6 3 15-3 26 0 32 1-88 4 8 3 8 3 30 0 44-6-73 10 6 0 9 8 7-6 22 7 4-4 16 0 1-1 4 4-45 3 2 0 1 0 8-1 27 5" style="marker:url(#md_p1)"/><path d="m836 720 8 8-8 3 11 2 4 2 2-5 3 1 6 4-20 14 13-2-8 6 1-3 8 0-3 15 30 2 0-4 0 2 3-2 5 4 3-3 0-1 2 2 1 0 4-5-42 18 29-5 2-3-55 17 18 2 3-1-18 6 43 0 31-2-85 13 27-5 31 7 20-1 8 0 1-4 2 4-62 12 16-5 1-1 41-1-54 13 7 2 27-1 5 3" style="marker:url(#md_p2)"/><path d="m843 717 2 2-12 4 4 3 8 2 1 1 8-1-4 3 1 1 2 7 1-2 12-1 0 2 2 1 1-1-25 7 4-2 10-3 11 2 7 1 1 2 4-1 10 3-43 6 2 6 35-3-46 5 52 3 2-3 11 7-57 3 35 6 0-7 7 2 2 4-62 11 12-4 7-3 1 3 8 3 1-3 49-1-76 9 5 3 10 0 1-2 3 0 15 6 39-4-26 13 34-4 5-1-32 12-17 10 1-2 18-1" style="marker:url(#md_p3)"/><path d="m570 886 1 0 1-2 2 0 0-1 0 6 0-2 2-4 0 5 2 0 0-6 1 6 0 0 1-2 1 1 1 1 0-6 0 6 0-3 0 4 1-7 0 6 1 0 1-3 1 0 0 0 0 4 0-4 1 2 2-2 1 2 0 2 1 0 0-1-21 8 2-2 0 3 1 2 0-3 1 2 0-5 1 1 0 5 0-6 0 5 1-3 0 2 1-5 0 4 0 1 1-2 1-3 0 7 3-6 1 1 0 3 1 2 0-5 0-2 0 4 0-5 1 3 1 4 0 0 0-7 0 8 0-6 1 4 0 2 0-1 0-4 1-1 1 5 0-5 0 4 0-6 1 1 1-1 0 6 0 1 0-4 1 1 0-4 0 4 1-4 0 7 0 1 0-9 1 4 0-2 0 6 2-3 0-1 1 2 3 2 0-1 1 1 0 1 1-1 1 1-32 1 4 3 1-2 2 3 1-3 0 4 1-2 1 4 1-3 1 4 0-2 3-2 0 1 0 3 0-6 3 7 0-7 0 2 0-4 1 1 0 2 0 4 1 2 0-8 0 3 1 2 0-1 0-4 1 7 0-4 0-1 1 3 1 2 0-1 0 2 0-3 0-5 0 0 1 2 0 2 0 1 0-2 1 4 0 0 1-2 1-4 1 0 0 2 1-3 0 5 1-6 0 3 0-2 0 6 0-6 0 3 1-4 0 0 1 4 0 5 0-6 1 6 0-8 1 7 1-7 0 3 0-4 0 1 0 2 1 2 0-4 1 7 0-3 1-5 0 3 1 5 0-2 0 2 1 1 1 0 1-6 0-2 4 3 0 2 0-2 0 4 1-4 0 4 1 0 0-5 1 5 2-4 0 5 4-1 1 1 1-5 1 2 4 3 0-1 4 0-59 11 1 0 1-1 0-7 0 4 0-2 0 0 1 1 0 2 0-6 1 4 0-1 0-1 0 0 1 3 0 3 0-5 1 3 0-2 0-1 0 3 1-5 0 2 0 4 0 1 0-7 1 2 0-1 1 0 1 7 0 0 0-1 1-4 1 1 1-4 1 5 0-4 1-2 0 7 0-7 1 0 0 8 0-2 1 2 0-6 0 7 0-9 1 9 0-6 1-2 1 1 0 1 0 3 0 2 1 1 0-3 1-6 0 2 1 7 0-9 0 6 1 0 0-4 1 2 0-1 0 2 1-2 0 6 0 0 0-1 0-8 1 8 2-1 1-1 0-3 0 6 0-6 1 3 0-5 0 6 0-2 0-2 1 6 0-9 1 8 0-6 0-1 1 6 1-1 0 0 1-5 0 6 0-3 2-1 0 5 0-8 0 1 0-1 1 0 0 5 1-3 0 4 1-2 0 3 0-7 0 3 1-2 0 3 1 4 0 0 0-1 1-6 0 1 0 4 0 1 1-5 0 5 0 2 0-9 0 6 0 1 0 1 0-6 1-1 1 6 0-4 4-2 0 8 0-9 1 1 0 5 1 2 0-5 1-3 3 0 0 3 0-1 1-2 0 4 2 4 0-5 1 2 0-3 2 7 0-5-66 11 0 1 1-2 0 5 1-3 1-4 0 1 1-3 0 2 1-2 0 0 1 4 2 0 0 5 0-7 0 6 1-3 0 4 0-2 0 2 1-2 0-1 0-3 1 6 0-9 1 4 0 0 1 0 0 1 4-3 0 4 0 3 1-5 0 3 0-6 2 2 1 2 0-2 1 4 0-5 0 5 1-7 0 5 0-2 0-2 2-1 1 2 1-1 0 6 0-7 1 8 0-1 1-5 1 5 0-4 0 3 0 2 1 0 0-7 0 5 1-1 1-2 0 0 0-1 1 4 1 0 0-3 0-3 0 5 0-4 0 1 1 4 0-4 0 2 1 5 1-5 0 0 1-2 0 6 0-8 0 2 0 6 1-6 0 3 0 3 0-8 0 0 0 9 0-8 1 8 0 0 0-7 1 2 0-4 1 0 0 9 2-1 1-8 0 2 0 0 1 7 0-4 0 2 0-2 1 2 0-2 0 2 0-5 0 6 0-8 0 7 1-7 0 4 0 1 1 4 0-5 0-4 0 4 0 0 0 1 0 2 1 0 0-7 1 1 0 7 1-8 0 3 0-3 0 0 0 3 0 1 1 4 0-1 0-1 0-3 1 1 0-1 1 1 0 5 0-6 1 5 1-1 0-2 0 1 1 1 0 1 1-1 1 2 0-4 1 0 0 4 0-3 0 2 0-4 0 1 1-2 0 5 1 1 0 0 0-7 0 5 1-6 0 4 1 3 0-7 1 2 0 3 0-1 2-3 0 2 1 3-75 10 3-4 0 4 0-6 1 4 0-3 1 5 0 0 0-2 1-4 1 3 0 5 1-1 0-3 0 0 1-5 0 9 0-3 0-1 0 4 0-1 1-2 1-1 0 1 0-5 0 4 0-2 1 3 0 0 0-4 0 5 1 2 1-6 0-3 0 1 0 5 1 1 0-6 1 5 0-1 0 1 2 1 0-7 0 4 0-2 1 2 0-2 0-2 1 5 0-3 1 7 0-5 1 0 0 0 1 5 2-7 0 3 1 0 0 3 1 1 1-9 0 6 0-2 2-4 1 4 2 1 0 4 0-7 1-2 1 0 0 6 1 1 2 1 1 1 0-3 1 0 0 2 1 0 0-4 0 2 0-4 0 7 1-5 0 2 1 3 1 0 0-3 0-4 1 7 0-6 1 4 0-3 0-1 1 0 0 5 0-1 1-6 0 2 0 4 0 2 1-6 0 6 0-9 0 9 0-7 0 6 1-3 0 0 1 3 0-8 0 5 0-4 0 3 1-4 0 1 1 7 0 1 1-1 0-5 0 3 0-4 0-1 1 6 0-6 1-1 0 3 0-3 0 7 1-4 0 6 1-6 1 3 1-1 1 0 0-3 1 3 0-4 1 6 0-5 0-1 1-1 0 4 2 0 2 2 0 2 1-5 0-3 1 4 2 2 0 3 0 0 1 0 0-8 1 7 0-8-79 19 1 0 0-4 1 4 0-1 2 1 0-5 2 1 0-4 1 2 0-2 1 0 2 0 0-1 1 0 0 4 1 1 0-1 0-4 0 2 1-2 0 6 2 3 0-3 1-4 0 2 0-2 0 7 1-8 0 6 0-6 1 2 0 0 2 3 0 2 0-8 1 0 0 7 0-5 1 3 0-1 0-3 1 4 0-3 0 1 0 1 0-1 1 1 0 5 0-6 0-2 1 0 0 2 0 3 0-2 0 5 0-2 1-6 0-1 0 2 0-1 0 7 1-1 0-6 1 1 0 3 1 2 0-3 0 1 0 1 0-6 1 0 1 9 0-7 0 6 1 1 0-1 1-2 1-1 0-2 0 0 0-3 1 2 0 0 0 5 1 0 0 1 0 0 0-2 1-1 0-3 1 5 1-6 0 1 1-1 0 1 0 2 0-2 1-2 0 0 0 7 1 1 1-6 0 3 1-2 0-3 1 1 3 2 0 0 0-3 2 5 0-1 1-1 0 6 0-5 0 0 1-4 0 6 0-3 0 1 0-1 0 3 1 1 1-7 1 0 0 1 1-1 0 2 0 2 1 1 0-4 0 2 1 5 0-6 0 4 1 3 0-4 0 1 0 1 0-7 1 1 1 7 1-6 1 0 2 1 1 2 4-4 6 3 0-4 0 9 0-4 1-1 0 0 0-1 1 0 1 5 0-2 1-1 1 3 0-1 1-6 1 7 0 1-92 7 0 3 0 0 1-3 1 1 0-1 5-4 0 4 0 1 0-7 0 4 1-1 0 3 0-2 0 3 2-2 0 3 2-6 0 4 0-4 1 2 1 4 1-6 0 0 0 6 1-7 0 5 1-3 0-3 0 7 1 1 0-2 0 3 1-8 1 8 1-1 0 1 2-4 1 3 0-7 0 3 0-4 0 0 1 6 1 2 0-7 0 4 0-2 1 5 0 0 0 0 1-3 0-5 1 5 0 4 3-3 2-3 0-2 1 6 0-3 1 5 2-2 0-6 0 4 0 0 0 0 1 2 0-3 0 4 1-3 0-3 0 1 0 1 1 0 5 5 1-1 3-5 1 2 0 0 0 1 0-2 0 2 1-6 0 0 0 7 1 1 0-3 0 4 0-4 1 1 0-2 1-1 1 4 1-1 0-2 0 0 1 3 0-1 1 1 1-1 1-3 2-1 2 1 0 4 1-1 1-6 0 4 0-4 1 4 1-3 0 1 0 0 0 5 1-6 0 1 0-2 0 7 2-5 0-1 0-1 0 3 0 4 1-3 0 1 0 2 1-4 0-1 0 2 0-3 0 1 1 6 0-7 0 4 0 4 0-1 0 0 1-4 0 4 0 1 1-7 1 1 0 2 0 0 0-3 1 5 0-4 0 5 0-1 1-3 0-1 0 2 0-2 1-3 0 0 1 0 0 5 0 0 0 3 1 1 0 0 1-5 1-1 0 0 0-1 0 2 1 4 1 1 0 0 0-5 0 4 0-2 1-4 0 7 1-9 1 7 1 1 0-7 1 1 0-1 0 0 0 1 1 2 0 2 0 3 1-2 0 2 1-4 1 4 0-2 0-5 2 7 0-2 0 2 1-1 0 0 1 0 3 0-107 2 2 2 0 0 1 5 0-7 2 4 0 2 0-5 1 4 0-1 1 1 0-3 0 2 2-4 1 0 0 0 0 1 1 0 0 1 0 1 0 0 0-2 1 0 0 2 0 4 1-6 0 2 0 4 0-7 0 6 1-6 0 9 1-8 0 6 0-1 0 3 1-5 0 3 1-1 1-6 2 9 0-2 1-6 1 6 2-4 1-1 2-1 3-1 0 0 0 7 1 2 0-7 2 7 0-3 2 0 2 2 0-5 0 3 0 2 1-1 1-3 0 3 0 2 0-6 1-3 0 5 2-5 0 9 0-7 0 7 2-6 0 5 0 0 1-5 0 0 1 0 0 1 0 4 1-6 0 2 0 3 0 0 1-2 0-3 0 4 1-3 0 6 0-1 0-7 1 5 0-6 1 3 1 4 0-1 0 2 0-6 1 5 1-2 1 0 0 2 1-7 0 0 0 4 0 3 1-1 0 2 0-1 0-3 1-2 0 7 1-3 0 2 0 1 1-1 0-3 0-5 1 7 1-2 2-1 0-3 0 5 0 2 2-7 2 1 0 0 1-1 1 3 2 5 0-2 0-3 0 2 1-3 0 4 0-1 0 3 1-1 1 1 1-2 0-2 0 1 1 2 0 1 1-1 1-6 1 6 0-8 0 0 0 2 2-2 0 0 0 0 0 2 0-2 1 5 0 3 0-6 0-2 1 3 0 2 0-5 1 3 0 2 0 3 1-4 1-1 1-2 0 4 1 2 0 2 0-1 1 1 0-5 0 2 0 2 0 1 1-9 0 8 1-6 0-2 1 5 0 0 0 4 1-6 0 3 0-1 2 0 0-1 1 3 0-5 0 2 0-3 0 7 1-3 0-4 1 3 1-4 0 6 1 3 0-7 0 0 0 4 1-6 0 9 0-4 0-4 0 4 0 1 1-4 0 3 0 4 0-5 0 2 1-2 1 5 0-1 1-5 1 0 0-2 0 0 1 7 0-4-98 6 3 0 4 2 5-2 1 2 1 0 0-1 1 4 1 1 1-3 2 1 0 5 0-7 1 6 0-3 1-5 0 2 0 5 1-1 0-1 0-4 1 5 0 3 0-6 0 2 0 0 1-5 0 0 2 3 0-1 0 7 0-7 0 5 0-4 1 0 0 2 1-4 0 8 1-9 1 2 0 2 0 4 0 1 0-1 1-2 0-3 0 6 1-6 1 0 0-2 0 7 1-5 0 1 0 1 0 2 1 1 0-7 1-1 0 9 0-9 0 9 1-6 0-2 1 0 0 0 1-1 0 0 1 5 0-1 1 1 0-5 1 1 0 0 0 1 0-1 0 1 1-2 0 4 2-1 0 4 0-6 1-1 0 1 0 3 0-2 1 4 0-6 0 9 0-2 0-3 1-4 0 9 0-7 1 3 0 1 1-2 0 4 0-2 1 2 0-8 0 9 0-5 0-2 2-1 0 1 0 3 0 2 0 1 0-3 1-5 0 5 1 3 0-5 1-2 0 5 0-1 1-1 0-2 1-1 0-1 1 4 0 0 1-1 1 5 0-1 0-2 0 0 1-2 0-1 0 3 0-3 1 1 0-1 1 4 0 0 1-1 0 1 2-4 0 4 1 2 0-5 0 4 1 1 0-5 0 5 1-1 0-4 0 0 1-3 1 1 0 1 0 2 1 0 0 2 1-6 0 0 1 7 0-7 1 4 0 4 2-6 0 1 0 4 0-6 1 3 0 3 0-3 0-3 0 4 0-1 1 5 1-9 0 6 1-6 0 6 0 1 0 1 1-3 0 3 1-7 0 4 0-1 0-3 1 1 1 6 0-6 0 5 0 0 0 2 0-9 1 3 0 4 0 2 1-7 1 5 0-6 1 3 0 2 0-4 1 3 0-3 0 7 0 0 0-6 1 2 0 2 0-6 0 0 0 5 2 2 1-6 0 2 1 2-75 5 2-1 1 2 1-1 1-1 1 0 1 2 0 3 1 0 2 0 0-1 1-2 0-2 1 4 0-2 1 1 0-3 1 2 0 0 1-2 0 0 1 9 1-6 0-1 0 1 0-2 0 4 1 4 0-9 0 0 1 7 0 2 0-7 1 1 0 0 0-1 1 4 1-4 0 7 0-3 1 0 0 3 0-2 0-1 1-6 2 2 2 5 0-5 0 6 2-4 0-4 0 0 1 6 1-2 3-2 1 5 0-5 1 5 0 2 0-5 1-2 0 5 0-6 1 7 3 0 0 1 0-7 0 0 0 1 0 1 1 2 0 0 0-2 1 5 1-5 0-3 0 1 1-2 0 8 1-8 1 2 0-2 0 0 1 1 0 0 1 1 1 5 0-6 0-1 1 1 1 4 0-3 0-2 1 0 1 3 0-2 2 7 1-2 1-5 1 5 0 3 1-6 0-2 1 2 0 6 0-5 1 1 0-3 1 1 0 3 0-6 1 5 0 2 1-6 0 1 1 0 0 1 1-2 0 0 0-1 0 0 0 5 0-5 1 3 1 0 0-3 0 4 1-1 3-3-57 10 2 0 1 0 0 1 11 3 2-1 2 0 2-2 0-1 1 0 0 2 1 1 0-2 2 0 4 1 1 0" style="marker:url(#md_g)"/><path d="m570 887 19 2-16 6 3 2 6-2 0-5 10 9 0-5 4-3 1 5-9 6 9 7 9 0 7-6 5 0 1 0-37 10 1-3 4 1 1 3 2 2 3-2 6 5 4-6 7-1 3 4 0-1 2 4 19-8 3 3 4 2-66 13 12-9 0 5 2 1 0-6 1 5 7 1 2-6 0 6 6-4 2-2 2 5 4-2 3 6 8-6 3-2 5 5-56 5 7-1 2 8 1-8 4 9 6-4 13 1 6 1 1 1 16-6 4 1 0 0 4-2-69 18 1-7 2-2 2 0 3 0 3 5 1 3 3-2 2-3 0 5 2-8 0 3 1 5 6-7 5 0 0 7 1-5 1-2 3 3 4 0-42 10 0 3 4-5 3 5 1-1 1-4 3-1 1 3 1 4 1-7 5 5 5 3 1-9 3 3 1 5 25 0 7-5 13 0 11 2-101 5 3 7 3-5 2-2 2 2 1 4 3 3 2-5 1 0 0 3 1 2 1-5 3 4 5-4 1 0 2 1 2-4 3 4 4 3 5-8 2 5 28 1 8-6 0 8 2-2 0-4 1 5 3 2 0-2 2-7 5 9 3-8-85 9 2 1 10 4 3 2 3-2 3 1 2-5 0 3 0-1 3 2 8 0 0-1 1-3 9 1 4 3 2 0 0 1 2-3 4 4 13-2 5 2 3-4 7 5 7 1-63 2 2 4 5 2 7-1 2-2 0 5 1-2 0-1 11 2 3-3 3-4 7-1 1 2 5 5 1-6 9 2-42 9 11-2 3 0" style="marker:url(#md_p0)"/><path d="m574 882 6 5 1-1 1-4 1 0 2 1 0 4 1 6 10 2-5 8 7 3 11-4 1 3 5 3 3-7-36 12 2 1 12 5 4-7 0 1 2 1 3-2 0-1 21 8 5-7 11 5-61 9 6-5 1 7 3 0 12-8 5 0 1 5 8-1 1-4 6 6 6 2 5 0 10 0-74 9 3 2 4-1 1-4 5 0 4-3 1 2 3 5 9-2 12 0 6 2 8-8 12 6-57 12 2-4 1 5 2-4 1 3 3-1 3-3 4 2 0 1 2-5 4 7 6-7 3-1 0 2 2 1 1 0 6-4 3 8 1-7-71 18 4 0 2-2 3-2 1-3 3 2 1 1 2 3 2-8 1 7 1 0 0-5 0 7 1-3 2 2 2 1 1-8 2 6 10-6 4 5 1-2 1-4 1 2 6 4 6-4 7 6 6-1 3-4 1 3 6-4 11 5 1-7 4 3-93 9 3 2 1 3 5 1 3-1 1-7 7 0 1 1 1 4 2 0 4 2 1 2 1-3 4 3 3-2 3-2 0 2 9-6 3 6 3-6 3 8 21-7 5 2 3-3 11 5-82 5 9 3 13 4 3-3 5 1 0 3 0-2 2-6 1 3 3-4 4 4 0 2 9-6 2 7 0-5 5 0 1-2 7 8 8 0 0-6 1 5 1-1 3 1 7-7-70 10 8 4 2 4 0-6 7 1 4-1 4 5 1-6 2 6 11 2 25-8-39 12 3 0 14-1" style="marker:url(#md_p1)"/><path d="m573 884 8 0-8 13 5-6 4 0 1-1 0 7 2 0 1-3 3 1 3 0 1-4 1 3-6 14 13-2 9 1 6-5 7 5 0-2 1 4 4 0 0-4-46 12 5-7 1 8 7-6 7-2 1 5 1-5 1 3 6 4 5 1 5-4 3-3 1 8 7 0 1-6-51 10 0 0 2-1 3 0 7 2 5-1 7 4 9 2 9-5 10 3 0-1 5-1 1 3 1-5-65 13 5-1 1-2 13 4 5-4 4-3 2 9 4-1 2-5 9 5 1 1 7-3 2 0 8 1 3-1 0-6-77 19 0-3 7-6 6 6 3-5 2 8 2-4 1-1 7 0 3 2 15-4 10 5 3-4 0-3 9 6-78 12 0-2 6 2 6-7 2-1 2 7 2 0 6-3 5-4 0 7 5-7 1 3 1 4 2-6 1 6 0-4 22 1 1 5 1-3 0 2 6-4 3 1 4-4 5 2 1 0 7 5 2-5 6 5-94 7 0 2 5-4 2 6 2-2 1 0 3-4 2 0 8 4 7 2 3-1 3 1 2-8 3 7 9-2 4-2 3 4 7-4 3 1 3 1 1 0 1-1 1 1 13-5 11 3-73 11 3 0 1 0 1-5 3 7 2 2 1-4 7-4 1 5 0-3 1 0 4 1 0-3 2 4 1-4 7 0 2 5 1 1 3-4 5 0 9 2 1 1 2-3 8 5 1-3 6-1 5 0-63 13 0-1 3-3 2 3 0-4 6 1 0 3 4-2 3 3 8-3 1 5 2-1 13-3 6 4-29 3 1 0 5-1 2 0" style="marker:url(#md_p2)"/><path d="m576 886 6-1-6 9 1-4 11 9 16 0-16 7 11-6 3 1 1 4 2-1 1-1 1-1 3 3 3 2 3 0 0-6 6 4 9 3-46 2 0 2 1 2 10 0 8-3 0 6 1-7 3 0 1 5 4 1 0-6 1 8 2-1 0-4 2 6 10-9 7 1 5 4-62 13 4 1 3-3 2 0 9-3 13 6 1-5 14-2 7 1-56 14 0-6 3 3 2-2 9 4 2-6 19 2 10-1 4 8 2 0 1-4 4 1 6-5 4 1-66 8 2 7 4 1 1 1 0-1 5 0 3-1 2 1 0-4 1-3 0 4 3 4 5-5 5-1 17 1 13 2 7-1-86 14 1-3 6 1 3 2 0 0 1 0 3 0 2-3 1-5 1 8 0-5 1-2 0 4 4-5 1 1 1 4 3-4 0-2 8 3 1 4 2-4 35 3 3 1 2-2 1 0 0 2 4-3 13-2-98 10 5 4 1 3 2 0 2-2 5-2 0-1 0-2 0 5 5-7 5 1 3 8 0-8 2 7 4-3 4-5 2 3 8 5 3 0 2-5 2-2 4 8 5-6 5 0 1 6 2-2 9-4 4-3 8 1-68 11 3 0 1 6 3-8 3 8 9-2 1-1 2 4 1-3 10-3 0-3 3 8 3-3 1-5 16 6 1-4 3 4 5-3 3-3 7 6 3 2-57 3 3 1 1 5 1-1 0 2 1-3 4-5 2 2 2 2 2 5 8-5 8-1 4-1 6 6 1-5 4 1-46 8 8-2 11 0 0 0 8 0" style="marker:url(#md_p3)"/><path d="m700 885 0 2 1 2 2-5 0 3 1 0 0-5 0 1 1 2 0-2 1 3 1 2 0 0 1 1 0-1 1-2 0-6 0 7 1 0 1 1 0-5 0 1 0 5 0-2 1 1 1-1 0-4 1-1 0 5 0-5 0 4 1-2 0 1 0 3 0 0 0 1 1-5 0 5 1-3 0 0 0-2 1 2 0 3 0-4 1 2 1 2 1 0 0-1-22 9 2-3 1 3 1 2 0-1 1-3 0 4 0-6 1-2 0 7 0 0 1-6 0 5 0-1 1 2 0-7 0-1 1 1 0 0 1 1 1 1 1 2 1 3 1-6 0-1 0 0 1 3 0-3 0 0 0 5 1 0 0-5 0 2 1 2 0 2 0 1 0-3 0 3 0-5 1 4 1-1 0 3 1-6 0-2 1 7 0 1 0-2 1 1 1-5 0 2 0-5 0 9 0-4 0-3 1 6 0-4 0-4 2 2 1 4 0-2 0 2 1-1 1 1 2 1 1 0 0 1 4 1-30 2 3 1 1 0 0 4 2-4 2 3 0 3 1-1 2-2 1 0 0-4 0 1 1-2 0 4 0-2 1 1 0 6 0-3 0-6 0 0 0 4 1 0 0 1 1-3 0 3 0 4 0-8 1 0 0 2 0-2 1 5 0-3 1 6 0-9 0 7 1-2 0 0 0-4 1 8 0-7 0 7 0-4 0-3 1 7 0-5 1 4 0-2 0-3 2 5 0-4 0-3 1-1 0 5 0 3 0-4 0 1 1-4 0 0 0-1 0 4 0 3 2-4 0-3 1 8 0 0 0 1 0-8 1-1 0 2 1 0 0-2 0 4 0 5 0-8 0 4 0-2 1 0 1-2 0 5 0-1 1-4 0 2 0 5 0-2 0-3 1 4 1 2 0 0 0-3 0-4 1 7 1-8 1 7 2-3 1-1 0 0 0-3 0 6 1 1 1-5 0 0 1 6 1 0 0-4 1 0 1 2 0 2 1 0 2-1 1-4 0 0 2 3 1 2 3 0 0-1-54 11 0-7 1 5 0-2 0 4 1-7 0 2 0-1 0 1 0 0 1 2 0-2 0-1 1 3 0-2 1-4 0 7 0-2 0-4 0 3 0 2 1 0 0-6 0 3 0-1 0-2 1 2 0 2 0-1 0 4 0-7 1 2 0 1 0 4 1-4 1 3 1-6 1 7 0-7 0 7 1-7 0 1 1-1 0 9 0-2 0-7 1 6 0-5 0 2 0 2 1-1 0 0 0 4 0-7 1 2 1 6 0-2 0-3 0-4 1 1 0 3 1 5 0-3 1 0 1-5 1 0 0 3 0-3 1 2 0 3 0-6 0 2 0 1 0 0 1 5 0-7 0 2 0 4 1-6 1 5 0 0 0 3 1 0 0-4 0-5 1 6 0-3 1-2 0 0 0 5 0-5 0 5 1 2 0-7 1-1 0 1 0 1 1 4 0-4 0 4 0-1 1 3 1-4 0 3 0 2 1-7 0 4 0 1 0-4 0-1 1-2 0 9 0-8 1 2 0-2 1 3 0-1 0 5 0-5 0 5 0-1 1 2 1-1 0-2 0-4 0 1 0 0 1 2 0-2 0 3 0-3 1-2 0 6 0-7 0 0 0 8 0 0 0-8 0 8 1-8 0 6 0 0 0 0 1-3 0 3 0-1 0 2 1-1 0 3 0-7 2-2 1 3 1-3 1 9 0-3 0 0 1-2 1-1 2 2 0 2 1-7 0 0 0 2 1 4 0-2 0 0 0-4 1 4 1-1 0 0 1 3 1 2 0 1 0-1 1-2 0-1-65 10 0 1 1-2 0 0 0 4 1-2 0-2 0 5 1-7 0-2 1 0 0 7 0-1 1-2 0 5 1-7 0 5 0-4 2 1 0 1 0 1 1 0 0-2 0 3 0-1 0 1 1-6 0 3 0 1 0-3 1 0 0-2 0 1 0 8 1-9 0 4 0 5 1-5 0 5 1-6 2 3 1-6 0 4 0 3 0-3 2-4 1 4 0-4 0 9 0-5 0-1 1 1 0 5 0-8 1-1 0 5 0-1 0-2 2 0 1 6 0 1 1-7 0-1 0-1 3 3 0 3 0-2 0-1 1 6 0-9 0 0 0 4 0 3 1-4 0 2 0-5 2 3 0 2 0-2 0 1 1 0 0-2 0 1 1 1 3-4 0 8 0 1 0 0 0-9 0 1 1 3 0-1 0-1 1 3 0-4 0 1 1 7 1-1 1-8 0 7 1-2 0 3 1-1 0 1 0-7 1 8 0-7 0-1 0 4 1-2 0 3 0 0 0-4 0 1 0-3 0 3 0 5 1-2 0 1 0-7 1 0 0 3 0-3 0 2 0 5 0 2 0-5 1 4 1-7 0 7 0-1 1-6 0 1 0 6 0-8 0 1 0 1 1-1 0 6 0-4 1 5 0-4 0 3 1-7 0 6 0-3 0 5 1-1 0 1 1-2 0 1 0-4 1 4 0 1 0-4 1 3 0 0 1-1 1 1 0-1 0-4 2 7 0-2 0-4 0 4 0 0 1 2 0-2 0-6 0 2 0 2 1-1 0 0 0 0 1 5 1-7 0 0 0 6 1-5 0 1 1 5-75 8 0 0 1 1 0 0 1-6 0 5 1-6 0 8 2-2 0 0 0-6 0 8 1-7 1 7 0-1 2 1 0-1 0-7 0-1 0 5 0-5 0 4 0 1 0 0 0 4 1-6 0 1 0-2 0 0 0 6 1 0 0-1 0 0 1-3 0-3 1 3 0 1 0 0 0 3 1 1 0-3 1 0 0 2 1-2 0 1 0 0 0 0 0-7 1 6 0-2 0-2 0 3 0 4 1-7 0 0 0 0 1-2 0 2 0 4 1-1 0 1 1-2 0-1 0 4 0-4 0 1 1 4 0 1 1-4 0-5 1 5 1 0 1 3 0 0 1 1 0-8 1 1 1 1 0 3 0 0 0 1 0-3 0-4 0 4 1 4 2-8 4 6 0 2 0-3 1-1 1 5 1-3 1 1 0 0 0-4 0 3 0 2 1 1 0 0 1-3 0-1 1 4 0-6 0 2 0 0 1-3 0-1 0 7 0-1 0-4 0 5 0-1 0-6 1-1 1 0 1 9 0-2 0-3 0 5 0-9 0 7 1-4 0 5 0-2 0-3 0 5 0-1 1 2 0-7 0 6 0 0 0-7 0 8 0-3 1-5 0 7 0-4 0 5 0-4 0-5 0 7 1 2 0-7 0 2 0 4 0-7 0 0 1 7 0 1 0-1 1 1 0-9 1 5 1 2 0-6 0 0 0-1 0 9 0-6 1 6 0-9 0 8 0-1 0-2 0-5 0 0 1 0 0 9 1-6 0 3 1-6 1 6 0-5 2 1 1 4 0-5 2-1 0 4 0-3 1 3 1-3 1 4 0-3 0 6 1-2 1-4 0-2 0 4 2 1 0 0 1 3 0 0 0 1 0 0 1-7 0-2 0 8 1 1 1-2-82 12 0-2 1 2 1-1 4 0 1-8 0 0 0 1 0 1 0 1 0-1 1 2 0-1 0-3 1 2 1 2 0-2 0 1 2 2 0-4 0 7 0-8 2 4 1 3 0-6 1 8 0-1 1-3 0 4 0-7 0 7 0-5 1-4 0 8 0-7 0 4 0 4 1-5 0-1 0-3 0 4 1 4 0 1 1-1 0 0 1-8 0 5 0 4 0-4 0-3 1 3 0 3 0-3 1-3 0 5 0 0 1-7 0 0 1 4 0-2 0-1 0 3 0 3 1-1 0-4 0 0 0 3 0-1 1 5 0 0 0-4 0 1 0-5 0 3 0 1 1 3 0-8 0 2 1 3 0 0 0-4 1 6 0 1 1 0 0-2 0 0 0-1 1-4 0 5 3-2 0 4 0-1 0-7 1 5 0 4 0-7 0-1 0 1 2 6 0-4 0 4 0-3 1-4 1 6 0-5 1 2 0 3 1-6 0-1 0 2 0 2 1-4 1 9 0-9 1 2 1 0 1 1 1 0 0-1 0-1 2 5 0-1 1 0 0-2 0 5 0-4 1-1 0 1 0-2 1 0 1 5 0 0 2-4 1-3 0 6 0-5 0 0 1 0 0 2 1-3 0 0 0 4 1 4 0-1 0-1 1 2 0 0 0-8 1 9 0 0 1-7 2 3 1-2 1 2 2 1 1-5 3 8 1 0 2-8 0 8 0-4 1-3 0 1 0 2 0-1 1 0 1 1 0 0 1 3 0-2 0-2 1-1 0 4 0 2 0-2 0-4 2 5 1 0-95 9 1 1 0-3 1 1 1 3 1-6 0 3 0 0 2-1 1 3 0 0 1-8 0 4 0 5 1-1 0-8 1 3 0 2 0 2 0-6 1-1 0 3 0-3 1 4 0 3 0 1 1 1 0-1 0-7 1 0 0-1 0 3 0 5 0-1 2 0 0-6 0 4 1-5 0 1 0 1 0 7 0-4 0 3 1-6 0 5 0-5 0 5 1-5 0 3 0 2 0-5 0 2 0 5 0-1 1-1 0 1 0 0 1 0 0-2 0 1 0-6 0 0 1 2 0 3 0 1 1-1 0 3 0 0 0-8 1 7 0-7 0 6 0-7 0 5 2-4 0 3 0 0 1-2 0-2 0 0 0 0 0 3 0 2 1 3 0-7 0 0 0 8 0-3 1-4 0 5 0 2 0-2 0-6 1 4 0-5 1 4 1 2 0-1 2 1 0 0 0-6 1 1 1 1 0 3 0 2 0-7 0 0 1 8 0-6 1 0 0 5 0-3 0-3 1 8 0 0 0 0 0-9 1 2 0 2 0-4 0 5 1 1 0-1 0-3 0 4 0-4 0 3 1 2 0-7 0 2 0 5 0-3 0 0 1 5 1-3 0 2 0-8 0 8 1-5 1 1 0-2 3 5 2-1 1-3 1-3 1 0 0 7 0 0 0-2 1 0 0 4 1-4 0 3 1-3 1 1 0-2 0-1 1 4 2-5 0 5 1-4 0 1 0 3 0 2 0-1 2-1 0 1 0 1 0-7 1-2 0 1 0 8 1-1 1 0 0-6 0 6 2-8 0 0 0 4 0-4 0 0 1 0 1 6 1-6 0 1 0-1 0 0 0 7 1-1 1-2 0-1 0-3 0 7 0-3 1-3 1 5 0-5 0 5 1 2 0-7 0 3 1-2 0 7 0-4 0 4 0 0 1-7 0 6 0-5 1 4 0-2 0-2 1 1 0 1 0 1 0-1 0-2 1 4 0-6 0 6 0 1 0-1 0 2 1-5 0-2 0 2 1 4 1-3 1-1 0 5 1-9 0 4 0 4 0 1 0-7 2 0 0 7 0-6 0 5 1 0 0-2 0-6 0 4 0 5 1 0 0 0 1-8 0 4 0-2 1-3 0 1 0 3 1 3 1-2 0-2 1 1 0 1 0-2 1 3 0 3 1 0 0 0 0-3 0 3 0-7 1 0 0 4 1-4 1 5 0-2 0 2 0 2 1-1 3 1-106 1 0 3 1-3 0 4 1-1 1 4 0-5 0 5 0-4 1 0 0 2 0 1 1 1 0-5 0 2 1 0 0 1 0 0 1-3 0 1 0 6 1-7 1-1 0-1 0 0 0 0 1 1 0 1 0-2 0 1 1 8 0 0 0-6 0-2 0 2 0-3 0 5 0-4 1 0 0-1 0 3 0 4 0 1 0-2 1-1 0-4 0 6 1 0 0 2 0-2 1 0 0-7 0 8 0 1 1-6 0 4 1-3 0 4 0-6 1-2 1 6 0-3 1 6 1-6 0 4 0-6 0 8 0-1 2-7 0 2 0 5 1-7 0 4 1-4 1 5 0-6 0 5 0 3 1-6 1 1 0-1 0 3 0-4 1 3 0-1 1 6 0 0 1-9 0 8 0-3 0-1 1 2 0 3 0-1 2-1 2-4 0 3 0 3 1-1 0 1 0-1 1-2 0 2 1-4 0 2 1-1 0-5 0 8 1-2 0-6 0 5 0 2 1-7 0 3 0 6 0-1 1-6 0 1 0 5 0-1 1-4 0 5 0-3 1 3 0-4 0 4 0-5 1-1 0 3 0 2 0-3 0-4 0 7 0 0 1-7 0 7 0 0 0-2 0-1 0 3 0-7 1 4 1 2 1-1 1-4 0 8 0-7 0 0 1-2 0 9 0 0 0-3 1 1 0-4 1 5 1-5 0-3 0 6 0-3 0 1 0-3 0 6 1 2 0-7 0 6 0-7 1 5 0-3 0-3 0 9 1-1 0-1 0-7 0 8 2-7 0 8 0-9 1 8 0-6 1-2 1 4 0 2 2-5 1 3 1-2 2 3 0 0 0-5 1 4 1 5 0-6 1 4 2 2 0-4 0 2 1 2 0-3 0 1 1 0 0 2 0-3 0 0 1 1 1-4 0-3 2 9 0-1 1-7 1 6 1-7 0 1 0 4 0-5 0 8 1-5 0 0 0 0 0 3 1 2 1-7 0 5 0-3 1-3 0 4 1 0 0 1 0 2 0 2 1-5 0 4 0 1 0 0 1-4 1 3 0-8 0 0 0 5 0 3 0-8 1 6 1-2 0 3 0 0 1-2 0-4 1 3 1 2 0-3 1 3 0 1 1-7 0 6 0-1 1 1 0 0 0-4 0 1 0-3 1 9 0-7 1 0 0 2 0-3 0 0 0 7 1-3 0-4 0 3 0 0 1-2 0 2 1 1 1 3 0 1 1-4 1 1-99 4 5 1 1-1 1 1 3-1 3 1 1 0 2 2 1 3 2-3 2 1 0 5 0-4 1-4 0 5 0-4 0 3 1 2 0-1 1-4 0 2 1-2 0-1 0 5 0-1 0-5 2 4 0 0 0 2 0 2 0-7 1 2 0-3 0 4 0 0 0 1 2 1 0 3 0-3 1-4 0-2 0 7 0-1 0-4 0 3 0-1 1-2 0 6 0-4 1 1 1-2 0-2 0 8 1-5 1 4 1-7 0 2 0 3 1-3 0-3 0 8 1-4 0 0 0-4 0 6 0-1 0-3 1 3 0 0 0-5 0 5 0-4 0 0 1 2 0-3 1 6 0-5 1 0 0 1 1 6 1-4 0-2 0 2 1 0 0 0 0-2 0 3 1 1 0 2 0-5 0-3 0 1 1 1 1 4 0-6 0 0 2 4 0 3 0-2 1-1 0-3 1 0 0 6 0-3 0 3 1-7 0 7 0 2 0-9 0 0 1 0 0 6 0 0 0-3 0 3 2 2 0-2 0-1 1-5 1 5 0-5 0 9 0-7 0-1 1 3 1-3 1 6 0-3 0-1 0 1 0 4 0-4 0 1 1-1 0 0 0-4 0 6 1 1 0-7 0 2 0 0 1-1 0 8 0-6 1 3 0 1 0-1 1 0 1-4 0 1 0 3 1-3 0 5 0-5 0 5 0 1 1-2 0 2 1 0 0-2 0-4 0 5 0-4 0 3 2-7 0 0 1 0 0 2 0 3 1 2 0 0 0-1 0-6 1 6 0-2 0-1 1 1 0-3 1 7 1-7 0 6 0-6 0 3 0 1 0-4 1 5 0 3 1-1 0-6 0 3 1-2 1-2 0 5 0 2 1-8 0 0 0 7 0 2 0-1 0-6 1 3 0 0 0-4 0 0 0-1 1 1 0 5 0 2 0-2 0 2 0 1 0-8 1 5 0 1 0 0 0 2 1-2 0 0 1-5 0 5 0-7 1 5 0-4 0 8 0 0 1 0 1 0 0-7 1 1 0 1 0-1 0-3 1 7 0-6 0-1 2 9 1 0 0 0 0-6 0 3 1 2 0-4 0 4 1-6-78 8 1 0 2 0 0 1 1 1 2-1 0-1 2 5 1 0 1-4 1 3 1-4 2 7 1 2 0-7 0-1 0 4 1-5 0 0 1 1 0 1 0 0 1 2 0-3 0-1 0 5 1-5 1 7 1-4 0-3 0 3 1 3 0 1 0 1 1-4 0 2 0 1 1-1 0-1 1 0 1 0 0 1 0-1 1 0 0 3 2-6 0 1 1 2 0 1 1-2 0-4 0 6 0 0 1-4 1 4 0-3 0-3 2 8 0-6 0 6 1-6 1 6 1 0 0 0 0-1 0-5 0 0 0 2 2 5 0 0 1-3 1 2 0-1 1 2 0-5 0-1 1 0 0 6 1-3 0 1 1-3 0 0 1-3 0 0 1-1 1 7 1 2 0-5 0-3 1 0 0 0 1 3 0 1 0-3 1 5 0-7 1 3 0-2 1 7 0-6 0-1 1 1 0 3 0-3 0 0 1-2 0 8 0-6 1 5 1 2 0-8 1 8 0-1 1-6 1 1 0 5 0 0 0 0 1-3 0-2 0 6 0-5 1 2 1-2 1-1 1 3 0-4 1 3 1-5 0 0 1 4 0 0 0 1 0-5 0 1 0 2 2 1 0-1-54 7 2 1 1-1 3 1 1-1 3 0 2 0 1 0 0 2 1 1 2-1 1 0 3-1 0 0 0 0 1 0 2 3 0-3 0 0 4 0 3-1 1 2 4-1" style="marker:url(#md_g)"/><path d="m708 899 11 3 23 0 6 22-25 6 18 2 26 1-56 14 45-6-49 15 9 2 56-5-74 14 14-3 29 2 18 0 28 0-76 12 5-3 4-3 14 3 1-2 1-2 10 4 1 0 1 4 0-5 14 4 8-5-37 16 4-9 1 7 2-5 3 6 11 1 2-7 28-2-48 10" style="marker:url(#md_p0)"/><path d="m719 919 14-5 14 15 10-6 6 1-28 7 17 4 5 0 3 1 3 0-56 4 12 2-13 15 73-5-90 13 5-2 35 3 7 1 4 0 21-7 6 6 7-5 5 5-52 8 4 2 3-4 0 0 7 2 4-4 12 0 6 7 11-7 7 9 0-3 1 2 0-3-55 12 4-1 4-5 2 6 5-5 3 1 44-3-39 12 3-1 2 0" style="marker:url(#md_p1)"/><path d="m705 889 6-4 12 17 11 0 11 5 2-6-27 13 22-3-15 9 1 5 15-4-37 13 32 2 35-1-56 8 14-3 4 1 2 2 3 4 26 6-48 14 8-2 2-3 9 3 23 4 12-1 0-4 9 5-50 4 6 1 2-3 5 2 1-1 2-2 1 7 24 0-56 4 7 4 3-1 2-2 10 5 4 2 3-3 2 0 7 3 10-5 19-4-43 12 8 0 2 0" style="marker:url(#md_p2)"/><path d="m709 888 6 11 17 12 7 5 8 0 15-6-31 10 21 8 16-3 7 2-68 12-11 10 21 0 1-6 18-2 5 1-15 11-25 13 24 3 2-6 1 1 15-3 24-1 3 7 15 2 0-4-69 10 3 4 5-2 16-5 2 3 1-1 0 4 4-3 3 3 22-2 6-3-54 13 1-6 2 4 1 3 2 1 3-3 3-3 4 0 2-2 8 0 2 6 0-2-18 6 15 1 8-1" style="marker:url(#md_p3)"/><path d="m831 887 0-1 3 0 1 1 0-5 0 1 0 1 0 4 1-2 0 3 2 0 0-1 2 0 1-1 0 0 0 1 0-8 0 7 1 0 1 1 0-7 1 7 0-3 0 2 0-2 1-3 0 7 1-5 0-3 0 5 1-1 0-1 0 4 1-3 0 0 2 0 0 1 0 0 2 3 0-3 0 3 0-2 1 2-21 6 2 4 0-5 2 1 0-5 0 9 0-4 1 4 0-7 0 4 0-2 1 5 0-9 0 7 0 1 1-8 0 9 0-3 1-5 2 3 1 0 0-4 0 3 1 0 0 5 0-6 0 0 0 5 1 1 0-6 0-2 0 0 0 5 1 0 0 3 0-5 0 5 0-4 0-1 1 2 0 3 1-8 0 4 0 5 0-1 0-4 1-2 0 4 0 0 1-6 0 7 1-2 0-5 1 1 0 0 1 7 0-1 0-2 0 3 1 1 0-3 0-2 0-3 1 0 1 3 0-2 1-2 1 5 2 0 1 4 0 0 1-1 2 0 2 1-29 3 4-1 1 3 0-2 1 7 0-6 1 1 1 5 1-2 1 2 1-1 1-4 0-3 0 4 1-3 0 5 0-4 1 5 0-7 0 5 0-6 0 2 0 6 1-5 0-3 0 8 1-2 0-2 0-2 1 3 1 4 0-5 0-1 1-1 0 5 1-3 0 3 0 2 0 0 0-3 0 0 1 2 0 1 0-1 1-2 0-4 1 4 0-5 1 2 0 1 1 1 1-4 0 4 0 2 0-7 0 8 0-2 1-3 1 1 0-3 0 4 1-3 1 6 0-7 1 1 0-1 0 8 1-6 0 2 0-1 0 2 0-3 1-2 1 4 0 4 0-5 0-1 1 3 0-2 2 5 0-2 1-6 1 3 1 4 0-6 1 0 1 2 1 2 0 1 0 0 1-3 0-1 1 6 1-5 1 3 0-3 1 5 1 0 4 0 0-3 1 2 0-2 4 3 4-1 0 1-58 10 1 0 0 0 0 0 1-8 0 6 0-2 0 0 0-2 0 1 0-1 1-1 0 0 1-1 0 2 1 3 0-1 0 1 0-4 1-1 0 5 0 2 0-6 0 1 0-1 0 5 1-3 0 0 0-4 1 2 0 1 0 0 0 3 0 2 1-2 0 2 1 1 0-7 1 2 0 4 1-1 0-3 1-2 1-2 0 3 1-3 0 7 0-4 0 3 0 0 1-2 0 5 1-4 0-4 1-1 1 2 1 2 0 5 0-4 0 4 1-6 0 4 0-5 0 5 2-5 0 6 1-1 0-5 0-1 0 0 0 1 0-2 0 4 1 0 0 2 0-4 0 0 0 3 0-2 1-3 0 8 0-7 1 8 0-1 0-2 0-6 0 5 0-1 1 2 0 3 0-3 0-3 1 5 0 0 1-4 0 2 0-4 1-1 1 0 0 1 0 6 0-2 0-4 1 4 0-3 1 2 0 3 0-2 0 2 0 1 1-7 1 0 0 1 0 3 0 3 0-3 0-3 1-2 0-1 0 0 1 1 1 3 0 5 0-3 0 2 1-5 0-2 0 7 0-2 1-3 0 0 0 6 1-1 0-5 1-2 0 7 0 1 0-8 0 7 0-1 0 1 1-7 0 5 0 1 0 2 0-9 1 3 0 2 0-4 0 5 1 3 0-2 0 2 1-3 0 2 0-5 1 6 1-9 1 1 0 8 1 0 0-8 1 3 0-1 1 4 1-3 0-1 1 1 0 3 1-5 0 0 2 2 0 1 0-2 1 0 0 2 1 1 0-4 1 7 0-4 0 4 0-1 1 1 0-6 1 3-67 10 2-3 0 6 1-7 0-1 1 1 1 4 0 1 1-4 0 0 1 4 0-4 1 2 0-4 1 3 0 4 0 1 0-7 0 6 1-3 0-1 1 3 0 1 0-1 0-7 1 1 0 1 0 6 1-2 0-1 0 3 0-8 0 6 2 0 0-4 0 4 1 1 2 2 0-3 0 1 1-7 0 4 0-4 0 4 1-1 1 3 0-3 0-3 0 9 1-5 0 3 0-7 1 4 0-1 1-3 0 2 1 1 0 6 0-9 1 8 1 0 1-6 0 5 2-5 0 1 0 6 1-3 0-3 0 0 0-3 0 0 0 7 1 1 0 0 0-7 0 2 0 3 1-1 1 0 2 1 0-5 1 1 0 7 0-7 2 0 0 6 0 0 0-8 0 0 0 2 1-1 0-1 0 3 0-1 0 3 1-3 0 6 0-3 0-3 0 7 1-6 0 3 0-6 0 9 0-9 0 4 0-3 1 8 0-1 1-8 0 0 0 6 0 2 1-1 0-5 0 7 0-3 1-5 1 7 0-8 1 4 1 3 0-1 0-1 0 4 0 0 0-5 0 0 0 2 0-3 0 3 0 2 1-8 0 3 0-2 0 0 0 4 0 2 2 1 1-6 0-1 0 3 0-3 1 1 0 2 0 4 0-1 0-1 0-4 0 5 2 1 0 0 0-8 0 5 0 1 1 1 0-1 0-4 0 2 0-2 1 6 0-1 1 0 0-2 0 2 0 2 1-2 1-3 1 1 0 4 0-3 0 2 0-5 1 6 0-2 0-2 0 3 1-3 0-2 0 4 1-4 0-2 1 1 0 4 0-1 1-2 1-1 0 7 0-5 0 5 1-6 0-1 0 7 1-4 0 1 0 2-74 10 1 0 0-1 1-3 0 3 1-4 0 5 0-1 0-6 0 8 1-3 0 1 0-7 0 8 1-4 0 2 0 3 0 0 2-4 0-5 0 9 0-5 0-1 0 5 1 0 0-3 0 0 0 2 1-7 0 3 0 6 0-4 1-2 0-1 0 6 0-5 1 1 0-3 0 0 1 4 0 1 0 2 0-2 1-6 0 2 1 2 0 3 0 1 0-7 0 5 1 1 0-6 0-1 0 7 1-1 0 0 1-1 0-3 1 7 0-7 0 5 0-6 1 1 1 1 0 2 1 4 0-5 0 0 1 4 1-8 2 9 0-4 0 3 1-3 1-1 0-3 0-1 1 8 0-4 1 2 0 3 1-3 0-2 1 0 2-4 2 5 1 0 0 4 0-1 1-3 1 2 0 1 0-1 1-1 0 1 0 2 0-1 1-5 0 2 0-3 1 4 1 3 0-4 0 4 1-9 0 3 1 5 0 1 0-9 0 0 0 9 0-8 1 7 0-5 1 3 0 0 1-4 0-1 1 2 0 2 0-3 0 0 0 5 1 2 0 0 0-2 0 2 0-5 0 4 0-1 1 2 0-1 1-4 0 5 0-7 1 5 1-2 0 4 0-6 1 5 0-3 0-4 1 6 0-5 0 5 0-6 0 7 0-7 1 7 0 0 0-1 0-1 1-3 0 4 1-6 0 5 1-2 0 3 0-6 0-1 0 5 1-3 1 4 0-4 0-2 1 5 0-4 1 6 0-1 1-5 1 1 0-2 0 3 1 1 2 2 0-3 0 1 1-2 0-2 0 5 2 1 0 0 0-6 0 8 1 0 1-1 0 2 0-7 0 6 1-2 1 2-80 11 1-2 1 0 1 1 0 0 2-8 1 5 0-4 0 2 1-1 0 0 1 0 0 2 2-4 1 7 0-5 0 6 1-4 0 3 0-7 1 0 1 1 0 0 0 4 1-4 0 8 0 0 0-1 0 0 1-4 0 0 1-1 1 2 0 4 1-3 1 3 0-5 1-2 0 2 0 2 0-3 0 6 1-4 0-3 0 2 1-2 0 3 0-3 0 5 0 1 0-4 1-4 0 4 0 0 0-4 0 1 1 3 0-2 1 7 0-8 0-1 0 7 0-2 0-2 1 5 0-1 0-4 0 2 0-3 1-2 0 9 0-6 0 6 1-4 0 2 0 2 1 0 0-6 1-1 0 5 0-7 0 6 1-1 0 2 2 0 0-6 0 2 1 5 0-2 0-5 0 1 0 1 1 1 1 5 0-6 0 2 0 1 0-3 1-2 0 0 1 0 0 1 0 5 0-4 1 0 0 1 0 4 0 1 1-9 0 3 1-2 0 4 1 4 0-8 0 2 0 4 1-3 0 3 1-7 0 3 1-3 0 1 1 1 0-2 2 3 0 2 1-2 1 5 0-4 0-1 0 4 0-3 1-2 0-2 0 0 0 6 0-6 0 4 2-3 1 8 0-8 0 1 1 2 0-4 0 5 1-4 0 0 1 3 0 0 0-4 0 4 0-1 0 3 0-3 1 6 1-8 2 1 0 7 1-9 1 9 3-4 0-5 1 1 2 6 0-1 5-3 0 6 0-8 0 5 1-2 0-4 0 9 1-4 0-2 0 3 1-3 1 6 0-1 0-1 0-4 1 3 0-2 1 4 2-1 0 2 0-1-94 10 0 0 2-2 0 0 0 2 2-4 0 1 1 1 0 3 1 0 0-1 1-2 0 1 1 1 0-4 1 3 0-4 0 1 0-1 0 6 1-7 0 3 0 0 0 0 1 0 0-4 0 0 1 8 0-1 1-6 0-1 0 8 0-3 0 3 0-4 0-3 1 5 0 0 1-4 0 5 0-3 1 0 1-4 0 0 0 7 0 0 1-6 0-2 0 6 0-4 0 0 0 6 1-7 0 8 0-8 0 8 0 0 1-5 0-1 0-1 0 5 0 1 0-6 1 6 0 0 0-3 0 0 0-4 0 7 1-2 0-5 1 1 1 7 0-9 0 5 0 2 1-6 0 5 0-6 0 3 1-1 0 6 0-2 0-6 0 5 0-5 1 0 0 3 0 3 0-2 1-3 0 7 0 0 0-7 0 8 0-3 1-3 0 5 1-1 0-1 0-2 0 2 1 0 2 1 1-5 1 4 1-4 0 4 0 1 1-3 1 5 0 0 0-2 0-7 1 0 0 7 0-5 1 3 0 1 0-4 0 5 0 1 0-4 0 4 0-4 0 1 1-4 0-1 0 2 0 2 0 0 1 3 0-3 0 4 1-6 0 1 0 2 1 3 1-5 2 1 1 5 1-3 2 0 1-2 1 1 0 2 1-1 0-3 1 4 0-2 0 4 0-1 0-3 2-1 0 0 1 2 1 2 0-5 0 4 0 1 2 0 0-1 1-3 0 3 0 2 1-1 0-3 1-3 1 0 0 4 1-2 0 3 0 1 2-8 1 3 0-3 0 0 1 1 0 3 1-3 0 0 0 0 0 6 1-4 1-3 0 3 1-2 0 2 0 3 0 1 2-6 0 6 0-2 0-3 0 7 0-8 0 6 1 0 0-6 0 1 0 6 1-3 0 0 0 4 0-1 1-1 0 2 1-6 0 5 0-3 0-2 0 6 0-1 0-2 1 3 0-7 1 4 1-6 0 3 0 6 2-5 0 4 1-6 0 2 1-1 0 0 1 6 0-6 1 5 0-4 0-2 0 6 1-2 0-2 0-2 0 1 0 2 0 4 2-9 1 2 1 3 0 1 0-2 1 3 0 2 0-5 1-1 0 4 1-2 0 4 0 0 0-4 1 4 0-7 1 6 0-6 1 3 3 3-105 2 0 0 3 7 1-2 0-5 1 5 0-3 0 4 0 1 0-3 1-2 0 2 1-1 0 3 0-2 0-2 0 0 1 6 1-8 0 4 0-4 1 3 1 0 0 3 1-5 0 1 0 2 0 4 0-8 1 0 0 0 0 8 0-1 1-3 0 3 0 0 0 2 0-2 1-1 0 2 0 1 1-3 0-6 1 4 0 1 0-2 0 2 0 4 0-2 0 0 0-6 1 4 0 3 0-7 1 8 0-9 0 4 2-2 0 4 0-4 0 0 1 6 0-8 0 7 2-6 0 2 1 6 0-8 1 5 1-2 0 5 1-7 0 1 0-3 1 1 1 8 0 0 0-5 0-2 0 4 1-1 1-4 0 5 0 2 0-2 1 2 1 1 1 0 0-3 0-1 2 0 1 3 0-1 1 0 0-1 1 2 0-2 1 1 0-7 0 8 0 0 1-5 0 1 1-2 0-2 0 6 1-2 0-3 0 5 0-6 0 5 1 0 0 3 1-1 0 0 1-4 0-2 0 4 1 1 0-6 0 5 0-2 1 1 1 5 0-9 1 9 1 0 0 0 0-1 0-2 1-2 0 5 0-8 1 1 0 1 0 4 1-3 0 0 0 3 1 0 0-6 1 5 0-1 0 1 0 1 0 0 1-1 0-1 0 3 0 0 0-4 1 0 0-3 0 0 1 6 0-6 1 8 0-8 0 1 1 3 1 1 0 2 1-8 1 1 1 0 0 0 1 1 0-2 3 5 1-1 1 5 0-4 2 3 0 1 0-8 1 6 0 0 0-1 1 0 0 0 0 1 1 2 0-3 0 0 1 0 0-6 3 8 0-8 1 5 0-5 1 0 0 2 0 3 0-2 0-3 0 0 1 5 0 2 1-4 0 0 0 0 1 1 0 3 1-1 1-2 0-4 0 8 1-4 0 0 0 4 0 0 2-6 0 5 0-6 0 5 0-6 1 9 0-8 1 3 0 4 0-4 1-1 0 2 0 1 1-2 1 5 0-7 0 1 0 3 0-2 0-3 0 0 0 7 0-5 0 4 1 0 0-2 0-2 1 2 0 0 1-1 0-4 1 5 0 2 1-1 0-4 0 1 0 3 0-3 0 5 1-6 0 6 0 1 0-1 0-3 0 4 1-7 0 3 1-1 1 3 0 1 0-1 1-2 1 0 0-3 1 6 0-2-96 4 3 0 2 1 4-1 1 1 0 1 1-2 1 1 0 0 2 3 2-2 1 0 0 0 0 3 1-1 0 3 0-2 1 2 0-6 0 5 1-1 0-1 1-3 0 4 0 0 0 0 1-2 0 1 1 5 0-5 0-2 0 7 0-5 0 3 1-4 0-1 0 2 0 3 1-7 0 4 0 3 2-5 0 5 0-3 0 3 0-5 0 7 0 0 0-2 1-3 0-1 0 5 0-1 1-7 1 9 1-5 0 1 0-3 1 6 1-5 0-2 1 0 0 8 0-1 0 1 1-3 0-2 0-4 0 1 0 1 1 1 0-2 0 4 1 3 0-4 1 2 0 0 1-3 0 4 0-6 0 1 1-2 1 4 0-3 0 3 1 3 0-3 1-1 0 1 0-2 1-1 0 7 0-8 1 0 0 4 1-2 0 2 1 1 0 1 1-2 0 5 0-6 0-2 0 8 0-7 1 0 0 5 1-4 0 2 1-4 0-1 0 1 0 5 0 3 1-8 0 5 0-1 1 0 0 0 0-3 0 2 0-1 1 2 0-4 0 0 0 5 0-1 0-1 2-3 0 3 0-2 1-1 0 5 1 1 0 1 0-5 0 1 0-3 1 3 0 3 0-4 0 2 0 1 1-2 0 2 0 0 1-6 1 7 1-6 0 5 1 0 1 1 0-5 1 0 0 5 0 1 0 0 0-2 1 2 0-3 0 3 1-1 0-3 2 5 0-9 1 5 0-2 0 4 0-2 0-5 1 3 0 0 0-2 1 6 0-2 1-2 0 0 1 5 0-1 1-4 0 2 0-1 1 3 0-3 0 1 1-1 0-4 1 0 0 8 0 0 1-6 1 6 0-5 0 2 0 3 1-8 0 8 0 0 0-2 0-3 0 4 0-5 0-1 1 6 1-2 0 3 0-1 1-3 0 3 0-1 1-4 0 7 1-1 1-8 0 3 0 1 0 5 1-5 0 3 0 0 0-3 0 2 1-5 1-1 1 5 0 3 1-7 1 3 0 4 1-5-77 7 2 2 1 0 1 0 2-2 2 5 3-3 1-1 0 3 0-4 1 2 0 5 0 1 1-4 0-2 1 0 0-1 0 1 1-1 0 2 1 1 1-3 0-1 0 9 1 0 0-8 1 4 0 1 0-4 0 7 1-9 0 1 1 7 0-2 0-3 1 5 0 0 1-4 0 5 0-6 0 4 0-1 1 3 1-4 0-2 0 2 0 3 1-6 1 5 1-7 0 3 0 0 1-3 0 5 1-3 1 3 1 0 0-3 2 7 0-9 0 2 1-2 0 2 1 0 0 6 0 1 0-5 1-3 0 8 1-1 0-1 0-4 1 6 1-2 0 2 1-1 1-1 0-6 0-1 0 4 0 1 1 1 0-2 0 5 1-9 3 1 0 0 1 1 2-1 0 3 1 0 1-3 0 0 0 4 0-3 1-1 0 5 1-6 1 7 0-7 0 7 0-6 3 8 0-8 1 1 0 6 1-1 1-4 0 6 0-6 1 1 0 0 0 2 0-4 0 1 2 2 2-5 1 0 0 2 0-2 0 2 1 1 2 0 3-3-56 10 2 2 1-2 5 1 4-1 2 3 0-2 2 2 1 0 0-1 0 0 3-1 0-1 1 1 0-1 1 0 0 1 3-1 5 0 3 0 11 0" style="marker:url(#md_g)"/><path d="m851 905 13 0 7 0-26 9 21-2 11 4 8-6 2 6-48 9 12 4 20-6-28 13 0 0 29 1 4 5 3 1 7 6 1-9 23 2-81 16 3 0 11-7 3 5 15-6 37 5 0-1 7 1 1 0 10 4-94 9 24-6 12 7 1-1 7-5 5-1 16 0 1 3 6 3 8-4 3 2 1-6 9 6 1-6-71 19 13-2 5 2 8 0 1-2 4-2 0-4 0 5 13-1 1-2 5 0 9-1 2-1 5 7 2-7 8 3-65 9 15-1 2 3 2 3 13-6 2 7 5-8 8 7-10 4" style="marker:url(#md_p0)"/><path d="m869 903 11 0 5 16 1-1-49 13 1 0 16-1 18 6-11 8 18 2 5-6-57 17 9 0 9 0 8-3 48 1 0 0 1-5 6 2 2 1-48 14 1 0 26 0 13-4 9 4 3-3-74 11 22-1 4-2 12 3 1 1 3-3 0 4 1-3 6-1 9 3 3-6 9 1 10 8-50 8 2 2 17 0 1-6 7-3 12 1 4 1 2 3-30 7" style="marker:url(#md_p1)"/><path d="m839 888 1 4 0 11 39 1-31 8 11 1 16-1 28 6-31 6 13 2 15-3-10 11-47 15 2-8 50 6 12-2 5 2-84 8 53-2 10 3 2 0 4 0 12-6-87 13 3-2 26 2 3 3 3-1 30 3 10-6 11 3 8-2-59 12 12-3 6 7 1-8 2 3 12-1 8 2 5-1 1 4 3-1 1-7 4 8 3 1-65 1 8 5 5-2 6 4 10-6 6 4 2-2 1 6 1-9 17 5 8-4-49 10 29-1" style="marker:url(#md_p2)"/><path d="m833 899 7-8 10 16 19-5 6 7 7-2-25 7 23 5 2-7-34 8 10 1-17 13 33 0 9-4 3 0-46 16 5-5 1-1 8 4 2 2 22-1 26-1 5-3-89 13 27 1 2-4 45 7 1 1 1-8 2 6 7-5 0 6 0-1 16 2-105 3 5-1 3 0 24 4 12-2 30 6 4-2 9-1 1 3 1-9 9 0-67 13 8-1 27 0 5 0 5 6 16-3 1 0 4-3 3 1-63 11 2 1 1-1 1 1 4 2 1-5 1 5 3-5 5 5 0-1 2 2 9-1 6-2 9-3 14 3 3-5-29 12" style="marker:url(#md_p3)"/><path d="m573 1049 0 0 0-2 1 2 0-3 0 0 4-1 3 1 0 1 0 1 2-3 0 0 1 3 1-1 0 0 1 1 1 1 0-2 0 1-17 10 0-8 1 2 1 6 0 0 2 0 1 0 1 1 2-9 1 5 1-2 0-3 1 1 0 5 1-5 1 2 1 3 0 3 0-5 0 5 0 0 0-6 1 4 0-1 0-5 0 6 1 1 0-4 0-2 1 0 1 3 0-5 0 7 1-7 0 5 1-2 0-2 0 4 0-5 1 2 1 1 0 5 0-3 1-1 0 4 0-3 1 1 0 2 1-3 0-3 1 5 0 1 2 1-29 2 2 2 0 0 1-3 2 3 1-1 1 1 0-3 1 0 1 5 1-1 2-2 0 6 1-8 0 7 3-6 0 0 1 1 0 0 0 0 1 1 0-3 0 5 1 1 0-2 0 4 0-4 0 4 0-1 1-5 0 2 0 5 0-9 0 5 2 1 0-6 0 8 0-3 0 1 0-2 1 0 0 3 1-1 1-5 2 7 0-4 1 5 0-1 1 1 0-2 1-4 0 0 1 5 0-7 0 5 1-1 1-2 0 2 0-3 0 4 0 1 0 0 0 2 1-2 0-4 1 3 1-3 1 4 0-2 1 0 0-1 0 1 1-1 1 3 0 0 1-3 0 5 0-3 0-2 0 5 0-1 3-1 1 2 0-6 1 2 1-2 1 4 0 2 1-1 0 0 0 1 1-2 0-2 3 4 0-2 1 2 1-1 4 0 0 1 1 0-48 6 0 4 0-7 0 0 0 4 0 1 0-1 1 3 0-2 1 1 0-5 0 3 0 3 0-4 0 0 1 4 0-1 0-2 0-2 0 0 0 4 1-5 0 3 0-1 0-2 0-2 1 8 0-3 0-2 0 3 1 0 1 2 0-3 1-3 0 0 1 6 1-7 1 2 1 2 0-1 2-2 0 1 0 5 0 0 1-8 0 7 0-5 0-3 1 1 1 5 0-3 2 3 0-5 0 4 1-2 0 2 0 0 1 3 0-3 0-1 0 1 0-2 0 6 1-1 0-1 1-2 0-4 0 4 0-3 1 3 0 2 0 1 0-5 0 2 0 0 0 3 0-2 1 2 1 1 0-7 0 2 0 5 1 0 0 0 0 0 0-3 1 0 0-2 1 2 0 2 0-3 0 0 1 0 1-2 0 6 0-6 0-1 0-1 0 8 0-7 1-1 0 4 0-3 0-2 0 9 2-4 0-3 0 6 0 0 1-6 0 1 1 1 1 0 0 2 0 2 1-2 0-6 0 6 1-3 0 0 0 2 0-1 0-3 0 6 1 2 1-5 1 1 0 0 0 0 0-2 1 0 0 5 0-5 0 3 1 0 0-1 2-4 0 7 1-4 1-1 0-1 2 2 0 3 0-3 1-4 1 4 1 0 0 3 0-1 0-5 1 4 1 4 0-5 0-1 1 5 1-6 1 3 1 4 0 0 0-1 1 0 1 0 0 0-65 10 0 1 2-6 0 3 1 0 0-3 1-1 0 1 0 0 1-3 0 6 1-6 1 7 0-5 0 4 0-6 1 8 0-8 0 2 0 3 1-1 0 2 0 3 0 0 0-8 1 6 0-6 1 7 0-6 0 7 1-4 1-3 1 6 0-2 2 3 0-8 1 4 0 2 0 0 1-5 0 1 1 5 0-5 0 3 0-3 0 4 0-3 1 0 0 2 1 2 1 0 0-1 0 1 0-3 1 1 0-1 0-3 0-2 1 3 0-3 1 3 0-3 0 3 1 3 2 0 0-4 0 5 0-5 0 5 1 0 0-4 1 0 0 6 0-9 0 4 0 0 0 3 1-6 0 2 0 0 1 3 0 0 0-4 0 7 1-1 0-2 0 0 1 3 0 0 0-3 0-2 0-4 0 0 0 6 1 2 0-2 0-3 1-3 0 1 1 0 0 0 0 2 0 3 1 0 0-6 0 0 0 1 1 4 0 3 0-4 0 0 1 3 0-2 0-5 0 3 0 3 1-3 0 0 0-2 1 2 0 0 1-1 1 1 0-2 1 0 0 5 0-6 0 8 1-6 0-1 0 0 0 7 1-1 0-5 0 7 0-1 0-8 0 1 0 3 1-3 0 6 0 1 1-1 0 0 0-5 0 3 0 3 1-4 0 1 0 4 1-5 0 4 0-1 0 0 1-3 0 1 0 2 0-3 0 0 0 1 1-3 0 5 1-4 1 5 0-1 2 0 2-6 1 7 0-2 1 3 1 0 1-8 0 5 0-2 0 4 1-1 0-6 1 1 0 2 0 4 0 0 1-1 1-1 1 0 0 3 0-1-72 10 2-1 0-3 1 2 0 2 1-5 0 2 0-1 0-4 1 0 0 3 0 4 1 1 0-1 1 1 0-1 0 2 0 0 0-7 1 4 0 2 0-8 1 7 0-1 1 1 0-1 0 3 1-4 1 1 0-6 1 8 0-2 0-3 1 0 1-1 0 6 0-7 1 3 0 1 0 4 0-4 1 1 0 3 0-6 0 2 0-5 2 7 0 0 1-1 0 2 0-5 0 3 1-2 0-4 0 4 1 5 1-4 1 3 0-8 0 8 0 1 2-7 0-2 1 7 0 2 0-1 1-6 0 1 2-2 1 2 0 6 0-3 1-2 0 0 0-1 2 6 1-7 0 0 1-2 0 8 1 1 1-3 0 2 0-3 1 1 1 3 0-7 0 5 1 0 0-5 0 1 0 6 1-5 0 0 0-1 1 2 0-1 0-2 2 6 0-2 1 0 0-5 1-1 0 6 0-6 0 2 1 4 0 2 0 1 0-8 0 3 1-3 0 7 0-8 0 5 0-5 2 3 0-2 0 2 0 2 1-1 0 0 0 5 0-9 0 1 1 4 0 0 0-1 0 0 1-1 0 4 0-4 0-2 0-1 0 9 0-5 1-2 1 4 0-5 0 0 0 8 0-8 0 7 1-1 0-7 0 0 0 4 1-2 0-2 1 2 0 7 0-9 0 4 0 1 1-4 0 6 0-6 1 0 0 7 0-7 0 7 0-3 1-3 0 1 0 6 0-9 0 2 0 3 1 2 0 0 1-2 0-5 1 1 1 8 0-6 0 3 0 1 0-3 0-2 1 4 1-4 0 2 0 4 1-3 0-2 1-1 0-2 1 0 0 4 1-3 1 2-76 16 1-7 0-2 0 6 1 2 0-2 0-2 1 1 0 1 0 0 0-2 1 4 0-2 0 0 1 0 0-4 1-2 0 1 1 3 0-2 0 0 0 1 1 5 0-5 0-1 0-1 1 1 0 0 0 7 0-6 1 1 0-3 0 2 1 1 0 4 0 1 0-7 1 7 0-5 0 3 0-6 1 4 0-5 0 5 0-1 0 4 0 0 1-5 0 1 0-4 1 0 0 1 0-1 0 6 1-2 0 3 0-5 0 6 0-1 1 0 0-7 0 2 1 6 0-8 0 9 0-7 1 3 0 3 1-1 0-6 0 6 0 0 0-3 0 2 0 1 2-5 0 2 0-1 0 2 0 3 1-6 0 2 0 0 0 4 0-3 1-1 0 1 0 1 0-1 0 4 1-1 1 0 1-4 1-2 0 7 0-6 0 3 2 3 0-1 0-3 1-3 0 0 0 4 0 2 0 1 1 0 0-3 0-4 0 6 1 0 0-2 1-4 0 5 1-3 0 3 0-1 0 1 1-3 0 0 1 0 0-1 1 4 0 1 1-4 0-4 0 4 0 4 0-8 0 3 1-1 0 0 2-2 1 5 0-5 0 6 0 0 0-2 1-3 0 5 1 3 0-6 0 4 0-3 0-2 1-1 1 5 0-4 1 4 0-6 0 3 0 3 0-3 0-1 1-2 0 6 0-5 0 6 0-6 0-1 1 3 0-1 0 1 0 0 0 1 0-2 0-2 0 7 1-5 1 4 1 3 0-4 0-1 1-2 0 3 0 3 1-6 0 2 1-3 0-1 0 4 0-2 0-1 1 2 0 0 0-1 0-2 2 4 0-4 0 4 1-4 0 0 1 6 4-1 0 0 2 4 1-7 0-1 3 7 1-1 0-3 0-4 0 4 0 4 1-1 0-4 0 1 1 3 0-5 0-1 1 8 0-7 1-1 0 7 0 0 1-2-88 12 6-1 0-1 0 3 0-3 1 3 0-1 0 0 0 1 0-5 1-4 0 5 0-4 0 0 1 8 0-2 0-1 1-5 0 2 0 6 1-1 0-7 0 8 1-4 1-1 0 5 1-6 2 4 0-2 0 3 0-4 1 1 0 0 1-5 1 0 0 4 1 1 1-5 0 2 2 2 0-2 0 5 0 1 1-3 0-2 0-2 0 8 0-3 1 0 0-3 0 1 0 5 1-3 0 3 0-5 0-2 0 0 1 6 0 1 1-9 0 8 1-7 0-1 1 9 0-1 0-3 1-4 1 7 0-2 1-3 0-2 0 4 0-4 1 1 0 1 0 0 0 5 0-7 0 4 1-2 1 6 0-2 0 1 0-7 1 1 0 6 0-4 0 0 0 4 0 0 1-5 0 3 0-6 0 6 0-5 0 7 1-5 0-3 2 0 0 6 1-2 1-3 0 7 1-6 0-1 1 0 2 8 0-9 1 8 0-6 1 6 0-1 1-5 0 1 0 6 0-6 1 6 0-1 0-7 2 5 0 1 2 2 1-1 1-2 0 1 0-7 1 5 0 2 1-5 0-2 1 6 1-5 1 4 0-3 1-2 0 0 2 2 0 1 0 2 0-1 1 4 0-8 0 4 0 5 1-7 0 3 0-5 0 2 1 3 0-1 0-2 2 1 1 4 1-3 0 2 0 1 1-2 0 2 0-7 1 0 0 8 1 1 0-3 0-1 1 3 1 1 0-2 0 2 0-2 0 0 2 0 1-3 1 4 0 1 1-2 1-3 0 3 0 0 1 2 0-3 1 1 0-2 2-1 0 2 0-5 0-1 0 8 1-6 0 2 1 0 0-3 0 5 1-6 0 7 0 0 1-5 0 5 1 0 3-1 0 0-100 9 0-3 1 0 1 4 0-2 1 3 0-6 0-1 1 9 0-8 0 2 1 2 0 4 0 0 1-2 0 1 0-3 0-1 1 3 1-3 0-1 0 4 1-4 1 2 0 1 0 0 0-2 0 1 0 0 0-2 1 6 0-5 1 2 0-2 0 3 0-5 1 5 0-4 1 4 0-5 1 2 0-3 0 0 1 8 1-6 0-2 0 2 0 3 0 2 0-3 0 0 1 2 1-3 0-2 0 0 1-2 0 4 0-2 0 0 0 1 1 3 0 3 0-7 0 1 1 0 0-3 0 2 1 4 0-6 0 4 0-2 1 3 0-5 0 0 1 3 2 6 0-2 0-3 1 3 0 0 1-6 0 1 0-2 1 0 0 1 0 6 1 2 1-7 0 5 0 0 1-7 0 0 2 9 1-1 1-8 1 8 0-6 1 7 0-6 0 6 0-9 1 2 0 0 1 1 0 1 0-4 0 0 0 0 1 7 0-6 1-1 0 7 0-1 1-1 0 0 1 3 0 1 0-3 1 3 0-2 1-2 0 4 0-1 1 0 0-5 1 4 0 1 0-4 1 2 0 1 1-3 0-4 1 9 1-3 1-1 0 1 1-5 0 4 1 1 0 3 0-5 1 2 1-1 0 0 1 0 0-1 0 4 1-2 0-6 1 8 0 0 1-4 0-2 1 7 0-4 0-4 1 5 0-6 1 7 0-4 1 3 0-5 0 4 1 0 0 0 1-5 1 9 0-1 0-7 1 3 0 4 1-1 0 1 1-7 0-1 0 9 1-9 2 9 2-6 0 6 0-9 2 5 1-1 0-2 1-2 0 1 0 1 1 2 0-3 0 3 0-2 1-1 0 7 0-7 0 3 0 1 1 4 1-8 1 1 0 6 0-4 1 1 1-1 0-1 1 3 0 3 0-9 1 6 0-3 0-3 1 4 0-1 0 0 4 2 0-5 0 8 1-8 0 5 0 4 0-1 0-5 1 2 0 1 1-5 0 7 0 1 0-3 1-6 0 8 1-8 0 5 1-1 0 5 0-6 1-1 0 7 0-8 1 7 0 1 1-9 0 2 1 7 0-3 2 3-100 1 0 3 3-1 1 2 0-2 1 1 0-1 0 0 1-1 0-1 0 3 0 0 0-3 1 1 0 0 2 2 0-2 1 4 0-5 1 3 0-3 0 2 1-1 0 1 1 3 1 1 0-1 1-5 0 3 1 0 1 3 0 3 1-2 0-1 2-3 1 3 1 2 1 0 1-3 0 3 0-1 1-3 0-3 0 4 0 3 1-6 0 2 1 2 0-6 0 0 1 6 0 0 0 3 0-3 1 2 0-7 0 4 0 3 0-6 0 1 1-2 0-1 1 2 0 4 0 3 1-6 0 4 0 1 1-7 0 6 0-6 0 5 1-4 0 3 0-1 0 3 1-1 0-5 1 7 0 0 0-6 0-1 1 6 0-2 0-4 1 4 0-4 0-1 0 3 0-1 1 7 0-9 0 1 0 2 0 1 0 3 1-7 0 3 0 2 1-1 0-1 0 1 1 3 0 1 0-1 1-4 0 3 1-5 0-1 0 3 0 1 0 2 1-6 0 3 0 5 2-8 0 6 1-2 0 3 0-1 0 1 0-5 1 7 0-7 0 2 1-4 0 3 0 5 0 0 0-8 0 3 1-1 1 5 0 1 1-5 0 2 1 1 0 2 1-5 1 0 0 6 0-7 1 7 0-1 0-3 0 2 1 1 1 0 0-2 0 3 0-1 1 1 0-4 0-2 1 5 0-3 0-1 1 3 0-3 1-1 0 6 1-2 0-4 0 3 0 0 0 0 1-5 0 2 1-1 0 3 0 4 0-6 1 0 0 0 0-3 0 2 0-1 1 4 0-4 0 0 1 7 0-7 0-1 2 1 0 8 2-6 0 4 0 0 1 2 0-8 0 3 1 4 0-1 0-4 0 1 1 5 1-5 1 5 0-9 1 4 0-3 1 7 1-5 0 6 0-3 0 2 1-3 0-1 1-3 0 2 0 2 0 2 0-5 1-1 1 7 0-5 1 6 0-2 0-1 0-6 1 5 0 1 0-2 1 5 0-6 0 6 1-8 0-1 0 7 0-4 0-2 3 0 0 7 0 1 1-2 1-5 0 6 0-5 0 4 0-2 1-2 0 2 1-3 0-1 0-1 1 1 1 5 0 2 2-6-80 9 0-1 3 4 0-4 1 4 0-3 1 5 1-1 0 1 0-1 1 0 0-5 1 5 1-1 0-2 0-1 1 0 1 7 0-6 0-1 0 3 0-1 0 5 0-8 1 2 1 7 0-7 0 1 1 3 0-1 0-2 0 5 1-1 0-1 0 2 0-4 0-4 1 5 1-2 0 2 0-2 1 0 0 3 1 0 0 0 0 1 1-3 0 1 2-5 0 1 1 7 0 0 0-6 1 2 0 3 1 0 0 2 2-8 0 8 1-4 1 3 0-5 1-1 0-1 1 3 0-4 0 8 1 0 0-4 1-3 0-1 0 0 1 0 0 3 1 6 0-9 0 0 0 8 0-1 0-4 1-3 1 6 0-5 0 2 0 0 0-1 1-2 0 1 1 4 0 3 1-7 1 5 1-5 1 2 0 6 1-2 0 1 1-2 0 1 1-7 0 8 1-8 0 1 0 7 0-4 1-4 0 2 0 1 0 2 1 1 2-2 0 0 0-2 1 6 0-3 0-3 0-1 1 4 1 3 0-2 0-2 0-1 1 3 0-5 0-1 0 0 0 5 0-1 1 1 1-1 0 2 1 0 0-5 0 4 2-5 2 4 0-1 1-1 1 5 0 0 0-6 0 0 1 2 0-1 0 5 0 1 1 0 0-2 1-4 0 1 1-2 0 1 1 5 0-5 0 0 0 0 0-1 1 2 0 6 0-4 1-5 0 4 0 2 0-2 1 2 0 1 1 0 0 1 0-8 0 4 1 0 1-2 1 1 2-1-65 8 1 0 1 1 1 2 1-3 1 2 1-1 0 3 1-4 2 2 0 1 0 0 1 2 1-5 1 0 0 2 1 2 0-4 0 0 0 2 0-1 0-1 1 4 0 0 0-4 2 0 0 0 0 2 0-1 1 3 1-3 0-1 1 3 0 2 0 0 1-5 0 0 1 8 0-8 0 5 1-4 0 4 0 3 1-2 2 1 0-5 1 3 1 0 0 0 1-1 0 1 0-1 1 2 0-3 0 1 0 2 1-5 0 2 1 0 1 0 0-3 1 0 0 5 0-1 1-4 1 5 2-3 1 2 0-4 2 4 0 0 2 1 3-3 2 0 1-1 0 0 0 0 1 1 1 0 0 0 2 1 2-3 1 2" style="marker:url(#md_g)"/><path d="m574 1061 30 13 0-1 6 0 27 3-48 7 35 3-45 7 3-2 1 4 34-4 8 0 4 8 11-9-49 17 7 2 19-8-25 14 3-4 0-1 33 7 1-2 12-1 4-3 0 8 4-8 0 4-86 11 0-4 26 5 35 1 2-8 2 4 8 5 0-4 0-3 1 5 0-3 2 3 2-4 14 2-87 8 18 5 1-4 1 2 13 2 7-4 8 0 1-1 3 2 1 1 5 1 3-4 0-3 1 1 0 2 17 1 2-2 5 2-58 10 1 3 1-5 8 6 10-8 9 0 7 1 6 2 5 6 0-5 1-4 8 4 0 2 2-6 4 2-47 8 12 7 4-3 3 2" style="marker:url(#md_p0)"/><path d="m589 1063-3 15 30 2-1 16 2-3 16-2 2 3 7 1-68 6 3 1 7-1 4 0 33 2 22 3 4-1-66 11 1-3 7 3 4 0 30 2 8-2 6 0 5 1 6-5 7 7-84 8 45-6 12-1 4 2 5 1 3 0 12 6 1-6 0 0 2 2-72 10 8-3 4 5 2-4 15-3 1 2 5 7 10-3 11 1 3-1 0-4 11 7-70 2 5 2 6 5 12 0 5-2 6-6 5 4 2-3 4 1 7 7 0-3 9-1 5-4-42 10 1 3 13-1 0-1 10-1 7-1" style="marker:url(#md_p1)"/><path d="m576 1052 34 26 8-6 9 4-46 8 18-4 19 7 20 2-62 6 7-3 63-1-58 14 5 3 10-1 2-3 7 0 11-1-59 16 33-6 0 5 1-1 38-1 6-6 4 9 2-4 3 2-97 9 1-6 71 6 3-5 7 3 11 5 1-7 3 2 1-2 0 1 0-1 5 6-99 3 31 6 11-6 4 5 2 1 0 0 5-2 4 2 1 0 5-2 5 0 5-2 4 1 7 0 4-1 6 3 2-6 0 8 0-5 4 0-49 9 17-1 11 0 0-1 1 0 10 2 1 5 3-3 2 4-41 9 1-7 6 2 10 2 4-3" style="marker:url(#md_p2)"/><path d="m572 1062 32 5 3-2-1 21 5 2 5-5-31 8 20-1 9 1 19-1 8 6 2-5-64 18 11-1 19-2 7-5 28 5-85 13 40-2 32 2 14-5 1 5-93 5 25-2 20 6 34-6 1 4 3-5 5 7 2 0 5-3 7 1-79 6 9 1 3-1 9-1 1 6 8 1 3-2 4-2 10 5 14-6 1 5 3-4 4 1 2-5 0 9-55 2 1-1 9 1 2 2 5 5 2 1 4-9 16 6 0-1 16-5 1 9 1-4 2-1 7-1-56 11 4-3" style="marker:url(#md_p3)"/><path d="m700 1049 3-1 1-1 1-1 3-2 2 4 1-3 0 2 0-3 1 2 1-1 0 3 2 0 0 0 1-1 1 2 0 0 1 0 0-1 2 1-21 1 1 8 1-8 2 8 1 1 0-5 1 3 1-6 0 4 0-2 0-2 1 7 0-5 0-1 1-1 0 1 2 6 0-6 0-1 1 7 0-7 0 4 1 0 0-3 1 4 0 2 0-5 0 1 1-1 0 2 0 4 1-6 0-3 0 4 0 2 0 0 1 2 0-1 0-5 0 4 1 2 0-3 1-1 0-1 1 3 0-3 0 3 0-1 1 4 0-6 1 0 0-2 0 3 0 0 1 1 0-1 1 5 0 0 2-1 0-5 0 4 1 1 2 1 0-1-28 5 0-2 2 2 3-1 1 4 1-4 0 0 0-2 1 6 2-2 1 4 1-7 3 0 0-1 0 1 1 7 0-7 0 0 0 5 1 2 0 0 1-4 1 0 0 3 0 1 0-2 0 2 0 0 1-7 0 4 0 0 1-2 0 0 0 3 0-5 1 8 0 0 0-6 0 5 0-3 1 2 0-5 0 4 0 0 0 1 1-2 0-3 2 6 0-1 1 0 1 0 0 0 1 2 1-8 0 6 0-4 0 1 1 1 0-4 0 6 1-6 0 3 0 3 0 0 0 2 1-2 1 1 0-5 0 1 2 1 0-2 0 4 1 0 0-1 1-2 0 0 1 4 0-3 0 4 0-6 1 2 0 2 1 1 0-1 3-3 1 3 2 1 1 0 0 0 2-1 2 2 0-2 1 1 0 0 1 0 2 1 2-2 2 2-50 7 1-1 0 1 1-3 0-2 0 6 1 2 0-4 0-1 1 4 0-6 0 2 0 1 0 2 0 1 1-1 0 1 0 0 1-3 0-1 0 0 0-1 0-2 0 6 1-2 0 2 0 0 0 0 0-3 0 3 0-2 1 3 0-1 0-7 1 3 0 3 1-3 0-2 1 6 1-6 1 3 0-1 1 1 1 2 0-2 0-3 0 3 0 0 0 3 0 2 1-9 0 7 0-6 1 2 0 5 0-4 1 1 0 1 0-3 1 3 2-5 1 4 0-5 0 5 1 2 0 0 0-2 1-3 0 1 0 2 0 3 1-1 1 0 0-4 1 5 0-6 1 6 0-4 1 5 0-3 1-4 0 3 0-1 1 5 1-5 0 4 0-2 1-3 0 0 0 3 1-1 0 4 1-4 1-4 1 3 1 0 0 3 0 2 0-4 0-5 1 7 0-2 0 1 0-6 1 0 0 5 1-2 0 0 0 2 0-4 0 0 1 7 0-2 0 2 0-5 1 0 0 3 0-1 1 2 0-3 0 0 0-2 0 1 1 3 2-4 1 2 1-1 2 1 0 3 1-4 1 0 1 4 0-3 1 0 1-1 1 5 1-1 0-5 1 6 2 1 2-2-67 11 1 0 1-5 1 3 1 0 0-1 0-2 0 1 1 2 0-4 1 6 0-7 0 3 0-4 0 7 1 0 1-5 1 5 0 0 0-7 0 2 1 7 0-1 0 1 0-3 1-1 0 2 1-3 0 1 1-2 0-1 1 5 0-6 2 1 1 7 0 0 1-4 0-4 2 7 0-5 1-2 0 2 0 4 1 1 0-3 1-2 0 5 0-2 1-5 0 4 0-2 0-1 1-2 1 2 1-1 0 1 1-2 1 2 0 5 0-1 1 1 1-1 0-5 0 0 0 1 0 7 1-9 0 0 0 6 0 1 0-7 0 3 1 0 0 3 0 2 2 1 0-7 0 5 0-6 0 5 0-1 1 4 0-1 1-1 1-4 0-2 1-1 0 7 0-3 0 5 1-4 0 0 0-4 0 2 0 1 1 0 0 0 1 4 0 1 0-6 0 0 1 0 0-3 1 2 2 7 0-7 0 0 1 4 0-1 1-3 1 0 0 7 0-2 0 1 0-5 0 6 0-2 0-7 1 4 0-1 0 4 0 0 0-6 0 5 0 2 1-4 0 3 1-3 1 0 1 5 1-5 0-1 1 2 0-5 0 8 3 1 0 0 0-2 2-1 1 3 0-1 0 0 0 0 1-2 0 0 1-5 0-1 1 9 0-7 0 6 0 1 1-8 0 4 0 2 1 1 1-1 0 0 1 0-70 9 0-1 0-1 1 3 0-3 1-2 0 2 1-4 1 3 0 3 0 1 0-5 1 5 0-7 0 8 0-7 0 8 1-4 0 0 0 3 0 1 1-1 1 0 0-3 0-3 0 3 0-3 0-1 0 4 2 0 0-1 1 3 0-3 0-4 0 0 1 2 1 4 1-4 0 7 0-1 0-3 0 1 1-2 0-1 0 2 0-4 1 0 0 6 0 2 0-3 1 1 0 1 1-2 0-3 0 1 2 4 0-8 2 0 0 9 1-9 1 7 0 1 0-7 1 3 2-3 1 1 0 7 0-7 1 3 0-2 2-1 1-2 1 2 2 7 0 0 2-3 0-1 1 3 0-5 1 3 0-2 1 2 0-2 0-1 0 3 2-3 0-1 1 1 0-2 1 2 0 4 0-5 1-2 0 9 1-3 0 1 0-4 1 1 0 4 0-2 0 2 0-7 0 1 1 1 0 1 0-4 1 0 0 4 0-4 1 7 0 2 0-8 0 3 1-1 0 1 0 1 0 4 1-8 0 7 0-5 1 4 0-3 0-3 0 1 1 7 0-7 1 7 0-9 0 2 0-2 1 3 0-2 0 7 0-4 1-4 0 1 0 6 0-3 0-4 0 4 1-4 0 6 0-5 0 4 1-5 0 5 0-1 1-3 1 2 0-2 0 4 0 2 0 0 1-2 0-1 0-3 0 7 2-8 0 3 0-1 0 0 1 7 0-6 0 3 0-6 0 3 0 5 1-6 0 4 1-1 0 4 1-4 1-3 0 0 0-2 0 1 0 4 1-1 0-4 0 2 1 0 0 1-75 10 0 3 1 0 0-4 1 7 0-8 0 6 0-3 0-1 0-1 1 3 0 3 1-3 1-3 1-1 0 0 1 8 0-2 0-6 1 6 0-1 1-3 0 3 0-5 0 4 0-4 0 1 1 7 0-4 1-5 0 6 0-6 0 1 1 5 0-5 0 7 0-8 1 8 0-8 1 1 0 3 1-1 0 5 1-8 0 1 0 1 0-1 0 5 0-1 0-5 1 8 0-8 0 5 1 2 0-7 0 6 1-1 0 3 0-8 1 7 1 0 0 1 1-4 0 4 0-5 0 2 0 3 0-3 0 0 1-1 0 1 1 4 0-9 0 9 0-5 1-3 1 3 0 4 0-2 1-3 0 2 1-3 0 7 0-2 0-7 0 9 1-7 0 3 1 3 0-5 1 2 0 0 0 3 1 0 1 1 0-2 1-3 0 1 0 2 0-1 1-2 0 2 0-6 1 7 0-5 0-1 1 3 1 1 0 2 0 2 1-9 1 2 0-1 0 5 0-3 0-1 1 5 0-5 1 4 0-4 0 1 0 3 1-4 0 5 0-2 0-5 0 7 1 1 0-3 1 2 0-6 0 5 0-3 0 0 0 4 1 0 0 2 0-5 1-3 0 4 0-5 0 0 0 1 0 6 1-2 0-1 0-1 0 0 0 0 1 0 0 0 0-3 0 2 0 0 0 0 1 1 0 2 0-1 1-1 0-1 0 6 0-3 0 2 1 2 0-4 1-3 0-1 0 2 0-2 0 6 0-3 0 3 1-2 0-3 0 6 1-3 0-3 1 1 0-2 0-1 1 3 0 2 0-2 0-3 2 0 2 0 1 9 1-1 0-8 8 5 1-3 0 3 0 4 0 0 0-8 0 6 1-4 0-1 1 7 0-7 0-1 1 5 0-3 0 5 1-3 0 3 1 1-90 10 3 0 1-1 1-3 1 1 0-1 1 4 0-2 0-6 1 5 0-3 1 0 0 1 1 3 0 1 1-2 0-3 0 3 1-4 1 6 1-4 1 0 0 1 1-1 0 5 0-4 0 1 1 2 0-3 0 0 0 4 0-5 1 0 1-3 0 8 0-5 1-2 1 5 0-6 0 5 1-1 0-5 0 4 0 4 1-2 1-3 0-1 0 5 1-4 1 2 0 3 0-6 0 7 1-3 0-3 0 2 2-3 0 7 0-1 1-5 0 5 0-8 1 5 0-4 0 3 1-2 1-2 0 8 0-4 0-4 1 5 0 1 0-4 1 1 0 0 1 3 0-6 1 4 0 1 0-4 0 1 1-2 0 4 0-1 0 5 0-4 0-4 0 0 1 9 0-6 0-3 0 1 0 5 0 0 0 2 1-1 0-3 0-2 1 4 1-2 1-2 1 0 0 5 0-6 1 0 0 0 0 0 2 8 2 0 0-7 1 7 1-1 0-4 1 4 3-1 3-7 1 6 0-1 1-4 0 6 0-1 0-6 3 0 1 6 2-4 0 1 0 4 1-6 0 3 0-4 0 4 0-1 0 6 1-2 1-2 0-4 0 3 0 1 1-1 0 2 0-4 2 2 1 3 0 0 0 1 1-4 0 3 0-2 2 4 0-9 1 8 0-8 1 7 0 0 1 0 0-2 1 0 1-1 2-1 0 5 1-2 0 1 1-1 1 3 0-1 0-2 0 3 1-7 0 7 0-5 1 5 0-9 1 8 0-7 1 2 0 2 0 0 1-1 0-3 1 0 0 8 0-7 0 4 1 1 1 0 0 1 0-2 1-1 2 4 0-4-102 10 1-4 1-1 0 5 0 1 1-3 0 6 0-5 1-4 1 2 0 2 1 5 0-8 0 8 0-9 0 4 0 4 1-2 2-1 0-5 0 3 0 1 0 4 1-7 0 3 0 1 0-2 1 2 0 2 0-6 0 0 0 6 0-4 1 2 0-5 0 4 2-4 0 4 0 0 1-1 0-1 1 1 0-2 1 7 0-1 1-5 0 3 0 0 1 4 0-2 0-3 0-4 0 0 0 1 1 3 1 2 0-5 0 2 1-1 0-2 1 1 0-1 0 9 1-7 0 2 0-4 0 8 0-7 1 0 0 5 0-1 0-3 0 3 0-5 1 6 0-3 0-1 1 0 0 7 0-1 1-3 0 1 0-6 1 6 0-2 0-4 1 8 1-7 0 5 0-5 0 1 0 7 1-9 0 7 0 1 0-3 3 4 1-9 2 8 1-6 0-2 1 4 1-1 0 6 3-8 0 1 0 6 0-2 1 1 0-2 1 2 0-5 0 6 1-1 0 2 0 0 0-2 0 0 1-1 0 3 1-1 0-1 1 2 1-2 1 2 1-4 0 0 0 4 2-5 0 0 0-4 0 1 1 6 0 1 0-5 1-3 0 9 0-9 0 4 1 5 0 0 1-9 0 5 1-5 0 5 0 4 0-5 1-4 0 5 0-5 0 1 1 5 0 2 1 0 1-3 1 3 0-6 0 7 1-5 0 0 0-2 1 3 0 2 0-5 1-1 0 5 1-4 1 6 0-7 0 3 0-2 1 7 1-9 0 8 0-7 1 0 1-1 1 1 1 8 1 0 0-9 1 0 1 2 0-1 0 1 1 3 0-4 0 3 1 0 0 3 1-3 1 4 0-5 0 3 0-3 0 3 1-2 0 2 0-3 0-1 0-1 0 3 2-1 1 5 0-7 1 4 0 3 0-4 1 2 1-1 0-3 0 0 1-1 0 3 0-2 1 2 0 3 0-4 1 6 0-4 1 2 0-6 1 6 0-5 0 6 1-2 0-3 1 4 0 1 0-3 1 4 0-7 0 4 1-3 0-1 0 1 1 3 0-3 0-1 1-2 0 5 1 1 0-1 0 3 0-1 0-7 0 5 1 1 0 1 0 2 1-8 0 4 1 4 0-3 2-3 0 4 1 2-104 2 0-1 4 0 4 3 1-1 1 1 1-2 0-1 0 2 0-1 1-1 0 3 1 3 0-3 1 1 0-2 0-1 0-1 2 2 1 1 1 2 0-1 1-2 0 0 2 1 0 3 1 2 2-2 2 1 0-1 0-1 1 1 0 0 1-3 1 3 1 3 0-7 0-1 0 8 1-7 0 1 0-3 1 8 0-1 0 0 1-1 0-2 0-1 0 5 0-2 1 1 0 2 0-7 1-1 0 8 1-1 0-6 0 5 1 2 0-3 1 2 0-6 1 4 0 0 0-4 1 6 0-8 1 5 1 1 0 2 1-8 0 3 0-2 0 2 0 0 1 6 0-1 0-8 0 9 0-7 0-2 0 9 0-3 0 2 1-5 0-1 0 3 1 3 0-5 0 3 0-1 1 1 0-5 0-1 0 6 1-5 0 5 1-2 0-2 0 2 1 3 0-1 1 1 0-1 0-6 0 1 0 4 0 0 0-5 1 4 0 2 1-2 0 1 0-4 1-1 0 2 0 1 0 3 0-2 0 0 0 4 0 1 1-8 0-1 1 8 0-4 0-2 1 1 0-1 1 2 0-1 0 4 0-3 1 1 0 0 0 3 0-6 0 7 0 0 0-2 0-6 0 3 2 5 1 0 1-1 0 0 1-2 0 3 0-5 0 4 1-3 0 2 0-1 0-2 1 4 0-2 0-3 1 4 0-1 0 1 1-2 0 4 1 0 0-6 1 5 0-5 1 1 0 2 0-3 0-2 0-1 1 0 0 9 0-6 0-3 1 1 0 5 0-6 1 7 0 0 0-6 0-1 1 8 1-1 1-4 1 2 1-4 1 0 0 2 1 3 1 1 0 0 0 1 0-1 1-5 1-2 1 9 0-5 0 5 0-6 0 1 1 1 0 3 0-4 0 4 0-7 1 1 0 3 0 4 1-8 0-1 0 1 0 4 1 1 1-6 0 8 0-8 1 4 0 1 0 4 0-3 0-1 1-3 0 2 1 4 0-7 0-1 1 6 0 3 1-9 0 5 0 0 2-1 0 3 1-4 0 3 0-3 0 1 0 2 1-4 0 2 0 1 1-4 0 2 0-1 0 2 0-2 1 1 1-3 1 6 0 2 1-6 1-2-80 11 1 1 1 2 0-4 1 0 0 3 0-3 0 5 0-5 1 5 0 0 1 0 1-2 0 1 0 1 1 0 0 0 0-4 2 8 1-1 0-2 1-5 0 3 1-3 1 6 0 2 1-7 1 4 0 2 0-2 0 0 1 1 0-3 0 1 0-3 0 0 1 5 0-7 1 5 0 0 1 0 1 2 0 0 0-3 1-3 0-1 1 6 1 0 0-6 1 8 1-3 0 3 0-1 0 2 1-9 0 9 0-5 1 2 1-1 2-1 0 2 0-4 1 5 0-7 0 2 0-2 0 0 1 2 0 3 0-5 0 4 0 0 0 0 2 5 0-9 0 6 0-6 1 1 0 8 0-9 1 3 1 2 0 0 0-5 1 1 0 1 0-2 2 6 1-2 0 4 1-7 2 6 0 1 1-8 0 4 0 5 1-8 0 3 0 3 1-3 0 1 1-1 1-3 0 1 0 4 0-4 0 3 0-2 1-1 1 7 0-5 2 4 0-3 0-1 1-4 0 8 0-8 1 0 0 1 0 5 0-6 0 5 1-5 0 9 1-5 0 2 1-2 0-2 2-1 0 0 1-1 0 2 0 3 1-4 0 2 1-1 1 5 0-6 0 4 1-3 0 5 1-6 0 2 1-1 0-2 1 4 0 5 0-6 0 1 1 3 0-4 0 2 0-5 0 3 0 4 0-1 1-1 0 4 0-3 1-2 0-4 0 7 0-4 1 0 0 4 0-7 0 4 1 4 0-5 1-2 1 0 1 2 0 0 1-1 0 1 0-1-64 8 1 2 3-2 1 0 1 3 0 0 2 0 1 2 0-3 1-1 1-1 0 1 0 0 0 3 1-1 1 1 0-3 0 0 4 1 1 5 2 1 1-8 2 6 1 0 0 0 1-4 0 0 0 3 1-3 0 2 0-3 1 4 1-3 1 1 0-3 0 6 1-4 0 1 1 0 0 2 1-2 1 0 0 1 1 0 1 0 0-4 0 5 1 0 0-3 2 2 3 0 4-4 0 1 2 0 1 1 1 1 0-1 2-2 0 2" style="marker:url(#md_g)"/><path d="m714 1049-11 9 18 4 5 7 14-1-12 20 32-3-47 14 5-1 6-5 15 6 7-2 10-3-54 6 3 7 11 0 4 0 1-3 27 3 1-1 13 0-40 9 3 4 33-3 4 1 4 1 1-2 1 3 1 0 3-7-82 15 2-1 9-3 15-1 9-2 42 8 0 1 3-2 3 1 2-5-81 11 2-1 2 1 21 3 5-7 4 1 4 3 4 4 4-8 1 9 10-1 20 0 1-3 8-2 1-1-68 9 12 8 28-7 7-1 7 2 0 3 16-6-21 12 11 1 6-1" style="marker:url(#md_p0)"/><path d="m715 1047-6 8 3-4 15 6-6 11 18-2-25 8 27-1 5-3 21 8 1 1-24 1 23 8 4 0-68 9 7 1 35-6-42 9 7 2 4 5 11-5 16-1 32-2-84 18 9-8 6 5 7 1 4-5 1 2 0-3 1 4 6 4 0-6 20 4 13-3 16 0 3 4 3-2 0 2 3 2 5-2-96 6 14-1 7 6 0-8 2 8 18 1 11-2 14 2 8-4 6-1 2 5 3-7 3 6 3 1 4-5-98 6 11 3 6 1 22-2 2 2 35 3 4 1 18 0 2 0-63 5 2 6 16 0 0-9 19 5 1 1 5 1 12-2 2-3-48 11 27 3" style="marker:url(#md_p1)"/><path d="m704 1049 11 3 6-1 13 28 20-5-9 12 6-5 4 6 11-7-50 11 40 2-50 7 0 3 1-1 3 6 66-6-57 8 43 5 16-3-84 14 6-5 2 7 19-6 2-1 26-1 19 6 5-4 2 3 4 0 4 2-89 3 20 3 1 5 0-7 1 5 13-2 7 1 15 1 2 3 2-3 3-2 11-3 3 1 4 2-46 13 3-7 5 9 4 0 17-8 8 4 12-5 1 5 2-2-56 8 2 2 5 1 19 0 2 2 11-5 3 2 8-3" style="marker:url(#md_p2)"/><path d="m708 1052 5-1 10 6 7 4 24 8-9 9 11 5 3 1 3 5-47 1 4 0 17 8 13-3 4 1 3 3 0-5 3-2-45 16 6 0 28-5 9-2 12 1 5 5 2 1 0-8-79 10 15 2 11 4 0-2 33-4 8 5 15-2-87 15 0-7 3-1 12 7 7-6 0 8 8-2 3 2 8-4 0-1 31 3 1-3 5-4 13 0 0 3-75 11 14-1 1 4 25-2 1 3 6-8 3 6 1-5 3 6 5-3 0 0 5-1 4 5 1-2 1-5-68 10 12 1 1 7 11-5 2 1 2 4 3-5 12-3 4-1 5 4 4 1 3 1 12-3-54 7 6 3 21 1 2-4" style="marker:url(#md_p3)"/><path d="m835 1045 0 1 0 1 0 2 4 0 1-5 2 4 1-1 0 0 1 1 1-4 1 2 0-1 0 4 1-2 1 1-16 3 0 6 0-7 1 9 1 0 2 0 0-6 0 4 0-3 0 4 2-7 0 7 0-5 0 1 1 0 0 5 0-7 1 2 0-1 1 6 0-9 1 0 0 0 0 6 1-5 0 2 1 5 0-3 0-1 0-3 1 4 0-2 0 0 1-3 0 8 0-4 0-1 1 2 0 1 0-5 0 5 0 0 1-6 0 0 1 9 0-2 1-1 0-6 1 2 1 1 0-3 0 8 0-5 0-2 0 3 1 4 0 1 0-5 1 4 0-5 1 2 0-2 1 6 0-4 2 4 0-1 0 1 4 0-31 1 1 3 3-1 1 1 0-2 0-1 1 5 0-5 3 6 0 2 2-4 0 2 2-5 0 0 1 6 1-5 0 7 1-7 0-1 0-1 0 2 0 7 1-7 0 3 1-2 0 5 0-1 1-3 0-3 0 2 0 6 0-4 0-4 1 7 0 1 0-8 0 8 1-9 0 5 1-2 0 0 0-2 1 3 0-3 0 7 0-1 0-4 1 0 0 3 0 0 1 1 0-5 2 3 1 2 1 2 0-3 0-3 1-1 0 1 1 3 0 2 1-3 0 1 0 1 1-4 0 3 0 2 0-4 1 3 1-5 1 4 1-3 0 4 0-5 0 5 0-3 0 5 1-2 1 1 0-3 1 4 1-2 0 0 0 1 0-2 1-3 1 3 2 1 0-2 0-1 5 3 0 0 0 1 2-1 1 0 2 2 2-1 2 0 0 0-48 2 1 8 0-2 0-4 0 4 0 0 0 0 1-3 0 3 0-1 0 2 1-1 0 3 0-4 1 3 0 1 0-2 0-1 1 2 0 0 0-8 0 6 0 2 1-2 0 1 0-2 0 0 0-1 0 0 1 3 0 0 0-1 1 1 0 2 1-2 0-1 3-2 0-2 1 2 1-3 0 2 1-2 0 7 0-6 0 2 0 5 0-1 0 0 0-8 1 8 0-6 0 4 1-4 0 4 0-3 0 2 1-1 1 2 1-1 1-5 0 6 0 3 0 0 1-1 0-3 0-1 0 5 0-4 0-3 0 2 0 2 0-6 1 7 0-2 0 2 1-1 0-5 0 1 1 0 0 3 0-2 0 5 0-1 1-4 0-1 1 7 0 0 1-7 0 2 1-2 0 4 1-2 0 5 0-5 0-4 0 7 1-5 0 7 0-3 0-1 1-1 0-2 0 3 1 0 0 4 1-5 0 4 1-7 1 4 0 2 1-2 0 1 0-6 0 4 1 3 0-1 1 0 0 0 1-4 0 3 0-3 2 3 0 2 0-4 1 1 0 2 0 3 1 0 0-4 0-2 0 6 0-3 2-5 0 6 2-4 0 0 0 3 1-2 2 0 0 3 0-5 1 1 0 1 1 3 2-3 0-1 1 1 0 2 1-4 0 6 1-1 0 1 0-1 1 2 1-1 2 1-66 10 1-4 1-3 0 4 1-2 1 2 0-2 0 0 0-1 1 4 0-5 0 4 1-6 1 0 0 2 0 7 0-9 0 7 1 0 0-6 0 8 1 0 0-3 0 3 0-5 1 5 0-4 1 2 0-6 0 3 1 0 0 5 0 0 1 0 0-1 0-4 0 1 1-3 0 4 1-6 2 9 0-2 1-7 1 4 0-1 1 0 1-2 1 6 0 2 0-1 0-3 1-2 0 5 0-7 0 1 0 4 1-5 0 6 0-7 2 6 0-6 0 3 2 3 0 1 1-6 0 0 1 4 0-1 0-2 1-2 0 5 0-4 0-1 0 4 0-4 1 2 1 4 0 2 0-1 0 0 0 0 2-5 0 7 0 0 0-3 0 1 0 1 0-7 0 3 1 0 0-3 1 5 0-5 1-1 0 9 1-4 0-1 0 1 1 3 0-5 0 1 0 0 1 4 0 0 0-4 0-1 1 4 0-5 0-1 1-1 0 2 2 2 0 2 1-5 0 0 0 4 0 3 1-1 0-5 0 7 0-4 1-3 0 5 0-4 1 1 0-4 0 1 0 5 0 1 1 0 0 1 0-2 1 1 1-2 0-1 0 0 0 2 0 0 1-3 0 0 0 3 0 0 0-2 1 0 0 5 1 0 0-5 0-2 0 3 0 2 1-1 1 3 1-3 1-5 1-1 1 7 1 2 1-8 0 3 0 3 0 2 1-7 0 7 0-1 1-3 0-2 0-3 0 7 1-1 0 0 0 1 1 2 2 0-71 7 1 1 0-3 1-1 0-3 1 1 0 3 1 5 0-9 0 5 1-2 0 4 0 2 0-7 1 5 0-2 0 0 0-4 0-1 0 8 1-2 0 0 0 3 1-3 0-1 1-3 0 4 0 3 0-9 1 9 1-1 0-7 0 3 0 0 0-3 1 8 0-9 0 3 0 6 1 0 0-1 0-3 1 4 1-8 0 3 0 0 0 1 0-5 0 5 2-3 0 5 0 0 1-7 0 4 0 2 0 1 1 1 0-4 0-4 2 3 1 6 0 0 1-5 0-3 1 2 0-1 1 5 0 0 0-2 2-4 0 7 1-5 1 2 1-5 0 0 2 1 0-1 2 9 1 0 1-3 0 3 1-1 0-4 1 3 1 0 0 0 1-5 0 4 0-2 0-2 0 1 0 1 2 0 0 1 0-4 1 8 0-3 0-4 1 6 1-1 0 0 0-7 1 4 0 5 0 0 0 0 1-8 0-1 0 5 0-2 2 1 0-1 0-3 0 0 0 5 1-1 0-4 0 1 1 5 0 3 0-5 0 2 0-1 0-5 0 4 1-4 1 3 0 1 1-3 0 1 0 1 0 5 0 0 1 1 0-9 1 0 0 1 0 1 0 2 0 5 1-7 0-2 1 1 0 0 0 4 0-1 1 5 0-9 1 1 0 1 0 6 0-1 0-6 0 7 0-6 1-2 0 0 0 5 1-1 0 3 0 0 1-2 0-2 0-2 0-1 2 9 0-4 0-3 0 4 0 3 0-7 1-2 0 9 0-6 0 5 1-3 1 3 0-6 1 1 0 0-73 8 1 4 0-3 1 1 0 2 0 2 0-1 0-6 1 5 0-3 0 1 0-1 1-1 1 1 0 5 0-7 1 2 0 0 0 3 0 0 1-3 0-1 1 2 1 0 0 5 1 1 0-5 1 5 0-4 0 0 0-4 1 0 1 7 0-4 0 5 0-4 0-5 0 8 0 0 1-8 0 7 1-5 0 6 1-4 0 5 0-7 1 5 0 1 0-8 0 8 0-7 0 6 1-1 0-6 0 5 0 1 1 2 0 0 0-1 0-1 1-3 0 6 0-6 1 4 0 1 1-6 0 0 0 2 0 3 0-4 0 6 1-6 0 1 0 3 0-1 0-3 0 1 1 4 2-4 0-2 0 3 0-3 1 3 1-3 0 5 1 2 0 0 0-7 1 5 1 2 0-2 0-1 0-2 0 3 0 0 0-5 1 5 0-2 1 4 0-3 1 1 1-2 0 1 0 0 1-2 0 1 0-1 0 2 0 2 2-4 0 4 1-2 0-3 0 5 0-8 1 5 0-4 0-1 0 2 1 0 0 5 0-2 2-2 0 1 0 1 0 1 1 1 0-4 0 0 1-2 0 8 0 0 0-5 0-4 1 7 0-7 0 7 0-3 0 3 0-1 1-2 0-2 1 4 0 3 0-4 0 2 0-1 1-3 0-3 0 1 0 1 0 1 0-2 1 0 0 3 0-2 0 7 0-8 1 1 0 1 0 1 1 2 0 2 1-5 0 5 0-3 0 4 0-5 0 1 0 3 1-1 0-4 0 2 1-1 0 1 0-3 0-2 0 5 1-4 1 0 0 2 0-1 0 0 1 1 1 3 0-1 3-1 1-4 1 9 1 0 0-4 3-4 4 6 0-2 0-1 0-2 0 6 1-2 0 1 0-6 0 1 0-2 0 9 0-2 1-6 1 6 0-7 0 8 1 0 1-3 0 1-89 13 4 0 1-5 0 0 0 4 1-4 0 3 1 0 0-1 0 1 0-6 0 6 0 2 1-6 0 4 0-4 0-3 0 3 1 0 0-1 1-1 1 4 0 3 1-4 0 5 1-1 0 1 1-4 0-1 0 5 1-4 0 0 0-1 1 5 1-3 1 3 0-5 0 1 0 0 1-5 1 7 0-1 1-5 0 4 0 4 0-7 0 0 1 6 0 1 1-7 0 3 0-3 0 7 0-6 1 0 0 0 0 2 0 3 0-6 0 5 1-3 0-3 1 7 0 1 1-5 0-1 0 2 1 2 0-7 0 2 0 6 1 1 1 0 0-8 0 5 1 2 0-8 0 5 1 4 0-4 0-3 0-1 1 0 0 5 0-3 0 2 0 3 1-6 0 4 0 3 1-2 0-4 0 1 0-1 0 3 1 1 0-5 1 4 0 2 0-2 0 3 0-1 0-1 0 1 1-5 0 3 0-6 0 6 0-6 0 0 1 9 0-6 0-2 1-1 0 0 1 4 1-4 0 7 1-6 1 0 1 1 2-1 1 2 1 5 1-5 0 5 0-2 1 3 0-5 0 3 1-6 1 5 0 3 1-1 1-1 2 0 1-1 1-1 0-5 1 6 1-5 1 4 0-4 3 7 1-5 0 1 0 3 0-4 0-3 0 4 1-1 0-2 0-1 0 0 1 4 0-3 0 4 1-2 0 2 0 0 0-4 1 5 1 1 0 0 1-1 0 2 1-4 1 2 0-1 1 1 1 1 1 0 0 2 0-2 1-7 0 8 2 0 1-5 0 4 1-4 0 1 1 2 1 0 1-2 0 5 0-2 1 0 0 1 0 1 1-9 0 0 0 1 0 3 1-2 0 5 1-3 0 1 0-2 0 2 1-4 0 4 1-4 0 0 0 1 0 4 1 2 0-6 0 5 1 0 1-2 1 0 1 2 1 2-102 5 0 2 1-3 0-2 1 2 0-1 0-1 0 3 1-4 0 4 0 2 1 3 0-8 0 8 1-4 1 0 0 2 0 1 0-2 0-5 1 8 0-4 1-4 0 3 0-4 0 3 1 1 0-1 0 1 0 4 1-2 0 1 0-6 0 2 0 2 0-2 1-3 0 6 1 0 0-4 0-2 1 7 0 0 0-5 1 2 0-1 1 2 0-2 0 5 1 0 1 0 0-6 0-2 0 4 1 4 0-7 0 2 0 4 0-2 1-1 0-1 1-2 0 6 0-6 0 6 0 0 0-5 1-2 0 2 0 1 0 0 1 0 0-3 1 2 0 1 0-3 0 1 1 4 0 2 0-5 1-1 0 4 0-5 1 0 0 8 1-6 0-2 1 7 0-7 1 8 0-6 1-1 0 8 0-6 0 6 0-8 1 0 0 0 1 7 0 0 1 0 3-1 0 1 2-7 0 6 1 0 0 1 1-6 1 7 0-6 0-2 0-1 0 1 1-1 0 1 1 6 1-7 0 6 0-1 0 3 0-4 0 2 0-3 1 5 1 1 0-2 0-5 0 4 1 0 0 3 0-3 0 3 1-1 0-2 0-2 2-2 0 3 0-2 0 6 1-3 1-1 0-5 1 4 0 5 2-3 0-1 0-4 0 0 1 3 0 0 0-4 1 2 0 1 0 6 1 0 0 0 0-1 1-3 0 0 0 4 1-9 0 3 1 4 0-7 1 9 1-7 0 2 0-3 2 4 0-2 0 5 0-6 0-1 1 5 0-3 2 1 0-4 0 1 1 0 0 1 1 5 0-3 2 4 0-7 0 5 0 3 0-9 1 9 1-8 2 8 1-9 0 0 1 2 0 1 1-2 0 0 0 3 0 3 1-7 0 3 0 2 0-4 1 5 1-3 0 0 0 1 1 4 0-5 0-2 0 0 0 6 0-5 0-2 0 2 1 5 0-1 0 3 0-6 2 5 0-8 0 2 0 2 1 1 0 2 1 1 1 1 1-2 0-3 0 0 1-2 0-1 0 8 0-6 0 6 0-6 1-3 0 3 0 1 0-1 0 3 1 0 0 1 0 2 0-8 0 0 0-1 2 4 1 2 0 3 0-2 0-4 1 5 0 1 0-6 2-2 0 8 0-5 1-1 0 0 1 6 0-4 0 1 0 0 0-4 0 5 0 2 0-3 1-1 0-3 1 5 0-6 0 7 0-1 1-6 1 6 2 2 0-5 1 5-105 1 1 0 2 0 1 0 4 4 0-1 0-3 1 1 0 1 1 2 0-2 1 2 0 0 0-3 2-1 0 6 0-4 0-1 5-1 0 4 1-2 0 2 1 1 0-5 0 3 2 2 1 2 2-1 1 3 0-3 0 3 1-6 0 6 1-3 0-3 0 6 0-3 1-4 1-2 0 4 0 5 0-1 0-8 0 4 0 4 1-2 0-5 0 3 0 5 1-3 0-3 1 4 0 1 0-2 1-5 0 2 0 5 0-6 1-1 0 2 0 4 1-4 0-2 0 1 0 5 0-2 1 1 0-4 0 7 1-8 0 7 1-7 0 8 0-8 1 8 1-1 0-6 0 3 0-5 1 8 0-8 0 1 0 1 0 2 1 5 1 0 0-1 0-7 0-1 0 3 1 5 0-1 0-2 0 0 0 2 1-2 0-3 0 6 1 1 0-2 0-4 1 2 0 0 0-5 0 3 0 0 1-1 0-1 0 5 0-4 0 3 1 2 0-1 2-6 0 4 0-2 1 4 0 0 0-4 0-1 0 0 0 2 0 0 1 0 0 5 1-8 0 0 0 2 0 3 1-4 0 3 0 5 1 0 0-5 0 3 1-3 0-2 0 6 0-2 1-4 0 5 0-3 0 4 1-3 0-2 1 2 0 4 0-3 1 1 1-2 0 4 0 0 1-4 1 1 0-1 1 4 0-2 0-4 0 2 0 4 2-6 0 2 0 0 0 4 0 0 1-5 0 2 1-3 0 5 0-8 0 4 1-2 0 7 1-7 0 3 0-1 0-3 1-1 1 3 0 5 0-2 0 0 0-6 0 1 0-1 1 8 1-6 1 5 1-3 1 5 0-7 0 6 0-3 1 4 0-5 1 5 0-4 0-4 1 7 0-1 0-6 2 3 1 4 0 1 0 0 0-6 1 0 0 3 0-1 0 1 0-5 0 3 0 5 0-8 0 4 1-1 0 1 0-2 0-2 1 7 0-8 1 4 0-4 1 9 0-6 0 6 0-9 0 6 1 0 0-3 0 1 0 3 1 1 0-4 1-3 1 7 0-8 2 9 1-8 0 7 0 1 1-2 0-5 0 0 0 5 0 0 0-5 1 1 0-3 2 2 0 0 0-2 1 0 1 2 0 4 0 1-79 3 2 1 0 3 1 0 2-4 0 3 0-3 1 5 1 1 0-6 1 5 1-2 1-2 1 0 0 0 1 7 0-8 0 2 0 3 0-2 0 6 1-3 1-1 0 4 0-3 0 1 0 2 0-7 2 6 0-5 1 3 0 2 1-2 0-4 0 2 0-3 0 4 0 1 0-3 0 2 1 0 1 1 0 2 1-3 0-1 1-3 1 6 0-7 0 7 0-1 0-2 1 4 0-5 1 2 1 2 1 2 0-9 0 9 1 0 0-6 1 4 0-2 0-1 1 5 1-5 0 4 0-1 0-6 1 5 0 1 0-3 0 0 1-1 1-1 0 7 1-9 0 0 0 1 0 6 0-4 0-2 1-1 0 9 1-2 0-4 1-1 0-1 1 0 0 0 1 5 0 1 1-2 1 3 1-7 0 1 0-1 0 0 1 6 1 1 0 1 0-1 1-4 0-3 0 8 1-7 0-2 1 1 0 3 0-3 0 6 0-2 1-5 0 4 1-2 1 4 0-2 0-2 1-1 0 4 2 0 0 0 1 4 0-4 0-1 1-3 0 4 0 0 1-3 0 4 0-2 1-3 0 6 1-2 0 1 0-1 1-4 1-1 1 2 2 3 0-3 1-2 0 3 1-1 0-2 0 9 1-1 0-5 0 6 0-3 1-4 0-1 1 0 1 2 0-3 0 6 0 0 0-5 1 4 0-2 0 1 0 3 0-5 0 3 1-1 0 0 0 5 0-2 0-4 1 4 0 0 0-5 0 6 0-4 1 3 0-7 1 0 0 1 2 3 0-1 0-2 0 3-62 6 1 1 0 2 0-3 2 2 1-1 1 0 0 1 1 3 0-2 0-3 1 4 0-1 0 0 1-2 0 2 0 3 0-4 1-2 1 0 0 1 1-1 0 3 0-3 0 0 1 4 0-3 1 0 0 0 1-1 0 4 1-2 1 0 1 1 0-3 0 0 0 4 1-4 0 0 2 0 0 5 0 1 3-3 0 2 0 1 1-4 0 4 0-1 1-3 0 3 0-3 1-1 0 2 0 1 1 2 0-1 0-2 1 0 0 1 0-2 1 0 0 4 0-4 0 4 1-4 0 1 1 2 0-2 2-1 0 1 1 2 0 2 1-3 0 0 0 1 1 1 0-6 0 3 1 2 2-1 1-4 1 5 3-5 0 2 3-2 0 2 1 2 1-4 0 3 0-1 1 1" style="marker:url(#md_g)"/><path d="m868 1080 13 12-39 10 6-2 7 9 7-4 19-3 12 14 4 2 1 1 5-5 7 1-59 14 62-5 0-2 3 4-63 4 5 5 38-1 8 3 2-5 6-1 0 8 1-9 4 6-71 4 65 1 5-1-44 12 27 1 13-3" style="marker:url(#md_p0)"/><path d="m855 1065-1 14 10 20 14-6-27 12-8 13 51 0 11 1 3-7-64 14 14 2 32-3 9 3 4 0 6-6 1 7 1 0-48 6 8-2 11 5 18 1 4-1 5-4 5 1-53 5 13 4 15 4 6-3 9 0 2 1 10-3" style="marker:url(#md_p1)"/><path d="m850 1069 28-3 2 1-6 14 4 3 3-4-1 14 15 0-65 23 24-6 18 15 16-5 6 5 6-3 22 6-68 10 6-7 27 5 0-5 35 4-70 8 33 4 7-2 5 2 2 1 6-5-39 10 37-2" style="marker:url(#md_p2)"/><path d="m885 1089-38 4 53 0-17 9 21 5-64 4 6 1 9-1 42 7 11-2 3-4-78 16 39 1 22-9 18 0 1 7 8 0-44 12 5-6 5 4 4-7 7 3 10 1 5 2-53 10 35-4 7-2 10 6" style="marker:url(#md_p3)"/></g>
<text x="257.6" y="337.5" font-size="12.3" font-weight="bold">d</text><text x="302.6" y="353.5" font-size="7.5" text-anchor="middle" font-weight="bold">IL7R</text><text x="367.7" y="353.5" font-size="7.5" text-anchor="middle" font-weight="bold">CCR7</text><text x="432.7" y="353.5" font-size="7.5" text-anchor="middle" font-weight="bold">TCF7</text><text x="302.6" y="435.2" font-size="7.5" text-anchor="middle" font-weight="bold">GZMK</text><text x="367.7" y="435.2" font-size="7.5" text-anchor="middle" font-weight="bold">MKI67</text><text x="432.7" y="435.2" font-size="7.5" text-anchor="middle" font-weight="bold">HAVCR2</text><text x="302.6" y="516.8" font-size="7.5" text-anchor="middle" font-weight="bold">LAG3</text><text x="367.7" y="516.8" font-size="7.5" text-anchor="middle" font-weight="bold">TIGIT</text><text x="432.7" y="516.8" font-size="7.5" text-anchor="middle" font-weight="bold">LAYN</text><line x1="269.1" y1="540.7" x2="269.1" y2="408" stroke="#000" stroke-width="0.7"/><path d="M269.1 403.2 L267.1 409 L271.1 409Z"/><text x="272" y="579.8" font-size="7.4" transform="rotate(-90 272 579.8)">UMAP_2</text><text x="278.3" y="596" font-size="7.4">UMAP_1</text><line x1="311.8" y1="593.3" x2="412" y2="593.3" stroke="#000" stroke-width="0.7"/><path d="M417 593.3 L411 591.3 L411 595.3Z"/><defs><linearGradient id="pg" x1="0" y1="0" x2="0" y2="1"><stop offset="0" stop-color="#4a50aa"/><stop offset="0.45" stop-color="#7f5fc6"/><stop offset="0.8" stop-color="#d8c8ee"/><stop offset="1" stop-color="#dedede"/></linearGradient></defs><rect x="477.1" y="415.5" width="7.5" height="51.6" fill="url(#pg)"/><text x="480.6" y="413.3" font-size="6.8" text-anchor="middle">High</text><text x="480.6" y="474.8" font-size="6.8" text-anchor="middle">Low</text><text x="473" y="442.5" font-size="6.8" text-anchor="middle" transform="rotate(-90 473 442.5)">Expression</text>
<g transform="scale(0.5)" fill="none" stroke="none"><path d="m1154 703 2 6 0-1 1-1 1-3 1-4 1 3 0 0 1 2 0-2 0 1 0 5 0-4 2-4 0 6 0-2 1-3 0 0 1 1 0 1 2 1 1 1 1 0 0-2 1 4 0-4 0 3 1-2 3-1 4 0-33 11 1 3 1 0 1-2 6-6 5 0 3 5 4 3 1 1 0-3 1-6 1 6 1 0 1-3 3 2 1 1 1-6 1 1 1 6 0-7 2 9 2-1 3-4 0 5 2-4 1 3 4 0 2 0-49 2 5 5 2 4 0-8 2 2 1 5 4-3 2-2 2 1 2-3 1 8 1-7 1 3 1-4 0-1 1 4 1-4 1 9 1-5 2 3 0-2 0-3 4-1 1 5 1-4 3 4 0-2 1-1 1 0 1-1 1 6 0-4 1-1 2 0 1-2 1-1 3 7 1-4 2-2 1 8 4-2 0 0 1-1-64 4 1 3 4 5 0-8 5 1 1 1 1 1 5 3 4-4 2 0 0 2 0-2 4 7 3-9 1 7 3-6 0 8 2-8 5 3 0 4 0 0 0-6 1-2 1 2 1 1 1-1 2-2 4 7 0 1 1-2 0-6 3 7 3 0 1-3 5-2 1 2 0-2 1-2 1 3 0-2 1 0 1 6 1-5 1 4 2-1 0 0 2 0 1 1-64 7 3 1 2 5 1-9 1 2 1 1 5 1 23 3 17-7 1 9 2-5 2-1 6-1-37 9 5 2 1-1 6 3 10 2 8-7 1 1 13 2-60 14" style="marker:url(#me1_0)"/><path d="m1155 705-13 13 24 1 5 0 3-1 11 1-44 8 1 2 2 0 2-1 1 1 2 0 5 0 4-5 3 4 5-1 1-2 3-1 1 1 4 1 0-2 2 4 0-1 2-6 0 6 6-3 2 2 0-5 0 5 3-1 15 3-64 4 2 6 1-5 1 4 0 2 1-7 1 4 1-4 3-1 0 6 2-7 1 9 1-6 3-3 2 3 3 3 0-1 2-5 2 6 3-5 0 1 3 1 4 4 0-1 0 2 1-7 1 2 6-1 4 5 2-5 2 7 1-9 1 2 2 1 3-1 2-1 0-1 1 4 0-3 1 2 3-2 1 2 3-2 1 5 1 1 8 2-75 3 2 3 1 3 1-5 4 0 0 2 1 3 3-6 2 5 0-6 2 7 0-1 1-7 3 9 4-9 10 3 1 0 1-3 0 1 6 6 2-5 10 0 1 7 8-3 2-6 5 1 1-1 1 8 0 1 1-9 0 6 2-3 0 6-63 9 1-6 0 4 3 0 1-3 4 3 1 3 5-1 0-3 1-5 2 1 1 3 1 1 9 0 2-1 0 4 3-4 4-3 1 7 1-6 1 7 2 0 0-2 1 1 0-2 3-1 1-4 2 5 1-6 0 3 2 4 3-2 2-1 3 0 2-2 0 2 1-1 0-1 5-1 1 1-71 9 6 0 1 0 0 1 4 0 5 4 3 3 2-9 0 8 1-4 3-4 7 2 4 2 6-2 1 5 2-6 2 2 11-2 2 8-56 1 36 6 9-6-51 12" style="marker:url(#me1_1)"/><path d="m1148 720 7 1 18 0 28 8-54 4 1 3 20-2 2 1 5 2 1-1 4 0 13 3 1 0 1 0-47 7 8-1 4-1 4-2 10-1 10 3 1 1 1 4 0-8 4 7 1 0 5-2 1 0 2 1 9 1 8-2 1 1 2-1 1 3 2-4 4 3 0-3 2 0-75 14 1-2 2-7 1 8 0 1 1-2 1 0 1 0 1-5 3-2 2 3 0 1 1 4 1-1 1 2 1-2 3 0 3-2 2 2 1 2 0-7 3-1 2 7 1-7 2 2 1-1 6 5 1-7 0 7 0-3 0-2 1 3 2-1 2 1 1 3 0-8 1 5 3-2 0-1 1 1 1 1 2 0 0 5 1-6 2-1 1 3 1 1 1 1 1 0 0-5 0 0 2 1 0 0 1 4 1-1 2-2 0 0 2 0 1 4-71 2 2 4 2-4 2 1 3 7 5-6 0-2 1 7 1-1 1-2 1-2 2-2 0 7 8-3 0 0 6 3 1-5 0 5 1-7 2 9 1-3 0-5 2 4 2 1 0-3 2 2 0-3 1 7 2-9 1 0 1 4 2 1 1 0 4-2 1 2 1-1 2 3 1-4 1-2 1 2 0-3 2 1-67 10 5-1 2 1 2 3 0-2 2 7 2-8 1 5 3-1 2-5 4 2 1 1 2 6 5-7 6 6 9-6 6 1 1 2 6 0 1-5-52 12 6-1 31 7 1-6 2 0 3 0-26 9 21 2 9 0" style="marker:url(#me1_2)"/><path d="m1166 734 31-2-52 11 1 2 15-4 18 4 21 3 4 1 20-2-77 4 8 8 1-6 4 4 2-1 5 1 6 0 8 1 8-6 2 0 1 0 9 2 11 2 0-5 2 5 6 3 3-5-69 13 0 1 1 1 1-2 6 2 6-1 2-1 0 1 3-7 1 0 2 6 2-1 2-2 0 2 6 1 3 0 2-1 0-5 4 1 1-1 0 7 0-8 2 3 4 3 4 2 0-1 2-6 0 0 0-1 1 0 1 5 1 1 1-3 0-1 5 5 1-4 3-1-67 9 1 1 1 2 0-4 3 1 1 3 1 4 3-7 2 2 2 1 0 4 1-4 0-3 2 6 1-5 3-1 1 3 2 0 1 5 0-1 0-1 0 1 0-3 2-3 2 3 2 1 1-4 1 7 7 0 6-4 1 0 0 0 1-3 1-2 1 0 0 0 3 2 2 6 0-4 1 0 2 2 0 2 0-1 1-1-58 8 2 1 2-5 2 6 0 1 2-2 1 3 2 0 1-4 2-2 6 4 1 0 5-3 0 0 0-1 1-1 1 1 4 5 1 2 2-7 1 0 1 6 3-5 0-3 0 2 5 1 4 0 2 0 2 0 1 3 2 0 1-5 2-1 3 7-61 5 5 5 3-4 4 2 10-4 1-1 7 3 3-3 2 0 7 5 5-3 5 5 7-7 2 0-34 17" style="marker:url(#me1_3)"/><path d="m1218 753-33 13 1 2 15-2-47 4 0 9 4-6 0 0 1-2 1 4 1-5 3 4 2 5 3-9 3 8 2 1 1-8 1 2 2 4 0 2 11-9 1 0 3 1 7-1 1 8 3-4 1 2 1-4 2 7 2-4 1 4 0-4 6-2-62 9 5 6 0-7 1 6 3-6 0 4 2-3 4 6 1 1 0-7 3 2 3-2 2 5 1-4 0 2 2 0 0-5 1 1 1-1 2 3 1-1 0-2 4 4 3-2 0 7 2-9 1 2 2 6 1-2 1 2 1 1 0-1 1-3 0-2 1 5 1-5 2 6 5-8 1 2 1 1-59 7 3 6 1 2 0-1 3-3 0-5 1 9 3 0 1-9 7 0 0 5 3 4 2-6 1 5 2-8 0 2 4 0 1 3 2-1 0-3 1 3 1 5 1-7 2-1 0-1 0 2 1-1 0 6 3-3 0-3 1 3 2 3 0 1 0-6 0-1 1 2 1 2 1 2 0-2 5 0 1 1 1-6 2 1-59 12 1-1 10-1 5 1 0 1 19-2 25-1-52 18 9 0 11-6 12-1-18 11" style="marker:url(#me1_4)"/><path d="m1154 764 26 15 29-1-50 11 2 0 2-7 6 7 5-1 2-1 6 2 6-2 4 1 1-5 4 0 9 6 3-1 1-3 1-4-58 17 1 0 0-2 0 1 0-7 1 2 1-2 2 1 0-1 3 6 0-2 1 0 1-4 1 5 0 3 4-1 1-1 1-5 0 5 1-3 0 3 1 3 2-1 2 0 6-2 5 2 0-5 1 6 0-3 4-3 1 3 0-1 0 2 0 0 0-1 1 1 0-6 2 8 0 0 6-5 0-1 1-1 2 2 1-2 0 1 1 5 0-8 0 7 2-6 2 2 4 5-67 7 2-3 2 0 1 0 2-1 0-1 2 8 1 1 1-8 0 0 2-1 1 1 1 1 1 7 3-4 1 3 3-6 1 1 0 0 2-1 1 3 2-4 1 0 2 0 1 0 4-1 0 6 1-1 0 2 1-2 0 1 0-4 0 7 1 0 1-9 0 5 2-3 0 1 4 0 0 0-45 7 4 5 0-1 1 2 1 0 0-6 2 2 1-2 1 7 4 0 1-5 0 0 7 3 8-5 5 0 3 2 1 0 7-2 1 3 1-3 3 2 2 0 4 4-48 4 29 4 0 1 6-5 3 3-25 9" style="marker:url(#me1_5)"/><path d="m1205 789-51 9 2-5 2 6 3-5 5 1 2 4 3-1 5-3 1 3 3-4 3 2 6-2 7 4 1-4 8 0 4 5 2-2 3-1-65 13 3-3 1-2 4 4 1 0 0-1 2-3 2 3 1-1 1 2 1 0 10-7 1 4 0 1 1-1 1-1 9 1 0 2 3-5 5 4 1-1 0 1 0-3 2 1 2-1 3-3-51 19 0-2 3-6 1 6 1-2 1-1 3 2 1-3 1-2 2 4 0 1 1 2 0-1 1 0 1-7 0 6 0 3 2-5 0 5 0-9 0 9 3-2 1-3 0 1 2-3 1 6 3-2 0-2 1-1 4 1 3-1 1 0 3 6 0-2 1-2 0 3 6-4 3 0 1-1 1-3-61 15 2 0 0 4 1-2 10-7 1 8 4-3 2-2 1 4 5-1 0-6 1 4 2-3 1 2 3-3 2 1-29 9 3 6 3-1 15-4 36 1" style="marker:url(#me1_6)"/><path d="m1148 809 7-3 5-1 5 1-23 13 8-2 3-7 2 6 0-3 2 3 0 2 1 1 0-3 1 0 1-2 2 4 3-2 2 1 4 1 0-5 3 5 1-2 8-3 1-1 2 2 13 2 4-4-64 16 3-4 1 2 3-4 4 5 1-1 0 0 2-3 6 2 0 0 2 4 1-4 2-4 3 2 0-3 1 3 2 2 6 2 2 0 4 2 5-1 2-2 3 0 8-3 1 1 0-4 6 7-74 11 3-6 1 3 8-4 1 7 0-7 0-1 2 3 0 6 1-6 2 1 2-4 1 0 2 0 0 0 2 4 3-1 4 4 0-2 1-2 6 2 1-1 2 4 1 0 3-8 1 2 1 2 2 4 0-8 1 0 19 8 4-6-56 15 8-6-20 12" style="marker:url(#me1_7)"/><path d="m1154 807 47 12-59 4 5 6 3-6 3 4 5 2 5-6 9 4 0-6 2 2 0-2 8 5 3-4 1 3 3 4 0 0 3-8 2 0 3 1 7 7 2-2 0-4-74 15 2-3 2 2 2-7 5 4 1 5 1-7 0 5 1-5 1-1 1 5 0-3 2 2 2-2 3 6 1-1 0-4 1 2 0-5 3 3 1-3 2 1 0 0 5 1 0 0 0-1 1 4 2-5 0 1 0 0 1-1 0 8 1-3 1-3 0 1 0 0 1-4 0 6 1-2 1 5 8-5 3-3 13 6 4-6 2 0 0 5 1-4-77 8 8 9 1-7 2 5 4-7 0 1 2 3 1-2 2 3 1 2 0-5 1 2 9 0 1 1 3 2 6-2 0-2 4 1 2 0 0-3 0-1 9 5 0 1 14-3 7 0-82 9 8 1 3 6 10-7 3 0 5 3 13-5 1 3-11 12 13-3-1 36 3-7" style="marker:url(#me1_8)"/><path d="m1201 822-68 15 4-1 0 2 2-1 1 2 0-1 4 0 2-3 7-2 10 4 1 0 7-6 1-1 5 3 4 5 5-6 1-1 4-1 0 1 9 0 1 4 3 3 2-2 0-3-80 13 2 3 0-5 0 2 4-2 0 4 0-3 1 2 0-7 2 3 1 4 3 1 2-6 1 3 0 0 0-5 1 9 0-8 1 6 0-6 1 1 1-2 0 1 3 8 1-2 4-6 0 0 2 2 4 6 1-7 1-1 2 7 2-2 1 0 3 3 3-2 6-1 0-2 7 1 0-2 2 4 0-3 3 4 5 0 0-3 1 3 6-5-82 13 1 2 1 0 1-4 0-4 4 7 2-2 0-2 0-1 1-1 8 5 5 1 1-6 4 5 0 0 3-4 1-2 2 5 1 1 5 2 2-4 0 4 2-6 5 2 2-4 8 0 1 1 0 2 0 3 0-4 1-1 0-1 1 2 1-2 4 3 1-2 1 4 3 0 8-3 0 0 4 2 3-4-85 15 0-1 1 2 0-1 3-5 8 6 0-4 1 4 8 1 0-6 0 1 2 0 1 1 5-3 5 8 1-8 7 9 2 0 4-8 4 7 10-6-55 9 6 0 3-1 1 5 1-2 1 2 21-2 2 2 4-3-21 15 1-3 8-3 3 7 4-4 2 2 4-4 4-1 1-1 12 4 7-4-37 14 5-2 1 4 2-1 14-3 5-1-6 13" style="marker:url(#me1_9)"/><path d="m1214 826-66 12 2-2 21 2-43 7 8-2 10-3 5 3 6 5 1-1 8-5 0 7 9-5 1 2 9 1 3 0 0 2 2-1 9 0 3-2 0-5 5 4 0 1 0-2 0 5-86 9 1-5 2 2 0 1 2 3 3-8 0 5 2 3 1-4 4-2 1 1 5 4 0-2 1-3 1-2 2 2 1 4 1-5 1 2 2-4 4 7 0 0 0-2 1 3 0-3 1 3 2-2 1 2 2-3 2-4 2 5 1 3 0-8 1 2 1-2 2-1 3 2 1 4 2-1 0-2 6-3 2 1 0 6 1-7 0 1 1-1 0 1 4 8 3-5 0-4 0 1 1 7 2-1 1-4 3 2 3-4 0 5 2-6 1 8-87 8 0-6 2 4 3-2 0-1 3 1 1 1 0 3 3 1 4 1 0-5 1 5 1-5 1 1 0 2 2-1 0-1 3 2 1-2 5 4 1-1 1-2 1 1 6 1 1 1 2-2 2-2 0 4 0-8 4 6 0-2 1 0 1 2 2-2 3 4 0 0 2-4 4 0 0-1 6 0 3-1 1 7 1-8 2 2 1-2 1 1 0-2 2 2 4-2 3 5 0-5-77 10 3 6 3 2 1-2 1-5 1 4 2-4 1 0 4-1 0 3 1 3 4-6 0 0 9 3 0 2 4-4 0-1 3 8 4-2 0-6 8 5 2 2 2 2 7-9 3 2 2-1 0 4 10-1-62 12 1-3 1-1 0 0 4 7 0-6 0 4 8-2 0-4 11 8 1-7 1 4 0 3 1-1 1-1 4-5 1 5 1-6 0 6 3 0 2-1 4-2 1 5 4-3 11-3-41 10 2 6 0-6 2 0 0 0 1 4 2-1 0-5 1 4 7 1 0-6 0 2 1 4 1-2 0 1 0-3 1 5 1-4 0 6 1 0 2 0 1-7 0 7 0 0 4-1 2 0 1-3 1 0-17 6 2 0 0 5 0-5 1 8 3-6 2 1 3-4 1 1 1 1 9 5-7 9 9 1" style="marker:url(#me1_10)"/><path d="m1215 803-5 23 1 6 0 0 20 6-90 10 10-2 31 3 11-1 9 1 1 0 6-1 2 1-79 9 11-1 7-1 4 0 3 1 2-4 10 2 7 0 4 4 9 0 1-4 3-1 4 3 0-7 2 5 0 4 1-1 3-2 7-2 0-3 3 3-91 13 1-4 1-1 1 3 0-4 2 5 2 0 2 1 1 1 1-4 1-4 0 6 6-1 0 1 2 2 2-5 2 4 2-2 0-2 1 0 0 0 4 1 0 3 2 2 3-9 0 0 0 3 4 2 0 2 3 0 1-3 8 0 2 3 6-1 3-2 2-1 0-1 3 6 0-6 0 6 3-7 1 8 5-2 2-5 0 4 2 0 1-1 3 2 0-5 7-1-85 12 5-2 2 4 1 1 0-6 7 2 1 2 2-3 1 2 5-1 9 0 4 1 1 3 10 2 1 1 6-3 0-1 1 1 4 2 2-8 3 6 1-6 6 8 2-5 0 0 1-1 1 4 6 0-72 4 1 3 2 2 3 1 11-6 1 0 0 0 3 1 4-1 2 6 2-1 6-3 2 2 4-4 0 3 1 5 1 1 0-1 1-7 0 3 2-1 0 2 0-4 1 5 2-5 1 3 0 3 1-6 2 1 1 1 1 3 1-4 2-2 3 4 1-1 1-3 0 3 2 4 0-4 1 3 1 2 1-3 4 4-52 6 2-1 0-3 0 5 10-5 0 7 2-5 2 6 2-7 1 4 0-4 4 5 0-1 1 1 3 1 1-1 3-1 0 2 0-5 0 0 1-2 0-1 3 1 0 6 3 0 1-3 0 1 2 4 3-9 0 3 1-3-30 10 1 5 1-5 1 7 2-4 0 1 1 0 2 1 1 4 0-6 0 0 2 1 0-2 2 3 0-1 2-4 1 0 2 6 2-2 1 0 0 1 2 1 2 1 1-1-15 4 1 1 8 1 0 4 5 3 1 0 2-4 0-1 2-4 7 8-4 3" style="marker:url(#me1_11)"/><path d="m1209 826 6 3 3-2 4 2-14 6 1 3 1-6 1-2 1 1 0 7 4-3 6 1-11 6 1 6 3 0-34 6 5 0 6 3 8 0 1 1 0-1 2-3 1 1 5-5 1 2 2 7 1-1 0-2 2-5 1 2 3 6-46 1 12 9 6 0 3-5 3 3 6-5 0-2 2 4 1-4 1 4 1 0 0 2 0 2 2 1 6-9-83 14 55-3 3 3 1 5 0-2 3 2 2-1 6-4 0 4 0-2 8 0 4-3 1 6 8-1 3-7-71 10 14 2 1 4 18-6 2-1 3 9 0 0 3-2 0-7 1 5 3 1 6 3 0 0 0-1 0-7 1 4 1 1 2-6 0 4 5-4 8 9-31 2 1 5 0-1 1-5 0 4 3-2 2 1 1 5 1-5 0-3 1 4 0-1 1 6 3-1 1 1 1-1 3-7 0 5 2-3 8-1-42 9 3 1 8 2 0-3 7 3 1 1 1-4 4 1 10 4 1-3 1-1 4 6 3-6 0-2-38 14 9 4 5-2 0-5 1 5 0 0 3 1 3-3 1 2 0 1 0 1 1-2 2-2 1-1 0 0 0 1 2 4 4-1 1-7 7 5 2 4-26 1 2 3 2-3 6 1 3 0" style="marker:url(#me1_12)"/><path d="m1211 828 0 1 0 0 1-5 0 15 1-6 1 0 3 3 0 2 6-8 0 6-13 9 2 3 4-2 5 3 0-8 1 3 0 4 1-1 2-4 2 4 0 1-18 4 1 0 0 7 1-1 1-7 1 3 0 4 3-6 1 4 1-5 0 0 1 6 2-7 0 0 0 9 3-2 5-2-20 10 5-3 2 1 0-2 1 4 2 3 1-3 2-3 1-1 1 7 2-7 1 8 4-2-40 8 12-1 7 5 1-2 3 1 6-4 1 2 2-1 3-3-25 17 2-8 4 4 1 3 1-1 1 2 2-4 1 3 1-3 0-1 1 5 0 0 3-3 1-3 0-2 2 5 0 0 0-4 0 3 4-1 3-3 2 0 0 3-35 14 7 1 1-8 0 1 1 7 2-7 1 6 1-8 0 0 1 7 1-6 1-1 0 3 3 1 3 3 3-6 3 8 2 0 3-9-22 10 4 4 1 0 1 4 0-5 0-3 4 7 2-3 2 0 2 5 1-1 0-4 0-2 1 2-23 8 1 0 2 3 2 0 2 3 0-6 4-2 1 6 1-3 3 2 1-2 4-3 3 8 7 1 6-8-32 9 7 2 2 0 2-1 0 1 4 0" style="marker:url(#me1_13)"/><path d="m1209 827 3-2 3-4 2 5-7 5 2 0 6 4 4 1 1 3 1-2 0 1 0 1 3-4 1-2 0 5 1-7 2 4 2-1 0 2 2 3 2-7 7 1-34 11 2 1 4-5 4 6 0-2 0-4 2 7 1 1 1-6 5 4 1 2 0-8 2 1 4-1 2 7-27 10 3 2 0-2 1-6 0 2 2 2 2-4 0 5 2 1 1-7 1 9 2-6 0 3 0 0 1 1 1 0 0-7 1 7 2-6 3 0-23 9 2 2 2 4 3-4 1 7 2-3 0-4 2 5 1-2 1 0 2-5 2 1 3 2-18 12 3 4 0-1 1-6 2 7 0-8 2 0 1-1 0 5 3 2 0-3 0-4 1 0 5 5 0-1 0 2 1-6 0 4 1-3 7 4-26 7 0-2 1 3 4 6 0 0 2-2 3-3 1 5 1-2 1-7 0 8 2-7 1-1 2 5 0 3 7-7-30 10 2 8 1 0 7-7 3 3 3 0 3-5 0 7 0 2 1-6 1 3 1 3 18-7-42 16 4-2 4-2 2 2 2 0 0 1 1 2 0 0 2-6 1 0 0 4 1-3 2 1 0-5 2 7 3 1 3-4 0 5 10-9-34 11 0 5 4 2 0-4 1 0 1 1 3-2 1 4 0-3 2 3 1-6 0 3 1 0 1 3 1-3 1 3 2-4 4-2 1 3 4-2-29 9 3 2 2 0 2 1 6-3 4 5 2-3 2-2 3 2 0 1" style="marker:url(#me1_14)"/><path d="m1217 823 15 4 0 2 6 0 2-2 0 1-23 9 7-3 3 3 1-4 1 0 3 4 2-6 0 5 1-4 1 1 0-1 0 6 2-4 0-2 0 3 3 4 2-5-30 14 5 1 5-4 1 1 0 3 2-7 5 5 3 0 0-1 1-3 2-3 1 2 2-2 1 0 2 5 1-1 2 2 3-6-31 12 1-2 8 8 1-4 1 0 4-4 2 5 2 1 1 2 1-3 2 4 1 0 1-6 0 2 1 2 5-5-23 17 2-9 1 3 2 6 1-8 2 2 0 5 1-4 1 5 1-7 1 7 1-2 2-7 6 9 3-6-32 16 6-6 3-1 1-2 4 8 0-5 2-1 0 3 0 0 2 2 2-5 2 6 0-1 0-4 3 0 3-2-27 16 3-6 3 2 2 2 3 2 0-3 1 1 1 0 0-1 1 4 1 0 5-7 1-1 0 8 3 0 7-1 0-1 2-1-22 14 1-8 1 2 2 2 2 3 1-4 1 5 0-9 0 3 2 5 0-4 4-3 5 7-30 5 3 4 1-1 4 3 1-2 3 1 4-4 3-1 1 4-24 7 2-3 4 4 1-3 1 3 1-3 1 4 1 1 3-7 1 8 0 1 0-2 1-6 1 0 3 2 1 6 2-8 1 0 1 2 2-2 3 2-19 10 3 1 3-1 4-2 0 4 0-1 4 0" style="marker:url(#me1_15)"/><path d="m1246 828-14 11 9 0 2-8 0 3 0-4 1 2 3 6 1-7-33 9 16 8 6-3 0 2 4-4 5 4 1-5 1-1 1 5-23 7 0 4 6 1 4-7 2 0 1 0 0 1 1 4 3-5 4 1 1 1-14 9 1 4 0-2 1-3 4 5 1-2 0-3 0 7 0 1 1 0 1-8 1 7 3-6 2-2 2 8-22 8 5 0 0-4 1 6 2-3 0 0 3-2 0 3 0 2 2-4 0 5 1 0 5-6 1 3 1-4 7 2-28 6 3 0 0 2 3-1 1 0 2 4 1 3 1-4 0-4 1 4 0 3 1 1 2-5 0-1 0 3 4 3 1-3 0 2-17 12 0-9 3 4 1-3 2 4 4-5 1 2 1 0 0 6 4-3 1 3 0 1 4-1 0-3-25 12 11-7 2 0 1 3 2 0 2 4 3-7 1 1 0 6 1-1 1-3 0 6 2-8-25 11 5 2 1-2 3-1 1 0 3-1 3 6 1-5 0 1 1 0 1 0 2-2 9 2-27 11 8 0 1 1 1-4 0 1 5-1 4 1 1-1" style="marker:url(#me1_16)"/><path d="m1241 832 3 4 2 1 0-4 2-1 1 1 1 5-9 4 1 4 5-1 1 2 0-5 0 16 3 0 1 1 2-1 1-6-12 9 0 3 1 2 0 3 2-9 2 5 1 2 0-4 0-2 2 6 0-2 1 0 0-4 1 7 0 0 1-5-18 12 6 4 4-9 7 6 2 1 4-3-18 10 3-2 3 1 3 2 0-4 3 3 1 5 0-9 2 6 0-5 0 0 2 0-16 15 5-2 2 5 2-7 2 4 0-2 2 5 0 0 1-1 0-2 2 0 3-3-17 8 2 3 2-2 1 5 1-3 3 0 4 4-12 7 4-3 0 1 2 0 0 0 0 2 2-5 0 1 1 5 0-2 1-3 1 1 1 0 2 2 1-3-16 11" style="marker:url(#me1_17)"/><path d="m1243 833 10 0 2 3 1-2-19 11 15-3 2 6 2-6 1 6 6-4-12 8 1 3 0 3 1-6 2 3 0-4 1 2 0 4 7-2-12 14 0-8 0 8 1 0 1-7 0 0 3 1 2 5 1-5 5 0 1 6-21 2 7 3 5 3 1 1 0-8 1 0 0 2 1-2 0 9 3-6 1 5 2-1 1 2-19 10 3-3 0-1 1-3 12-1 10 2-19 15 5-7 8 2 2 0-19 14 10 1 1 1 0 0 0-5 2 3 0-1 0 0 1-1 1 3 1-4 13 1-28 9 8 2 1-6 3 0 2 0" style="marker:url(#me1_18)"/><path d="m1258 828 2-2 3 3 1-3-11 7 1-1 3 7 1-2 6-7 0 0 1 0-12 14 0-3 0 4 4 3 0-2 0 1 1-4 3 2 0 0-9 10 2 3 0-4 1 4 0-6 0 0 1 1 0 5 1-8 0 6 1-3 0 0 1 2 1-5 1 0 1 2 1-1 3 5 6-1-19 6 3 8 0-2 2-1 1-2 1 4 2 0 1-5 1 4 2-4 1 5 3-1 1-5-15 8 3 0 4 7 4-6 0 2 1 0 0 0 0-1 1 7 1-7 5 3-18 13 5-5 4 0 0 0 1-3-13 10 5 4 7 2 1-5 2 1 4 7 7-8 3 6-25 10 1 0 3-2 0-3 2 3 1 3 3-3 1 4 2-8 0 0-14 9 1 3 7-1 4-1" style="marker:url(#me1_19)"/><path d="m1257 826 3 3 8-1 4-2-21 11 2-7 4 8 0-2 3 1 3-7 1 5 0 0 0 0 3 2 3 1 2-6 3 6-21 11 4 0 0-8 0 2 2-3 1 1 0 6 1-7 2 6 1-6 0 4 1-3 1 1 1 4 3-4 0 2 1-2 0 5 1-1 0 1 3-5-26 11 6-1 3 2 3 5 0-3 3-1 1 2 1 2 1-1 0-5 1 1 1 3 1 1 6-6 3 5-22 6 4 1 1 0 0-3 3 7 0-1 1-6 0 7 0-3 7 4 1-8 5 4-14 13 3-7 0 8 0-7 2 0 0 6 1-4 0 1 3 0 3 1 3-6-12 16 3-3 0-2 3 3 2-3 1 4 5 1-15 6 1-1 4-1 0 9 2-6 1 4 2-3 3 2 8 0 0 2-24 9 6-4 2-3 0 7 2-3 4 2 2-5 0 4 1-5 5 1 3 3-10 9-10 7" style="marker:url(#me1_20)"/><path d="m1262 826 4 0 1 3 3-6 2 4 0-4 1 5 2 0-14 11 6-5 2-2 1 1 1 5 0-2 0-3 2 2 1-2 0-1 1 4 0-2 0 1 0 4 1-3 0 1 0 0 1 2 0-8 1 1 5 5 0-1 3 3-26 2 5-1 0 6 1-4 3 1 1 1 3 2 0 2 0-1 0-4 1 6 0-5 1-1 1 0 0 2 2-5 1 1 0 0 2 0 1-1 0 2 0 4 0-4 0 1 0-3 1 1 0-1 2 0 0 7 1-4 0 6 0-5 2 1 0-2 2 2-22 11 3 0 3-5 1 4 0-1 0-3 1 3 1 3 0 1 5-2 0 2 1 0 0-8 0 3 1-2 1 6 0-6 1 6 0 2 0-7 0 6 1-1 1-5 0 7 0 0 1-4 1-2 1 6 0-4 1 3 1-5 1 6 0-7 0 1 1 6 0-1-28 11 7 0 0 0 0-7 0 1 2 3 0 3 3-4 0 1 1 2 0-5 1 6 1-4 1-5 1 3 0-2 1 7 0-5 0 1 0-1 1-3 1 3 1 5 1-8 1 1 1 1 1 0 0 2 1 1 0-3 0-1 0 7 1-8 0 2 1 2 0 0 0-1 2-3 0 8-27 4 3 5 0-1 2-5 3 8 1-5 1-1 0 4 1-6 10 5 1 0 1 1 1-5 1 3 2-1 0 5 5-6-27 9 4 5 1-6 1 3 0-3 2 5 1 1 9 2 2-9-18 19 3-1 1-6 0 1 2 1 0-3 1 5 0 0 1 1 1-2 2 3 1 1 0-8 3 4 1 2 0-1 0-6 0 2 3-2 0 7 2-2 0-2-23 10 3 2 1 2 2 2 1-6 2 4 1-1 1 2 0-8 0 5 1 0 0 1 1-1 0 0 0 0 1 0 2-4-11 12" style="marker:url(#me1_21)"/><path d="m1227 1013-7 8 9 7 1-5 3-3 0 7 1-7 5 8 4-4 0 4 1-1 0 2 1-4-25 8 4 4 0-5 1-2 0 7 4 1 4-6 2 6 0-5 1 1 0 5 3-4 1-5 2 3 0 5 1-1 0-4 0 3 1 2 0-7 1 5 2 2 0-4 1 2 0-3 0 2 0-5 0 6 1-5 0 1 1-1 0 0 1 7 0-5 1 5 0 0 1-2 2-3 1 5 1-1 0-2 2 4-37 6 2 0 6-1 1 2 0-6 0 7 1-3 1-4 2 4 2 3 5 2 2-2 2-5 1 2 0 4 2-5 1 4 1-5 0 5 0 1 2-7 1 8 0-9 0 9 0-9 1 6 1-6 1 3 1 0 0 6 0-1 2-2 2 2 1 0-47 6 7 3 0 0 2-4 1 0 6-1 1 1 0 5 1 1 0-3 0 0 2-3 1 6 1-9 0 3 1 5 1 1 0-3 0 1 0 2 3-4 0 4 1-1 0 1 0-1 4-5 1-3 7 0 1 1 1 2 4 2 0-5 2 2 0 4 0-3 2 3-43 12 13-1 1-7 0 1 2 1 0 3 2-3 1 6 3-7 1 7 1-5 0 2 2 2 0-3 1 4 0-4 3-1 2 3 1-6 8 2-45 12 0-1 12-3 1 7 5 1 6-8 0 9 3-3 3-6 1 7 0-2 1-1 0-2 0 4 0-6 0 4 1 1 1-2 1 5 0-4 1-4 1 2 1 7 9-1-29 8 1 1 2-6 0 0 1 5 1-1 4-4 1-1 2 2 7 6 2-7 0-1 1 7 0-7 4 5 3 2 2-7 1 1 0 4 2-5 2 7-15 3" style="marker:url(#me2_0)"/><path d="m1207 1017 4-1 8-1 1 3 5 1 1-2 3 0 2 1 0 0 5 1-29 3 6 7 1-4 8 4 3-1 2-8 0 3 8 2 2-2 1 4 8 2-36 5 1 1 1-5 0 9 5-1 3 1 0 0 0-9 2 2 2-2 1 3 3 5 2-6 5 0 1 6 2-8-33 12 11 2 4 0 1-1 2-3 1 7 4-3 1-1 10 2 7-3 6 1 4 3-65 4 16 0 3 0 1 5 1-5 5 8 1 1 0-2 2-6 0-1 1 2 4 6 0 1 2-9 1 9 0-9 11 3 1-1 3 7 12-8-44 17 3-7 1 1 2 5 2-2 1-2 0 6 1 0 2-6 0 2 0 0 1-5 0 9 10-5 3 0 0-4 1 1 0-1 5 8 4-6 3 4 5 1-57 10 16-2 1 2 0-1 2 3 2-4 1-1 9-1 0 6 1-5 0 3 3-1 2-2 2 0 1 2 10 0 6-1 0-3 2 5 3-1 9-2 2 5-50 3 4-2 4 6 1 2 0-5 1 5 0-7 6 6 1-7 1 3 1 1 3 3 5-6 4 6 1 0 5-2 1 1 2-4 1 6 3-3 3-4 2 8 1-1-50 2 18 3 4-1 3 0 6-2 1 0 1 4 1-4 3 0 7 5 2-4" style="marker:url(#me2_1)"/><path d="m1203 1019 4-1 9-1 0 1 4-5 3 0 0 3 1-2-20 14 1-2 0-5 1 6 6-2 3-1 1 4 3-4 2-2 0 6 1 0 4-7 1 1-24 13 3 4 1-7 3 3 1-1 0 2 2 0 2-2 5 5 1-7 0 3 1-2 1 3 1 1 0-1 6 3 1-4-39 14 11-6 1 3 2 2 1-7 4 4 0 3 1-3 7-4 1 4 5-5 3 5 3-2-45 12 3-5 3 1 3 4 4 4 0-2 2-7 1 4 4 0 0 0 4 2 1 2 0-3 1-5 1 1 3 7 1-2 1-4 0 5 2-7-39 14 17 0 1-4 1 1 1-1 10 3 1-3 2 5 1 3 2 0 0 1 1-6 0 4 0-5 0 3 1 1 2-5 2 2 3 0-34 9 2 2 6-2 4 6 0 0 1-8 3 3 1-3 2 3 0 3 1-5 0 2 0 5 0-4 1 4 1-5 1 5 0-5 1 1 0-2 0 5 1-7 2 0 2 5 0 3 3 0 0-3 1-5 1 1 3 8 0-1 3-1 4 2 1-5-34 12 3-1 2-4 1 8 6-2 0-4 4 2 1 3 0-4 0 4 2-7 1 7 4 0 0-3 6 3 0 1 4-3 1 2 3-4 17 3-40 3 1 8 1-7 0 5 5-2 7 1 2-3 1-1 1 0 1 4 0 1 4-1 1 2 0-5 2-1 0 4 0 3 2-3 0 1 2-1 5 0 4-2 3-1 0-1 1 1 0 3 6-2 2 1 1 2" style="marker:url(#me2_2)"/><path d="m1204 1013 1-2-14 12 4 3 1-1 0-3 1 6 2-3 0 4 2-2 0 2 2 0 0-5 1 1 1 3 4 0 7-5 0 0 0 3-28 8 4-1 0-2 2 4 0-4 1 2 0-3 2 8 0-3 1-4 3 3 1-3 1 5 1 3 1-9 2 7 0-6 1 3 2 5 1-8 1 6 4 0 1-4 3 4-34 5 6 6 10-5 0-3 1 0 0 8 2-1 4-6 0 4 2 2 2-5 1 0 5 2 6-4-54 19 10 0 6-1 3-8 5 2 3 7 6-4 0-5 4 2 2 7 2-1 1-8 0 1-27 18 0 0 3-6 3 2 0-4 1 1 4 5 1-2 2-2 5-1 0 5 3-6 0 8 1-3 1-4 4-2 1 2 1 2 13 2-59 5 16 8 8-8 4 8 0-9 1 1 1 0 1 2 1 0 1 5 1-3 1 4 1-9 13 1 3-1-27 13 1-1 1 3 1-4 1-1 1 4 1 5 1-1 0-6 5 5 2-5 2 0 3 0 2 7 0 0 1-2 4-5 0 0 3-2 7 8-53 5 6 2 23-2 4 1 0 1 4-1 0 3 4-7 0 1 1 2 1 6 0-9 1 4 4 1 1 1 0-1 0 0 1-2 3 3 1-4 12 0 2 3 0 4 2-3 0 1 1-4 2 6 1-2 0 0 0 2 4-4 3 1 0-1 2 1 0 2 4-6 6 5-49 3 33 1 0 1 1 0 5-2 2 0 6 1" style="marker:url(#me2_3)"/><path d="m1175 1029 12 0 2-1 7 0 2 0 3-2 3-6 4 7 3-1 2-3-49 16 11-6 4 5 3 1 0-1 1-8 0 3 1 2 0 3 3-4 1 0 2-1 2 5 0-3 6 4 0-5 1 3 4-6 14-1-51 15 2-2 2 2 1 1 3 2 1-5 1-3 2 5 0 4 2-3 2-1 3-4 1 3 0 0 3 0 2-2 1 0 1 0 2 6 0 1 6-8 1 5 2-3 7 6 0-5-45 6 3 1 1 3 6 3 4-6 1 6 1 2 1-7 0 5 3-3 1 0 2 3 2-3 1 0 2 2 0-6 2 3 10-1 4 0-36 16 1-3 0-4 5 5 2-6 1 4 1-4 3 6 3-5 0 4 4-5 2 8 1-3 0-2 4 3-31 12 3-4 0-4 0 3 3 0 0-3 5 5 5-5 0 6 1 1 3-3 0-3 3 7 3-4 1-1 0 6 3-6 0-1 3 7 4-9 1 8 6-6-38 12 4-4 0 8 2-1 1-7 4 0 6 1 4 5 1-1 1-4 5 6 6-4 1 2-24 5 11 0 0 4 1-2 2 2 1 2 4-5 1 8 1-6 1 6 0 0 3-4 2 4 0 0 5-4 1 4 0-9 0 5 1 2 1-5 0 5 0-4 1 6 2-3 0 2 6 1 0-1 2 1 2-4 9 2 12 2 5 0-47 1 5 2 3 0 22 1 2-2 3 0 5-1 12 0 3 1 3 2 0-1 3 0" style="marker:url(#me2_4)"/><path d="m1184 1029 3-1 3 0-27 6 2 3 1-2 4 4 2 0 0-1 1-1 4-2 2 4 2-6 0 5 1-6 1 3 5-2 0 0 5 3-36 11 5-5 1-1 4 1 4 2 1 3 2-4 3 0 1 2 0-3 1 0 0 3 0-3 1 4 1 1 1 1 1 1 1-7 0 3 2-1 5-3 7 1 4-2-46 15 7 0 1-1 0 2 1-1 0-1 1-2 0 5 1-7 2 3 1 4 6-5 1 6 1-7 0 3 1 4 3-5 1 3 3-5 1 8 0-4 0-5 7 8-35 5 3-2 1-1 1 6 1-5 2-1 1 9 0-3 0-3 2-1 0 1 1 2 3 1 0-6 3 9 4 0 1-8 0 4 1-2 2 3 3 1 1-3 9 0-36 10 0-1 1-3 6 3 0 1 5-2 7 0 2 1 2 5 14-4-30 12 0 1 1-3 1 1 0-4 0 7 1-7 0 8 0-3 3-6 2 0 0 8 1-1 3-5 4 2 8 2 9 0-32 8 4 5 1-6 1 5 3 0 2-7 17 5 2-3 6 2 1 4 2 0 1 0 0-3 7 2 2-1 6 2 3-2 4 0 5 2-59 2 25-1 6 8 9-6 4 0 8 1 1 2 2-2 3 3 2-4 1 0 3 2 0-1 1 3 1-2 2 1 8-1 0 2 7-1 4-4 6 2 4-1" style="marker:url(#me2_5)"/><path d="m1163 1038 2 1 7-4 2 1 5 0 2-4 2 3 3 4-35 3 1 1 1 5 4 1 1-9 0 8 1-7 0 5 3-5 0 8 2-7 0 7 0-1 2 1 1-6 1-2 6-1 1 2 3 2 9 0-30 15 0-3 1 0 2-4 3 3 0 4 0-9 0 5 1 3 0 1 2-1 8-6 5 2 0-1 2-3-21 11 0 8 0-4 3-5 1 6 0-3 2 2 0-2 0 6 2-8 0-1 0 0 2 9 3-9 3 6 3-1-22 10 1-4 0 5 1-2 1-1 1 3 1-1 3-5 0 1 2 0 0 7 0-6 1 0 2 4 2 0 5-5 1 5-10 8 1-1 1-3 1 9 3-2 1-6 4 6-16 6 0 0 1 2 7-5 1 0 3 6 1-4 0 5 1 0 0 0 1-1 1-3 1 4 0 0 2-6 3 3 12 0 8 3-41 3 0 1 1-1 2 4 9 0 0 3 7-6 2 3 2-3 1 0 0-1 3 1 8 6 5-1 2-6 3 1 4 3 2-4 4 6 0 1 2-2 0 0 2 0 1 3 0-5 3 2 1-3 0 1 3 2 3-1 1 2 4 1 6-7 2 6 3-1 3-2 3 1 2 2 4-1 8-4 5 4" style="marker:url(#me2_6)"/><path d="m1166 1039 4-5-8 15 2-1 4 1 6-3-18 5 2 1 5 0 3 5-1 9 7 0 0-5-9 12 11 0-16 20 2 1 2 3-16 8 2-2 6 1 5-2 7 6 1-3 1-2 2 6 2-8 8 7 0-4 3-4 5 9 1-6 6 6 0-3 1 3 1-1 0-2 8 2 3-3 1 2 4 2 2-3 0 3 0-3 1 1 5 0 5 1 2-4 5 0 1 5 1-3 0 2 13-3 12 0 2 2 3-1 4 0 4-2-147 13 1-1 14-1 12-5 2 2 15 0 70-2-108 10-16 17 6 1 2-5 21 4 5 5-1 14 10 12" style="marker:url(#me2_7)"/><path d="m1159 1096 5 1-28 10 3-3 7 5 0-8 1-1 3 9 5 0 9-2 4 0 3 2 11-3 15-1 1 4 5 0 3-1 3-2 6 2 2 1 1 0 5-1 3 1 2 0 12 0 10-2 23-1 5 1 1 0-157 10 3-2 8 3 1-6 3 0 3 4 1-1 0 4 2-8 1 1 0 2 0-4 3 1 3 1 2-1 0 5 2-5 2 4 4-5 5 3 7-2 3 6 8-7 5 0 8 5 2-4 1 2 3-3 6 0 1 1 0 1 7-2 1 3 11-3 5 1 3-1 11 0 5 0 9 0-140 16 2 2 1-4 0-2 1 6 1-4 2-3 1 4 1-4 0 1 1-1 1 0 4 4 5-2 1 0 1 3 1-2 0-1 3 0 0 5 1 0 23-6-52 12 0 3 3 0 3-1 1 3 0-8 1 1 1 7 0-4 3 4 0-9 1 8 2-8 3 1 3 5 0 2 9-6-27 15 10 2 1-7 1 1 1 4 11-3-13 8 4-1 6 1 4-1 1 2 0-3 0 3 0 10 8-3 7 15" style="marker:url(#me2_8)"/><path d="m1136 1108 7-5 1 6 19-8 7 6 6 1 52 1 4-1 28 1 7 0 15 0 1-1-159 9 0 1 4-2 1 3 1-4 2-4 0 5 4 3 2-5 1 4 0 1 1-2 2-1 1 1 0-7 1 5 1 0 3 2 4-3 2 5 1-9 2 0 1 7 0 1 1-5 1 3 2-3 3-2 2 8 1-7 7 6 2-6 1 1 4 0 6-3 0 9 5-9 2 8 1-2 2-1 1-2 0 0 1-2 2 2 7-2 1 3 0-1 3-1 2 0 0-2 1 3 2 0 2-1 2-2 6 2 4 1 2-1 1 1 7-2 0 2 4-1 16-2-142 10 5 7 2-3 0-4 2 7 1 2 1-9 1 8 0-6 4 5 0-3 2 2 0-1 0-4 1 0 1 0 0 8 2-4 2-2 0 2 0 0 1 0 3 2 2-7 1 2 0-2 1 2 1-2 10 1 0 2 6-1 4 6 2-5 2-2 0 7 11-8-67 18 1-4 2 0 4-1 2-1 1 1 0 0 3-1 0 4 2 1 2 2 0-3 1-1 0 3 2-2 0-3 1 3 0-3 1 6 1-8 0 5 1-1 3-2 0 1 0-3 2 8 1-8 0 8 0-2 2-1 5 3 0-8 1-1 4 2 2 1 1-3 1 1-46 14 2-1 4 3 0 0 1-2 0 2 2-5 1 0 2-1 1 7 1-8 3 7 0-6 1 6 1 0 5-1 2 0 2 0 3-4 0 5 0-6 2 0 1 8 5 0 4-5 3-2-41 10 2 0 3 2 1 1 2 0 1-2 3 2 1 0 3-4 2 6 1-1 1-3 1 4 0 2 6-5 0 1 1 2 0-6 2 4 7-3-15 8 0 4 1-4 2 3 1 5 2-6 3 3 1 3 1-2 1-4 0 1 1 4 2-4 3 6 3-5" style="marker:url(#me2_9)"/><path d="m1131 1115 1 4 29-2 0 2 0-6 9 4 3-1 1 3 3 0 4-6 3 6 4-9 5 9 0 0 1 0 3-3 1-4 1 4 5 1 0-4 7 4 12-3 0 2 6-1 0 0 1-4 1 2 1-1 28 0 1-2 6 2 2-2 6 3 2-2 4-1 3 0 0 1-164 18 16-2 5 2 2-4 11 4 2-5 0-1 1 0 1-1 2 4 0-1 1-4 0 2 0 4 4 2 1-9 2 8 1 1 2-6 0 3 0-2 1-1 1 2 1 4 0-6 1 3 1-5 0 2 3 4 1 1 10-6 8-2-81 10 2 5 1 0 4-4 16 3 2 0 1-2 2 2 1 5 2 0 5-2 1 0 0-1 1 3 0-1 10-7 1 2 2 6 1-9 2 1 2 4 1-1 1-2 6 3 7-2-67 14 4-6 6 0 1 7 1-7 0 8 2-2 3-3 7 4 0-4 4 2 3-3 3 4 1 0 1-2 1-3 1 2 1-2 11 4 2-2 1-3-47 9 2 1 1 0 3-1 1 5 7 2 10-1 3-4 2 1 4 1 2-4 4 1 3 1 2-2 1 4 5 4 5-2-31 6 1 1 0-2 2 2 1-1 1 4 5-6 0 9 1-2 1-5 2 0 1 3 3 1 4 0-11 4 1 2 4 5 0-2 4-3 2 3 1 5" style="marker:url(#me2_10)"/><path d="m1192 1117 2 2 2-2 4 2 5-6 4 6 0-6 12 3 4 2 3-3 3 2 8-1 1 1 4-2 0 0 3 3 0-1 3-2 9-2 0 0 1 2 0 1 1-2 6 0 10 0-135 13 24 2 0 0 6-2 3 2 1-3 0-3 0 6 1-2 1-3 0 4 2 0 1-8 2 6 16-6 8 2 4 0 5-1 13-1-65 15 5-5 0 5 1-4 1 1 1 1 3 4 1 2 6-4 0 4 0 0 20-6-62 11 17 4 3-2 2 0 1-1 2 4 3 0 0-9 1 7 1 2 1-7 2 1 1 1 0-2 0 4 2-5 1 7 1-8 1 0 0 0 1 8 2-8 1 8-49 3 2 4 1-4 19 1 0-2 3 9 1-7 0 2 3 1 1-5 0 9 8-3 0-2 3-2 3 6 1-6 3-2 1 8-41 3 19 5 1-4 6 7 1-1 0-1 1 1 6-8 1 3 2 5 0-3 2 0 6-3 2 4 6-1-28 8 3-3 2 8 3-6 3 1 1-1 2 3 2 4 0-9 3 8 1 0-7 4 10 3" style="marker:url(#me2_11)"/><path d="m1208 1118 15-1 7-1 2 2 4 1 4-1 2-1 0-3 2 1 4 1 4 2 5 0 2-5 5 0 3 3 11-2 1-1 0 1-106 8 3 5 16 1 7-1 6 2 0 0 0-4 4 0 1-3 10 0 3 0 5-1 7-1 4 0-70 16 6 3 2-1 2-5 1 6 6-3 1-4 3 1 2-1 6 7 8-6-41 9 3 1 6 4 1-1 2-2 2 5 2 0 0-6 2 0 2 4 0-2 0-4 2 4 1 3 3-8 2 5 1 4-27 10 3-6 3-3 4 5 2 3 0-5 0 4 1 1 1-6 2 0 1-2 4 9 0-4 0-5 1 0 0 2 3 3 0-2 1 0 3 5 0-7-32 18 0-5 11-3 0 4 2 0 1-3 0 2 1-3 3 7 1-1 3-3 2-2 1 6 1-1 2-7 1 3 1 4 2 0 1-2 8 4-30 5 5-3 2 2 2 2 0 4 3-2 3 2 4-4 5-5-17 11 3 2 2-3 1 4 7 2-3 5 12 3" style="marker:url(#me2_12)"/><path d="m1231 1119 2-2 20 2 3-3 2 0 4 1 0 1 1-2 3 0 9 1-75 11 9-3 2-1 3 2 3-2 2 0 2-1 11-2 3 0 13 0-63 15 2 1 5 2 4-8 2 1 0 1 0 5 2-3 3 3 1-4 0-1 1-2 1 1 0 2 1-1 4 6 5-8 2-1-43 18 4-2 2 1 1 1 0-5 3 6 1-6 1-1 3 0 4 4 0-4 3 4 0-2 0-4 1 8 8-7 6-1-39 16 5 2 1 1 0-1 2-5 4 2 3 3 0-7 2 5 2-5 1 0 0 1 3 7 1-1 10-5 4 4-28 8 0-3 3 5 4-4 1 3 0 0 1-6 1 0 2 6 0-6 0 3 1 5 4-5 0 3 0-3 2 4 1-3 1-2 3 7 0-8-22 16 3-4 2 0 12-2 2-1 3 5-23 6 2 1 1 1 0-2 2-1 2 2 0 2 1-4 0 5 0 4 1-1 1-2 1 1 2-2 1-5 0 8 0 0 2-3 1-5-11 11 9-1 4 3 0-1 1 2" style="marker:url(#me2_13)"/><path d="m1230 1118 23 0 1 1 2-1 22-1 5-1 4 2-91 9 6 1 4-1 1-1 4 0 4 3 2-8 4 5 9 0 6 1 0-6 11 2 5 0 0-2 1 0 6-1 0 4 6-4 5 1 1-1-64 16 0 2 2-1 0 1 0-6 2 3 0-5 0 6 1-6 0 7 1 1 2-8 3 1 1 8 2-4 7-4-51 17 26-6 1 2 2-3 1-1 2 9 3-9 4 6 1-6 1 2 2-2 3 1-27 17 5-3 0 2 6 0 3-1 0 3 3-2 5-2-33 14 10-6 5 6 0-7 2-2 4 7 1-7 4 5 1-5 1 1-26 11 1 2 8 3 10-4 2 3 2-1 0 0 4 3 4-5 3 2-36 8 4 5 2-4 4 3 2 2 3-9 0 6 8 0 0 0 1-3 1 4 10-3-7 12 2 1 7-7" style="marker:url(#me2_14)"/><path d="m1264 1117 5 2 2-2 1 0 11 1-75 8 6 3 5 0 13-2 0 1 1 0 1 1 9-6 0-1 0 3 0 1 1-3 3 0 0 0 3 1 3 1 2 0 3 0 2-4 6-1-73 17 14-2 5-3 1 6 0-3 1 1 2 2 3-1 1-7 2 6 1-3 2 0-28 14 6 2 2-4 2-2 3 6 0-5 3 3 4-6 1 8 0-1 1-3 0 1 3 3 1-1 2-2 0-4 4 3 0-3-39 9 7 7 6-6 2 2 3 4 3 0 2-6 1 4 1-2 0-2 0 7 2-9 1 3 1-3 0 0 5 0 2 4-26 10 4-3 0-1 0 1 1 3 2 5 1-6 2-1 3 0 3 0 4 2 2 4 4-5 1-1-26 13 1 2 0-4 2 0 2 0 2 4 0-2 4 4 3-5 1 0 1 1 1 4 7-5-28 15 4-1 2-4 4-3 3-1 1 5 0 1 0 0 1 2 2-8 1 5 1-5 1 6 0 0 1-1 0-3 1 1 1 1 2 5-7 9 4-8 1 7 3-1 3 2 0-1 1 2 3-3-7 6" style="marker:url(#me2_15)"/><path d="m1287 1119-55 10 6-1 3-1 3-2 3-3 0 3 5 0 5 1 2-3 11-1 3-1 7 0 8-1-69 15 13-5 2 2 2 5 6-2 2-5 2 0 0 1 1 3-40 9 3-1 1 3 5 4 1-7 5 0 1 0 1 5 1-1 1-5 1 7 1-5 3 4 0 1 0-5 1-3 4 0 5 1 3-1-30 13 5-3 0 5 1 2 2 1 3 0 0-6 1 5 0-2 1-5 1 3 0 0 0 1 1-2 0 3 0-3 11-2 1 4-29 7 7 4 0-3 1 1 3 5 0-3 0 0 1 1 0 3 1-5 0 4 1 0 1-1 5-5 7-2-33 16 4-6 1 0 0 9 4-3 1-2 3-4 2 4 1-3 0 5 2-2 0-4 0 6 1-4 2 3 3-3 2-1-19 10 0 5 0 0 3-1 3-2 9-1 13 1-25 12 8-5 1 3 3 4 11-2" style="marker:url(#me2_16)"/><path d="m1234 1128 11 0 7 0 2-3 0 4 2-4 1 3 1-1 1 2 1-2 6 0 1-1 1-4 1 2 0-3 3 1 4 3 0-2 7-3 0 1 0 1 2 2 1-2 3 0-51 17 8-2 11-2 2-1 2-2-38 10 4 1 0 0 0-2 5 4 0 2 2-4 2 0 6 0 0 1 1-2 1 0 1 6 1-2 2-4 1 6-21 6 0-3 2 3 1-4 3 0 5 6 8 3 5-9-28 14 1 0 0-2 0-2 4 2 0 4 9-1 1 1 1-1 0 0 1 3 3-2 2-6-28 14 9 1 0-4 2 0 2-1 10 1-23 9 7 7 4 2 7-2-17 10 5-6 5-1 1 4 1 4 1 1 4 0 15-6-22 7 1 2 6-1" style="marker:url(#me2_17)"/><path d="m1257 1125 1 1 0 0 7 1 7 0 1 0 2-5 0 2 1 1 0 2 0-4-35 8 2 2 6 3 0-1 0 3 2-2 1-5 0 3 1-2 0 4 3 0 0-2 7-2 2 4 0-3-28 13 2-5 0 4 4-2 1-2 0 1 0 1 2-1 0-1 1 6 1-5 2 5 3-6 0 5 3-5 0 8 4-2-28 10 3-1 12 0 4-4 3 2 3-1 0 5 4-5 2 6-29 4 0 1 3 2 2 1 6-1 2-5 1 3 1-4 2 7 2-4 3 1 2-2-24 8 0 4 6 2 2 3 3-8-6 15 3 2 3 0 3-6 1 5 0 1 4-6 5-1-30 18 4 0 0-1 4-3 2 2 5-7 1 0 2 3 2 3 1-1 3-1 1 0 2-2-27 8" style="marker:url(#me2_18)"/><path d="m1267 1124 4 5 4 0 2 0 1-3 1 0 12 3 1-1-42 7 4 4 2-5 11 1 1-2 0-2 0 5 7-6 10 1-36 17 2-3 1-5 2 9 0-9 2 3 0 4 1-2 1-4 0 8 1-6 3 6 0-9 4 9 0-6 5-2 17 1-44 12 3 0 4-4 0 5 0-5 1 1 1 7 0-6 2 1 1 0 1-1 0 2 0-2 1-1 0 8 0-7 1 0 0 1 3 3 3-6-22 14 5 1 2-1 5-1 1-3 2 1 0 0 0 0 4-1 3 2-25 15 12 0 2 0 1 2-14 2 9 6 2-2 0-1 2-1 1 1 1 2 0 3 3-9-20 10 7 7 2-5 1 6 1-2 0-3 3 2 3 2 1-6 0 5 1-2 0 0 2 1 8-3" style="marker:url(#me2_19)"/><path d="m1274 1128 7 1 4 0 3 0 1-3-23 10 0 1 0-1 5 2 0 1 10-7 2 2 1-4 4 7 0 0 3-5 0 4 1-5-40 14 1 2 5-2 2-4 1 3 0 1 1 3 0 1 2-4 2-3 1 5 0 0 1-7 2 9 16-4-33 10 1-3 1 3 3-5 2 3 2-3 1 8 1-7 6 2 1 2 4 1 1-5-19 11 2 6 2-4 1-4-12 18 11-5-20 16 14 0 4-8 10 4 4 3-23 11 2-2 1-3 3-2 0 6 3-2 1-3 1-1 0 1 0-1 1 1 0-2 4 1 0-2 1 3 4-1" style="marker:url(#me2_20)"/><path d="m1265 1136 5 3 4-2 5 2 0 0 3-2 0-6 0 8 1-6 2 5 1 0 3-2 1-4 0 6 6-1 0 2 0-4 1-2-43 11 8-3 4 2 1 6 2-6 0 1 1 2 1 2 2 0 0-7 2 1 0-2 0 9 0-1 1-4 2 2 1 1 3-4 0 2 0-3 0 2 0-1 1-2 0 4 0 0 1-5 0 0 1 5 1 1 1 2 1-7 1 2 2 4 0-1 0-4 1 4 0 0 2-1 0 4 1-9 1 7 0-4 1 4 0 0 1-4 1-2 0 7-35 9 3-3 2-4 1 1 3 0 3 3 0-1 0-3 1 0 0 0 1 0 1 3 2-3 0 3 1 1 0-1 3 5 0-4 1-3 3 6 1 2 0-8 1 2 0-1 1 3 1 4 0-9 0 8 0-7 0 0 1 1 0 3 1 2 2-6 1 0 1 8-36 4 14-2 2-1 1 4 2-3 1 5 1 2 1 0 3-4 0 3 0-3 1-1 1 5 0-4 2-3 0-1 0 9 0 0 1-9 0 6 0 2 1 0 0-7 0 2 1 2 0 4 1-2 1-1 2-5 2-1-42 19 3-2 12-5 15-1 6-1-34 10 2 4 1 5 0-7 0-2 8 11-32 9" style="marker:url(#me2_21)"/></g>
<text x="512.8" y="345.7" font-size="12.3" font-weight="bold">e</text><text x="535.9" y="347" font-size="9.6" fill="#222">Trajectory 1</text><line x1="536.8" y1="354.8" x2="536.8" y2="446.3" stroke="#777" stroke-width="0.9"/><line x1="534.3" y1="354.8" x2="536.8" y2="354.8" stroke="#777" stroke-width="0.8"/><text x="532.2" y="354.8" font-size="7.4" text-anchor="middle" fill="#333" transform="rotate(-90 532.2 354.8)">4</text><line x1="534.3" y1="385.2" x2="536.8" y2="385.2" stroke="#777" stroke-width="0.8"/><text x="532.2" y="385.2" font-size="7.4" text-anchor="middle" fill="#333" transform="rotate(-90 532.2 385.2)">2</text><line x1="534.3" y1="415.6" x2="536.8" y2="415.6" stroke="#777" stroke-width="0.8"/><text x="532.2" y="415.6" font-size="7.4" text-anchor="middle" fill="#333" transform="rotate(-90 532.2 415.6)">0</text><line x1="534.3" y1="446.3" x2="536.8" y2="446.3" stroke="#777" stroke-width="0.8"/><text x="532.2" y="446.3" font-size="7.4" text-anchor="middle" fill="#333" transform="rotate(-90 532.2 446.3)">−2</text><line x1="542.4" y1="469.2" x2="665.3" y2="469.2" stroke="#777" stroke-width="0.9"/><line x1="542.4" y1="469.2" x2="542.4" y2="471.7" stroke="#777" stroke-width="0.8"/><text x="542.4" y="478.8" font-size="7.4" text-anchor="middle" fill="#333">−4</text><line x1="573.4" y1="469.2" x2="573.4" y2="471.7" stroke="#777" stroke-width="0.8"/><text x="573.4" y="478.8" font-size="7.4" text-anchor="middle" fill="#333">−2</text><line x1="604" y1="469.2" x2="604" y2="471.7" stroke="#777" stroke-width="0.8"/><text x="604" y="478.8" font-size="7.4" text-anchor="middle" fill="#333">0</text><line x1="634.7" y1="469.2" x2="634.7" y2="471.7" stroke="#777" stroke-width="0.8"/><text x="634.7" y="478.8" font-size="7.4" text-anchor="middle" fill="#333">2</text><line x1="665.3" y1="469.2" x2="665.3" y2="471.7" stroke="#777" stroke-width="0.8"/><text x="665.3" y="478.8" font-size="7.4" text-anchor="middle" fill="#333">4</text><text x="609.5" y="487.3" font-size="7.6" text-anchor="middle" fill="#222">UMAP_1</text><text x="523" y="399.5" font-size="7.6" text-anchor="middle" fill="#222" transform="rotate(-90 523 399.5)">UMAP_2</text><text x="539.4" y="500.2" font-size="9.6" fill="#222">Trajectory 2</text><line x1="536.8" y1="491.5" x2="536.8" y2="583.3" stroke="#777" stroke-width="0.9"/><line x1="534.3" y1="491.5" x2="536.8" y2="491.5" stroke="#777" stroke-width="0.8"/><text x="532.2" y="491.5" font-size="7.4" text-anchor="middle" fill="#333" transform="rotate(-90 532.2 491.5)">4</text><line x1="534.3" y1="521.8" x2="536.8" y2="521.8" stroke="#777" stroke-width="0.8"/><text x="532.2" y="521.8" font-size="7.4" text-anchor="middle" fill="#333" transform="rotate(-90 532.2 521.8)">2</text><line x1="534.3" y1="552.3" x2="536.8" y2="552.3" stroke="#777" stroke-width="0.8"/><text x="532.2" y="552.3" font-size="7.4" text-anchor="middle" fill="#333" transform="rotate(-90 532.2 552.3)">0</text><line x1="534.3" y1="583.3" x2="536.8" y2="583.3" stroke="#777" stroke-width="0.8"/><text x="532.2" y="583.3" font-size="7.4" text-anchor="middle" fill="#333" transform="rotate(-90 532.2 583.3)">−2</text><line x1="542.4" y1="604.7" x2="665.3" y2="604.7" stroke="#777" stroke-width="0.9"/><line x1="542.4" y1="604.7" x2="542.4" y2="607.2" stroke="#777" stroke-width="0.8"/><text x="542.4" y="614.3" font-size="7.4" text-anchor="middle" fill="#333">−4</text><line x1="573.4" y1="604.7" x2="573.4" y2="607.2" stroke="#777" stroke-width="0.8"/><text x="573.4" y="614.3" font-size="7.4" text-anchor="middle" fill="#333">−2</text><line x1="604" y1="604.7" x2="604" y2="607.2" stroke="#777" stroke-width="0.8"/><text x="604" y="614.3" font-size="7.4" text-anchor="middle" fill="#333">0</text><line x1="634.7" y1="604.7" x2="634.7" y2="607.2" stroke="#777" stroke-width="0.8"/><text x="634.7" y="614.3" font-size="7.4" text-anchor="middle" fill="#333">2</text><line x1="665.3" y1="604.7" x2="665.3" y2="607.2" stroke="#777" stroke-width="0.8"/><text x="665.3" y="614.3" font-size="7.4" text-anchor="middle" fill="#333">4</text><text x="609.5" y="623.3" font-size="7.6" text-anchor="middle" fill="#222">UMAP_1</text><text x="523" y="537.5" font-size="7.6" text-anchor="middle" fill="#222" transform="rotate(-90 523 537.5)">UMAP_2</text><path d="M587.9 356.7C588.3 360.8 590.3 374.5 590.5 381.1C590.7 387.7 589.9 390.9 589.2 396.4C588.5 401.9 586.9 409.2 586.1 414.3C585.3 419.4 584.5 423.3 584.6 427.1C584.7 430.9 585.0 434.1 586.6 437.3C588.2 440.5 590.9 444.2 594.3 446.3C597.7 448.4 602.8 449.6 607.1 450.1C611.4 450.7 615.6 450.2 619.9 449.6C624.1 449.0 628.8 447.9 632.6 446.3C636.4 444.7 641.2 441.0 642.9 439.9" fill="none" stroke="#111" stroke-width="0.8"/><path d="M649.5 432.2 L642.7 435.6 L645.6 439.6Z" fill="#111"/><path d="M621.1 520.9C619.6 521.8 615.8 523.7 612.2 526.0C608.6 528.3 603.7 531.5 599.4 534.9C595.1 538.3 590.0 542.3 586.6 546.4C583.2 550.5 580.6 555.4 579.0 559.2C577.4 563.0 576.5 566.4 576.9 569.4C577.3 572.4 579.0 574.8 581.5 577.1C584.0 579.5 587.5 582.0 591.8 583.5C596.1 585.0 602.0 585.8 607.1 586.0C612.2 586.2 617.7 585.9 622.4 584.8C627.1 583.7 633.1 580.5 635.2 579.6" fill="none" stroke="#111" stroke-width="0.8"/><path d="M648.3 569 L641.8 571.8 L644.4 576Z" fill="#111"/><defs><linearGradient id="sp" x1="0" y1="0" x2="0" y2="1"><stop offset="0" stop-color="#5e4fa2"/><stop offset="0.1" stop-color="#3288bd"/><stop offset="0.2" stop-color="#66c2a5"/><stop offset="0.3" stop-color="#abdda4"/><stop offset="0.4" stop-color="#e6f598"/><stop offset="0.5" stop-color="#ffffbf"/><stop offset="0.6" stop-color="#fee08b"/><stop offset="0.7" stop-color="#fdae61"/><stop offset="0.8" stop-color="#f46d43"/><stop offset="0.9" stop-color="#d53e4f"/><stop offset="1" stop-color="#9e0142"/></linearGradient></defs><rect x="651.4" y="356.3" width="4.6" height="61" fill="url(#sp)" stroke="#333" stroke-width="0.4"/><line x1="656" y1="356.6" x2="657.6" y2="356.6" stroke="#333" stroke-width="0.5"/><text x="659.8" y="359.2" font-size="7.4" fill="#222">10</text><line x1="656" y1="368.8" x2="657.6" y2="368.8" stroke="#333" stroke-width="0.5"/><text x="659.8" y="371.4" font-size="7.4" fill="#222">8</text><line x1="656" y1="381" x2="657.6" y2="381" stroke="#333" stroke-width="0.5"/><text x="659.8" y="383.6" font-size="7.4" fill="#222">6</text><line x1="656" y1="393.1" x2="657.6" y2="393.1" stroke="#333" stroke-width="0.5"/><text x="659.8" y="395.7" font-size="7.4" fill="#222">4</text><line x1="656" y1="405.3" x2="657.6" y2="405.3" stroke="#333" stroke-width="0.5"/><text x="659.8" y="407.9" font-size="7.4" fill="#222">2</text><line x1="656" y1="417.2" x2="657.6" y2="417.2" stroke="#333" stroke-width="0.5"/><text x="659.8" y="419.8" font-size="7.4" fill="#222">0</text><text x="648.2" y="386.3" font-size="7.4" text-anchor="middle" fill="#222" transform="rotate(-90 648.2 386.3)">Pseudotime</text>
<g transform="scale(0.5)" fill="none" stroke="none"><path d="m72 1317 0 0 0-1 0 3 0-1-1 4 0 3 0-5 0 8 1-1 0-7 0 0 0 2 0 5 0-7 2 9 11-3 38-3 26 6 78 0-156 2 0 2 1 6 0-3 0-6 1 0 0 8 1-5 0-3 0 4 1-1 67-3 106 5-177 14 0-4 0 4 0-4 0-2 1 3 0-5 0 2 0-2 0 8 0-6 0-2 0 7 1-1 2-1 0 0 0 1 1 1 1-6 1 7 4-2 10-5 6 3 13-5 11 1 14 2 4 3 26-1 17-3 6 4 13 2 1-6-132 15 0-7 1 5 0 0 0 0 0-5 0 4 0-2 0 1 0 2 0 3 0-4 1 3 1-6 1-1 0 8 1 1 1-8 2 0 0 6 0 0 0 1 1-2 1 3 0-1 2-6 0 2 3 4 2-2 1 3 1 0 0-2 3 2 0-7 1 1 1 6 1-7 6 2 5 3 29-1 41-6 1 2 5 6 5-6 4 5 1-1 0 2 20 0 36-6 3 1-180 7 0 2 0 0 0 1 0 5 0 1 0-5 0 5 0-6 1 4 1-7 0 0 0 8 0-5 1 3 0-5 0 1 0 1 1 2 0 0 0 3 1 0 0 0 0-1 1-7 0 9 0-3 1 2 0-6 0 5 0-3 0-2 0 4 1 1 0 1 0-2 0 2 0 0 1 0 0-5 0 6 0-2 1-1 0-3 0 0 0 1 0 0 2 4 0-2 0-2 0 4 0-1 0-4 1 6 0-5 0 1 0 4 1-6 0 3 1 2 0-2 0 3 0-1 0-6 0 5 1-2 0 1 0-1 0 0 3 0 0 4 0 0 2-2 1 2 1-3 0 2 4-2 0 2 4-1 0 2 1-1 1 0 2-1 1 1 2-8 16 7 5 0 23-1 9 3 5 0 2-2 4 0 3-4 1 2 1 4 4-4 0-1 3-2 1-1 0 2 2 3 1 0 0 2 2-4 2 4 31-2 93 0 0-6-247 12 0 2 0 2 0-4 1-1 0 5 0 0 0-6 0 0 0 0 0 9 0-2 0-4 1-2 0 4 0-3 1 0 0-1 1 4 0 1 0 2 1 1 0-9 0 8 0-5 0-3 1 0 0 4 0 5 0-9 0 7 1-5 0 5 1-3 0 2 0 0 0-4 0 2 0 4 0-2 0-1 0 4 0-8 1 8 0-5 1 0 0-1 0 0 0-2 1 3 0-2 0 3 1-4 0 5 0-5 0 6 0-1 0-3 0 6 1-3 0-3 0 4 0-2 0-1 0 1 0-5 1 2 0 7 0-5 0 5 0-7 1 7 0-6 0-2 0 5 0-3 0-2 1 5 0 3 0 0 0-3 0-5 0 3 1-1 0-3 0 2 0 0 0 6 1-5 1 5 0 1 0-4 0 4 0-4 1 2 0-4 0 3 1 2 0-4 0 4 0-2 0 1 1 2 0-6 0-2 0 6 1 2 0-9 0 4 1 2 0-2 0 2 0 2 1 1 0-7 0 3 0-2 1 4 0 2 0 0 0-5 0 4 1-3 0 2 0-5 0 2 0 5 0-6 0 2 0 2 1 0 0 0 0-2 1 4 0 0 1 0 0-9 0 9 1-9 0 1 1-1 0 8 0-2 1 0 0 3 1-9 1 6 0 0 2-1 0 4 0-5 1 4 0-3 1 4 1-2 0 2 0 0 1-2 1-1 1-6 0 9 5 0 1-4 0-1 0 3 0-5 1 5 2 1 0 1 1-1 1-4 2 4 4 0 1-3 0-4 4 8 5-1 0 1 7-7 6 2 1-4 2 4 1 4 2 1 1-4 2 4 7-2 1 2 4 0 2-1 1 0 3 1 1-3 0-4 0-2 4 3 0 4 0-1 0-2 0-2 1 7 1 0 0-5 1-4 2 5 2 4 3-8 0 6 0 1 9 0 0 0 7-3 8 2 6-6 26 0 24 6 37-4-242 8 0 1 0 3 0 3 1 1 0-9 0 5 0-5 0 5 0 3 0-5 1-1 1-2 2 0 0 8 0-8 1 4 0-2 0 6 1 1 0-9 0 0 1 6 1 2 0-3 0 3 1 1 1-2 0-7 1 9 2-9 0 3 0-1 1-1 0 7 1-2 0-6 0 3 0 2 0-3 1 2 0 0 0-2 1-2 0 6 0-4 0 0 1-2 0 5 0 3 1 0 0-2 0 0 0-6 0 0 0 0 0 9 1-2 0-7 0 3 0-3 0 9 1-1 0 1 0-3 0-2 0-3 0 4 1 2 0-5 0 0 0 1 1-3 0 8 0-1 0 0 0 0 0-6 0 7 1 1 0-7 0 7 0-2 0-1 1 0 0 0 0-5 0 4 0-5 0 1 1 8 0 0 0 0 0-3 0 3 1-9 0 3 0 0 0 4 0-5 1 3 0-3 0 4 0-1 0-3 0 0 1 6 0-6 0 1 0 4 0 2 1-7 0 5 0-7 0 9 0-6 1-2 0 3 0 2 0 0 0-6 1 9 1-8 0 7 0 1 0-5 0 0 0 1 0 4 0-8 1 0 0 7 0 1 0-1 0-7 0 8 0-3 1 2 0-1 0-5 0 7 0-8 0 5 1 2 0-5 0-2 1 2 0 1 0 4 0-1 1 1 0-2 0-5 0 7 1-1 0-3 1 0 0 4 0-2 0-4 1 7 0-9 0 2 1 5 0-3 0 1 0-1 1 1 0-5 0 5 0 3 0 1 1-5 0-1 0 4 0 1 1-2 0 3 0-2 0-3 1 3 0-1 0 3 1-5 0-1 0 3 1-3 0 3 0 0 1-1 0-2 0-2 0 4 1-2 0 5 0-3 0 2 0-5 0 1 1-1 0 7 1-5 0 1 1 3 1 0 0-1 1 1 0 0 0-4 1 4 0 0 0-2 0-1 0 4 1-3 0 3 0-7 0 3 0 0 1 3 0-2 1-5 0 8 1-1 0-1 0-1 1-3 0 6 1 0 0-2 1 0 0-1 0 2 1-7 0 2 0 6 1-2 1-1 0 1 0-3 0 5 1-4 0-3 1 4 0-5 0 0 0 7 1 1 2-2 0-3 1-1 0 6 0-5 1 1 1 2 1-4 0 5 0 0 0-7 0 5 1 0 0 0 0-3 1 2 0-1 0 2 1-1 0-1 1-1 1 0 1 6 1 0 0-5 0 2 0 1 0 1 0-5 1 4 1 1 0-4 2-3 0 5 1 0 0 1 1 0 0-5 0 3 0 4 2-1 0-7 1 8 0-2 0 1 0-3 1 0 0-3 1 4 0 2 0 0 2 1 0-4 0 4 0 0 1 0 2-2 0-3 0 3 0-6 1 5 1-2 0 4 0-7 0 8 1-1 0-8 2 8 0-6 3 3 0 2 0 0 1-6 1 1 0 7 0-6 1-2 0 6 0-2 0 4 1-3 0-3 0 6 1-5 0 4 1-7 0 8 1-3 0 2 0-3 0-2 0 2 0 4 0-5 1 2 1-2 0-3 0 5 1-2 0 3 2-2 1 1 0 2 2 0 0 0 0-2 1-5 0 0 0-1 0 4 0 4 1-6 0 0 0 2 0 1 1-2 0-1 1 4 2-3 0 0 4-2 1 1 0 6 1-1 0 0 0 0 0 0 1-5 1 1 0 0 0 0 1-1 1 6 0 1 1-1 0 0 2-2 0 1 2 2 1 0 1 0 1-5 2 4 0-7 0 6 1 1 2-4 1 0 4 3 0 1 0-5 1 6 0-1 1-3 3 2 0-6 1 8 0 0 5-8 0 8 1-4 2 3 1 1 4-7 1 3 4-1 3 2 1-5 1 4 11 4 3-2 1 1 33-2 2 3-235 9 0-1 0 0 0-6 0 6 1-4 0 0 0 5 0-7 0 1 2 1 0 1 0 1 2-5 0 0 2 0 0 2 3 4 1 2 2-8 0 4 3-4 1 5 0-5 2 0 3 5 0 2 1-2 0-3 1 0 0-1 1-1 1 1 0 4 0 0 1-4 0 0 0 1 0 3 0 3 1-7 0 4 0-1 0-3 0 1 1 0 0-2 0 5 0 1 0-1 0-3 1 6 0-7 1-1 0 9 1-2 0-5 0 0 0-1 0 7 1-6 0-1 0 0 1 5 1-4 0-1 0 0 0 7 0-3 0-4 0 6 1 2 1-6 0 0 0-2 1-1 0 0 0 6 0-6 1 1 0 1 0-2 0 9 1-8 0 6 0 0 0 1 1-1 0 1 0-1 1-2 0 4 0-7 0 3 0 3 0-2 1-6 1 8 0 0 0-5 0-2 0 0 1 0 0 4 0 1 0 1 0-7 0 1 0 3 1-4 0 0 0 5 0-5 0 3 0 2 0-2 0 4 0-7 0 7 0-5 0-1 1 1 0 6 0-6 0 5 1-7 0 5 0 3 0-7 0 8 1-6 0 0 0 5 0-7 0 0 0 7 0-5 1-1 0 6 0-6 0 3 0-1 0-1 0-1 0 1 1-2 0 7 0-2 0 2 1-3 0-5 0 6 0-1 0-4 0 0 0 4 0 2 0-7 0 2 0 0 1 2 0 3 0-3 0 4 0-5 1 1 0 3 0-3 0 5 1-3 0 2 0 1 0-3 0-4 0 6 0-4 1 5 0-7 0 6 0-1 1 2 0-6 0-3 0 5 1 0 0-4 0 1 1 2 0 2 0 1 0-2 0-5 1 0 0 4 0-3 0 6 1-3 0 4 0-4 0 3 0-2 0-4 0-1 0 2 0 7 1-9 0 2 0 7 1-3 0-1 0-3 1 1 0 0 0-3 0 7 0-6 0 8 0-8 1 4 0-2 1 5 0-1 0 1 0-1 0 1 0-4 0-1 1 5 0-4 0-4 0 5 0 2 0-6 1 3 0 1 0 1 0-6 1 8 0-3 0-1 0 0 0 2 0 2 1-4 0 3 1-7 0 7 0 2 1-2 0-7 0 0 0 8 0-2 0 2 0-8 1 8 0-6 0 6 0-8 1 6 0 3 0-2 0-7 0 0 0 6 0 0 1-5 1 8 0-3 0 2 0-6 0-2 0 4 1 3 0-3 0-3 0 4 0-2 0-1 0 2 1 4 0-3 0 1 0-6 0 9 0-1 0-3 1-3 0 6 1-5 0 0 0 0 0 6 1-9 0 7 0-6 0 3 1 5 0-8 0 0 0 2 1 6 0-5 0 3 1 0 0-5 0 5 1 1 0-2 0-1 0-5 2 6 0-3 1-1 0 7 0-3 0 0 0 0 0 1 1 2 0-7 0 6 0-1 1-7 0 8 0-4 0-2 1 4 0 0 0-2 1 4 0-6 0 3 0 3 0-1 1-3 0-1 0 6 0-5 0 1 0 4 0-3 0 3 1 0 0-3 0-4 0 0 1 0 1 5 0-3 0 2 1 2 0-7 0 4 1-1 0 4 0-2 0 2 1-2 0 0 0-4 0 0 0 2 1 0 0 3 0 0 1 1 0-2 0 0 1-1 0-4 0 4 0-5 0 8 1-3 0-3 0 6 0-6 0 7 0-5 0-3 1 3 0-1 0 0 1 5 1-5 0-1 0 6 0-5 0 6 0-2 0-6 0 3 0 3 0-7 0 6 1 2 0 1 0-2 0-3 0 2 0 3 1-6 0 4 0 2 1-1 0 1 0-5 0 3 1 2 0-6 0 5 0-5 0 2 0-2 0-1 1 5 0-3 0-3 0 5 1 3 0-7 0 5 0-6 0 2 1-2 0 5 0 0 0 2 0-8 0 9 0-1 1-4 0 5 1-8 0 1 0-1 1 0 0 1 1 1 0-3 0 1 0 7 0 1 0-5 0 5 1 0 0-1 0-4 0 1 0-2 2 6 0-5 0 3 0-2 1 0 0-5 0 9 1-1 0-5 0-1 0 5 1 0 0-3 1 2 0-1 0 1 0 2 1-3 0-3 0-2 0 1 0 2 1 4 0-1 0-4 0 3 0 3 0-8 1 6 0-3 0 6 0-7 0 7 1-9 0 0 0 3 0 2 1 1 0-3 0-3 0 6 0-6 0 2 1-1 0 6 0 1 0 1 0 0 1-1 0 0 0 1 1-9 0 4 1 3 0-5 0 2 0 1 0-1 0 2 1 1 0 1 0-8 0 3 1 6 0 0 0-3 1 2 0-2 0-6 0 7 1-7 0 1 0 8 0-5 0 4 2-2 0-2 0-3 1 6 0-6 0 1 0-2 0 9 1-1 0-8 0 5 0-4 1 8 1-2 0-7 0 8 0-8 0 5 1 1 0 1 1 0 0 0 1 2 0-6 1 0 0 1 0 1 0-3 1 7 0-3 1 2 0 1 0-6 1 2 0-2 0 2 0 4 1-2 0 1 1-6 0 7 0-4 0 3 0-1 1 0 0-4 0 5 1 1 0-2 0-5 1 1 0-1 0 6 0-5 0-1 1 4 0 0 1-3 0 3 0 3 1 0 0-3 0 2 1-6 0 6 1-7 0 8 0-2 1 1 1-1 0-4 0 5 0 0 0-8 0 5 0 0 1 0 0 4 0-4 0 4 0-4 1-5 0 7 1-4 0 0 0 5 1-5 0 6 0-7 1 7 0-1 1 1 1-7 0 6 0-3 1 2 1 1 0-3 0 1 1-1 0 4 0-4 0 0 0 2 1 2 1-5 0 4 1-4 0 5 0 0 0-6 0 3 0-2 0-4 0 9 1-3 0 0 0-5 1 4 1 2 0 2 0 0 1-7 0 1 0 1 1 3 0 2 1 0 0 0 0-1 1 0 0 0 0-2 1 1 1-6 0 2 0 3 2-2 0 2 1-2 0 5 0-9 0 5 1-1 0 2 0-1 1-1 0 4 1 0 3-3 0 2 2-7 0 1 0 1 1 1 0 6 1 0 0-1 1-4 1-4 2 6 0 3 0 0 2-5 5 4 2-1 1 2 1-3 2 2 1 1 0-4 1 1 1-4 5 2 2 5 2-7 5 4 2 3 15-1 1-2 1 3 2-1-252 8 0-4 0 2 0 1 1 2 0-2 0 1 0 2 0 1 0-1 0-5 0 6 0-7 1 1 2 2 0 4 0-5 18 4 2 1 6-7 0 2 1 2 0-3 3 4 0-5 1-2 1 2 1-2 1 0 0 2 0 4 1-4 2 0 0 7 0-6 1-3 1 5 0-1 0-2 1 4 0-5 2 6 0-5 2-1 0-1 0 3 1-1 1 1 0 4 0 1 0-3 0-3 0 7 1-1 0-3 0 0 0-1 1-4 0 6 0-1 0-1 1-3 1 4 0 4 0-9 0 2 0 1 1 4 0 1 0 0 0-3 1-2 0 1 0-2 0-2 0 8 0-8 1 1 0 5 0 1 0-7 0 5 1-5 1 6 1-2 0-1 0 1 0-3 0 0 0 5 0-5 0 4 1 4 1-8 1-1 0 5 0-4 1 0 0 4 0 1 1-5 0 8 0-2 0-7 0 3 1-1 0 4 0-6 1 2 1 3 0 0 0-1 0-3 1 3 0-1 0 3 0-1 0-1 0 0 0 4 1-3 0-5 0 3 1-2 0 5 0-4 0 1 1 1 0-1 0 1 0 3 0-3 0 4 0-2 1-2 0 1 0-4 0 8 1-5 0 1 0-2 0 0 1 6 0 0 1-8 1 8 0-6 0 5 0-1 0-2 1 1 0 2 0-8 0 1 0 2 0-1 1-2 0 3 0 3 0-3 1 0 1-3 0 0 0 7 0-5 0-1 0 1 1 2 1-3 0 1 0 5 0-1 0-3 1 2 0 4 0-8 0 2 0 1 0-4 1 4 0-4 0 4 0-1 1 6 0-7 1 5 0 1 0-5 0-2 0 4 1 0 0 4 0-9 0 4 0-2 1 0 0 5 0-6 0 2 0 2 0-3 1 7 0-8 0 0 1 6 0-7 1 7 0-4 0 4 0-6 0 6 1-5 0 7 0-8 0 2 0 5 1-2 0-6 0 1 1 2 0 6 0-7 0 0 1-2 0 2 0 7 0-6 1 5 0-7 0 5 0-2 1 0 0-3 0 5 0 2 0-8 0 0 0 5 0-4 1 6 0-3 0 5 0-1 0 1 0-8 0 6 0-3 0 2 1-5 0 0 0 0 0 4 1-2 0-1 0 0 0-1 0 1 0 2 0 1 1 0 0-2 0-2 1 6 0 2 0-8 1 8 0-3 1-5 0 2 0 5 0-6 0 1 0-2 0 3 0-3 1 4 0 1 0-6 0 1 0 5 0-6 1 0 0 2 0 4 0-6 0 5 1-1 0-2 0 1 0 5 0-7 0 2 1-1 0-1 0-1 0 4 1-2 1 3 0 1 0-5 1 5 0 1 1-5 0 6 1-4 0 0 0-4 0 8 0-7 0 1 0 4 0 3 1-2 0-6 0 0 0 8 0-3 0 3 1-4 0-4 1 0 0-1 0 9 0-8 0 3 0-3 0 8 1-6 0 4 1-6 2-1 0 4 1-1 0 4 0-1 0-2 0-4 1 0 0 0 1 0 0 9 1-9 0 6 1-4 0-1 0 7 0-2 0-4 0 4 1 3 0-9 0 8 1-2 0 2 0-7 0 5 0 2 1-1 0-2 0-5 0 0 0 6 0-3 0 1 0-4 0 5 1-1 0 3 0-2 0-4 0 8 0-9 1 6 0-4 0 3 1 3 0-7 0-1 1 2 0 5 0-1 0-5 0 2 0 2 0-5 1 4 0-1 0-1 0 1 0 5 0-7 1 8 1-9 0 0 0 4 0-4 0 1 0-1 1 0 0 0 0 3 0 5 0-7 0 7 1 0 0-2 0-3 0 0 0-2 0-1 1 4 0 5 0-5 0 1 0 0 0-5 1 3 0-3 0 6 0-5 0 2 1 1 0 5 0-8 1 7 0-4 0 4 0 1 0-6 0-1 0 0 1 1 1 3 0-1 0 1 1-5 0 7 0-5 0 5 0-6 0-2 0 9 0-2 1-4 0-1 0 6 0-6 0 3 1 3 0-3 0-2 0 6 0-6 0 1 1 4 0-7 1 3 0 3 0 2 0-5 0-2 1-2 0 0 0 1 0 8 1-1 0-3 0-1 0-2 0 2 1 2 0-1 0-1 1 4 1-6 0 4 1 3 0-4 0 1 0-5 0 2 1 6 0-4 0 1 0-4 1 1 0-3 0 4 0 0 0 3 1 0 0 2 0-3 0 0 1 3 0-7 0-1 0 2 0 3 0-4 1 5 0-3 0-4 0 4 0-4 1 8 0 1 0 0 0-3 0 1 0-4 1 2 0 1 0 3 0 0 0-1 1-4 0 2 0 2 0-6 0 5 1 2 0-3 0-4 1 0 0 2 0-2 0 1 0 0 0 5 0-8 1 8 0-3 0-5 0 4 0-4 0 7 0 1 1-1 0-6 1 6 0-1 0-5 1 8 0-4 0 2 0 1 0-5 0-3 1 6 0-5 0 7 0-8 0 2 1 7 0-1 0-2 0 1 1-2 0 2 0-3 1-3 0 6 0-1 0 2 0 1 0-4 1-5 1 4 0 0 0 4 0-7 0 3 0 4 1-4 0-3 0 2 1 6 0-2 0-5 0 6 1 0 0-1 0-3 0 5 0-7 0 3 1 1 0 2 0-7 0 2 0 3 1 3 0-6 0-1 0 5 0-2 0 0 0 0 1 4 0-6 1-2 0 5 0-5 0 8 1-4 0-2 0 6 0-7 0 5 0-3 0-1 0 1 0 2 1-2 0 2 0-2 1 4 0 1 0-4 0 1 0 1 0 1 0-1 1-3 0 4 0-1 0 0 0 0 0 0 1 1 0-1 0-5 0 6 1-2 0-1 0-2 0-2 1 1 0-2 0 8 0-5 0-1 0 7 0-7 1 5 0-2 0 0 0 2 0 2 0-1 1-5 0 3 0-6 0 0 1 2 0 2 0-2 1 4 0-4 0 7 0-2 0 2 0-8 1 5 0 0 0-4 0 2 0 0 1-4 0 3 0 5 0 0 0-1 1-1 0 1 0-2 1-4 0 2 0 0 0 5 1-3 0 4 0-4 1-3 0-2 0 9 0-7 1 6 0-7 0 2 0-1 0 1 0 3 0 2 0-6 1 5 0-2 0 2 0-1 0-4 2 4 0 0 0-2 1 0 0 3 1-3 0 4 0 0 1-6 0 2 1-1 0 4 0-7 0 3 1 4 0-6 0 6 0 0 0 2 0-3 1-4 0 7 0 0 0-2 0 0 1-6 0 7 0-5 1 5 0-1 1 2 1-4 0-2 0 4 0-7 1 7 0-3 1 4 0-4 0 5 1-4 0 2 0-1 0-6 0 3 2-2 0 6 0-3 2 3 1-1 0-6 1 1 1 6 1-4 0 4 0-4 3 6 1 0 0 0 1-1 0-7 0 3 0 5 0-2 1 2 0-7 0 4 1 1 1 2 0-1 0-6 0 5 1-1 2 0 1 0 0-3 0-3 0 8 1 1 0-9 2 5 0 4 0-5 1 5 1-1 1-4 1-1 0 3 0 1 1-3 0 3 1-6 0 3 0 2 1 2 1 0 1-1 1 2 0-4 0 2 0-1 1-3 1 6 0-4 0 4 1 0 1 0-253 3 1 1 0 4 0-6 2 0 4 1 11 0 6-1 1 6 4 0 7-1 3 0 0-6 1 3 3 0 5-3 0 0 3 1 0 6 0-1 0 1 1-2 1 0 0-2 1 0 0 3 1 3 0-7 1 1 0 3 1-6 2 4 0 0 3-4 1 6 0-2 1-3 0-1 1 2 1-1 0 2 0 6 1-8 1 1 0-2 1 0 1 3 1 2 0-4 1 0 0 1 0 2 2 2 0-3 2 3 0 2 0-4 0-4 1 8 1-4 1 5 0-3 0-5 0 3 1 3 0-5 1-2 1 0 0 5 1-4 0 0 1 0 2 4 1-2 0 0 2 2 0-4 1 0 1 0 1 5 2-5 1 3 0 1 1-5 0 6 0-3 1 5 0-3 0-1 0-4 1 2 0 3 1-5 0 0 0 1 0 1 2-2 0 6 0-2 2-3 0 2 0 1 0 1 0 4 1-6 1 2 0 0 0-5 0 4 2-2 1 1 0 4 0-4 0-2 0 8 0-7 0 0 1 7 0-1 1 0 0-8 1 6 1-6 1 2 0 1 0 3 2-6 1 8 0 1 0-8 1 0 2 0 0 0 0 2 0 1 2-2 1-2 0 7 1-7 2 4 0-2 1 3 0-1 1-4 2 2 0-1 0 4 0-5 0 1 1-1 0 4 1-2 0-2 1 7 0-7 1 4 0 1 0-5 0 2 1-1 0 0 2 1 0-2 0 9 1-7 0-1 0-1 1 6 0-2 0-1 0-3 1 0 1 2 1-1 0 8 0-7 0 0 1 0 0 3 1-5 0 4 0 1 1-5 0 2 0 0 0 4 2 3 0-9 0 4 1 2 0-6 0 6 0-6 0 7 0-5 1-2 0 1 0 4 0 2 1-7 0 9 1-2 0-1 0-6 1 1 0-1 0 3 1-1 0-2 0 6 0-3 0-3 1 4 0 4 0-8 0 5 1-5 0 6 1 0 0-1 1 4 0-9 0 3 0 5 0-3 1-1 0 5 0-5 0 0 0-1 0 1 1 3 0-2 0 3 1-7 0 3 0-1 1 1 0 3 0-2 0-4 1 5 1-1 0-4 0 1 0 0 0 3 1-5 0 2 0 1 1-1 0 4 0-5 0 7 0-1 0 0 1 1 0-4 0 1 0-5 0 8 0-4 0 2 1-4 1 0 0-1 0 3 0 1 1 4 0-8 0 7 0-7 0 4 1-4 0 3 0-3 0 1 1 1 0-1 0 1 0-3 0 3 0 6 1-3 0-4 1-1 0 0 1 3 0 2 0-3 1-1 0 5 1-1 0 0 0-6 2 3 1 0 0 0 0-3 0 5 0-3 1 6 0-4 0-2 0 1 0-3 0 0 0 9 0 0 1-3 0 3 0-1 0-2 0-6 0 2 0-2 0 1 1-1 0 7 0-4 0 2 1-2 0 1 0-3 0 8 1-7 0-1 0 6 0-4 0 0 0-1 0 3 0 4 1-3 0 3 0-6 1-1 0 1 0 4 0-2 0 2 0-7 1 5 0 0 0-4 0 1 0 1 1 6 0-1 0-1 0-4 0 3 0-6 0 8 1-7 0 1 0-2 0 3 1 5 0 1 0-5 0 4 0 0 0-2 1 0 0 2 0 1 0-2 0-7 1 9 0-9 0 3 0 3 1-6 0 6 0-4 0 0 0 2 1 0 0 3 0-7 1 3 0-1 0 5 0 2 1-5 0 0 0 4 0-7 0 4 0 1 0-5 1 5 0 1 0 1 0-4 0 0 1-3 0 3 0 2 0-1 1 2 0-4 0 6 0-6 0 5 0-6 0 0 0-1 1 8 0-5 0-4 0 4 0 5 1-9 0 7 0 1 0-4 1 2 0 0 0-2 0 1 0-2 1-3 0 6 0-1 0-2 0 1 0 5 1-4 0 1 0 3 0-4 0 1 1 1 0-7 0 6 1-5 0 4 0-1 0 5 0-2 0-2 0-3 2 3 0 0 0 3 0 0 0-5 0-1 0 3 1-5 0 6 0-6 0 0 0 7 1-6 0 2 0 1 0 2 0-4 0 2 1-2 0 7 0-8 0-1 0 6 1-6 0 0 0 8 0-1 0-1 0 0 0-5 0 7 0-5 0 4 1 0 0 2 0-3 0-1 1-5 0 7 0 2 0-2 1-4 0 1 0 5 0-6 1-1 0 1 1 6 0-1 0-4 1-2 0 1 0 6 0-7 0-2 0 6 0-6 1 2 0 7 0-8 0 1 0 5 0-7 0 1 1 4 0 1 1 1 0 2 0-8 0 2 0 2 1 3 0-6 0-1 0 5 0 0 0 3 0-1 0-5 0 4 0-2 1 4 0-9 0 3 0 5 0-1 1-1 0 0 0-6 1 8 0-6 0 1 0 1 0 2 0-1 0 0 0 1 0-4 0 0 1 1 0-2 0-1 0 9 0-4 0-5 0 4 0 5 1 0 0-7 0 5 0 2 0-5 0 1 1 0 0 1 0-1 0 3 1-5 0 2 0-1 0-1 0 0 0 6 0-6 1 3 0-4 0 6 1 1 0 0 0-7 0 0 1 7 0-1 0-1 1-3 0 3 1 1 0 1 0-9 0 6 0 2 0-6 0 7 0-8 1 6 0-4 0 4 0 2 0 0 1-2 0-2 0 2 0-5 0 6 0-1 0-3 1-2 0-2 0 8 0 1 1-2 0-2 1 2 0 0 0 2 1 0 0-9 0 5 0 3 0 1 0-1 0-2 0 1 1-4 0 4 0-5 1 4 0-1 0-5 1 1 0 8 1-6 0 2 0-1 1 4 0 1 0-4 0-1 0 1 0-1 1 1 0 4 0-4 0 0 0 0 1-2 0 3 0 1 0-2 0 1 1 0 0-6 0 0 0 6 0-1 0 2 0-5 0 6 1 0 0-3 0-1 0-3 0 5 1-4 0 6 0-3 0 0 0 0 0-1 1 4 0-6 0 0 1-2 0 9 0-8 0 8 0 0 0-4 0 3 0-2 1 0 0-6 0 6 0-2 0 5 0 0 0-8 0 5 0 1-252 3 1 2 0 0 5 5 33 2 12-8 8 4 9-3 0 3 1-2 2-3 1 4 6-3 4 6 1-3 1-3 2 1 4-2 0 6 1-1 1-1 3-2 4 4 2-4 3-1 1 5 6-1 5-2 0 5 1-7 1 2 9-1 0-2 2 4 0 1 0-1 1 2 2-2 4 0 4-3 1-1 5 9 3-7 1-2 2 5 2 1 2-2 1 0 0-2 0 1 0-1 3-2 3 5 1 1 0-4 2 1 1-3 2 5 1 1 1-6 1 6 0-6 0 1 1 2 1-2 1 5 0-6 0 0 0 1 0 5 2 3 1-8 2-1 1 0 0 4 0-1 1 5 0-8 0 3 1-2 2 3 0 0 1-3 0 2 1 2 3-4 2-1 0 4 1 4 2-3 1 2 0-6 0 1 2 5 0-5 1-2 0 2 0 4 0-2 1 0 0 1 0 4 0-9 0 0 1 3 0 0 0-1 2 3 0-5 0 5 0-4 0 1 1 0 0-2 1 7 0-4 1 3 0 0 0-4 1 6 1-5 0 4 1-5 0 2 1 0 0 0 0 1 0-4 0 1 1 3 0-1 0 1 2-3 0-2 0 2 0 1 0 5 0-7 1 0 0 1 0 2 1-3 0 8 1-3 0 0 0 1 1-5 0-1 0-1 1 1 0 4 0-3 0 3 1-2 0 1 0-3 0 3 0 4 1-7 0 3 0-1 1 2 0 2 0-2 0 3 1-6 0-2 0 4 0-2 0 5 0-4 0-2 0 1 0 1 0 5 1 1 0-4 0-2 0 5 0-6 0 0 1 2 1 1 0 2 0-4 1 4 0-2 0-3 0 0 0-1 0 7 1-8 0 1 0 6 0-7 1 0 0 3 0 4 0-4 0-1 1 5 0-3 0 2 0-4 0 2 0-2 0 1 0-2 0 1 1 3 0-5 0 3 1 1 0 4 0-7 1 6 0-2 1 4 0-3 0-5 0 8 1 0 0-7 0 6 0-7 0 1 1 4 0-2 0 1 0-3 0 1 0 6 0-9 1 2 0 2 1-3 0 7 0-8 1 5 0-3 0-1 0 5 0-3 0-3 0 8 2 0 0-2 0 3 0-6 0-3 0 9 1-7 0 1 0 3 0-3 1 5 0-6 0 0 1 3 0-5 0 9 1-6 0 1 1 1 0-4 1 2 0 4 1 0 0-6 0 4 1-3 0 1 0 0 0-3 0 6 0 1 0 2 1-7 0-2 0 8 1-5 0 0 0 6 0-2 0-1 0-1 0-1 1-1 0 5 0-8 0 3 1 4 0-4 0 2 0-2 0 0 1-1 0 2-219 8 10 0 15 1 7 0 38 1 28 3 12-7 6 4 8 2 12-3 6 2 4 1 8-3 2 0 1-2 1 2 8-2 2-1 1 1 0 1 1 1 1 4 2 2 1-1 1-8 0 0 0 5 1-3 1 1 0 2 1-4 1 4 1 4 6 0 1 0 0-4 1-4 1-1 1 2 2 2 0-4 0 2 1-2 1 0 1 8 0-5 0 0 1 2 0-5 0 1 0 1 0 4 1-5 0 3 0 4 0 0 1-8 0 9 1 0 0-5 2 2 0-3 1-1 0 0 1 6 0-8 0 0 3 1 0 2 0-1 1-2 1 4 0-3 1 0 0 1 0 5 0-5 1-2 2 4 0-1 0 1 0 2 1 3 1-8 3 5 0-5 0 6 2 2-234 5 45-1 3 0 102-2 11-1 3 0 8 3 2-1 3 6 0-5 8 5 4-6 2-1 7 1 1 3 14-4 1-1 1 0 1 2 1 3 9-5 6 1 1 2-175 13 1 0 15-1 38 1 9-1 1-3 8 4 15 0 1 0 16 0 15 0 3-1 4 1 12 0 2-5 5 5 0 0 16 0 3 0 9-5" style="marker:url(#mf)"/><path d="m662 1318-15 10-214 6 201-3 2 1 4-1 6 4 1 4 12-7 0 0 6 3-159 14 53-3 30-1 25-5 2 3 1-3 11 7 6-7 1 7 0-2 1-4 2 2 3 4 3 1 0-6 2 1 1 3 4 2 2-4 1 4 0-6 1 3 3 3 4-1 3-4 1 4-241 11 52 0 33-8 71 8 3-2 25-1 6-2 3-1 1-1 1 5 3-2 0-2 1 5 3-4 0 5 0 1 1-8 2 5 0-1 1 4 0-2 1-6 0 5 3-4 0 0 0 6 1 1 1-7 3 5 2 0 1 1 1-2 0 2 0 1 1-7 0 3 1-5 0 1 1 4 0 3 0-4 1 3 1-4 3 2 0 0 1-1 0 0 2 3 1-4 1 4 1 2 0-8 0 4 0 1 2-3 1 6 1-1 1-3-157 10 1 3 11-6 6 3 21 4 13-5 21 4 17-3 1 2 2 1 2-5 1-1 1-2 2 3 2 4 2 1 2 1 0-4 1 1 0 2 1-1 0-6 1 3 1 5 0-5 2-3 0 8 0-7 0 7 2-3 0-2 2 3 0-3 0-3 0-1 0 9 1-4 0 2 1-1 0-3 1 3 0-2 0-4 1 2 0 1 0-1 0-1 0 8 1 0 0-4 0-2 1 2 2 3 0 0 1-1 0-7 1 3 0 5 1 1 2-7 1-2 0 9 0-5 0 5 2 0 0-8 1 1 0-2 0 5 1-2 1 6 0-2 0-7 0 3 0 3 2-2 1-3 0 2 1 1 0 3 1-2 0-3 0 6 0-5 1 6 0-3 1-6 0 1 0 3 1-1 0-1 2 1 0 0 0 2 1 2 0-2 1 4 0 0 0-3 1-1 0-3 0 7 1-2 1-2 0-1 0 5 0-3 1 2 1-3 2 0 0-3 2-2 0 6 1-1 1-2 0 3 0-5 1 4 0 4 1-7 0 6 1-5-228 15 10-2 11 2 5-1 34-1 2-2 47 5 26-2 0 1 2-1 3 2 2 0 1-5 6-4 7 8 0-1 1-5 0 7 0-4 1 4 1-9 0 8 0-3 2 3 1-2 1-6 1 8 1-6 0 5 0-1 2 2 0-3 2 4 0 0 0-9 0 9 1-7 0 6 1-8 0 9 0-1 1 0 0 0 0-5 1 2 0 1 0 0 0 0 1-5 0 5 0 0 0 0 1-3 0-1 0-1 1-1 1 9 0-3 0-1 1 3 0 1 0-7 1 2 0 0 0 3 0 0 0 0 1-2 0 1 0 0 0 2 0-5 1 2 0 2 0-5 1 2 0-3 2 3 1 3 2-1 1 2 0-3 0-4 1 5 2-6 0 1 0 1 0 3 0-5 1 2 0 2 1 1 0 1 0 1 1-6 1 5 1 1 2 0 0-1 0-2 0 4 1 1 0-8 0 5 1 3 1-7 0 7 1-7 0 1 0 2 1 1 1-5 1 0 0 5 0-1 1-2 0 2 1-5 0 7 0-4 0-2 0 2 0 4 1-3 0 5 1-8 0 5 0-2 0 2 0-5 1 4 0 4 1-2 1 1 0-7 0 4 1-5 0 7 1-3 1 0 0-2 0 1 1 5 0-7 0 8 0-2 1 2 0-1 0-2 1 1 1-7 0 1 0 8 1 0 1-8 0 0 0 4 1 1 2 1 0 0 0 0 0-4 1 6 0-2 0-6 1 0 1 5 1 1-257 7 14 3 5 0 13 0 10-2 5 4 15 0 6-9 10 7 3 1 9 1 2 0 0-1 3 1 1 0 8-1 1-5 4-3 11 5 2 4 1-2 2 2 1-1 0 0 5 0 1-1 1 1 4-2 0-5 0 5 3 1 1 0 1-7 3 1 0 7 2 1 3-3 0-1 1-4 2 6 4-2 0-2 1-3 1 7 0-3 1 0 0 4 0 1 0-2 1-1 0 3 1 0 0-4 1 1 0 1 2 1 1-4 1 2 1-6 1 7 0-5 1 2 0 2 0 2 0-1 0-6 1 7 0-3 1 2 2-4 0 3 0 2 1-1 0 2 2-7 0 7 0-1 1-1 1-3 1 2 0-4 1 0 0 7 1-2 1-5 0 6 1-6 0 3 0 1 1 3 0-4 1-4 0 6 1-3 0 5 1-6 0 2 0 4 0-9 1 4 0 2 1 1 0-4 0 4 0 2 1-6 0-2 0 8 0-4 0-3 1 0 0-2 1 7 0-3 0 3 1-2 0 1 0-5 0 5 1 0 0-2 0 5 0-2 0 0 0-7 0 5 1 0 0 3 0-2 0-4 1 5 0 1 1-7 0 0 0 5 0 2 0-3 1 4 0-6 1 2 0 1 2 2 0 0 1-7 0 8 0-5 0 1 1-5 0 8 0-7 1 4 0-1 0-2 2 3 0-3 0 1 0 4 0-6 1 1 1 2 0-4 0 1 0 4 0-4 1 3 0 1 1 2 1 2 0-5 0 0 0-4 0 0 1 6 0-5 0 6 0 1 1-5 0 6 1-9 0 6 0-6 0 1 0-1 0 5 2-3 1 5 1 1 0 1 0-4 1-1 0 0 1 5 1-4 0 2 0 1 0-1 1-3 0 3 1 1 0-3 1-1 0 5 0 0 0-4 1 1 0 3 0-3 1 0 0-2 0 0 0-2 1 2 3 0 0 3 1-2 1 4 0-4 0 4 1-8 2 2 1 3 1-5 0 7 0 1 1-1 0-6 0 3 1 3 0 1 0-8 0 1 0 4 1-3 0 6 0-5 1-2 1 6 0-5 0 4 0-3 1 0 0 3 0-6 0 3 1 2 0-5 1 4 1 1 0-3 0 5 0-7 0-1 1 4 1 5 1 0 0-9 0 2 0 2 1-4 0 1 0 8 1-6 0 6 0-3 0-1 0-3 0 4 1 0 0-4 0-2 0 2 0 0 2 5 0-2 1-4-253 17 11-3 2-2 0 6 1-5 3 4 2-3 1 2 1-3 1-3 1 2 0-1 0-2 0 4 1-3 0 8 2-2 0 1 2 1 2-4 0-2 1 4 1-6 0 4 2 1 0 3 0-2 1-7 1 2 1 2 1 3 0 2 1-3 1 1 1 2 0 0 3-7 0 5 1-7 4 3 0 4 1-4 1 5 0-5 0 1 1 0 0 5 1-3 0-1 0 0 1 4 1-1 0 1 1-7 1 6 0-5 1 3 1 2 1 0 0-4 1-1 0 2 1 4 1 0 2-1 0-5 0 2 0-4 2 6 1-1 1 2 1-2 0 1 2-7 0 9 1-3 1 1 1 2 0-4 1-2 3 1 0 5 1-8 0 4 0 3 0-4 0-2 1 3 0-1 0 5 1-2 1 2 3-1 2-6 0 7 0-2 1 1 0 0 1-8 0 7 4-4 0 2 2 3 1-4 0 5 0-2 1 1 1 1 1-1 1 0 0-6 1 5 0-1 0 2 1 0 0-6 2 0 1 5 0-2 0-1 3 1 2-4 1 8 0-5 0 5 1-8 0 1 1-1 0 5 1 2 0-8 0 7 1-4 2 6 0-3 1 1 1 0 0-3 1 4 1 0 0 0 0-7 1 7 0-6 0 2 0-3 0 4 1 4 0-2 0 2 0-6 1 5 0-7 1 4 0 4 1 0 1-2 0-4 1-3 0 9 1 0 1-1 0-5 0 1 1 4 0-5 1 3 0-3 1 3 0-2 0 5 0-7 1-2 0 6 0 3 0-8 1 7 1 1 0-9 0 7 1-2 0 0 0 4 1-1 0 1 1-8 0-1 0 5 1-2 0 0 0 3 0-5 0 2 1-1 0 6 0 0 0-2 1-1 0 3 0-6 1 2 1 0 0-4 1 6 0 3 1-7 0 4 0-6 1 8 0 0 0-1 1 2 0-5 0 1 0-3 0 4 0 3 1-9 1 6 0 2 0-1 0-4 1 3 0-6 1 5 0 0 1-2 0 6 0-3 1 3 1-9 0 7 0-5 0 4 1 2 1-5 0 3 0 1 0 0 0-5 1 0 2-1 0 5 0-1 0 2 0-5 0-1 1 4 0 1 0 0 0-2 0 5 1-9 0 1 0 8 1-1 0-1 1-6 0 7 0-3 0-2 0 5 0 0 1 1 0-6 0-3 0 7 0 2 0-3 1-2 0 3 0 2 0-1 0-4 1 2 0-6 1 1 0 1 0 7 0-8 0 4 0 1 0-1 1-5 0 3 0-1 0 3 0-2 1 0 0 6 0-1 1-1 0-4 0-1 1 1 0 4 0-6 0 7 1-1 0-3 0 0 0 0 0 5 0 0 0-4 1 0 0 4 0 0 0-7 0 4 0-2 1-1 0 1 0 3 1-1 0 0 0-4 0 6 0-5 1-2 0-1 0 6 1-3 0-3 0 3 0 4 0 1 1-2 0 3 0-7 0 2 0 1 1-2 0 5 0 1 0-6 0 2 1-2 0 1 1-4 0 2 0 1 1 6 0-2 0 0 1 2 0-8 1 2 0-1 0 7 1-5 0 5 0-5 0 2 0-6 1 0 0 5 0-2 0 1 0-2 0 5 0-3 0 1 1 3 0-2 0-4 0 6 0-4 0 3 0-3 0-4 1 5 0-4 1 4 0 1 0-3 0 5 0-1 2-4 0 4 0-7 1 1 0 0 1 7 1-4 0 2 0-6 0 1 0 4 0-4 0 1 0-1 1 3 0 1 0 0 0 2 1-7 0 7 0-7 1 0 0 3 0 0 0 6 1-8 0 7 0-4 1 2 0-1 0-5 0 7 0-1 0 1 1-3 0 0 0-4 0 1 1 6 0-6 0 5 1-1 0-5 0 3 0 3 1 0 0 2 0 0 0-6 1-2 1 8 0-7 0 4 1 1 0-4 0-1 0 2 0 1 1 0 1-1 0 1 1-4 0 0 0 6 1-2 1 1 1-1 0-1 0 3 0-2 1 0 0-2 0 0 1 0 1 6 0 1 1-5 1 4 0-1 0-3 0-4 1 5 0 0 1 2 0 2 1-3 0 1 2-3 0 5 0-2 0 1 2-1 0 0 0-3 0-1 0 1 1 5 0-8 1-1 0 4 0 5 0-1 0-6 0-1 1 1 0 4 1-1 0 0 1-2 1-2 0 7 1-1 0 2 0-5 1-4 0 6 1 1 2-2 0 1 1-1 0-3 0 0 0-1 0 2 1 0 0 3 0-6 1 3 0 2 2 2 0-7 1 6 0-1 0-4 1 4 0 1 1-3 1-3 0 9 1-8 0 8 0-3 0-2 3-3 0 3 1-4 1 8 1-8 0 7 0-4 0 6 0-7 0 5 0 2 0-5 0-4 1 1-264 13 0 5 0-2 0-4 0 5 0-1 0-5 1 5 0-3 0 2 0 3 0 0 1-8 1 8 0 0 1-2 1 0 1-4 0 5 2-5 1 4 1-4 0 2 2 0 1-5 0 9 1 0 0-7 1 0 0 3 1 1 1 3 0-5 0 2 0 3 1-1 0-1 0-4 0 6 1-2 0-1 0 2 0-8 0 8 0-7 0-1 0 8 0-2 1-4 0 4 0 2 2-1 0 1 0 1 1-5 0 3 2 0 0 2 0-1 0-2 0 2 0 1 1-4 0 1 0 2 0 1 1-3 0-6 0 3 1 6 0-1 0-2 1 3 0-4 0 0 1-5 0 2 0 3 0 2 1-1 0-1 0-2 1-1 0-2 0 6 0 0 1-1 0 4 0-1 0 1 0-4 1-5 1 4 0-1 0 5 1-1 0-7 0 2 0 0 0 4 0-2 0 4 1-4 0 2 0 2 0-1 1-4 0 3 0 0 1-2 0 2 0 1 0-3 0 3 1-6 0 4 0 0 0-5 0 9 0-2 0-6 1 3 0 2 0 2 1-4 1 2 0-2 0-4 1 9 0-3 0 0 1-4 0-1 0 7 1-3 0-3 0 4 0 0 1 3 0 0 1-8 1 4 0 3 0-2 1-5 0 6 0-3 1 3 0-6 0 1 0 5 0-1 0-5 0 8 1-3 0 3 0-5 0 3 0-3 1-2 0 0 1 2 0 1 1 0 0-4 0 0 1 6 0 1 0-8 1 0 0 5 0 0 0-2 0 6 1-2 0 0 0 0 0-4 0-1 0 5 0-3 1-1 0 1 1-2 0-1 0 7 0 1 1-2 0-4 0 5 0-6 0 6 1-6 0 6 0 0 1-2 1 2 0-2 0-5 1 7 1-5 0 3 1-3 0 6 0-4 0 0 1-4 0 8 0-5 1-2 0 4 0-5 0 5 1-1 0 3 0-6 1 2 0 1 1-2 0 0 2-1 0 5 0-1 0-3 1-1 1 7 0-3 0-1 1 4 0-3 0 2 0-6 0 3 1 0 0 0 0-3 0 1 0 0 1-1 0 7 0 0 0-8 1 7 0 1 0-2 0-2 0 4 0-3 1 0 0 3 0-5 1-1 0 0 0 3 0 1 0-5 0 4 1 1 0 2 0-5 0 5 0-3 1-4 0 0 0 2 0-4 0 2 0 1 1 6 0-7 0-1 1 7 0 0 0-2 0 3 0-2 1-4 0-3 0 3 0 4 0-5 0 2 1 1 0-3 0 5 0-5 1 1 0 0 0 2 0 2 0-1 0-3 1 1 0 3 0-5 0 4 0 0 1 2 0 1 0-9 0 2 0-2 0 8 0 0 0 1 1-3 0-2 0 2 0 3 1-3 0 1 0 1 0 0 0-3 0 4 1-7 0 6 0-8 0 7 0 1 1-2 0-3 0 4 0 0 1-4 0 4 0-1 0-5 1 8 0-7 0-1 0 4 0 2 0-7 0 6 1-3 0 2 0-1 0 1 0 2 0-7 1 5 0-5 0 8 0 0 1-4 0-1 0 5 1-3 0 3 0 0 0-1 0-1 0-1 1-1 0-3 0 4 1-3 0 4 0 0 1-3 0-2 0 5 0 0 0 0 1-4 0 6 0-2 1-6 0 0 0 6 0 1 0-3 1 0 0-3 0 4 0-3 0 5 0 0 0-5 0 7 0-4 0 2 1-3 0 2 0-2 0-1 1 1 0 3 1 0 0 2 0 0 0-2 1 2 0-4 0-5 0 1 0 6 0 2 0-4 0-4 1 8 0-3 0-4 0 0 0 3 1-3 0-1 0 3 1 5 0-5 0-4 1 6 0-2 0 2 0 0 1-6 0 2 0 3 0 0 0-4 1-1 0 9 0-8 0 8 0-2 0-1 0-3 1 4 0-4 1 2 0 4 0 0 0-1 0 0 0-3 1 1 0 3 0-5 0-4 0 5 1 2 0-1 0-1 1 4 0-4 0-5 0 7 1-6 1 2 0 3 0-3 0 4 1-4 0-3 0 6 0-6 2 6 0-5 0 1 0-1 0 3 0-2 1-2 0 5 0 0 0 3 0 1 0 0 0-6 0-1 0-1 1 7 0-4 0 0 1 1 0 1 0-6 0 9 0-7 1 0 0 2 0-4 0 3 0 5 0-4 0 3 1-6 0 2 1 0 0-2 0 2 0 6 0-2 0-5 0 2 1-2 0 7 0-7 1 7 0-3 0-4 0 3 0-3 0 6 0-8 0 1 1 2 0 0 0 2 0 3 0-7 0 6 0 1 1 0 0-4 0-4 0 9 1-2 0-6 1 8 0 0 0-3 1 0 0-5 0 1 0-1 0 6 0-7 0 8 0-3 0 3 1-1 0 0 0-3 0 2 0 2 0 1 0-2 0-7 1 9 0-2 0-3 0 0 0 1 0-5 1 9 0-7 1 0 0 3 0 2 0-5 1 1 0-2 0 4 0-1 0 5 1-8 0 2 0 6 1-1 1 1 0-6 0 2 0 3 0 1 0 0 0-5 1-1 0 4 0-5 1 6 0-5 0-1 0-1 0 8 0-2 0-7 1 8 0-4 0 5 0-2 0 2 0-7 0 4 1-5 0 5 0 0 0-1 0-3 0-2 1 7 1-3 0-3 0 4 0 4 0-9 0 6 0-1 0 2 1-5 0 5 0-3 0 1 1 0 0 3 0-3 1 4 0-7 0 3 0-2 1-3 0 6 0-4 1 3 0 3 0-3 0-4 0 8 0-1 1-3 0 4 0 0 0-1 0-1 1 1 0 1 0-6 1 6 0-6 0 0 1 1 0-1 0 0 0 1 1 5 0-6 0-1 0 3 1 1 0-4 0-1 0 0 0 7 0-5 0 0 0-3 1 8 0-2 1 2 0-2 1 1 0-6 0 3 1-1 0 1 0-2 0 1 0 5 0-6 0 3 0-5 0 6 1 3 0-5 0 0 0-1 1 2 0-3 0-1 0 2 1-2 0 8 0-7 0 5 0-3 0 0 1 1 0-5 0 4 0 1 0 0 0 0 1-1 0 5 0-7 0-1 0 1 1-2 0 4 0 0 0 3 0-3 0-2 0 2 0-1 1-1 0 1 0-3 0 0 0 4 0 0 0 5 1-8 0 6 1-4 0 2 0 2 1 1 0-2 0 0 0-1 1-2 0 1 0-4 1 0 1 2 0 1 1-1 1 0 0 0 0 0 1 2 0 3 0 0 0-3 1 3 0-2 0 4 1-5 0 1 0 2 1 2 0-8 0 3 1-1 0 5 0-2 0 0 0-4 0 3 1-3 1 1 0 1 1 2 0 2 0-1 0-4 0 0 1 5 0-4 0-1 1 1 1 4 0-4 0-2 1 7 0-2 1-4 0-3 0 6 0-2 0 2 0 2 1-8 0 1 0 5 0-4 1 4 0-4 1 0 0 0 1-2 0 4 0-1 0 1 1 0 0 1 0-5 0 2 0 2 1 5 0-1 1-1 1-5 0 6 1-4 1-4 0 0 1 4 0-4 1 1 1 0 0 7 0 1 1-6 0-2 1 2 1 4 1-4 0 0 1 3 0-3 0 5 2-6 1 2 0-4 0 3 3-3 0 0 1 6 1 1 1-6 1 1 0 2 1-3 0 3 1 1 0 1 1-1 0-5 0 3 0 1 2-3 0 6 0-7 0 8 2-4 0 3 1-6 3 1 1 2 1-3 1 2 1 4 2 1 0-2 0-6 1 3 0 2 1 3 0-5 1-2 0 3 1 2 1-6 0 1 1 7 0-3 0-2 2 4 1-2 1 4 0-1 1 0 1-1 4-2 0-2 0-3 1 6 2-5 0-1 0 2 1-1 0 1 0 5 0 0 1 2 0-2 1 1-264 6 0 1 0-1 0 2 0-3 0 0 0 6 0-3 0-3 1-2 0 5 0-3 0 5 0-2 1-3 1-1 0-2 0 1 0 2 0 6 0-6 1 3 0 3 0-1 0-1 1-2 0 3 0 0 0 1 1-2 0 0 0-7 0 6 0 1 0-2 1-5 0 1 0 5 0 2 0-2 0-1 0-4 1 0 0 5 1 1 0-5 0 4 1 3 0-6 0-1 0 5 0 0 1 1 0 1 0-4 0 0 1-3 0 3 0 4 1-1 0-3 0 4 0-1 0-3 1 2 0 0 1-5 0 5 0 1 0-3 0 3 0-5 0 5 0-2 1 3 0-9 0 5 1 0 0-1 0 3 0-3 0 1 0-4 1 5 0-5 0 5 0 1 0-5 1 2 0-1 1 2 0-3 0 2 1 4 0-3 0 3 0 1 0-4 1-3 0-2 0 9 0 0 1-8 0 4 0-1 1 4 0 0 0-7 0 8 0-8 0-1 0 7 1-5 0 6 0-8 0 9 0 0 1-5 0-2 0 0 1 4 0-2 0-1 1 1 0-4 0 8 0-5 0 3 1-4 0-2 1 1 0 2 0-3 0 7 1-1 0-1 1 4 0-6 0 1 0-2 0 0 0 2 1 0 0 1 0 3 0-1 0-5 1 0 0 0 1 4 0-4 0 1 0 4 0-3 0-3 0 0 1 5 0 2 0-4 0 2 0 2 0-2 0 2 1-8 0 3 0 5 0-6 0 1 1-2 0 0 0 8 0-8 1 3 0 0 0-4 0 5 0 4 0-4 1-3 0 3 0-2 0 4 1-5 0 4 0-1 0 0 0 3 1-3 0-4 0 7 0-4 0 5 2-3 0 1 0-5 0 3 0-1 0-3 0-1 0 9 0-8 1 1 1 2 0-4 0 6 0-5 0-1 0 0 0 4 0-1 1 3 0-4 0 4 0 1 0 2 0 0 0-7 1 3 0 1 0 2 0 1 0-1 0-4 1 3 0-4 0 4 1 0 0-4 0 1 1 3 0-6 0 6 0-3 1-3 0 2 0 3 0-1 0 0 1-2 0-2 0 4 0-1 1 1 0-4 1 4 0 2 0-4 0 3 0 0 0-1 0-1 0-4 1 4 0 1 0-1 0-3 0 6 1-5 0 2 0 4 0-1 0-5 0 7 1-7 0 5 0-7 0 0 0 3 1-1 1 5 0 2 1-6 0-2 0 3 0-2 0 4 1-2 0 2 0-3 0-2 1 4 1 2 0-4 0 5 0 0 0 0 0-7 1 2 0 0 0 5 0-6 0-2 0 2 0 2 1 5 1-6 0 0 0 3 1 0 0-3 0-1 0 5 0-2 0-5 1 3 0 5 1-8 0 6 0-6 0 1 0 1 0-1 0 5 0-2 0-2 0 4 0-2 1 2 0 3 1-2 0 1 0-5 0 5 0 1 0-2 1-7 0 0 0 0 0 7 0-3 0-3 0 2 0 3 1-3 0-2 0 8 0-6 0-2 0 3 0-2 1 1 0 1 0 3 0-5 0 2 0-2 1 4 0-4 0 2 0-3 0 5 1-3 1 0 0 3 0 2 0-2 0 3 1-6 0 0 1-3 0 3 0-2 1 3 0-3 0 8 0-7 0 4 0-2 0-2 1 4 0-3 0-3 0 9 0-6 0-1 1 5 0 1 0-8 0 1 0 5 0-4 0 3 0 2 1-4 0-3 0 4 1 4 0-6 0 7 1 0 0-7 0 5 0-4 0-1 1-1 0 8 0-9 0 6 0 2 0-5 0-2 0 7 0-7 1 2 0 2 0 3 0-5 0-3 0 2 1 0 0-1 0 5 1-1 0-5 0 9 1-5 0-4 0 5 0-4 0 2 1-1 0 3 0-4 0 5 1-3 0-1 0 6 0-4 0-4 0 9 1-8 0 5 0-6 0 3 0 0 0-1 0 2 1 1 0 4 1-5 0 0 0 4 0-8 0 2 0 1 1 3 0-6 0 8 0-6 0 7 0 0 0-4 1 3 1-5 0 3 0-6 0 0 1 4 0 3 0 1 0-7 0 8 0-5 0 1 0-4 0 4 0-3 0 3 0 3 1 1 0-5 0 1 1 2 0-4 1 0 0-1 0 0 0-2 0 3 0 1 0 1 1 1 0-5 0 3 0 3 1-7 0 1 0 3 0-2 0 7 1-8 0 6 0-5 0 2 0-4 0 4 1-1 0-3 0 8 0-7 1 7 0-2 0-6 1 6 0-6 0 2 0 3 1 2 0-6 0 0 0 8 0-7 1 3 0-3 0 1 0-2 1 3 0 0 0-4 0 8 1-5 0-1 0 6 0-5 0-1 1 4 0-3 0 1 1-4 0 7 0-5 1 1 0 3 0-6 0 6 0-6 0 8 1-7 0 0 0 2 0 5 1-1 0-1 0 1 1 1 0 0 1-8 0 9 0-7 0 7 0-6 0-2 0 5 1-2 0-4 1 4 0 1 0-5 0 6 0-5 0 8 1-7 0-1 0 4 1 1 0 1 0-6 0 2 1 3 0 0 0-1 0-4 1 5 0-1 0 1 1-3 0-2 1 4 0 0 0-3 0 1 1-3 0 9 0-3 0-1 0 2 0-6 1 1 0 0 0 2 0-4 0 5 1-4 0 1 0 0 0 7 0-5 0-2 0 5 1-7 0 1 0-1 0 1 0 7 1-4 0-1 0-3 0 2 0 0 1 3 0-1 1-4 0 0 0 4 0-4 0 5 0-4 0 5 0-5 1 2 0-2 1 0 0 4 0-4 0 6 1-7 1 1 0 4 0 3 0-8 0 3 0 2 1 4 0-9 0 6 1 0 0 1 0 0 0 0 0-5 1 4 0-5 0-1 1 0 0 2 0 4 0 3 0-4 0-5 1 2 0 7 0-7 1 7 0-9 1 7 0-6 1 0 0 4 1-5 0 6 0-3 0-1 0 1 0 2 1-4 1 6 0-7 1 0 0 0 0 0 1 2 0-1 0 1 0 3 0 1 0-2 0 3 1-4 1 4 0 1 0-3 1-4 0 4 1-4 0-1 0 1 1 2 0-3 0 9 0-6 1 4 0-4 0 0 1 4 0-6 1 1 0 4 0-3 1 0 0-2 0-1 0 5 0-3 1 7 0-8 0 2 1-2 0-1 1 7 0 1 0-6 0 3 1 3 0-5 0-2 1 0 0 0 0 3 1 5 1-4 1 2 0-4 0 0 1-1 0 0 0 5 1-1 1 0 0 1 0-7 1 9 0-4 0-2 1 2 0 4 0-7 0 0 0 5 1 0 0-6 0 8 1-9 0 4 1-4 0 2 1 4 0-4 0 0 0 1 1-3 0 1 0 6 0-4 1-1 0 7 2-4 0-4 1 8 0-5 1 2 1-1 0 2 1-7 0 1 2 1 0 0 0 3 1 3 0-7 0 6 0-6 0 2 1-2 2 7 0-2 1 0 0-4 0 0 1 6 1-8 0 6 0-5 2 0 0 6 1 0 1-6 0-1 1 0 1 4 0 4 1-2 0-3 1 2 0-5 2 3 2-3 0 1 1 3 0-4 1 3 1-2 1 5 1-3 1-2 2 3 1 1 2 2 3-6 0 6 1 2 1-5 1-1 2 4 2-3 1-4 0 2 1 1 1 5 5-4 2 3 0-7 2 3 1 4 1-4 1-3 1 3 0 6 2-6 2-1 0 6 7-3 1-3 3-1 1 8 1-2 1-2 1 1 0-4 1 0-264 10 0 1 0 3 0 1 0-7 0 2 1 1 0-3 0 9 0-6 0-2 0 4 1-1 0 4 0-5 0 3 0 2 0 1 1-7 0 1 0-3 0 5 0 1 0 3 0 0 1-2 0-4 0 2 1-1 0 3 0 2 1-7 0 1 0 0 0 6 0-9 0 3 0-3 0 6 0-2 1-2 0 6 0-5 0 0 0-1 1 1 0 3 0-1 0 2 0-2 0 2 0-7 0 0 0 6 0-4 1 7 0-9 0 8 0 1 1-3 0 0 0 2 0-2 1 0 0-3 0 5 0-2 0-1 0 0 0 4 0-8 0 0 1 7 0-7 0 2 0 1 0 2 0-5 0-1 1 4 0 2 0-1 0-3 0-1 0 8 0-6 0-1 1 4 0-4 0-2 0 8 1-8 0 1 0 1 1 0 1 1 1 4 0-2 0 2 2-1 0 3 0-2 0 2 1-4 0 2 0-1 0-1 1-2 0 0 0 6 1-9 0 7 0-3 1 2 0-4 0 5 1-5 0 3 0 3 1-5 1 0 0-1 0 1 1-3 0 2 1 4 0 3 0-9 1 2 0 0 0 2 0-4 0 1 1 4 0-5 0 1 0 5 0 0 0-2 0-1 1 5 0-2 1-6 0 0 0 6 0-4 1 2 2 1 1 2 1 0 0-3 2-3 2 3 0-4 0 4 0-1 1-2 0 5 2-3 0 0 0-1 2-1 0 6 0-1 2 0 0-2 0-3 0 1 0-1 1 0 0 8 0-2 0 1 1-5 0-3 0 3 0-3 0 0 0 0 0 8 2-1 1-2 1 2 0-7 1 5 0-1 0 5 0-7 1 5 0-4 0 0 0-1 0 4 0-2 1-3 2 5 0-2 0-2 0 1 1 6 0-2 1-2 1-4 0 5 0-5 0 0 1 3 1 3 0-4 1 3 0-2 0-1 1 6 1-2 0-2 0-1 1 4 1-3 0-2 0 5 0-4 1 3 0-6 0 2 2-1 0-1 1 1 0-1 1 8 0-5 1-2 0 3 1 2 0-2 0 1 0 2 2-4 0-4 1 4 1-2 1 5 1-4 0 3 0 1 0-7 1 6 1-2 1-1 1 0 1-3 1 8 0-7 0 2 0-2 0 1 0 3 1-5 1 2 1 3 0-2 0 1 1-2 1 3 1-2 0-1 0 2 0 3 1 1 0-8 0 9 0-9 1 5 1 4 0-5 1 5 0-9 0 2 2 7 0-2 0-6 0 2 0 6 1-9 0 0 1 0 1 7 0-5 0 3 0-3 1 1 2 1 0-1 1 4 0-5 0 4 1-4 0-2 1 1 2 0 0 2 1-2 3 4 1 3 0-8 0 1 0 0 1 5 1-6 0 2 1-1 0 0 0 0 1 4 0-5 0 4 2-3 0 2 1 0 0-3 0 3 1-1 1 4 0 0 4 1 0-7 0 3 1-3 1 6 0-6 1 2 0 0 0 2 2-3 1-1 0 0 1 8 0-8 1 9 0-8 0 4 2-5 2 3 1 3 0 1 2-2 0 1 1 1 2-4 4-2 1-1 0 5 3 0 1 0 0-2 1 1 1-4 1 4 1 3 0-7 1 9 1-9 3 0 0 6 2-4 0-2 2 4 1 2 0 3 2-9 2 9 5-7 3-2 1 8 2 0 3-6 3 6 1-7 4 0 0 8 4-3 26-5 17 3 1-3 7 1 9 2 1-3 1 7-263 5 0 5 0 0 0-3 0 1 0-2 0 3 1-3 0-3 0 0 0-1 0 7 0-5 0 4 1-3 0 4 0 1 2-2 0-2 0-4 1 4 0-4 0 8 0 1 1-8 0 0 0 1 1-2 0 0 0 2 0-1 1 6 0-7 1 4 1-3 1 5 0-4 1-2 2 3 1 4 1-4 1-2 0 5 1-4 0 5 1-4 1 1 0-1 2-2 2 4 0-1 1 2 2-6 0 7 0-4 2 3 1 2 1-1 1-3 0-4 1 3 1-2 0 2 0-1 2 7 3-4 2 1 1-1 2-3 2 6 3-2 1-4 2-2 1 4 1-3 4 4 6-4 2 0 2 0 1 1 2 3 0-1 7-2 0-1 4-1 1 0 0 5 3-4 1 3 1-1 1 1 2-3 3 3 10-1 5 2 2-2 3 1 1-1 3-2 1 7 0-3 5-4 3 1 1 1 5 4 3-4 9 0 17 1 1 2 0-6 3 0 11 2 9-1 5-1 18 1 23 1 4 1 7-3 13 5 2-4 2 0 3 8-263 3 0 6 0-4 0-3 0 7 0-1 0-7 0 3 1-3 0 9 0-6 1 1 2 0 0-4 0 7 2 1 1-3 1-3 1 5 2-4 2-3 1 0 24 1 7 4 6-4 25 3 82 1 10 2 4-7-172 14 0 0 0-4 0 6 1 2 0-3 0-2 1-1 16 6 1 0 34 0 10-8 43 8 42 0 8-7 18 6 0 1 79 0" style="marker:url(#mf)"/><path d="m107 1546 5 2 22-2 0-2 3 4 1-1 2 2 14-3 68-2 4 4 3 1 38 0-185 9 15-6 6 3 13-1 21 0 10 1 2-3 35 7 45-7 2 7 4-2 11-2 3-3 20 3 0 2 8 1 12 1 0-5 5-2 7 3-222 6 16 4 15 0 19-1 7 3 1 2 7 0 12-4 28-2 22-3 6 8 35-3 5-2 6-3 6 5 0 0 2 4 6-7 1 2 2 2 0-1 11 4-161 2 24 1 7 7 4-9 2 2 17 3 1-1 5 2 0-5 3-1 4 7 17-4 6 2 19-4 5 4 0-4 1 6 9 1 1-3 3 3 0 1 5-8 3 7 2-6 4 3 0-2 3 5 1-2 8 2 41-2-231 10 75-2 4 5 3-5 9 3 4-7 3 4 16-3 6 7 6-5 16 4 0-6 2 7 0-3 2 1 1-1 1 2 1-4 4 1 2 4 0-3 1-3 2 5 0 2 1-2 1-5 1 6 1-4 2 0 4 5 1-8 1 5 2-5 4 5 0 1 1-6 1 3 2 3 2-5 0-2 0 3 5 6 0-6 0-3 0 8 13-8 24 1-232 16 14 1 0-7 19 4 0 4 1-9 12 5 0 3 4-7 4 7 2-4 9-4 11 8 16 0 59-7 1 2 0 2 3 4 1-2 8-4 0-2 1 5 1 2 1 1 1-8 1 2 1-1 0-1 6 8 1-9 4 4 1-3 1 7 4-3 2-3 1 6 1-5 3 1 1-1 16 1 4 2 3 0 2-2-221 12 1-4 2-1 7 2 11-3 24 5 0 0 36 1 17-3 19 5 3-5 16 1 3-2 11 0 4 1 0 4 1-2 3 0 4 3 4-7 0 6 1-4 5 4 2-7 0 1 5 1 2 0 3-2 1 3 0 3 1-2 2-2 2 4 0-5 0 2 1 6 0-6 1 6 0-2 1 0 5 1 2-6 27 7 7-5-230 9 0 6 30-9 0 9 34-9 2 2 3 0 2-2 2 9 3-5 32-3 8 2 1 0 0-3 2 1 2 0 33 4 0-2 0 4 2-3 0-4 4 9 7-3 6-2 1 4 3 0 2-7 0 5 1-3 2 4 3-1 2-4 6-1 3 0 15 6 13-1-217 5 0 3 2-2 17 0 17 2 18 1 5 2 7-6 21-1 6 1 23 7 9-2 15 0 4-6 0 1 2 3 0-2 3 0 1-1 3 8 3-1 0-4 0-4 5 7 0 0 1-4 0 3 1 3 2-4 3-4 3 5 2 3 0-2 3-5 1 1 6 0 32-3 7 4 9 5-227 7 4-1 10 1 41 3 1 0 5-5 19-4 1 3 7 5 32-6 31 1 2 1 2-1 1 5 6-3 6-2 12-1 1-2 0 3 14 4 5-3 3 3 13 2 2-4 6-3 0 7-240 2 0 8 0-4 0 4 0-8 0 1 1 3 0 0 3 3 2 1 6 0 2-9 3 1 5 4 3-4 8 7 4-1 8-4 3 3 6-3 5 5 6 1 4 0 7-4 2 3 5-7 2 6 2-7 4 8 0-3 12 3 7 1 2-1 1 1 7-9 14 4 0 5 3-6 0 4 2-2 2 3 7-2 15-4 14 6 2-6 1 3 1 0 7 4 1-4 1 1 1 3 1-4 2-4 3 5 1-3 1-1 1 4 0 1 5-7 2 0 13 9 2-4 8 2-230 9 0-3 0 1 0-1 0-2 0 3 0 1 0-1 0 1 0 4 0-3 1 0 2 1 0 0 0-1 1-5 2 8 0 0 1 0 2-5 1 5 0-6 0 0 1 0 0 1 0 3 0-1 1-2 0 0 1 3 2 1 1-2 1-2 0 0 0 4 0 1 1-2 1-2 0-3 1 4 0-6 1 9 0-6 1 6 0-6 0 4 3 1 0-1 0-2 1 0 2 3 1 0 0-1 0-1 2 3 1-8 0 8 0-8 0 8 1-7 0 3 0-1 0 4 1-1 0-7 0 3 0-2 1 7 0-4 1-1 0 6 1-3 0 0 0-6 1 5 0 0 2-2 2 5 1-3 1 0 1 1 0-2 0-2 1 6 0-1 0 0 0-6 1 2 0 6 1-3 0 1 1 2 0 0 2-6 0 5 1-3 0 4 1-3 1-5 0 7 1 1 2-7 0 3 1-1 1-1 0 3 3-2 0 5 2-3 0-1 1-2 0-3 0 9 1-1 1-7 0 5 1-1 0-4 0 6 1 0 0-1 1 1 0-1 0 3 3-2 0-7 2 8 1 1 0-4 2 3 0-3 2 1 0-6 1 7 0 0 1-4 0 3 1 3 0-2 1 0 1-2 0 0 0 3 1-6 0 3 0 1 0-5 1 8 0-2 0-3 1 1 0 2 1-1 1-3 1 4 0-3 0 5 1 0 0-2 0 2 0 0 1-6 0 1 1-4 1 9 0-2 1-5 1 5 0-6 1 8 0-4 0 4 0-5 1-2 1 7 0-4 0-2 0 1 1 2 1 1 0-1 0-1 1 1 0-1 0-5 1 2 1 4 1 3 0 0 1-1 0 0 0-4 1 1 0 4 0 0 1-1 1 0 0-8 0 8 0 1 1-6 0 4 0-2 2-4 0 3 1 3 0 0 0 2 0-4 0-5 1 3 1 3 0-1 2 4 0-7 1 6 0-7 0 2 1 5 0-5 1 1 1 1 0 2 1-2 1 4 0-2 1-1 0 0 0 2 0 1 3 0 1 0 1 0 1-4 0 1 0 2 0 1 0-6 0 3 1-5 1 8 0 0 1-4 0-1 0 4 0-3 1 4 2-1 0-2 0-1 0-4 1 3 0 3 2 1 0 1 0-3 0 2 0-2 2-2 0 5 1 0 1 0 0-7 0 3 0 2 0 0 0-1 1-3 0 6 0-4 1 0 1 3 1-4 0 1 0 2 0 0 1-1 2 1 2 2 1-4 1-4 1 7 0-3 1-4 0-1 0 3 1 1 0 4 1 1 0-2 1-5 0 3 1-4 0 3 1 0 0 5 1 0 0 0 1-2 1-2 1 4 0-1 0 0 0-6 1 2 0 4 1-4 1 1 1-3 0 5 0-3 2 4 0-1 0 0 0 2 4-2 1 1 1 1 0-4 0-3 3 7 2-1 0-8 1 2 1 6 2 1 1 0 0-8 1 8 0 0 2 0 0-2 2 0 1-5 0 7 0-3 0 2 1 1 0-2 2 2 2 0 0-5 1 5 2-1 0-1 1-3 0 5 1 0 0-1 1 0 0-2 1-5 1 3 0 3 1 1 0-2 0-4 1 0 0 7 1-2 0 0 1 2 1-2 0 0 1-5 2 5 1-3 0 2 0 2 0-3 0-3 1 7 1-9 0 6 1-5 1 5 2 0 0 2 0-4 0-3 0 8 1-5 1 1 1 3 0-2 0 0 1 0 0-4 2 4 2 1 1-5 0 5 1 1 0 1 0-5 2-4 0 7 1-6 0 6 0 1 1-3 0 4 1-2 0-5 0 2 0-2 1 6 1 0 0 0 1-1 1 2 0-1 0 1 1-4 0 2 0-2 0 1 1 3 0-4 1-4-245 10 1 3 0 5 0 0 0-6 0 2 0-1 0 1 0-2 0 4 1-4 0 6 0 0 0-7 0 6 1 0 1-2 0-2 0-3 1 2 0 6 1-8 1 2 0 3 0-1 0-4 0 7 1-8 0 5 0-1 1 1 0 2 0-1 0-6 0 7 1 1 0-6 0 7 0-8 1 7 0-1 1-3 0 2 1 0 0 2 0-6 1 1 1-1 0 4 0-6 0 3 0-1 1-1 1 2 0 6 1-5 0 5 0-6 0 6 1-7 1 0 0-2 0 5 0 1 0-2 1 1 0-2 0-3 1 2 0 1 0 2 0 0 0 0 0 0 0-3 1 4 0-2 0 2 0 0 1-2 0-4 0 7 0 2 0 0 1-5 0-2 0 5 0 1 1-7 0 3 0 4 0-4 1-2 0 6 0-8 0 6 0-5 1 2 0 1 0-3 0 5 1-5 0 0 0 3 1 0 0 0 0 1 0-1 1 3 0-2 0 2 0 1 0-5 0 1 1 2 0-2 0 1 1-5 0 7 0-5 0 5 0-4 1 5 0-7 0 6 1-7 0 9 0-6 0-1 0 5 0 0 1-7 0 1 0 7 0-1 1 2 0-7 0 7 0-7 1 6 0 0 0-5 0 6 0-3 1-3 0-3 0 9 1-3 0 3 1-8 0 0 0 2 1 4 0-1 0-4 0 5 0-1 0 1 0-2 0-3 1 0 0 5 1-6 0 2 1 1 0 5 0-6 0 3 0 3 1-5 0-1 0 6 0-1 0-8 1 4 0 1 0-5 1 0 0 7 0-2 0-4 1 1 1-1 0 7 1-6 0 0 0 0 0 7 0-1 1-2 0 3 0-6 0 5 0-7 0 1 0 0 0 6 1 1 0-3 0-2 0-3 0-1 0 7 0-1 1 1 0-2 1 1 0-3 0 0 1-2 1 8 0-9 0 7 0-3 1-1 1 3 0 3 1-9 0 1 1 6 1 2 0-4 0-4 0 8 0-5 1 2 0-3 0-2 1 7 0-6 0 5 0 1 0-3 1 1 0-5 0 3 0-2 0 4 1 1 0 2 0 0 0 0 0-9 1 3 0 6 0-5 0-2 0 0 0 3 1-5 0 2 1-2 1 6 0-2 0 4 0-5 1 0 1 5 0 0 0 0 0-1 0 0 1-6 0 6 0 1 1-1 0-1 1 0 0-3 0 5 2-3 0-5 0 4 1 2 0 2 1-2 0-3 0 3 1 2 0-6 2 0 1 5 0 0 0 0 1-3 0-2 0 5 0 1 0-8 0 8 1-7 0 4 0-2 1-2 0 2 0 1 0 4 1-8 0 4 0 4 0-2 0-6 0 3 1 2 0-5 0 2 1 6 0-4 0 1 0 4 0-3 0 3 0 0 1-2 0 0 0-1 1 0 0-3 1 6 1-4 0 4 0-6 1 0 0 1 0 5 1-5 0-4 1 1 1 7 0-2 0-3 0 4 1-7 0 0 0 3 1 2 0-3 0-2 0 2 1 3 1-2 0 1 0-3 1 3 0 1 0 3 1-5 0 6 1 0 0-8 0 0 0 7 1-1 0 2 0-6 1 4 0-6 0 3 0 1 1 0 0-1 0 3 0-5 0 3 1-4 0 1 0 7 0-3 0-1 1-1 1 0 1-4 0 6 0-5 1-1 0 1 0 5 0-3 0 4 0-3 0-3 0 6 1-3 0-2 1 7 0-3 0-3 1 3 0 2 0-7 0 0 1 1 0 3 0-2 1 6 0-1 1 0 1-5 0 6 1-9 0 9 0-3 0-2 0 3 0 2 0-3 0-5 0 5 1-1 0 4 1-5 0 3 0 0 1-3 0-4 0 0 0 5 0-2 0-1 0 6 1-8 1 7 0 2 0-2 0 1 1-4 1 0 0-1 0 5 1-4 0-4 0 2 1 3 0 0 1-1 0 0 1 3 0 2 0-6 0-3 0 6 1-3 0 3 0 0 1-5 0 7 0-6 1 5 0 1 0-7 0 2 0-1 0 3 0-1 1 0 0 4 0 0 0-8 0 5 0-4 1 5 0-2 1-3 0 6 0-7 1 9 0-4 1 1 0 0 0 0 0-4 0 2 0-2 0 6 2-5 0 6 0-4 0-2 1 4 0-1 0-3 1 2 0 3 1 1 0-1 0-4 0 4 1 1 0-7 1-1 0 3 1-3 0 3 0 1 1 2 0-2 0 1 0-2 0 2 1-2 0 2 0 3 0-2 1 0 0 0 1-4 0 5 1-1 0-5 0-1 0 1 1-2 0 7 0 1 0-7 1 2 1 5 0-2 1-1 1-4 0 5 1-3 0-3 0 6 0-4 0 0 0-1 0 4 1-5 0 0 1 0 0 0 0 4 0 0 0-3 1 2 0 6 1-7 0 0 1 5 1 2 0-8 1 7 1-3 0 0 1 3 1-4 0 0 0 4 0 0 0-8 0 7 2 0 0 2 1-1 0-6 0 7 2 0 0-8 0 7 0-6 1 1 0-1 0 1 1-1 1-1 0 6 0-3 1 0 0 2 0-2 1-3 1 6 0-7 0 1 0 8 1-1 2-1 0-6 1 5 0-1 0-2 0 3 2-2 1-3 0 5 0-3 0 5 0-8 0 8 1-2 0 0 0-1 1 1 0-2 0-1 1 5 0-8 0 4 0-3 1 2 0 5 0-3 0-2 1 1 0-4 0 7 0-6 1 8 1-9 0 4 1-1 1-3 0 9 0-8 0 7 0-6 1 4 0-1 0-5 1 2 0-2 0 9 1-5 0-3 1 2 0-2 1 3 0 4 0-7 0 6 1-1 0-2 0 4 0-2 0-5 1 8 0-4 1-3 0 6 1 1 0-5 0-4 0 8 0 0 1-5 0 1 0 4 0-7 0 2 1 4 0-4 1 4 0-4 0 2 1 0 0-4 1 6 0-1 0 1 0-2 1 0 1-3 0 1 0-2 0 7 1-4 1 5 0 0 0-1 0 1 0-5 1 3 0-7 0 4 0-3 1 1 0 6 0-3 0-2 1 6 0-9 0 4 1-3 0 7 1-2 0 3 1-3 0 1 0-3 0 4 0-4 0 2 0 3 1-1 0-3 0 0 1 0 0-4 0-1 0 7 0-7 1 5 0 4 0-9 1 7 1 2 0-6 1-3 0 5 0-2 0 2 0 4 0-4 1 2 0-4 0 4 1-1 0 1 0-5 0 4 0 0 0-5 0 1 1 3 0 4 0-1 0-8 0 5 1 3 1 0 0-4 1-3 0 0 0 6 1 2 0-6 0 1 0 3 0 1 0-1 0 0 1-7 0 4 0-4 0 4 1 4 0-7 0 4 0 1 0-6 1 4 0-1 0 5 0-7 0 7 0-2 0 0 1-2 0-2 0-1 0 7 1-2 0 1 0-7 1 5 0 0 0-1 0 4 0-7 0 2 1 1 0-1 0-2 0 8 0-5 1-1 0 0 0 3 0 3 1-8 0 1 0 7 1-1 0-1 0 0 0-6 0 3 1 2 0 3 0 0 1-1 0-5 0 6 0-7 0 7 1 0 0 0 1-4 0 2 0-2-246 7 1 4 0 1 0-6 0 3 0-3 0-1 0 5 0-5 0 1 0 2 0 3 0-5 1 4 0 1 0-5 0 5 1-6 0 2 0-1 0 8 0-5 1-3 0 0 0 0 1 3 0-4 0 0 0 7 0-5 0 0 1 1 0-1 0 3 1-4 0 8 0-3 1-5 1 4 1 0 0 2 0-5 0 2 0-4 0 1 1 4 0-2 1 3 1-4 0-1 0 0 0 0 1 5 1-5 0 3 1-4 0 2 0 0 0 1 0-3 1 6 0 2 1-1 1-2 0 3 0-3 1-5 1 4 0 0 0-1 0 4 1-2 0 1 0-3 0 4 0-7 0 2 0-1 1 4 0-5 1 5 1-3 0 2 0 5 1-8 0 2 1 4 0-4 1 1 0-3 1 4 0-2 0-3 1 2 0 7 1-3 0 1 0-6 0 0 0-1 1 4 0-2 0 2 1-4 0 7 1-5 0 4 1-1 0-5 0 3 2 2 1-2 0-2 0 1 0 1 0 5 0-2 0 1 1-7 0 1 1 2 0-2 0 2 1 4 1-6 0 6 1 1 0-8 1 9 0-7 0 4 1-6 0 9 0-9 0 4 0-2 0 5 1-3 0-2 0 2 0 1 0 0 1 3 0-1 0-7 0 1 0-1 0 4 0 4 2-4 0-2 1-2 1 0 0 3 1 0 0 2 0-2 0 5 1 0 1-5 1 1 0-1 0 1 1-1 0-3 0 3 1-1 0 3 0-5 0 5 0 0 1-1 0-3 0 4 0 1 0-3 0-1 1-1 0 1 1-2 0 9 2-8 1 7 0-1 1-2 0 1 0 2 1-2 0 2 0-6 0 4 0 0 0-3 0-1 2 3 2 2 0-3 1 2 0-3 1-1 1 0 0 0 1 0 0 5 0-4 1-1 0-2 2 6 0-4 0 7 0-7 1 1 0 0 0 0 1 4 0-7 0 9 2-9 0 1 0 4 0-3 0 2 0 0 1-1 0-1 0 2 1-2 0-1 0 5 1-1 0 0 0 0 0-4 0 3 0 1 1-4 1 4 0-1 0-2 0-2 1 1 0 3 0 5 1-9 0 3 0 0 1-3 1 0 0 8 1-8 1 0 1 2 0 2 1-2 0 4 0-6 0 3 0 2 0-1 2 1 0 2 1-5 0-1 1 4 0-2 0 1 0 3 1-7 1 2 1 0 0 2 0-3 0 1 0 4 1-4 0 5 0 0 0-3 1 0 0 0 1-1 1 6 1-6 0-1 0-1 0 5 1-2 0-1 0 1 0 0 0-1 0-1 0 1 1-2 0 6 0-7 1 5 1-4 0 5 1 0 0 1 0-6 1 8 1-2 0-5 1 1 0 2 0 2 0 0 0-2 0 2 1-2 0-5 0 4 1-3 0 7 0 1 0-4 0-5 1 2 0 5 2 1 0-7 0 6 0-3 0-1 1-1 0 2 0 1 1 0 0 1 1-2 0 3 1-6 0 0 1 1 0 4 0 0 0-6 0 3 1 1 0-3 0 4 1-4 0 1 0 0 1 3 0 0 0-5 0 1 1 4 1-4 0 6 0-2 1 2 0-2 0-1 0-2 0 3 0 2 1 1 0-7 0 1 0 5 1-6 0 7 0-3 0-5 0 2 1 2 0 3 0 1 0 1 0 0 1-4 1-1 0 2 0-3 0 4 0-2 0-2 1-2 0 1 1 3 0 3 0-8 1 3 0-1 0 0 0 5 0-6 1 4 1-3 0-1 2 6 0-4 0 2 1-4 0 3 0 5 0-9 0 6 1 0 0-6 0 2 1 0 0 5 1-6 0 3 0 2 0-2 1 3 0 0 1-3 0 2 1-4 0 5 1-5 0 0 0 1 1-2 0 1 0 1 0-1 0 3 0 4 1-7 1 0 0 5 1 0 0-5 1-2 0 4 1-1 0 1 0 1 2-3 0-2 0 5 1-4 1 2 0 2 1-3 0 0 0 0 1-2 0 0 1 7 2-4 0 4 1 2 0-3 0-4 1 7 0-9 0 0 1 2 0 1 0 3 1-5 0 3 1-2 0 0 0 2 2-3 0 2 1-3 2 5 0 1 1-1 0-4 0 6 1-5 0 3 0 3 0-4 2-4 0 2 0 6 1-2 0-6 0 5 0 1 1 1 0 1 0-7 0 2 1 3 0 3 0-7 1 4 0 1 1-1 0-3 0 1 0-1 1-2 0-1 1 6 0-2 1 0 0-3 0 2 1-1 1 3 1 2 0-6 1 6 0-7 0 4 0 0 1 0 0 2 2-5 0-1 0 6 1-4 1 0 0-2 0 9 1 0 0-6 0 2 1-5 0 5 0 4 1-1 0-5 0 6 0-7 0-2 0 0 1 9 0-8 1 4 1 4 0-1 0-3 1-2 1-2 0 4 0 0 0 1 1-3 0-2 1 7 0-1 0-6 1 1 1 0 0 0 0 2 0-1 0-3 1 7 0-3 2-2 0 3 0-5 1 6 1-6 0 0 2 1 0 2 0 6 0-7 1 1 0 6 1-1 0 0 1-3 0-1 0 1 0-2 2 2 0-1 1-3 0 0 2 4 0-1 0 1 0-4 0 4 1-4 0 4 0 0 0-5 1 0 0 9 0-6 0 4 1 2 0-1 0-3 0-4 1 3 0 5 1-6 1-1 0 3 1-2 0-1 1 4 0-3 0-1 0 0 0 3 0-3 1 3 0 4 0-2 0-5 0 1 1 1 0-1 0-2 1 5 0 3 0-6 0 0 1 5 0 1 0-7 0 1 1 2 0-5 0 5 1-5 0 9 0-6 0 2 1 2 0-1 0-4 0 3 1 0 0-2 0 6 0 0 0-9 1 9 0-8 0 7 1-4 1 0 0-2 1-1 0 4 0 1 0 2 0-8 0 2 1 2 1 0 0 2 0-5 0 2 1-2 0 4 1 2-246 6 1 6 0-6 0 4 0-1 0-3 0-3 0 8 0 0 0-4 0 4 0-2 5-5 1-1 4 3 1 0 7 3 4-6 1 7 1-3 2-2 0 0 0-2 1 1 1 0 1 4 0-3 1 0 0-1 0 3 1 1 1-5 8 0 4 1 1 3 0-1 1-3 0 5 0-5 1 1 0-1 4 1 2 4 3-4 1 2 2-2 2 5 0-5 2 0 0 4 2-2 0-3 4 1 2 5 1 3 0-1 1-4 1 0 1-1 4-1 2-1 1 1 3 2 0 5 1-8 3 0 0 0 1 1 0 7 1-1 1-4 1-1 0-1 5-2 1 3 2 4 3-4 2 1 0 0 1 1 1-2 1 5 0-8 1 2 6 2 2 3 1-5 5 2 2-1 2-2 0 3 1-1 0-2 2 0 0 0 1 3 1 3 0-5 5 6 3-3 1-4 1 4 1 2 1-7 2 9 1-7 1-2 0 5 1 1 0-2 4-3 3 3 1-4 9 4 5-4 1 1 1-1 0 0 2 4 0 2 2-4 3-2 3 2 5 0 3 1 1-1 0 2 3 1 1-2 2 1 0-3 2 3 1-1 2-2 1 2 3 2 3-5 1 0 0 7 1-2 0-4 0 8 0-6 1 4 1-4 3-2 1 0 0-1 1 1 0 0 1 2 3-1 0 3 3-1 1-3 0 0 0-1 3 4 2-1 1-2 0-1 2 1 1 2 2 4 0-5 1-1 4-1 0 2 1 6-238 2 30 3 6-3 36 4 23-3 9 2 6-2 10 0" style="marker:url(#mf)"/><path d="m575 1540 23 1-202 11 200 6 17-3 4 2 1-4 4 5 4-2 17 1 11 1-99 11 27-6 17 2 5 1 7 2 1-4 1-1 4 1 8 3 2 0 0 1 20-8 8 8 7-7 0 5-236 6 22 5 9 2 22-7 35-1 9 4 0-1 12-2 12 1 10 2 27-2 2 6 0-5 3 1 7 4 1-2 2-1 2 1 1 0 2-5 8 6 2-1 1-6 1 3 1 1 1-1 1-2 0 1 1 0 2 2 0 0 0-5 1 4 1 1 0 1 1 3 1-9 0 0 1 7 0 2 0-4 4-5 1 2 4 1 0 2 3-1 6 2 12-1 0-4 5 6 1-1-242 9 31 0 4 4 22-3 8-3 33 2 1-2 11 5 0 0 5-2 3 1 3 1 3-1 6-5 18 0 1 1 10-2 3 3 3 2 6-3 1-1 6 4 0-4 2 5 1-1 3 3 1-3 1-4 1-2 0 0 1 5 0 3 0 1 1-7 0 4 1-4 3 4 1-4 1 6 0-3 1-5 0 3 2 1 0 0 1 1 1-4 1 7 1-4 1-2 1 3 0 1 1 2 0-5 2-1 2 6 1-2 1 3 1-2 1-4 0-3 1 6 1 3 1-5 1-4 2 5 0 0 0-4 1 2 1-1 2-1 0 4 1-4 3-1 0 5 5-5 0 4 4 1 4 4 2-5 0 3 2-3-261 15 3-6 3 6 7-1 3-6 14 1 9 0 15 2 11 4 48-8 9 0 2 8 6-9 1 5 2-2 0 0 1 1 9 5 9-3 1 0 2-3 11-3 5 2 4 6 4-4 1-2 2 5 1-6 0 3 4-4 1 8 0-5 1 1 4 0 0 3 0-1 2-6 1 1 1 7 0-6 0 1 0 2 3 1 0 3 1-8 1 8 0 0 1 0 1-6 0 2 0-1 0-3 2-1 2 2 0 2 1-3 2 0 0 0 2 8 0-7 1 5 1 1 1-1 0-1 2-6 0 8 0-1 0-7 2 8 0-8 3 5 0 4 0-3 1-2 1 0 0 1 0-4 1 2 0 2 1-4 2 7 1-6 0 6 0-7 0 1 4-1 2 7 2-5 1 0 1 4 0 2 1-2 2 1 1-7 0 2 3 5 0-1 1-5 1 7 1-1 2-6 0 1 0-3 4 8 1-4 2-4 0 2 0-1 2 2-264 10 28-2 31 6 41-7 28 8 3-4 0-2 24-2 10 0 8 0 0 9 3-5 1 2 1 0 4 3 4-7 1 7 3-5 1-1 3 1 1-4 1 5 2-2 1 5 4-5 0 5 3-6 1-2 0 4 1 2 0-2 0-3 1 7 0-8 1 2 2 6 0-7 1 5 0-2 0 4 2-6 1 4 1-5 4 0 0-1 3 1 1 0 1 1 0 2 1-4 2 1 3 6 0 1 1 1 1 0 1-2 1-6 1 7 0-8 0 7 0-7 2 8 0-6 1 3 1 3 1-4 1-2 2 1 0 6 1-9 2 9 1-2 1-1 1-6 2 3 2-1 0 6 1-8 1 0 0 3 1 5 0 1 1-3 0 3 0-2 0-3 1 1 1 3 0-1 0-4 1 0 1 2-264 13 37-1 15-4 30 6 21-5 13-2 3 6 3-4 1 5 6-2 3-4 6-1 6 1 1 4 12-7 15 6 1-6 5 1 6 4 0 4 1-8 3 5 0-4 4 6 3 1 3-1 1-3 0 2 1 1 1-8 0 1 2 3 0-1 2 3 0 2 1-1 5-5 1 3 1 2 0-2 1 3 0-8 2 5 1-4 0 6 1 0 0-4 0 2 2-3 1-2 1 0 0 6 0-3 0-3 1 3 2 4 2-7 2 9 1-8 0-1 0 3 0-2 0 3 2 4 1-3 2 0 2-4 1 7 1-3 5-3 1 2 0 4 0-2 2 3 0-4 0 4 0-9 1 8 2-8 0 5 0 3 0-3 1 2 4-5 1 1 0 0 2 0 0 5 2-3 1 2 3 0 0-5-258 17 10-2 72 1 2-4 2 2 22 2 1-3 15-2 1 5 9-3 1 0 2-2 8-3 2 9 16-5 1-4 1 3 1 1 2-3 7-1 4 3 0 4 5-5 5-1 2 5 1-2 0-3 2 3 2-3 1 3 3 0 3 3 0 1 1-7 1 5 0-2 2 4 1-8 1 0 5 9 0 0 3-9 2 6 0 3 0-3 0 2 2-3 2-2 1 5 3-6 0-2 1 2 1 1 2 3 1-5 2 0 6 0 1-1 1 6 2-1 1-3 0-1 5 2 1 3 1-1 1 4 4 0-268 8 31-5 5 1 6 2 38 2 2-6 19 3 17-4 13 4 16-4 24 0 7 5 2 2 9-5 0-2 4 1 2 6 3-4 3-2 2 4 7 1 0 2 1-8 1 0 6 1 11 1 2-2 2 5 7 4 2-1 0-7 1 6 3-7 3 0 2 2 7 5 3-1 1-2-248 10 2 5 41-6 2 5 34-5 36 6 19-2 17-1 11-2 49-3 4 1 26 1 3 5 10 0 0 1-255 4 200-3-108 14 63-2 10-1-160 13 126 2 32-1-177 15 0 0 1 0 1 0 1 0 1 0 1 0 1 0 0 0 1 0 1 0 1 0 1 0 1 0 1 0 0 0 1 0 1 0 1 0 1 0 1 0 0 0 1 0 1 0 1 0 1 0 1 0 1 0 0 0 1 0 1 0 1 0 1 0 1 0 1 0 0 0 1 0 1 0 1 0 1 0 1 0 1 0 0 0 1 0 1 0 1 0 1 0 1 0 0 0 1 0 1 0 1 0 1 0 1 0 1 0 0 0 1 0 1 0 1 0 1 0 1 0 1 0 0 0 1 0 1 0 1 0 1 0 1 0 1 0 0 0 1 0 1 0 1 0 1 0 1 0 1 0 0 0 1 0 1 0 1 0 1 0 1 0 0 0 1 0 1 0 1 0 1 0 1 0 1 0 0 0 1 0 1 0 1 0 1 0 1 0 1 0 0 0 1 0 1 0 1 0 1 0 1 0 1 0 0 0 1 0 1 0 1 0 1 0 1 0 0 0 1 0 1 0 1 0 1 0 1 0 1 0 0 0 1 0 1 0 1 0 1 0 1 0 1 0 0 0 1 0 1 0 1 0 1 0 1 0 1 0 0 0 1 0 1 0 1 0 1 0 1 0 0 0 1 0 1 0 1 0 1 0 1 0 1 0 0 0 1 0 1 0 1 0 1 0 1 0 1 0 0 0 1 0 1 0 1 0 1 0 1 0 1 0 0 0 1 0 1 0 1 0 1 0 1 0 0 0 1 0 1 0 1 0 1 0 1 0 1 0 0 0 1 0 1 0 1 0 1 0 1 0 1 0 0 0 1 0 1 0 1 0 1 0 1 0 1 0 0 0 1 0 1 0 1 0 1 0 1 0 0 0 1 0 1 0 1 0 1 0 1 0 1 0 0 0 1 0 1 0 1 0 1 0 1 0 1 0 0 0 1 0 1 0 1 0 1 0 1 0 1 0 0 0 1 0 1 0 1 0 1 0 1 0 0 0 1 0 1 0 1 0 1 0 1 0 1 0 0 0 1 0 1 0 1 0 1 0 1 0 1 0 0 0 1 0 1 0 1 0 1 0 1 0 1 0 0 0 1 0 1 0 1 0 1 0 1 0 0 0 1 0 1 0 1 0 1 0 1 0 1 0 0 0 1 0 1 0 1 0 1 0 1 0 1 0 0 0 1 0 1 0 1 0 1 0 1 0 1 0 0 0 1 0 1 0 1 0 1 0 1 0 1 0 0 0 1 0 1 0 1 0 1 0 1 0 0 0 1 0 1 0 1 0 1 0 1 0 1 0 0 0 1 0 1 0 1 0 1 0 1 0 1 0 0 0 1 0 1 0 1 0 1 0 1 0 1 0 0 0 1 0 1 0 1 0 1 0 1 0 0 0 1 0 1 0 1 0 1 0 1 0 1 0 0 0 1 0 1 0 1 0 1 0 1 0 1 0 0 0" style="marker:url(#mf)"/></g>
<text x="-0.5" y="631.9" font-size="12.3" font-weight="bold">f</text><text x="30.7" y="646.8" font-size="9.2" font-weight="bold">Naive−like</text><line x1="30.7" y1="653.5" x2="30.7" y2="731.1" stroke="#444" stroke-width="0.8"/><line x1="30.3" y1="730.7" x2="167.3" y2="730.7" stroke="#444" stroke-width="0.8"/><line x1="28.5" y1="657.1" x2="30.7" y2="657.1" stroke="#444" stroke-width="0.7"/><text x="27.7" y="659.8" font-size="7.6" text-anchor="end" fill="#333">2.0</text><line x1="28.5" y1="671.4" x2="30.7" y2="671.4" stroke="#444" stroke-width="0.7"/><text x="27.7" y="674.1" font-size="7.6" text-anchor="end" fill="#333">1.5</text><line x1="28.5" y1="685.5" x2="30.7" y2="685.5" stroke="#444" stroke-width="0.7"/><text x="27.7" y="688.2" font-size="7.6" text-anchor="end" fill="#333">1.0</text><line x1="28.5" y1="699.5" x2="30.7" y2="699.5" stroke="#444" stroke-width="0.7"/><text x="27.7" y="702.2" font-size="7.6" text-anchor="end" fill="#333">0.5</text><line x1="28.5" y1="713.3" x2="30.7" y2="713.3" stroke="#444" stroke-width="0.7"/><text x="27.7" y="716" font-size="7.6" text-anchor="end" fill="#333">0.0</text><line x1="28.5" y1="727.6" x2="30.7" y2="727.6" stroke="#444" stroke-width="0.7"/><text x="27.7" y="730.3" font-size="7.6" text-anchor="end" fill="#333">−0.5</text><line x1="35.8" y1="730.7" x2="35.8" y2="732.9" stroke="#444" stroke-width="0.7"/><text x="35.8" y="740" font-size="7.6" text-anchor="middle" fill="#333">0.0</text><line x1="69" y1="730.7" x2="69" y2="732.9" stroke="#444" stroke-width="0.7"/><text x="69" y="740" font-size="7.6" text-anchor="middle" fill="#333">2.5</text><line x1="101.7" y1="730.7" x2="101.7" y2="732.9" stroke="#444" stroke-width="0.7"/><text x="101.7" y="740" font-size="7.6" text-anchor="middle" fill="#333">5.0</text><line x1="134.9" y1="730.7" x2="134.9" y2="732.9" stroke="#444" stroke-width="0.7"/><text x="134.9" y="740" font-size="7.6" text-anchor="middle" fill="#333">7.5</text><text x="99.5" y="749" font-size="8.8" text-anchor="middle" fill="#222">Pseudotime</text><text x="10.5" y="691.8" font-size="9.2" text-anchor="middle" fill="#222" transform="rotate(-90 10.5 691.8)">Score</text><path d="M35.8 684.0C37.5 685.0 42.2 687.7 46.0 689.8C49.8 691.9 55.0 695.1 58.8 696.7C62.6 698.3 64.8 698.8 69.0 699.3C73.2 699.8 80.0 700.0 84.3 700.0C88.5 700.0 91.1 699.4 94.5 699.5C97.9 699.6 101.4 700.3 104.8 700.8C108.2 701.3 111.2 701.8 115.0 702.3C118.8 702.8 123.9 703.1 127.7 703.9C131.5 704.7 134.6 706.1 138.0 707.0C141.4 707.9 145.2 709.0 148.2 709.5C151.2 710.0 153.7 709.8 155.9 709.7C158.1 709.6 160.6 709.1 161.5 709.0" fill="none" stroke="#5a6cc4" stroke-width="0.9" stroke-linejoin="round"/><text x="195.5" y="646.8" font-size="9.2" font-weight="bold">Dysfunction</text><line x1="195" y1="651.5" x2="195" y2="731.1" stroke="#444" stroke-width="0.8"/><line x1="194.6" y1="730.7" x2="338.6" y2="730.7" stroke="#444" stroke-width="0.8"/><line x1="192.8" y1="675.8" x2="195" y2="675.8" stroke="#444" stroke-width="0.7"/><text x="192" y="678.5" font-size="7.6" text-anchor="end" fill="#333">1</text><line x1="192.8" y1="702.6" x2="195" y2="702.6" stroke="#444" stroke-width="0.7"/><text x="192" y="705.3" font-size="7.6" text-anchor="end" fill="#333">0</text><line x1="192.8" y1="729.4" x2="195" y2="729.4" stroke="#444" stroke-width="0.7"/><text x="192" y="732.1" font-size="7.6" text-anchor="end" fill="#333">−1</text><line x1="201.2" y1="730.7" x2="201.2" y2="732.9" stroke="#444" stroke-width="0.7"/><text x="201.2" y="740" font-size="7.6" text-anchor="middle" fill="#333">0.0</text><line x1="235.7" y1="730.7" x2="235.7" y2="732.9" stroke="#444" stroke-width="0.7"/><text x="235.7" y="740" font-size="7.6" text-anchor="middle" fill="#333">2.5</text><line x1="270.2" y1="730.7" x2="270.2" y2="732.9" stroke="#444" stroke-width="0.7"/><text x="270.2" y="740" font-size="7.6" text-anchor="middle" fill="#333">5.0</text><line x1="304.9" y1="730.7" x2="304.9" y2="732.9" stroke="#444" stroke-width="0.7"/><text x="304.9" y="740" font-size="7.6" text-anchor="middle" fill="#333">7.5</text><text x="267.3" y="749" font-size="8.8" text-anchor="middle" fill="#222">Pseudotime</text><text x="181" y="691.1" font-size="9.2" text-anchor="middle" fill="#222" transform="rotate(-90 181 691.1)">Score</text><path d="M201.2 713.3C202.8 712.4 207.6 708.9 210.9 707.7C214.2 706.5 216.8 706.2 221.1 705.9C225.3 705.6 230.9 706.1 236.4 705.9C241.9 705.7 248.3 705.3 254.3 704.9C260.3 704.5 267.1 704.0 272.2 703.4C277.3 702.8 280.8 702.3 285.0 701.3C289.2 700.3 293.4 699.1 297.7 697.5C301.9 695.9 306.7 693.0 310.5 691.6C314.3 690.2 317.3 689.3 320.7 689.1C324.1 688.9 329.0 690.3 331.0 690.6C333.0 690.9 332.2 691.0 332.5 691.1" fill="none" stroke="#5a6cc4" stroke-width="0.9" stroke-linejoin="round"/><text x="34.5" y="764.5" font-size="9.2" font-weight="bold">Proliferation</text><line x1="33.2" y1="769.2" x2="33.2" y2="848.8" stroke="#444" stroke-width="0.8"/><line x1="32.8" y1="848.4" x2="167.3" y2="848.4" stroke="#444" stroke-width="0.8"/><line x1="31" y1="785.8" x2="33.2" y2="785.8" stroke="#444" stroke-width="0.7"/><text x="30.2" y="788.5" font-size="7.6" text-anchor="end" fill="#333">0.50</text><line x1="31" y1="806.2" x2="33.2" y2="806.2" stroke="#444" stroke-width="0.7"/><text x="30.2" y="808.9" font-size="7.6" text-anchor="end" fill="#333">0.25</text><line x1="31" y1="826.1" x2="33.2" y2="826.1" stroke="#444" stroke-width="0.7"/><text x="30.2" y="828.8" font-size="7.6" text-anchor="end" fill="#333">0.00</text><line x1="31" y1="846.6" x2="33.2" y2="846.6" stroke="#444" stroke-width="0.7"/><text x="30.2" y="849.3" font-size="7.6" text-anchor="end" fill="#333">−0.25</text><line x1="39.1" y1="848.4" x2="39.1" y2="850.6" stroke="#444" stroke-width="0.7"/><text x="39.1" y="857.7" font-size="7.6" text-anchor="middle" fill="#333">0.0</text><line x1="71.5" y1="848.4" x2="71.5" y2="850.6" stroke="#444" stroke-width="0.7"/><text x="71.5" y="857.7" font-size="7.6" text-anchor="middle" fill="#333">2.5</text><line x1="104.2" y1="848.4" x2="104.2" y2="850.6" stroke="#444" stroke-width="0.7"/><text x="104.2" y="857.7" font-size="7.6" text-anchor="middle" fill="#333">5.0</text><line x1="136.7" y1="848.4" x2="136.7" y2="850.6" stroke="#444" stroke-width="0.7"/><text x="136.7" y="857.7" font-size="7.6" text-anchor="middle" fill="#333">7.5</text><text x="100.75" y="866" font-size="8.8" text-anchor="middle" fill="#222">Pseudotime</text><text x="10.5" y="808.8" font-size="9.2" text-anchor="middle" fill="#222" transform="rotate(-90 10.5 808.8)">Score</text><path d="M39.1 832.5C43.2 832.2 55.5 831.1 63.9 830.5C72.3 829.9 82.6 829.1 89.4 828.7C96.2 828.3 101.4 828.5 104.8 827.9C108.2 827.3 107.8 826.9 109.9 825.4C112.0 823.9 115.0 820.7 117.5 819.0C120.0 817.3 122.6 815.3 125.2 815.1C127.8 814.9 129.9 816.1 132.9 817.7C135.9 819.3 139.7 823.0 143.1 824.6C146.5 826.2 150.2 826.7 153.3 827.2C156.4 827.8 160.1 827.8 161.5 827.9" fill="none" stroke="#5a6cc4" stroke-width="0.9" stroke-linejoin="round"/><text x="191.2" y="764.5" font-size="9.2" font-weight="bold">CXCL13</text><line x1="191" y1="769.2" x2="191" y2="848.8" stroke="#444" stroke-width="0.8"/><line x1="190.6" y1="848.4" x2="338.6" y2="848.4" stroke="#444" stroke-width="0.8"/><line x1="188.8" y1="776.3" x2="191" y2="776.3" stroke="#444" stroke-width="0.7"/><text x="188" y="779" font-size="7.6" text-anchor="end" fill="#333">6</text><line x1="188.8" y1="799.3" x2="191" y2="799.3" stroke="#444" stroke-width="0.7"/><text x="188" y="802" font-size="7.6" text-anchor="end" fill="#333">4</text><line x1="188.8" y1="822.3" x2="191" y2="822.3" stroke="#444" stroke-width="0.7"/><text x="188" y="825" font-size="7.6" text-anchor="end" fill="#333">2</text><line x1="188.8" y1="845" x2="191" y2="845" stroke="#444" stroke-width="0.7"/><text x="188" y="847.7" font-size="7.6" text-anchor="end" fill="#333">0</text><line x1="196.8" y1="848.4" x2="196.8" y2="850.6" stroke="#444" stroke-width="0.7"/><text x="196.8" y="857.7" font-size="7.6" text-anchor="middle" fill="#333">0.0</text><line x1="232.6" y1="848.4" x2="232.6" y2="850.6" stroke="#444" stroke-width="0.7"/><text x="232.6" y="857.7" font-size="7.6" text-anchor="middle" fill="#333">2.5</text><line x1="268.4" y1="848.4" x2="268.4" y2="850.6" stroke="#444" stroke-width="0.7"/><text x="268.4" y="857.7" font-size="7.6" text-anchor="middle" fill="#333">5.0</text><line x1="304.1" y1="848.4" x2="304.1" y2="850.6" stroke="#444" stroke-width="0.7"/><text x="304.1" y="857.7" font-size="7.6" text-anchor="middle" fill="#333">7.5</text><text x="265.3" y="866" font-size="8.8" text-anchor="middle" fill="#222">Pseudotime</text><text x="181" y="808.8" font-size="9.2" text-anchor="middle" fill="#222" transform="rotate(-90 181 808.8)">Expression</text><path d="M196.8 844.0C200.9 844.0 212.8 844.2 221.1 844.3C229.4 844.4 239.4 844.7 246.6 844.5C253.8 844.3 259.4 843.3 264.5 843.0C269.6 842.7 273.9 843.1 277.3 842.5C280.7 841.9 282.0 841.2 285.0 839.4C288.0 837.6 291.8 834.6 295.2 831.8C298.6 829.0 302.0 825.4 305.4 822.8C308.8 820.2 312.2 817.8 315.6 816.0C319.0 814.2 323.1 812.8 325.9 811.8C328.7 810.8 331.1 810.5 332.2 810.3" fill="none" stroke="#5a6cc4" stroke-width="0.9" stroke-linejoin="round"/>

<text x="353.4" y="631.8" font-size="12.5" font-weight="bold">g</text><line x1="384.5" y1="644.5" x2="384.5" y2="877.5" stroke="#555" stroke-width="0.8"/><line x1="382.2" y1="712.5" x2="384.5" y2="712.5" stroke="#555" stroke-width="0.7"/><text x="381.5" y="715.4" font-size="8.2" text-anchor="end" fill="#333">0.2</text><line x1="382.2" y1="788.2" x2="384.5" y2="788.2" stroke="#555" stroke-width="0.7"/><text x="381.5" y="791.1" font-size="8.2" text-anchor="end" fill="#333">0.0</text><line x1="382.2" y1="863" x2="384.5" y2="863" stroke="#555" stroke-width="0.7"/><text x="381.5" y="865.9" font-size="8.2" text-anchor="end" fill="#333">−0.2</text><line x1="384.5" y1="788.2" x2="676" y2="788.2" stroke="#111" stroke-width="0.9"/><path d="M681.5 788.2 L674.5 785.4 L674.5 791Z" fill="#111"/><text x="534.4" y="798.2" font-size="8.7" text-anchor="middle" fill="#111">Pseudo−timeline</text><text x="363.2" y="783.8" font-size="9.4" text-anchor="middle" fill="#111" transform="rotate(-90 363.2 783.8)">Quality of fitting (R^2)</text><circle cx="394.3" cy="751.3" r="1.1" fill="#2aa52a"/><text x="399.5" y="753.9" font-size="7.5" fill="#111">TFs</text><circle cx="394.3" cy="763" r="1.1" fill="#f07070"/><text x="399.5" y="765.6" font-size="7.5" fill="#111">Surface proteins</text><circle cx="394.3" cy="775" r="1.1" fill="#7393d6"/><text x="399.5" y="777.6" font-size="7.5" fill="#111">All genes</text><line x1="600.6" y1="713.2" x2="607.3" y2="726.4" stroke="#f07070" stroke-width="0.7"/><line x1="585.7" y1="719.4" x2="594.9" y2="720.6" stroke="#7393d6" stroke-width="0.7"/><line x1="565.9" y1="729.3" x2="607.3" y2="732.3" stroke="#2aa52a" stroke-width="0.7"/><line x1="584.5" y1="740.5" x2="608.8" y2="746.2" stroke="#7393d6" stroke-width="0.7"/><line x1="587.5" y1="750.4" x2="612.5" y2="749.4" stroke="#7393d6" stroke-width="0.7"/><line x1="617.5" y1="754.6" x2="647.8" y2="752.9" stroke="#2aa52a" stroke-width="0.7"/><line x1="603.5" y1="756" x2="613.5" y2="751.5" stroke="#f07070" stroke-width="0.7"/><line x1="593.9" y1="767" x2="615.5" y2="752.9" stroke="#7393d6" stroke-width="0.7"/><line x1="624.5" y1="779" x2="632" y2="767.8" stroke="#7393d6" stroke-width="0.7"/><line x1="629.5" y1="761.5" x2="637.5" y2="758.5" stroke="#f07070" stroke-width="0.7"/><line x1="433.8" y1="809.5" x2="446" y2="805.5" stroke="#f07070" stroke-width="0.7"/><line x1="431.5" y1="826" x2="445.5" y2="825" stroke="#2aa52a" stroke-width="0.7"/><line x1="445.5" y1="825" x2="456" y2="818" stroke="#2aa52a" stroke-width="0.7"/><line x1="426.3" y1="836.3" x2="449.5" y2="832" stroke="#2aa52a" stroke-width="0.7"/><line x1="453.8" y1="840" x2="463" y2="832" stroke="#f07070" stroke-width="0.7"/><line x1="428.8" y1="846" x2="449.5" y2="843.8" stroke="#2aa52a" stroke-width="0.7"/><line x1="453.8" y1="840" x2="458" y2="846" stroke="#f07070" stroke-width="0.7"/><line x1="432.5" y1="862.5" x2="452" y2="844.5" stroke="#2aa52a" stroke-width="0.7"/><circle cx="596.9" cy="654.4" r="1.25" fill="#7393d6"/><circle cx="589.4" cy="695.1" r="1.25" fill="#7393d6"/><circle cx="607.3" cy="726.4" r="1.25" fill="#f07070"/><circle cx="594.9" cy="720.6" r="1.25" fill="#7393d6"/><circle cx="607.3" cy="732.3" r="1.25" fill="#2aa52a"/><circle cx="614.3" cy="735" r="1.25" fill="#f07070"/><circle cx="614.3" cy="737" r="1.25" fill="#f07070"/><circle cx="610.5" cy="741" r="1.25" fill="#7393d6"/><circle cx="608.8" cy="746.2" r="1.25" fill="#7393d6"/><circle cx="613.8" cy="745" r="1.25" fill="#7393d6"/><circle cx="612.5" cy="749.4" r="1.25" fill="#7393d6"/><circle cx="617.5" cy="754.6" r="1.25" fill="#2aa52a"/><circle cx="615.5" cy="752.2" r="1.25" fill="#f07070"/><circle cx="628.6" cy="762.1" r="1.25" fill="#f07070"/><circle cx="631.1" cy="766.6" r="1.25" fill="#f07070"/><circle cx="634.9" cy="768.5" r="1.25" fill="#7393d6"/><circle cx="655.2" cy="775.2" r="1.25" fill="#7393d6"/><circle cx="615" cy="751.5" r="1.25" fill="#7393d6"/><circle cx="416.8" cy="806.3" r="1.25" fill="#2aa52a"/><circle cx="424.5" cy="811.3" r="1.25" fill="#f07070"/><circle cx="428.3" cy="810" r="1.25" fill="#f07070"/><circle cx="433.8" cy="809.5" r="1.25" fill="#f07070"/><circle cx="477.5" cy="808" r="1.25" fill="#2aa52a"/><circle cx="440.5" cy="823" r="1.25" fill="#f07070"/><circle cx="445.5" cy="825" r="1.25" fill="#2aa52a"/><circle cx="449.5" cy="832" r="1.25" fill="#2aa52a"/><circle cx="453.8" cy="840" r="1.25" fill="#f07070"/><circle cx="452" cy="838.5" r="1.25" fill="#f07070"/><circle cx="478.8" cy="836.3" r="1.25" fill="#7393d6"/><circle cx="449.5" cy="843.8" r="1.25" fill="#2aa52a"/><circle cx="452" cy="844.5" r="1.25" fill="#2aa52a"/><circle cx="454.5" cy="854.5" r="1.25" fill="#f07070"/><circle cx="518.8" cy="866.7" r="1.25" fill="#f07070"/><text x="562.1" y="662.42" font-size="7" font-weight="bold" fill="#7393d6">CXCL13</text><text x="574" y="692.62" font-size="7" font-weight="bold" fill="#7393d6">GZMB</text><text x="570.1" y="712.02" font-size="7" font-weight="bold" fill="#f07070">ENTPD1</text><text x="564.1" y="721.92" font-size="7" font-weight="bold" fill="#7393d6">GNLY</text><text x="528.6" y="733.912" font-size="14.2" font-weight="bold" fill="#2aa52a">SOX4</text><text x="611.8" y="732.32" font-size="7" font-weight="bold" fill="#f07070">TNFRSF9</text><text x="616.7" y="740.52" font-size="7" font-weight="bold" fill="#f07070">KLRC1</text><text x="589" y="740.52" font-size="7" font-weight="bold" fill="#7393d6">CCL3</text><text x="562.1" y="742.52" font-size="7" font-weight="bold" fill="#7393d6">TYMS</text><text x="618" y="747.22" font-size="7" font-weight="bold" fill="#7393d6">HAVCR2</text><text x="567.6" y="752.92" font-size="7" font-weight="bold" fill="#7393d6">LAG3</text><text x="647.8" y="757.312" font-size="14.2" font-weight="bold" fill="#2aa52a">RBPJ</text><text x="581.5" y="760.42" font-size="7" font-weight="bold" fill="#f07070">GZMH</text><text x="637.8" y="763.32" font-size="7" font-weight="bold" fill="#f07070">ITGAE</text><text x="568.4" y="770.32" font-size="7" font-weight="bold" fill="#7393d6">CTLA4</text><text x="599.4" y="770.32" font-size="7" font-weight="bold" fill="#f07070">SLC5A3</text><text x="637.8" y="771.02" font-size="7" font-weight="bold" fill="#7393d6">LGALS1</text><text x="576.5" y="786.084" font-size="14.4" font-weight="bold" fill="#83a5dc">DUSP4</text><text x="647.8" y="783.92" font-size="7" font-weight="bold" fill="#7393d6">MKI67</text><text x="390" y="807.52" font-size="7" font-weight="bold" fill="#2aa52a">FOXP1</text><text x="422" y="806.32" font-size="7" font-weight="bold" fill="#f07070">CD28</text><text x="446.3" y="805.52" font-size="7" font-weight="bold" fill="#f07070">CD55</text><text x="472.5" y="805.52" font-size="7" font-weight="bold" fill="#2aa52a">FOS</text><text x="396.3" y="816.82" font-size="7" font-weight="bold" fill="#f07070">KCNA3</text><text x="427.5" y="820.02" font-size="7" font-weight="bold" fill="#f07070">SORL1</text><text x="456.3" y="822.02" font-size="7" font-weight="bold" fill="#2aa52a">SATB1</text><text x="413.8" y="830.02" font-size="7" font-weight="bold" fill="#2aa52a">KLF3</text><text x="389.5" y="842.184" font-size="14.4" font-weight="bold" fill="#2aa52a">KLF2</text><text x="463" y="833.82" font-size="7" font-weight="bold" fill="#f07070">SELL</text><text x="464.5" y="844.32" font-size="7" font-weight="bold" fill="#7393d6">TXNIP</text><text x="411.3" y="850.52" font-size="7" font-weight="bold" fill="#2aa52a">LEF1</text><text x="456.8" y="852.02" font-size="7" font-weight="bold" fill="#f07070">LTB</text><text x="447.5" y="862.02" font-size="7" font-weight="bold" fill="#f07070">CCR7</text><text x="400.5" y="874.612" font-size="14.2" font-weight="bold" fill="#2aa52a">TCF7</text><text x="511.3" y="862.02" font-size="7" font-weight="bold" fill="#f07070">IL7R</text>
<g transform="scale(0.5)" fill="none" stroke="none"><path d="m99 1808 1-1 2 1 1-1 1 0 0 0 2 2 1-2 2 1 0 1 1-3 0 1 3 0 0 1 1-1-18 4 1 1 3 5 2-5 1 1 4-1 1 0 0 5 3-4 2 1 0 5 1-8 0 3 2 4 2-1 0-7 2 5 0 2 0 0 1 1-28 5 2-2 4 1 0 2 0 2 2-2 0 1 3-3 2 7 1-6 1 3 1 0 0-4 0 2 1-1 0-2 1-1 2 2 3 1 1 2 2-2 0 2 0-5 2 2 0 5 0-3 3-1 0-2 0 6 1 0 0 1 4-3-31 9 0 3 1-5 0 7 0-7 1 7 0-3 2-5 0 2 1 3 0-5 1 7 0-2 1-4 0 2 1-2 0 1 0 5 1-8 1 3 1 0 0 3 1 3 0-6 0 0 1-3 0 5 0 3 1-3 0 4 0-2 2-2 1 0 1-5 1 3 1 4 0-7 1 3 1 5 1-5 0-2 1 3 0-1 1 0 0 4 1-4 0-1 1 0 0-2 0 4 2 0 0-1 1 0 1 0 1 1 1 3 1-7 0 6 0-4 1 7 0-4 1 3 1-4 0 1 1-1 4 1 3 3 4-2 0 0 1-2 1 5 1-2-51 7 2 3 1-5 1 4 0-4 0 4 1 3 0-4 1-2 0 0 0 2 0 2 1-2 0-5 1 1 0-1 1 6 0 3 2-9 0 7 1-4 1 5 0-3 1-2 1 1 0-1 2 6 1-1 0-3 0-3 1 7 0-3 0 1 2-3 0 4 6-1 1-5 1 6 0-1 5 2 0-3 0 1 0-1 1-4 0 0 2 6 1-8 0 9 1-6 0 6 1-4 0-5 1 6 2 3 6-8 2-1-51 11 1 6 2 0 2-6 1 1 2-1 1 4 1-2 1 4 0-7 0 1 1 4 0 1 1-6 1 2 0 3 1 3 3 1 0-4 1 4 1-9 0 2 1 4 1 1 0-1 1-4 0 7 3-3 1-1 1 0 1-2 0 2 1-3 0-1 0 7 0-7 1 1 0 5 1-4 1-2 0 8 1-4 0-3 1 3 0-4 2 0 0 0 1 4 0 3 1 1 1-1 0-2 0-3 0-3 1 7 1-6 0 8 1-3 0-3 0-3 1 7 1-3 0-3-44 17 2-6 1 1 0 2 1-4 0 2 0 5 0 0 0-4 1-1 0 2 3-2 1 2 1 0 1-4 1 6 0-5 0 2 1-4 1 0 3 4 0 1 1-1 1-4 2 3 0-1 2-2 0 2 1 3 1-5 0 2 0 7 2-8 0 3 1 0 0 0 1 0 1 3 0 0 0 1 0 1 0-4 0 2 1 0 2 0 0 0 2-2 0 1 1-4 0 7 0-2 1 1 0-2 0-3 0-3 1 4 0 0 1-2 0 4 1-3 2 1 1 3 2-4 0 6-46 8 1-1 2 3 1-1 0-6 1 0 0 2 0 5 1-4 1-2 0 0 1-2 0 5 0-5 0 2 1 3 0 3 1 0 0-9 1 3 1 3 0 0 1-4 2-1 1 3 0-4 0 0 2 2 2-2 1 3 1 3 0-5 1 7 0-8 1 7 1 0 0-6 1-1 1 7 0-2 0 1 1 2 0-1 0-6 0 1 1 4 0-6 0 7 1-5 0 3 1-2 0-1 0 1 1-3 1 1 0 2 1-1 1 3 2-5 0 2 2-2 0 6 0-5 0 5 2 1 0-6 2-1 3 0 2 4-54 15 1-1 0 0 1-5 2 1 0 4 1 1 0-9 1 1 0 6 1-6 1 3 0 3 0-2 1 3 1-8 0 9 1-1 1-2 0 3 1-6 2-1 0 7 1-7 0 7 2-1 1-6 0 1 2-2 1 8 1-1 0-3 1 4 1-7 1 7 1 0 1-7 1 1 0 6 0-8 1 3 1 4 0-1 0-6 1 4 1-2 0-3 0 4 0 3 1 1 3 0 0-1 1 1 2-1 0 0 2 2 1-8 1 6 2 1 2-3 0 4 0-6 2 3 0 2 3-5 0 3 1-1 0 2 0 2 0-6 1 2 0-1 0 5 0-2 3 1 1-1 3 2-71 8 2 1 0-1 0-6 1 8 0 0 1-5 0 0 0 3 0 0 1 1 1-4 1-2 1-1 1 6 0-5 0 4 1-1 2-5 1 4 1 1 0 0 0 0 1-3 1-1 4 8 2 0 2-5 0 0 1 5 0-9 0 5 1 2 1-6 0 0 3 2 0 2 1-4 1 6 0-3 1 3 0-7 0 7 0-2 2 2 1-5 1 3 0 1 0-4 1 2 1-2 0 1 0 6 2-5 0 1 1-5 1 6 0 1 2-7 2 6 0 1 0-6 1 2 1 4 1-3 0-4 0 7 1 1 1-5 1 3 0-6 1 3 0 1 1 1 0-4 0 7 0-1 1-7 0 2 1 7 0-4 0-4 1 2 1-3 1 3 1 4 0 0 0-2 0 3 0-7 1 3 1 3 1-7 0 3 0 5 0 1 1-4 1-2 0 3 3 3 0-3 2 1 1 1 1 0 1-3 1 2 1 2 1 0 3 0 1-4 1 3 2-3 3-1 2 4 0 1 0-2 1-3 0 4 1-3 1 4 1-1 1-3 1 0 0-1 1-2 1 1 1 4 1-4 0 5 1-2 0 1 0-2 2 2 0-6 0 5 0 1 2-4 1 4 1 0 2 2 1-6-112 10 0 1 0-2 0 3 1 1 1-3 3 1 1 0 1-3 0 7 1-3 0 1 1 2 1-6 0 7 1-5 0 5 2 0 0-4 1-5 0 0 0 1 0-1 0 5 1 1 1 3 0-5 0 3 0-2 1 0 1-3 1-2 0 9 1 0 0-2 0-2 1-2 0 6 0-3 1-1 0-3 2-1 0-1 0 7 0-6 1 7 0-3 0-1 2-3 1 5 2-5 1 2 0-3 3 6 0-2 1 0 1 2 0-1 0-4 1 1 1 5 1-2 1-4 0 0 3 3 1 2 1-6 0 7 2-6 0 8 0-7 1 2 1-2 0 6 1 0 1-7 0 8 0-5 1 3 0-4 0 4 0-5 1-2 0 2 0 5 1-2 0 3 0-6 0-1 4 6 1 1 2-5 2 6 1-4 2-1 1 4 1-6 1 5 1 1 0 1 1-6 0-2 2 2 2 1 0-4 2 7 0-1 1 0 0-4 1 3 1-2 0-2 1 4 0-3 0 5 1-4 0-1 0 6 0 0 0-1 1 2 0 0 0-4 1 2 0-4 0-1 1 5 0-5 1 2 0 1 0 0 0-5 2 0 2 1 0 3 1-1 0 5 1-1 0 0 0 0 0-4 1-1 1 3 0 2 0-1 1-6 0 6 1-6 0 8 0-6 1-2 0 0 1 2 0 1 1-2 0 1 2 6 1-7 1 5 1-6 1 0 1 5 1-3 4 2 2 5 3-5 0 3 1 2 1-4 1 4-129 5 3 2 0-2 1 1 0-4 1 4 0 3 2-6 0 1 1 3 0-5 0 6 1-1 1 2 1 1 0-4 1-4 1 2 3 5 0-3 0 2 1-2 0-2 0 0 0-2 1 5 1 2 1-3 0-2 0 5 1-3 0 2 1-6 0 7 0 1 0-5 1-1 0 1 1-4 0 0 0 4 0 2 1-2 1 2 0-4 0 4 2 2 0-8 0 3 1 2 0 3 0 1 0-9 1 8 1-2 1 0 0-1 2-4 0 1 1-2 0 4 1 3 1-1 1-1 0 3 0-5 1 5 0-2 4 1 0 1 1-4 1-1 1 4 1-2 1 3 0-2 1-2 0-1 1 3 1 2 0-1 0-4 1-1 0-1 0 2 2 6 2-4 1-5 1 1 1-1 1 5 1 3 0-4 1 5 1-2 0-3 0 3 0 2 1-5 0 4 2-4 0 1 0 3 1-7 1 5 1-5 0-1 2 6 0-3 0 5 0-8 0 8 2-3 1-3 0 0 0 7 0-3 0 0 2-5 0 1 1 7 2-6 0 2 0-1 1-3 0 1 1 7 1-6 0-2 1 5 2 0 0-6 2 3 0 2 0 2 1-7 0 2 1 5 0-2 0 2 3 2 1-5 1 4 1-8 0 4 0 0 0 2 1-5 0 2 1 1 0-3 1-1 0 8 0-5 1 3 1 2 1-7 0 3 0 5 1-9 0 2 0-1 1 3 1 1 0-1 0-2 0 5 1 1 1-5 1 3 0-4 0 2 1-3 1 0 0 8 2-9 1 7 0-5 1-1 1 3 0-4 3 1 1 2 0 3 1-6 1 5 0 1 0 1 1-5 3 7 1-1 0-7 1-1 0 0 2 4 1 3 0-6 1 6 0 2 0-9 0 9 2-4 2 4-127 5 1 1 0-2 1-1 0 0 1 2 0-2 0-2 1 3 0 1 0-1 0 2 1-5 1 1 0 5 1-2 1 1 1-1 0 0 1 3 1-6 0 1 0 6 0 0 1 0 1 0 1 0 0-7 1-1 0 7 0 1 1-7 1-1 1 7 1-1 2-1 0 0 0-3 0-1 0 6 1-5 2 3 1 4 0-6 1 1 3 4 1-1 1-2 0 3 1-3 0-3 1 4 0-2 0 2 1 3 1-8 0-1 2 0 0 7 0 1 0-4 1-1 0-1 0 2 0 3 1 0 0-5 1 2 0-1 0-2 2 7 0-4 1 4 0-7 0 7 1-1 1-6 0 8 0-2 1 2 0-2 0-2 1-4 0 3 0-2 1-2 0 9 1-6 0 3 0-6 0 7 1-3 2-4 3 1 0-1 1 9 0-9 2 3 1-3 1 9 0 0 1 0 1-9 1 6 1 3 1-3 1 2 2 1 1-7 1-2 3 5 2-2 1-1 2-1 0 4 1-1 1-3 1 1 0-1 1 3 0 1 1-2 0-1 1 4 0-1 0 2 1-1 0 0 0-4 2-2 0 3 0 2 0-5 1 0 1 0 0 5 1-1 0 4 2 0 0-6 1 3 0 3 1 0 1-6 1-2 4 6 0-6 1 8 1-1 1-2 1-4 1 3 3 4 1-7 0-1 2 7 0-6 1 0 0 6 0 1 1-8 1 2 0 2 1 5 0-7 1 0 0 3 0-1 0 2 0-4 1 4 0-4 1 7 0-2 0 2 1-7 0 2 0 1 0 4 1-2 0 0 1-3 1-2 1-2 0 9 1-5 2 5 0-9 0 6 1-2 1 4 0-6 0 0-116 10 2 0 2 0 1 2 0 0 1-3 0 5 0-3 0 2 1 4 2-1 0 0 1 1 3-5 1 4 1 0 1 1 0-2 1 2 0-8 0 0 1 4 0 2 2 1 0-8 1 1 0 2 0-3 0 0 1 3 0-2 0 2 0-2 1 2 1 4 0-2 2-2 1-3 0 7 3-7 0 9 1-2 0-6 1 8 1-7 2-2 0 1 0 5 0-2 0-4 0 9 0-1 0-8 1 6 0-1 1 1 0 2 2-4 0 5 0 0 1-9 1 1 0 0 0 4 0 1 1-5 2 8 0-6 0-3 2 3 1 3 0-5 1-1 0 7 0 0 0-4 1 4 0-4 0-3 1 4 0-3 1 0 0 3 1-1 0-2 1-1 1 8 1-6 0 5 0-1 1 2 0-1 2-3 0 5 0 0 4-3 0-6 1 5 0 0 1-1 1-1 0-3 1 3 0 0 0 3 1-3 0-2 1 2 1 0 1-2 0 7 1-6 0 1 3-3 5 9 2-2 0-6 3 3 1 2 1 1 1-5 0 5 0-2 1-1 1 1 2 2 0 0 1-5 0 7 0-6 0 1 1-2 1 1 1-3 2 3 1 4 1-2 2-5 0 4 1-2 0 2 1 2 2 0 1-3 0-1 0 7 1-1 1-8 1 6 1-4 0-2 0 0 2 4 0-1 2 0 2-2 3 3-104 7 1 0 3 0 1 3 0-3 1 0 3 4 0-4 2 5 0-4 1 1 0-1 0 4 1 1 0-1 0-4 2 4 1-5 1 1 1 4 0 0 0-4 0 3 0 3 0 0 1-8 0 9 1-6 0-1 0 3 1-5 0 3 0-1 1 7 0-3 0-2 0 3 0 0 0 1 0-1 1 0 1-2 0 2 1-4 1-3 0 4 1-2 0 0 0 5 2-7 0 0 1 5 0 0 1 3 2-1 0 2 2-6 0 0 1 4 1 0 1-2 0-4 1 5 0 1 2-7 1 0 0 7 2-1 1-4 0-1 1 3 0 0 0 4 1-2 0-3 1 5 0-3 2-1 0 5 1-2 0 1 3-6 0 5 3 2 0-4 2 1 0 2 0-3 3 0 0 2 1-4 2 6 1-8 0 0 1 0 0 3 0 2 1-6 1 1 0 0 1 4 0 1 1-4 0 4 1 2 0-3 0-3 1 4 0-1 0-1 1 0 0 1 2-4 0 5 1-5 0 1 0 7 2-9 1 0 2 1 1 1 0 3 1 3 0 0 0 0 2-2 0 2 0-6 1 1 2-3 3 2 1 0-75 9 1-1 1 1 0 2 2-1 1 4 1-4 1 4 1 0 0-3 1-1 1 2 0 0 0-2 0-1 0 0 1 1 0 1 0 2 0-3 1 2 0-4 0 6 1-5 1 1 0 7 0-2 1-4 1-2 0 8 1-1 1-1 0-3 0-4 1 5 0-1 4-3 1 8 0-2 1-3 0 1 1-2 0 5 1 0 1-4 0-2 0-1 1 3 0 0 0 1 1 1 2 3 1-4 0 1 1-1 0 0 1-1 0 2 0 0 0 2 2-7 0 0 0 8 0-7 1 2 0 5 0-5 1 4 0-4 2 2 1-1 0-3 0 0 2 3 0-4 1 4 0-2 0 2 0 1 1-3 1-1 0 1 1 0 1 1 0 1 1-5 1 1 0 4 1-1 0 1 0-4 2 2 0 1 0 0 2-3 1-1 0 2 1 0 0 0 1 0 2 0 0 0 1-2 0 2 3-2-35 10" style="marker:url(#mh_g)"/><path d="m100 1808-2 3 14 3 0-1 3-2 9 6 0 2-20 2 2-1 11 3 0 1 1-4 5 8-27 4 8 6 10-5 12-2-22 14 17 2 3-4 1 4 17-7 1 5 7-2-42 30 2 6 17 0 4-4 6 0 1-3-24 11-16 14 4-2 3-4 35 4-51 7 23 17 63-5-48 12 23-1 56 4-121 1 5 1 56 7-27 3 9 2 31 14" style="marker:url(#mh_o0)"/><path d="m103 1808 13 7-6 5 7 3 12 6-18 7 3 0 9-1 1-2 17 6-37 9 0-6 29 5 8-7-12 18-8 10 7 4-31 16 45-5-47 9 34 4-16 6-3 26-4 12 16 4 23 10" style="marker:url(#mh_o1)"/><path d="m100 1807 21 10-10 6 5 1 12 5-14 5 7-1 19 1-28 15 21-8 9-1 7 4-25 27 12 15 12-2-41 14 7-4 23 11 1 2-3 5 4-1-40 10 18 8 47-4-56 17 34 10" style="marker:url(#mh_o2)"/><path d="m100 1813 11-3 7 6-13 9 20 4-10 5-9 6 0 6 7-5 11 0 4 6 3-3-12 12 14 1-22 11-7 21 37-4 14 9-19 11 30 14-81 6 9-5 0 9 13 8 9 0 4-2 65 1-35 18" style="marker:url(#mh_o3)"/><path d="m105 1811 1 2 11 6-15 8 1-3 12 1 0-1 10 2-18 11 3-3 3-4 1 1-9 16 29-4 8 8-37 10 28 6-28 10 4-2 13 11-25 7 50 12 7 1-11 32 41-5-74 7 8 1 25-1" style="marker:url(#mh_o4)"/><path d="m372 1809 5-1 0-2 2 2 2-1 0-1 1-2 0 2 4 3 2-1 0-2 2 0 0 1-19 8 3-2 1-3 3 8 1-6 4 2 0-4 2 4 0-1 2 2 1 1 1-1 1-2 1 2 0 3 0-7 2 8 1-5 1 5 0-1 0-2 1 1-21 10 4-3 1 1 0 4 1-7 0 1 2-1 2 1 1 0 0 6 0-2 1-1 1-4 1 0 1 1 0-3 1 6 1-1 2 0 1-4 0-1 0 2 0 2 1-1 1 2 1-5 1 1 2 7 1 0 3-2 3 3 2 0-37 6 1-1 1 3 1-7 2 6 1 0 2-5 0 8 0-7 2 1 0 4 1-4 1 0 0 5 1-4 0 3 0-5 0 3 1 1 1 3 0-2 0 2 1-5 0-1 0 2 2-2 0-3 0 5 0 1 1-1 0 4 1-8 2 5 0-6 1 3 2 1 1 1 0-4 2 1 0-2 1 3 0 2 0-1 3-2 0 2 7 2 0-2 1 1 4-1 3 5 3-3 4 2-50 7 2 1 1-3 1 2 0 3 1-3 0-3 0 5 1-6 0 5 0 0 1-5 1 6 2 2 1-1 1-4 1-4 0 3 4 1 1 5 0-3 2-1 0 2 1 0 2-4 1-3 0 7 0-5 3 7 1-6 0 4 0-4 1 4 0-4 2 0 2-3 0 6 0 0 0-3 0 3 1-4 1 6 1-4 1-4 4 0 0 2 2-2 2 7 0 0 2-4 1 4 2-6 1 2-51 7 3 6 0-5 1-1 1 0 1 4 2-2 0 3 1-2 1-2 1 2 0 3 0-4 1 3 1 3 2-2 4 0 0 0 0 3 0-2 1 0 1-7 5 6 1-3 2 0 0-1 0 6 1-1 1-5 0-1 1 6 0-1 1 3 1-4 1-5 0 1 0 0 2 5 2 2 0-2 0-4 1 4 1-5 0 0 0 0 2 4 1-2 0 1 0-2-46 16 4-3 1-2 1-1 0 3 1 2 1 1 4-5 1 4 0 0 0-2 1-4 3 8 1-5 2 2 0-2 3-4 0 3 0 5 1-6 0-2 0 2 1 0 1 2 0-4 0 1 2 8 1-8 0 1 1 2 1 2 0 3 0-2 1-1 2-1 1 3 1-2 0 1 1 2 1-7 0 2 1-2 0 7 0-4 0-5 1 9 1-5 1-3 0 3 1 5 1-9 1 4 0-1 3 6-48 10 5-1 0-3 1 4 0-2 1-4 1 1 0 5 0-7 1 4 1-2 0-2 1 1 0 6 1-1 1-5 1 4 0 0 0-3 3 0 0-4 2 2 2-2 1 5 1-3 1 5 0-7 1 6 1 1 0-6 0 0 1 5 1-5 0 7 0-3 0-4 1 2 0 4 0 1 0-2 1-6 1 5 0-3 0-1 1-1 2 2 1 7 1-6 2 2 0-3 2 5 1 0 0-5 0 1 1 3 5-6 2 4-53 14 0 0 0-6 1 6 4-1 3-4 0 5 0-8 2 0 4 9 0-1 0-7 3 5 1 2 1-5 2-1 0 4 1 2 2-8 0 9 2 0 1-3 1-1 0-5 1 5 0 4 0-6 1 3 0-5 1 5 0-2 2-4 1 7 0 1 1-2 1 1 1 0 1-1 3 1 0 0 0-2 2 4 1-2 1 1 1-4 0 5 1-1 1-3 1 1 1 2 1-7 1 1 1 6 0-3 1 0 0-1 1 4 3 1-67 8 1 0 0-5 1 3 0 4 1-2 2-3 2-3 1 1 0 4 0 0 1-4 0 3 1-2 0 6 1-4 0-4 2 4 0-2 1 3 0-3 1 2 0-4 2 4 1 4 1-8 0-1 2 7 1-2 1 1 0-1 2-3 1 7 0-8 0 0 1 7 1-7 1 3 1 1 1 2 0-5 1 5 0-3 1-1 3-2 0 8 0-4 1-4 1 3 1-2 0 0 0 6 1-4 2 2 0 1 1-1 1-4 1 5 0-6 2 5 1-6 0 8 0-2 2-2 0-4 2 2 0 5 1 0 0-3 1 1 0 3 0-1 1-5 1 6 0-4 1 1 0-3 1-1 3 6 0-2 0-3 2 4 0-5 1-1 4 3 1 3 0-4 1-1 0 7 1-5 0 6 3-2 0-2 1 4 5-3 1 2 2-4 3-1 1 6 0 0 0-2 0 0 1 2 0-2 2-1 0 2 1-4 0 4 2-3 0 4 1-4 0-2 2 3 0-1 0-2 2 4 0-2 0-2 0 5 1-5 0 3 2 1 0-3 1-3 0 4 1 1 0-3 5 1-113 11 1-1 0 0 1 3 0-4 0-1 0 4 1 1 3-3 2-4 0 2 1 5 1-6 0 1 0 6 1-7 0 1 0-2 3 9 0-3 1-2 0-3 1 4 0-5 1 6 0-2 0 2 1 3 0-1 0-4 1-2 1-2 0 9 1-1 0-4 0 3 2-2 0-4 2 4 0-3 0 2 1-4 1 8 0-1 0-2 0-4 1 3 0-4 2 2 1-2 1 2 2 3 1 0 1 3 1-4 0 4 0-4 0-2 1 3 0 0 0-2 3-2 0 2 3 1 1-2 1 2 0 4 1-5 1-3 0 9 1-8 0 3 1 3 1 1 2-6 0 1 0-1 0 5 0-5 1 6 0-7 0 1 1 5 0-2 0 2 0-2 0-1 0-2 2-1 1 5 0 3 1 0 0-3 1 2 2-4 2 3 2-2 1-1 1-4 2 7 0 1 1 0 0-6 0 1 1 4 4-4 0-3 2 7 1-5 1-2 0 5 0 4 0-7 0 3 2-2 0 3 1 0 0 2 0 0 1 1 0 0 0-5 0-4 1 3 0 4 0-2 1-5 1 8 0-4 0 0 1 1 4-4 0 6 0 0 0-2 1 3 0-7 0 2 0 0 0 5 2-5 0-3 0 7 0 0 0-3 1 3 0-7 1 7 0-7 1 2 2-1 0 1 1 5 1-7 2 9 1-9 1 7 0-3 0 4 0-1 2-5 2-2 2 4 3 5 1 0 1-1 0 1 2-4 0 4 1 0 2-3-127 8 0 4 1-7 0 0 0 7 1-2 1-4 0-1 1 1 1 4 0-1 0 2 1-3 1 3 2-6 2 6 1 1 0-5 0 3 0 1 1 1 0-6 1 3 2-5 1 7 0-1 0 0 1-3 0 1 0-1 0 6 0-4 1-5 0 8 0-8 1 3 1 2 0-1 0 3 0-5 0 3 1 3 2-1 1-5 1 1 1 3 1-5 1 4 0-4 0 2 1 1 0-2 2 2 1-4 0 4 1 2 0 1 2 0 2-1 2-2 1 3 3 0 0-5 2-1 2 0 0-1 0 9 2-8 1 3 0 4 0-1 2 2 1-8 0 3 1 2 0-5 1 5 2-1 0 3 1-1 0-1 0-1 1 1 0-3 0 5 0-6 0 7 1-5 0 1 0-1 0-3 1 3 0-3 0 4 2-3 0-1 0 4 0-4 1 2 1 6 0-8 1 3 1 3 0 0 0 1 2-1 0-5 0 1 0 0 0 6 1-8 1 1 2-1 0 5 0-6 1 5 0 2 2-5 1 2 1 2 4-1 1-5 0 4 0 0 0 3 1-1 0 2 1-1 0-2 0 0 1-3 1-1 0 5 0 3 1-8 1 8 0-4 0-3 1 3 0 2 0-2 1-2 0 0 1-2 1 0 0 7 0-5 2-1 1 6 0-7 1 3 1-2 0 3 1 2 0-3 0-3 1 3 0 3 1-4 0 3 0-4 0 2 1 2 1-4 0 7 0-8 3 0 1 5 1-5 1 3 3-4 2 4 0-4 1 3 0 0 0 3 4 3 0-9 1 8 0-2 0-5 2 2 1-2 1 5 0 2 0-2 0-4 0 7 1-8 1 8 0-4 4 3-127 9 1-3 0-1 0 2 0-4 2 3 0-4 0 4 0 0 0 2 1-3 0-3 1 0 0 6 1 3 0 0 1-6 0 2 1 1 1-3 0 5 1-6 0 6 0-1 1 0 0-5 0 2 2-4 0 7 0-6 1-1 1 1 0-1 0 0 1 3 2 2 1 1 0-4 0 6 1-8 0 0 1 0 0 1 1 0 2 4 0-2 1 2 3 3 2-1 0-1 1 1 0-7 0 8 0 0 1-2 0-3 1 6 1-8 0 4 0 2 1 1 1-5 1-1 0 7 0-1 0 0 1-4 0 5 0-4 0-3 1 2 0-1 0 0 1 3 0 2 0-1 0-3 2 1 0-5 0 8 0-4 0 5 2-9 0 9 0-1 1-1 0-2 1-1 1 5 0-6 1-3 0 8 1-3 2-5 2 2 0 3 1 4 1-8 1 2 2 5 3-2 2 0 1 2 1 1 0-1 0 0 2 0 1-8 0 0 0 4 0 5 0-2 1-7 1 4 1 2 1-6 0 9 0-2 1-4 3 5 0 0 1 1 0-4 2-4 1 1 1 3 1-1 0-3 0 4 0 1 1-1 0 1 1-3 0 5 1-7 1-1 0 7 0-4 2-3 0 2 0 4 1-3 0 5 2-1 0 1 2-6 1-2 5 4 0 4 0-6 2 3 0 2 2-6 2 8 2-2 1-3 1-4 2 0 0 1 0 6 1-2 0-5 0 5 0-1 1 1 0-5 0 4 1-2 0 7 1-6 0 2 0-4 2 7 0-5 1 6 0-7 1 4 0-2 0 0 0 2 1 3 1-6 3 0 1 0 0 4 0-4 2 6 0-1 1-5 1-2-119 11 0 0 4-2 0 2 1 1 0-1 0 1 1 1 0-1 1-3 0 6 2 1 1 0 0-2 3 3 1 0 0-5 1 5 1 0 1 1 0-7 1 3 2 2 0-1 1-6 1 1 1 0 0 2 0-1 0 0 0-1 0 6 1-7 1 8 0-5 0 1 2 1 3-4 1 7 0 0 0-8 2 8 1-5 0 6 1-9 0 6 1-6 0 6 0 3 0-6 0-2 1 6 1 1 1 0 1-7 1 6 0 2 0 0 1-7 0 3 0 1 1-4 0 4 1-5 0-1 1 2 1 6 0-4 0-1 0 3 1-5 1 5 0 2 1-8 0 0 0 0 1 5 0-4 0 5 0-5 0 2 1-3 0 3 0 6 1 0 0-4 0-5 1 4 1 3 0-4 0-1 1-1 0 8 1-4 1 3 1-1 1-6 1 2 0-1 1 6 0-7 1 4 1 2 0-2 1-1 0 0 2-3 1 3 1-1 1 0 0-3 1 8 0-7 1 1 2 1 2 6 3-9 4 5 0 4 1-9 1 6 2 1 1-5 0 2 1-3 0 6 0-4 0 4 0-1 4-1 1 2 0-5 1 7 0-7 0 6 0-5 0 0 1-3 0 3 0 1 1 5 0-3 1 1 3-1 1-3 1-3 0 4 0-4 1 3 2 4 0-3 1-3 1 2 0 6 0-9 1 9 1-8 0 5 0 3 2-9 0 0 0 7 2-7 1 3 0 0 1 1 2-3 2 3-107 6 4 1 1 0 1-1 1 2 1-1 1 2 1-2 2-1 2 3 0 2 1-2 0 4 1-1 0-3 1 1 0-1 3 0 1-1 0 5 0 0 0-7 0 8 1-1 0-5 1-2 1 2 1 2 0-3 2 5 0-1 0-2 0 3 0 1 0-1 0 3 1-5 0-4 0 6 1 2 0-5 1 4 1-6 0 2 1-3 0 8 1-2 0-5 0 5 1 3 0-2 1-7 0 8 5-5 0-1 0 4 0-6 0 4 1 2 1-5 1 5 1-5 1-1 2 1 1 6 0-3 2 3 0-6 0 0 1 4 0-2 0 1 1 0 0 4 1-5 2 5 0 1 3-7 1 4 2-2 0 1 1-2 0 4 0 0 2-3 0 3 1-3 2 2 1 0 0-1 1 4 0-1 2-3 0 0 1-5 1 1 0-1 1 1 0 6 0 0 1 0 1-3 1-1 0 5 0-5 0 2 0 1 0 0 1 3 1-7 0 1 0 5 0-3 2-4 0 7 0 0 4-1 0-7 3 9 0-1 0-5 1 5 1-6 0 6 0 0 0-1 0-2 1-4 4 0 1 0-73 10 0-1 0 3 1-3 0 1 3 1 1 1 0 0 1 2 0 0 1-1 0-2 0 2 1-4 1 4 0 0 0-2 2 1 0-1 0 2 0 0 1 0 0-3 0 5 1-4 0 7 0-2 2-5 0 6 1-4 1-2 0 4 0-1 0-5 0 3 1 0 1-3 0 0 1 3 2 5 0-2 1-5 0 3 1-1 0 3 1-2 0 0 2 0 0-1 1-2 0 8 0-3 0 0 1-4 0 2 2 1 0 0 1 1 0-1 0 2 1-1 0 0 1-1 1-5 1 2 0-2 0 7 0 0 0 0 1 2 1 0 0-8 0 3 0-1 2 4 0-1 1-6 1 3 1 2 0 1 0 0 1-4 0 3 0-2 1-1 0 1 0-2 1 5 1-1 1-1 0-1 1-2 0-1 1 5 1-4 1 3 2 1 2-2 1-2 0 2 0-1 1-1 0 0 1 0 0 0 5 0 2-1-53 10" style="marker:url(#mh_g)"/><path d="m379 1809 7-1 2 4 4-1 0-1 2 1 3 6 1 1-22 4 5 5 10-4 3 6 0-7 1 1 5 3-25 6 0 6 7-8 4 5 1 3 13-6 2 2 1-3 1 1 6 5 2 2 11-6-46 13 4-4 5 5 9-5 17-1 4 0 0 2 9 2-27 11 10-1 8-5-30 15 5-4 17 7 6 1 1-6 1 6 4-1-30 4 12 3 1-4 3 6 0 0 3 0 5-1-36 11 10-4 13-2 1-1 1 7 21-2-8 8 36 2-73 14 1-7 2-1 11 4 15 0 11-2-65 8 8 3 2 0 1 1 24 4 11-5 23 3 6-4-58 8 5 4 10 0 12-4 3-1 0 6 8 3 31-4 32-2 4 2 3-3-85 17 9-7 3 4 49 1-22 6 20 2-41 6 4 2 2 5 0-5" style="marker:url(#mh_o0)"/><path d="m382 1807 6 2 11 9-9 4 8-2 1 7-20 3 4 7 2-7 5 4 2-3 5 1 0 5-16 3 1 8 0-6 3 2 2-4 3 3 5 0 14 4 4 2 4-2-28 7-6 10 13 1 7 4 9-5 3-3 1 0-33 10 0 2 2 3 15-4 15 3-35 13 0-7 7 7 35-4 4 3-53 6 23 5 30-1-16 11 16-2 14-1-68 10 5 3 20-5 1 2 12 3 1 1 9-1-49 2 23 8 6-8-8 15 35 8 37-2" style="marker:url(#mh_o1)"/><path d="m377 1809 0 0 9 10 7 0 7-3-17 13 15-2 2-3-18 10 9-4 9 7 9-4 18 6-45 7 8 3 24-2 8-7-25 12 25 5-41 5 6 3 32-5-38 12 12 7 9-2 4-4 5 3 1 1-43 11 8 0 0-5 8-2 0 3 27-4-47 18 17-8 4 0 10 0 12 2 18 1 16 9-78 11 11-2 10 5 10-1 14-5 4 9 29-6-55 12 5-3-26 9 9 7 9 0 12-1 0 5 29 6-21 2" style="marker:url(#mh_o2)"/><path d="m384 1808-8 2-5 10 14 7 1-2 1-4 1 0 0 1 3 3 2 3 4-5 0 1-19 9 8 1 10-1 13 1 9-1 2 4-39 4 1 7 8 0 2 1 1-5 23-4-35 18 14 1 8-2 2-2 11 0 0 3 5-4-15 8-21 17 5 2 28 2-53 11 20 1 16 0-39 11 1-1 41 1 19-2 18 0-89 12 47-2 5 4-46 4 3-2 42 0 40 0 30 5-66 13 16 0-13 15" style="marker:url(#mh_o3)"/><path d="m380 1811 11-1 7 6-26 7 16-2 15 0 1 7-22 9 19-3 17-1-40 9 5-2 4 7 1 8 8-4 13 5 0 12 7-4-9 7-24 15 11 3-31 9 28-2 18 1 10-6 2 3 11 3 35-1-106 6 26 4 36-4 6 6-48 7 2-2 17 4 40-7 3 9 18-6-104 10 34-3 33 7 9-3-37 12-8 5 10 6 55 8-22 5" style="marker:url(#mh_o4)"/><path d="m652 1809 1-1 0 1 0-1 1 1 0-2 1 1 1-1 1 1 1 1 1-5 0 2 0 2 2 0 2 0 0 1 2-1 0-2 0 3 2-2 0 1 0 0 2-1-21 8 4-5 1 2 3 1 0-2 2 1 3 2 1-3 1 4 0-3 1 6 2-4 0-2 1 7 1-4 1-5 2 8 0-3 1 2 0 2 2-3 0 1 0 0 1 1 1-2 1 2-29 5 2-3 6 5 0 4 1-3 0-1 1-2 0-1 0 2 1-3 1 0 1 3 1 4 1-5 0 4 0-7 1 1 0 2 1-1 1-1 0 1 2 2 0-1 1 2 0 0 1 4 0-4 0 2 0-4 1 6 1-8 0 3 0-3 0 5 0-4 0 2 1-2 1 2 0 3 1-3 1-3 1 2 0 4 1 1 1-1 0 1 1-7 2 8 1-4-33 9 2-3 0 3 0 3 3-1 2-3 1-2 0 0 0 6 1-2 0 4 0-3 1 3 0-8 0 6 0-5 1 1 0 0 1-1 1 2 0 2 0-5 1 7 0-4 0-1 0 4 1-1 0 3 1-6 0 5 1-3 0-5 0 6 0-1 0 1 1-2 1-3 0 8 2-5 1-1 0-3 1 1 0 3 1-3 0 6 1-5 1 3 1-2 0 4 0-1 1-4 0 0 0 7 1-9 0 3 0 1 1-3 3 3 2 1 1 4 0-3 0-3 1 1 0 4 2 0 1-4 5 0 0 3 2 2 1 0 1-6 2 4 1-3 1 4 1 1 1-1-53 3 3 4 0 0 0 1 2-4 1 5 0-1 0 3 0-9 0 9 0-4 0 2 0-6 0 2 1 2 0-1 0-1 1-3 0 7 1-3 1 4 2 0 1-7 1 8 1-2 0-3 0-1 1 0 2 6 0-5 1 5 1-2 0-3 0-1 0 5 1-3 1 1 1 2 5-1 1 1 1-1 0 0 1-4 3 0 1-1 0 3 0-4 1 2 0 6 0-3 0-1 0 1 1-1 1 3 0-7 1-1 0 9 1-3 1-3 0 1 0-4 1 2 1-2 2 9 0-3 2 3 0-6 2 5 1-6 1 3 1-1-49 6 0 8 2-2 1-3 0-2 1 7 2-4 2-2 0 0 1 5 0-5 1 3 0 0 1 0 3 2 1-7 1 6 1-5 0 8 1-3 0 1 1-5 1 0 0 4 1 0 3 1 1-4 1 2 0-2 0 3 0 0 1-5 1 1 1 0 1 0 0 5 0-4 1 5 1-2 1-2 0-3 1 1 1-2 1 5 0 3 1 0 0-5 0 2 1 0 0 2 0-6 1 0 1 0 0 0 0 0 1 5 1-2 0-2 1 5-45 7 3-1 2-1 0-2 0 1 0 6 0 0 0-3 1 0 4 1 0-2 0 0 0 2 2-1 1-2 0 6 0-1 1-7 1 0 2 4 2-4 0 5 1 0 1-4 1 2 0-1 2 7 0-1 1-4 0-4 2 2 1 1 1 0 0 5 1-2 0-1 0 2 1 2 1-1 0-2 2 1 0 0 2-2 0 2 1-3 0 0 0-3 0 6 2-5 0 0 0 6 0-4 0 1 0-5 1 9 0 0 1-7 0 2 1-4 0 3 1-3 1 3 0 5 0-5 3 6-49 8 4-1 1 2 1-6 0 7 0-5 1 4 1 1 0-6 0 0 1 5 1-1 0 2 0-5 1-4 0 6 0-3 1 4 1-1 1-1 0-2 0 5 1-2 0-5 1 4 1-1 1 2 1-6 2 2 2 4 0-5 3 6 1-2 1 1 0 3 1-3 0-6 0 6 0-5 0 1 0-1 0 1 1 0 0 3 0 3 0-8 1 7 1-6 0 7 0-4 0 3 1-5 0 6 1-7 2 8 1-3 2 1 1-7 0 1 0 1 1 3 0 1 2-3 2-3 5 4-54 15 1-1 1-5 0 6 1-4 0 3 2 0 1 1 1-8 1 7 1-3 0 3 0 1 1-8 2 0 0 5 0-6 1 2 0 6 1-7 2 3 2 0 2-3 0 8 0-7 0 1 2-1 0 4 1-5 2 0 0 7 4-4 0 4 1-1 0-2 0 4 0-6 0-1 1 4 0-6 1 8 0-8 0 1 1 6 0 1 1 0 2-1 0 1 1-3 1 3 3-1 0 0 1 1 0-8 1 5 1 3 2 1 1-5 0-1 1 5 1-5 2 3 0-2 1-3 2 3 0 0 0 3 1-1 0 1 0-2 0 3 1-1 2 1-66 9 0 0 1 0 1-4 1 6 0-6 0 4 1 2 1-4 2-4 0 1 1 4 1-6 0 4 1-1 0 1 3 0 0 1 0-3 1 3 0-2 2-3 3 0 0 5 1-4 1 7 1-1 1-7 0 5 1-1 1-1 0-2 1 7 0-6 0-1 1 8 2-3 1 0 0 0 1 1 0-2 1-5 0 7 1-1 1 1 1-5 1 4 0 0 2-4 1 2 0-2 0 5 1-1 0-6 0 5 2 3 1-6 1 3 0-4 0 7 1-8 1 5 2 2 0-7 0 6 1 2 2-4 1-2 1 2 0 3 0-7 0 3 1 2 0-5 0 5 0-4 0 7 0-8 1 9 0-4 1-2 1-2 1 2 2 6 2-2 0-1 0 0 1-6 0 4 0 4 1 1 1-3 2 0 2 3 0-9 0 2 1 6 0 0 0 0 1-4 0 1 1 4 1-1 2 1 6-1 1-1 2-2 1-1 3 2 1 3 0 0 0-2 0-1 2-2 0 5 0 0 2-2 1-3 1 1 1 0 0 4 1-3 1 1 1-3 1 2 0-4 1 4 1-3 1 4 1 2 1-3 2 3-112 3 1 2 0-1 1 4 0-1 1 2 1-6 1 2 1 5 0-6 0 2 0 1 2-6 0 2 1-1 1 5 1-6 0 5 0-4 0 7 1 1 3-4 0-5 0 5 1-1 0 3 0-7 0 5 1 1 1 3 0-1 1-8 2 8 0-2 0-2 1 0 0 4 1-8 0 1 0 1 1 4 1-5 0-1 1 4 1 4 0-8 1 5 0-4 2-1 0 8 5-2 1-1 0-1 0 1 1-1 5-4 0 4 2 0 1-2 1 4 1-5 0 6 1-5 0 5 0-6 1-1 0 1 1 2 0 6 2-3 1-6 0 7 0 0 1-1 0-4 0 0 1 3 0 0 0-3 0 5 1-5 0 2 0-3 1 6 2 2 1-1 0-1 3-5 0 7 3-5 0-2 1 1 0 2 1 3 0-5 0 3 1-4 0 0 1 7 1-1 1-7 1 5 0-3 0 1 3 5 2-8 1 5 0-3 1 6 0-7 0-2 1 0 1 5 0-3 1 3 1-1 0 2 0 2 0 1 0-9 1 3 0 3 0-2 1-3 0 0 1 5 0-1 2-4 1 0 2 6 0-5 0 4 1 1 1-5 1 4 0 1 0 0 0-4 0-3 2 8 0-5 3-1 0-1 0 2 1-1 1-1 3 1 0-2 1 5 0 2 2-4 4 2 2 4 2-1 2-5 1 2 0 4 0-5-126 10 1 0 1-4 1 7 0 1 2-7 1 0 1 6 4-6 1 2 1 4 1-6 1 8 0-5 0 1 0-3 0 2 0 0 0 1 0 2 2 2 1-7 0 5 0 2 1-6 0 4 0-3 1 0 0 5 0-1 0-7 0 8 0-4 1-5 0 0 0 3 0 3 1-4 0 5 0-3 1-2 1 3 3 3 1-4 0-4 1 7 0-5 0 6 1-6 0 3 0-4 1 4 0-4 2 3 0-1 1 1 0 3 1-3 1-4 0 9 1-4 0 2 1 1 2 1 0-1 2-1 1 1 0-4 1 5 1-4 1-2 3 5 0 1 0-7 0 1 1-1 1 0 0 4 1-5 1-1 1 4 2 3 0-5 0 1 0-3 2 5 0 1 1 2 1-4 1 4 0 0 0 1 0-5 0 5 1-4 0 2 0-3 0 5 0-6 0 1 0-1 1 6 0-7 1 2 0-4 0 8 2-6 0 3 0-4 0-1 1 1 0-1 1 9 1 0 1-2 1 0 0-4 0 2 0 2 1 2 1-8 1 8 0-8 1-1 1 3 0-2 1 4 0-3 1 3 0 4 3-3 1 0 3-3 1 1 0 1 0 0 0 2 1-7 0 6 1-1 0 0 1-5 0 7 2-3 0 1 0-5 1 4 1 0 0 5 0-7 0 5 1-7 1 0 1 6 0 2 1-4 2 5 1-7 0-2 1 1 0 3 0-1 0-2 1 5 0 2 0-6 0 6 1-6 0 2 1 5 0-7 1 7 0 0 1-2 0-5 0 2 2-4 1 1 1 5 0-3 1-1 1 2 0-4 0 1 2-1 1 2 1 7 1-4 2-2 0 5 3-2 0-5 1 8 0-9 3 7 0-4 1 3 0 1 0-2 0-5 1 8 5 0-128 5 1 5 1-2 1-3 0-1 0 3 0 0 1 0 0-4 1 0 0 3 1 0 0 0 0 2 0 3 0-2 2-5 1 4 0-2 1-1 1-2 0 7 1 0 2-1 0-6 1 0 0 7 1-8 0 7 2-2 2 0 0-5 1 0 0 1 1 1 0-1 2 4 1 1 0-2 1-1 1 1 4 2 0 0 0 3 1 0 0-3 0-1 0 3 1-6 1 7 0-3 0-3 1-2 0 3 0 3 2-5 0 0 0 7 0-1 1-5 0 3 0 1 0-2 1-2 0-1 1 2 0-1 1 0 0 3 1-6 0 9 1-3 0 3 1-8 1 8 0-4 1-4 0 0 0 6 1-3 1-4 0 1 0 2 1 0 0 0 0 6 4-9 0 6 2 2 0-6 1-1 1 2 2 6 1 0 2-3 2-1 1 4 1 0 1 0 1-1 0-8 1 5 0 1 0 2 2-8 1 0 1 5 1 0 0 2 1-5 2-1 0 5 1 3 1-5 1-1 0 0 1 1 0-3 1 2 1 2 0 1 1 0 0-5 0 4 0 1 0-3 0 1 1-2 4-2 0 3 0 3 1 3 3-1 1 0 2-7 3 4 1-3 2 6 1-3 0-1 2-3 0 0 2 8 2-6 1 5 2-2 0-4 0 1 0 6 1-8 1 0 0 8 0-9 1 2 0 3 0-3 1 4 0-3 1 0 1-1 0 0 0 7 0-6 0 6 2-5 1 2 1-6 0 0 1 2 2 2 1 4 0-2 1-3 1 4 0-5-121 8 3 3 4-3 1 0 1 2 1 0 0 2 0 2 0-2 1 0 2 1 0 3 1-1 0-7 1 7 2 0 3 0 0-1 0-3 2 6 0-3 0-1 0 2 1 1 3-7 0 7 1-3 0-3 0 1 0-3 1 3 1 3 0-4 1-1 1-1 0 8 0-3 1 1 3 2 0-4 0 4 1 1 2 0 1-3 0 1 1-6 0 5 1-6 1 9 0-9 1 6 2-6 0 8 1-7 0 1 0 4 0 0 0 1 1-6 1 1 0 0 0 4 0-5 1 7 0-5 1 6 1-6 0 3 1 1 1-5 0 6 0-7 0 6 1-3 0-2 0 7 0-6 1-3 1 9 1-1 0-7 0 4 0-3 0 0 0-2 1 3 0 6 1-8 0 8 1-3 1 3 1-9 1 5 1-4 0 0 1 1 2 4 0 1 1-2 2-2 0 0 1 0 0 0 1-2 1 3 0 3 0-3 1-2 4 2 2-4 2 0 5 9 1-1 0-7 2 6 1 0 0-2 1-3 0 5 0-1 1-6 0 4 1 2 1-2 1 0 0 3 1-5 0 2 1 5 0-6 1 1 0 1 0-1 1-4 0 6 2-3 1 2 2-4 0 2 0 2 1-1 1-1 4-3 1 5 0 4 0 0 1-2 0-6 1-1 1 7 2-3 0 0 1-3 1 3 1-2 1 0-104 9 1 1 1-2 1 1 3-1 1 3 0-3 2 3 0-3 2 0 0 1 1 1 1 4 1 0 1-2 0 2 0-4 1 0 3 0 0 4 0-5 0 2 1 0 0 5 1-4 1-2 0 7 1-7 0 3 1-5 0 8 1 0 0-2 1-3 0 3 0 0 0 2 1-8 0 5 0 2 1 1 0-8 1 7 1-5 0 7 0-4 2 1 0-6 0 9 1-3 0 0 1-1 0 2 4-3 1-1 1-3 0 1 1 8 1-3 3-4 1 5 1-5 2 2 0 3 2-4 0-2 1 6 3 0 1-6 0 5 4-2 1-4 1 5 0 2 2 1 0-2 1 1 1-4 1 5 1 0 1-3 0 1 0-5 1-1 1 1 1-1 1 2 2 2 0 1 2 0 1-1 0 2 0 1 1-5 0 5 1-4 0-2 0 1 3-2 2 1 1 7 0-2 1 1 0-1 1 0 0 2 1-7 1 0 2 0 0 0 0-1 4 1 0 1-76 8 2 2 1 0 4 2 1-2 1 4 0-3 0 0 1 2 1-3 0-1 0 2 1-1 1 2 1-1 0 0 0-1 0 2 1-1 0 5 1 1 1-6 0 4 0 2 1-2 1-5 1 5 0-2 4-1 0 2 1-6 0 9 1-8 0 4 0 2 1-5 2 1 0 0 0-1 1 7 1-5 0-3 0 5 0 0 0-1 2 0 0 1 1 0 1 1 0-1 1 0 0 0 1-6 0 7 1-5 0 4 1-6 1 8 0-4 0 0 1-1 0 0 1 3 0-1 1 0 1-2 0-3 1 6 0-4 1-2 1 3 1 2 0 1 1-4 2 1 1-1 0-1 0 4 1-1 0 2 2-3 3-1 0 0 1 0 0 0 3-1-22 9" style="marker:url(#mh_g)"/><path d="m669 1824 6 62 12 10 45-1 8 1-88 9 6-1 7-1 46 6 15-2-80 9 24-3 37-2 12 7 35 1 2-3-77 6 40 7 1-9 3 8-63 4 37 2 6-1 13 0 34-2-74 16 6-3 11 2 3 1 4-6 4 5 28 0 0-1 13 3-65 2 8 6 5-2 20 0 10 0 15-2" style="marker:url(#mh_o0)"/><path d="m679 1884 1-2-18 13 20 2 13-7 25 4 6 3 10-4 1 3-102 5 33 7 21-1 29-5-69 17 27-4 12 0 2 2 30-3 23 3-26 7 7-1 37-3-99 19 18 0 45-3 5-2 32-1-88 14 2-1 29 0 20 2 3 1 16-7-49 11 10 5 1-4 7 4" style="marker:url(#mh_o1)"/><path d="m660 1874 10-4-15 12 15 5 25 8 19 0-42 13 16-3 43 3-90 7 57 2 1-3 21 4 12-5 24-1-110 15 4-2 15 3 6 0 24-1 46-7 9 7 1-1 1 2 5-5 1-3-87 19 23-5 6 5 11-2 3-5 23 7 12-6-22 16 12-2-51 5 9 0 18-1 13-1 5 2" style="marker:url(#mh_o2)"/><path d="m684 1852-19 10 8 7 15 7 49 15 4 4-26 12 11 0-71 3 60 8 6-6 2 1-49 14 31 2 12-2 30-2 4 1 11 2-115 4 104 3-90 6 55 6 1-3 9 1 3-4 1 4 13 3-53 8 32-4 0 2 10 1" style="marker:url(#mh_o3)"/><path d="m652 1839-10 55 30 1 74 0-35 8 1 4 10-1 10-6-79 12 6-1 4 5 11-2 22 1 29-1 25-3-116 10 12 3 65 5 4-4 17 1 8 2 16 1-99 9 28-3 26-3-9 8 2 2 6 1-24 13 11-2 17 4 7-2" style="marker:url(#mh_o4)"/><path d="m929 1808 2 0 1-2 0 3 1-1 1-1 0-1 1 0 2-3 0 4 2 2 1-2 1 2 0-2 2 1 1 0 1-2-20 9 2-5 1 5 0-5 4 2 0 6 1-6 1-2 3 4 1 0 1-3 1 6 1 2 2-4 0-1 1 5 1-6 0-3 1 2 1 0 0 7 0-1 1-3 1 4 0-2 1 0 0-6 2 7 0-2 3 2-31 5 3-3 2 1 1 3 0 4 4-4 0 0 1 4 0-4 1 3 0-7 0 5 0-3 2 0 1 6 0-6 1 5 1-7 0 4 1 2 0-4 1-1 0 1 1 1 0-1 1 3 1 1 0-1 0-2 2 5 0-6 0 3 0 0 1-2 0 0 1 2 1-1 0 0 1-3 1 0 0-1 0 9 1-7 1 5 0 2 1-7 0 5 3 2 0-4 2 4 4 0-36 10 0-7 0 5 1-6 0 7 2-2 2 0 0-5 0 8 1-9 1 4 0 2 1-5 0 0 0 1 0 1 0 4 1 2 1-9 0 2 1 1 0-1 0 6 0-5 0 4 1 2 0-5 0-4 1 0 0 6 0-1 0 3 1-3 0 4 1-2 1-7 0 4 0-3 1 2 0 3 1-6 0 5 0-4 0 3 2-1 0 1 0-3 1 3 0 0 0 2 2 0 0-6 1 5 1-2 0 3 1-4 0 1 1 3 0-3 0 0 1 0 0 0 0-3 1 1 1 1 1 2 2 2 0 0 1-4 1 7 0-2 2-4 0 2 1 3 0-3 3-1 0 5 2-6 0 5 1 1 1 0 0-6 1 6 2-4 0-3 2 6 0-1 3 1-51 8 1-5 1 8 1-3 0-6 0 1 0 5 1-3 0-3 1 6 0 2 0 0 1 0 0-7 0 5 0-4 1-2 2 7 1 2 0-2 1-5 0 5 1 0 0-4 1 0 0 5 0 1 1-9 0 2 1-2 1 7 1 1 1 1 1-6 0 4 1-4 0 4 1 0 3-6 0 7 0-5 1-2 2 5 1 1 0 1 1-4 3 0 1 4 0-7 0 4 0 2 0-7 1 1 2 0 0-1 1 6 2-1 3 3 1-3 1 4 0-9 1 8 0-8 2 2 1 3 0-2 1 0 0-3 2 0-51 11 2 6 2-1 1-2 0-3 0 7 2-4 1-2 1 1 1 2 0-3 1 3 1 2 0-6 3 6 0 2 0-9 1 8 0 0 1-2 1 3 1-3 0-6 2 2 0 1 0-2 1 6 0 2 3-4 1 2 1-4 0 2 1 4 1-3 1-4 0 2 0-3 0 7 1-4 1 2 0-5 0 8 1-7 0 1 0 5 1-7 1 4 0 2 2-7 2 7 0-3 0 5 0-2 0-6 1 7 1-8 1 5 0-5 1 1 0 2 0 6 1-5-45 14 1-2 3-3 0 2 1-2 0 4 0-3 1-4 0 1 0 6 0-2 2-1 1-1 0 2 1 1 2 2 1-5 0-2 3 8 1-4 1 0 2 1 2-4 0 1 2-2 0 1 1 2 0-4 0 3 2 6 1-7 0 1 0 0 1 2 1-3 1 7 0-2 0 1 0-2 1-1 1 2 3-1 0 0 1-1 0 3 0-4 1 4 0-7 0 6 1-5 0 4 0-2 1-1 0 0 0 0 1 5 1-5 1 1 1 4 0-3 1 1-46 12 4 0 1-4 0 5 0-6 1 6 0-7 0 5 1-3 0-1 1-2 1 7 1-6 0 0 0 7 0-6 1 5 0-3 1-2 0-1 0 5 1-1 0-2 1 2 0-5 0 3 1 0 1 2 0-3 0 0 3 6 1-6 1 0 1-3 1 1 1 7 0-8 2 6 1 2 0-4 0 2 0-4 0-1 1 0 1 7 0-2 0 1 1-6 0 7 0-2 0-2 0-3 0 8 0-8 1 3 0-2 0 5 1-5 1 0 1-1 0 8 1-8 0 0 1 2 1 4 0 1 0-6 1 4 0-5 1 3 1-4 1 7 0-5 1 3 0-4 1 5 5-6 0 3-53 16 1-2 0-3 1 4 1 1 1-1 2 1 0-7 0 6 2-8 1 4 0 4 0-7 0 3 0 4 1-6 1 7 2-9 0 9 1 0 0-2 2 1 3 1 0-5 0 4 1 0 0-7 1-1 1 2 0 0 1 4 2 3 4-7 0 6 1-5 0 0 0-2 1 4 0 1 0-5 1 3 0-3 0 1 0 5 1 2 0-9 0 9 1-4 1 1 1 0 0 1 4 0 2-1 1 2 0-2 3 2 5-1 1-2 1-4 0 2 1 2 1 2 0-3 0 4 0-5 0 2 1 2 2 2-67 10 3-2 0-5 0 7 1-5 1 0 0 0 0 4 0 0 3-7 0 1 0 4 2 3 0-4 1-2 3 1 1 1 0 0 0 0 1 1 0-6 4 5 1-3 1 6 1 1 1-4 0 2 0-3 1 5 1-7 0-1 2-1 0 5 1-4 2 4 0-3 0 3 1 0 0 0 1 2 0 1 1-8 1 7 0-6 1 6 1-2 1-4 0 2 1 0 0 4 2-1 0-5 1 6 2-1 0 1 3-1 0 0 3-6 0 8 0-2 1-3 0 4 1-4 2 0 1 3 0-4 1-2 1 5 0-5 0 0 2 5 1-2 1 4 0-1 1-2 0 5 1-8 0 1 1 4 0-2 1 2 0 0 1-6 0 3 4 3 0 3 1 0 1-5 1 2 9 3 2-5 0 2 5 1 4-3 1 0 0 5 0-2 0-4 0 6 5-2 0-1 1 0 0 1 1-2 2-2 0 4 0-5 2 6-108 5 0-1 0 3 1-2 0 1 0 2 2 3 1-2 2 1 0-6 1 5 0-6 0 4 0-3 2-2 0 1 0 7 0-2 1-1 0 4 2-1 1-7 1 4 0-5 0 6 1-1 0 0 0 1 1-1 1-4 0 8 2-8 2 6 0 2 1-5 1-4 0 2 0-2 1 7 0-6 1 4 1 4 0-1 0 0 1-4 0-4 4 1 2 0 1 3 0 4 1-1 2 0 0-3 0 2 0-1 2-4 1-1 1 4 4-3 1 7 0-6 0 4 0 1 1-7 1 0 1 1 1 2 2-1 1 2 0-2 1 3 0 1 1 2 0-7 2 4 1 2 0 2 1-2 1 2 2 0 2-4 0-1 2-1 1-2 0 3 1-2 1 7 1-1 0-1 0-5 0-1 1 2 1 1 2-1 4 3 1-6 0 7 1-2 1-3 0 5 0 1 0-1 1-2 0 1 0 2 0 1 1-5 0 3 0-3 1-1 1 5 1-5 0 0 0 1 1 1 1-4 3 1 1 5 0 0 0-4 0-2 0 3 0 4 1-8 2 7 1-7 1 7 0-5 2 0 0 0 2 5 2 0 1 1 2-8 0 7 1-5 4 3 2 4 4-6 0 5 0-4 0 5 0-3 1-3 4 2-130 9 2 1 1 2 1 1 0 0 1-5 0-3 1 6 0 0 2-2 1 3 1-6 3 3 1 0 0 0 0 1 1-4 0 4 0 0 0 2 2 1 1-1 1-1 0 1 0-3 1 5 1-1 0-4 1 5 0-6 1 4 0-1 2-4 1 0 1-2 0 0 1 9 1-5 0 3 0-5 2-2 0 2 0 2 1-4 1 1 0 3 1-1 3 3 1 1 1 2 1 0 0-3 2 1 2 1 0-5 1 2 1 4 1-1 3-5 0 0 5 3 0-6 1 7 1-6 0-1 1 4 1-1 1 1 0 4 0 0 1-2 0-2 0 1 1 0 0 3 0-5 0 6 1-4 1-5 0 8 0 0 1-4 0 2 0-6 1 4 3 0 0 4 1-4 0 5 1-3 1-3 0 4 2-5 1-1 2 2 1 1 0 4 0-8 1 2 1 2 0-2 1 4 2 0 1-6 1 7 1-4 0 1 2 3 0 0 1 0 0-4 0 0 1-1 2 1 1 5 0 0 0-2 1-6 0 4 0-1 1 0 1 4 1 1 2 1 1-1 0-6 0 1 1 1 0 5 0-9 1 4 1 3 0 2 0-6 1-2 1 2 1 6 0-8 0 3 3-3 0 1 2 4 1-4 3-1 0 0 0 5 0 3 2-5 0 3 0-7 2 9 0-5 0 3 4-1 0-6 0 9 1 0 2-2 0-5 1-2 0 0 0 8 0-2 1 0 0-4 1 6 3 0-126 7 0-4 1 7 0-3 1-1 1 0 1 0 0-4 0 2 2 0 0 7 0-2 2-3 1 1 0-4 1 1 0 1 0 4 3 0 0 2 0-9 1 2 1-1 0 0 1 0 1 3 1-1 1-2 1 3 0 2 0-6 0 1 1-1 3 4 1 0 0-2 1 7 0-1 3-1 1 2 1-2 0-6 0 7 1-3 0 3 0-5 3-1 0-2 0 6 1 2 0-4 1-2 0 5 0-5 1 1 0-1 0 2 1 2 1-2 0 4 0-5 1-1 1 5 0 0 0 1 1-8 1 7 1-7 0 4 1-4 1 7 1-5 0 1 1-3 1 9 6-8 1 1 2 7 0 0 3-1 0-3 1 1 0 2 3 1 0 0 2 0 0-3 1 2 0-8 2 4 2-2 3 6 1-6 0 7 1-1 1-4 2-1 1 3 0-1 0 1 1-3 0-2 0 3 0 4 1-3 0-2 1 0 1 4 1-7 0 0 2 1 0 6 1-5 0 4 1 0 8 0 1 2 0-8 1 7 3-7 0 2 3 7 1-8 3 7 0 0 2 1 1-4 0-4 0 1 0 3 1-2 1 4 0-3 0 2 0 3 1-7 0 1 1 0 1 3 2-4 0-2 2 1 1-1 1 9 0-8 0 6 1-3 1-1 1-2 0 2 0-1-118 11 1-2 2-1 0 2 3 5 1-2 2 3 2-1 3 2 0-5 3 3 1 2 0-5 0 4 1-3 2 4 1-7 0-2 0 8 1-7 0 1 1 2 0-2 2 5 1-7 1 0 0 9 0-4 2-1 1-3 0 5 1 3 1 0 0-9 2 0 0 2 0 7 1-7 0-1 1 5 0-6 0 9 0-6 1 3 0 3 1 0 2-6 1 3 0-6 1 7 1-4 1-2 1 2 1-3 0 2 0 6 2 0 0-2 1-6 0 7 0-5 0 7 0-7 1 2 0-4 0 3 1 1 1-2 1 2 0-2 0 0 0 7 1-8 0 0 1 7 0 0 1 0 0-1 0-2 2-2 1-3 0 2 1 7 2-3 0 0 2-2 3-2 0 0 2-1 0 6 1-5 1 2 1-1 2 6 9-1 2 0 0-4 2 2 1 1 0-3 0 1 1 2 2-3 1 4 0-5 1 6 0-6 0-2 1-1 0 6 0-3 2 3 4-3 4 4 3 0 0-7 0 7 2-5 0 0 3 2 0-4 1 3 2 1 0-1 1-2 2 3-103 7 2-1 0 1 1 1 3 1 0-3 2 2 2 1 0 1 1-1 2 4 0-2 0-5 1 3 0-1 1 7 2-4 0-2 1-2 0 6 0 0 1-7 1 1 0 3 0-1 0 5 1 1 0-8 0 2 1 2 0 1 1-1 0 2 0 1 1-3 0 1 1 2 0-4 0-1 1-3 1 1 0 6 2-7 0 7 1 1 1-2 0 2 1-1 0-1 2-2 2 4 1-8 0 7 0-7 1 0 1 8 1-1 0-1 2-6 0 8 1-7 2 5 0-3 1 2 1 1 0-3 0 1 0 3 1-5 2 5 4-2 4-2 0 1 0 2 1 1 1 2 2-5 1 3 0-7 1 8 0-4 2 3 1-2 1-5 0 0 0 4 1-4 0 9 2-7 0 4 1 1 1-2 0-2 1 0 0 2 1-3 0 3 0 1 2-4 1-1 0 3 0 3 2-7 1 7 0-6 1-1 2 8 1 1 0-4 2-4 0 8 0-8 6-1-75 12 1-2 1 2 1 0 4 4 0-2 2 1 1-2 0 0 1 3 0-5 0 0 1 1 1 2 0 0 0-1 0-1 0 4 2-4 0 5 0 1 2 0 1-1 0-7 1 3 0 4 0-2 1 1 0-6 1 0 0 1 1 4 1-1 0 2 2-2 0-1 1 4 1-3 1-3 1 0 0 1 0 4 1 3 0-5 2 2 0 3 1-3 1 1 1-2 1-5 1 3 0-2 0 6 1 1 0-7 0 7 0-6 1 1 0 6 0-6 0 0 3 3 0-4 2 4 1-4 0 2 0 1 1-2 0-2 3 3 0-1 0 2 1-5 0 6 1-5 2 0 2 2 1-1 1-2 1 1 2 2 2-2 1 0 4 0-53 10" style="marker:url(#mh_g)"/><path d="m941 1814-5 32 29 0-23 10 15-2 17 2 2-2-32 12 20 2 3-5 1 1 5 5-37 9 4 4 2 1 29 2 1 3-46 4 7 3 3 0 24 1 3-4 7 4 2 3 1-5 34 3 3-1-88 5 0-1 8 7 12-6 1 5 5-5 16 0 0 7 3-7 5 6 31-2 3 0 8-4 4 5 0 2-93 8 3-1 1-2 8 0 2-2 0 8 1-2 26-3 0 3 2-6 1 8 6-4 14-1 8 3 3-6 5 0 11 4 7-2 7-2-116 11 5 4 3-3 3 4 5 2 1-8 3 5 7 0 1-2 0 3 1 1 2-5 1 5 5 1 28-5 4-1 12 2 13-1 4 1 10 1 4-6 2 9 1-3 1-1 4 4-119 2 12 2 4 3 7-5 10 4 20 0 20-2 3 1 11 2 2-6 22 3-93 7 22 9 2-9 19 1 10 8 25-4 2-5 16 2-71 11 9 4 16-1 5-1 2 0 10 1 7-2 4 0" style="marker:url(#mh_o0)"/><path d="m952 1815-11 7-6 16 38 25 6 4-37 11-11 11 9-9 6 7 6 0-31 10 8-3 25-2 16 7 1-8 6 6 7 2 2-2 16-3 7 5 3-7-99 15 3-3 3-4 16 6 2-1 2 1 9-3 16 5 1-1 1-5 1 0 7 1 24 3 4-6 9 3 20 6-124 1 2 1 30 5 14-3 1-2 13 7 9 1 4-8 1 4 14-5 2 4 10-3-91 15 34 3 5 0 18 0 5-9 13 1 3-1 30 0 3 9 7-6 3 5-113 4 14 6 9-5 11-3 3 4 4-4 1 5 13 4 8-9 2 2 17 1 14 3 6-2 4 1 1 3-79 8 2 1 2-4 25-2 25 0 15 5 0 3 0-7-62 12 2-2 2 2 9 0 7 4 5-4 11 1 5-3 1 2 3-4 12 1" style="marker:url(#mh_o1)"/><path d="m956 1833-20 12 25 12 5-7-23 17 15 12 3-6 9 2-52 21 6 0 25 0 21-6 9 8 6 1 1-7 2 5 23-3 7 2-82 6 1-2 11 5 10-2 2 1 6 1 12-3 12 0 5 2 11 3 0 0 1-2-91 11 7-3 2 2 37 3 2-7 4 3 2-3 3 1 4-1 11 3 12-1 4-2 11-1 18 5-122 6 2 0 5 4 1 3 36-8 2 0 4 0 8 8 7 1 10-9 6 6 9-5 9 1 4 2-87 6 11 0 12 7 5-1 20 0 9-2 5-1 13 5 9-3 7-2 3-2-61 13 13 2 46-1 2 1 7-4-67 10 11 0 13 1 11-1 4 1 6 4 3-4 7-1" style="marker:url(#mh_o2)"/><path d="m953 1834-19 29 11-3 6 2-21 14 18-5-6 18 36-3-36 13 18 0 3-3 0 1 51-5 3 6 2-3 2 3-51 9 3-4 18-1 4 7 5-5-93 7 25 4 6 2 8-2 10-4 3 4 15 4 0-2 7-2 15 4 4-7 7 3 2-3 17-2-105 19 26-2 7-7 1 1 0 4 6 2 2-6 27 2 14-1 18-2-97 10 18 0 14 2 23 3 43-2 5 5-62 8 46 1-42 6 24 0 19 0 7-2" style="marker:url(#mh_o3)"/><path d="m939 1822-6 22 4 1-10 40 34 1-17 13 12-3 6-2 9 1 3-4 29 8 2-3 1-1 8 4 9-5-109 10 34-1 42-2 1 8 14 0 5-6 7-3-104 19 10-3 3-3 26 3 22 1 3-5 17 6 3-6 13 6 2-6-99 13 5-2 27-3 3 5 2 1 2-2 27-4 3 0 21 8 18-4-76 11 16 0 6 3 20-1 21-2 1-5 2 5 3-2 5 3 11-6 5 1-99 9 4 0 8 5 4 2 7-2 7-5 41 6 17-5-67 10 5 5 8-4 25 6 4-2 1-1 12-3 1 0" style="marker:url(#mh_o4)"/><path d="m1209 1809 0 0 1-2 2 1 1-1 0 1 1-2 1-2 1 1 0 3 1 0 2 1 1-2 0 2 0 0 1-3 1 1 1-1 0 1-20 8 2-4 2 2 1-2 3 6 1-5 1-1 5 0 0 1 1 1 2 1 0-2 1 2 0 2 1-5 1 4 1-4 2 7 0 0 0-7 0 5 1 0 2-1 1 2 0 2 3-3-30 6 2-2 3 1 0 2 0 2 3 4 0-5 1 2 0 2 0-4 0-3 1 4 0-2 2 1 1-1 0-2 1 1 1 6 0-1 0-6 1 6 0-4 0-2 1-1 0 2 0-1 0 1 2 0 0 0 1 3 0-2 0 1 0-4 1 9 0-3 0-2 1 5 0-2 0-2 1-3 0 3 0-3 2 2 1 4 2-6 0 5 1-3 0 5 0-2 1 0 2-1 1-1-30 7 0 2 0 2 1 2 0-4 3 0 0 2 2-6 0 6 1 3 1-9 0 3 0 1 0 3 1 1 0-8 0 1 1 0 0 2 0 4 1-4 0-1 1 6 0-4 0 0 0 5 0-2 1-3 0-3 0-1 1 9 1-5 0 3 1-4 0-3 0 4 1 1 0 1 0-5 1 1 1 2 2-1 0 1 1-2 0 2 1 3 1-4 0 0 0-1 1 2 1-1 0-1 0 5 1-2 0-3 0 4 0 0 0-3 2-1 0-2 0 0 1 3 0 0 1-1 0 2 3 1 1-2 1 2 2-1 1 4 2 1 2-6 1 4 4-4 1 0 3 5 1 0 3 0-53 6 1-1 0 4 1-5 1 5 1-5 0 4 0 2 0-3 0 1 0-3 1-1 0 4 0-6 0 7 0-1 1-1 0 3 0-4 0 2 0-6 1 8 1-4 1 2 0 1 2-6 0 6 1-3 1 0 1-4 1 5 1 4 0-1 0-4 1 2 0 3 2 0 0-7 0-1 0 6 2-3 0 3 1-5 1-2 2 7 0-5 2 7 1 0 0-6 1 4 0-1 1-3 2-3 1 6 0-2 0-4 1 2 0 0 0 7 0-4 1 0 2-2 1 1 2 3 2 1 0-7 0 0 2 7 0-5 1 5 0-8 0 0 3 8 1-4 2-3-51 11 2 5 1 0 0-7 0 7 1-6 1 2 2 1 1-2 1 1 1 0 0-2 0-1 1 6 0-5 1 1 0 3 0-5 3 9 1-2 0-2 3 1 0 3 0-9 2 6 1-4 1 7 2-5 1 1 1 1 1 2 1-4 0 4 0-6 0 2 1-2 1 4 0 1 0-4 0 1 1 3 0 2 2-7 1 3 0-3 1-1 0 0 0 6 1-1 1-4 0-2 0 0 0 0 1 7 0 2 0-1 1-8 1 1 0 0 1 0 1 3 1 0 0 3 0-5 1 2-46 14 0-4 4 4 1-7 0 1 0 5 0-3 0 1 0-1 2 0 3 2 0-4 0 4 1 2 0-3 1 2 0-6 2 1 1-2 0 7 3-3 0 1 1 1 2-6 0 3 1-1 0 5 1-4 0-1 2 3 0-4 1 0 2 1 1 1 1 3 0 0 0 2 1-1 0 2 2-4 1 2 0 1 1-3 0 2 2-3 0-2 0-2 1 8 0-3 0-1 1 0 1 5 0-4 1-2 0 0 1 6 1-5 0-1 1 5 1-5 0-3 2 5-48 13 2-2 3 3 0-4 1-3 0 7 1 0 0-2 1-3 0 5 1-1 0-7 0 8 0-5 2 5 0-4 0 2 1-5 0 7 2-8 0 4 0-2 2-1 1 1 0-2 1 4 0 4 1-7 2 1 0-3 2 6 0-4 1 5 2-1 2-4 0 5 0-7 0 5 0-4 1 7 0-8 1 1 0 2 0 4 0-1 1-5 1 5 0-3 0 0 0 1 1-3 0 6 2-4 0 4 0 2 1-2 2-7 0 0 0 5 0-3 1 3 0 1 1 0 1-4 1 0 0-2 4 1 3 2-53 15 1-6 1-2 2 9 0-1 0-1 1-5 1-1 0-1 1 8 1 0 1-8 0 9 0-7 1 6 1-3 0-4 3 1 0 1 0 6 3-1 1-6 1-2 1 9 0-7 0 0 2 5 1 2 1-8 2 6 0-5 2 4 0-3 1 1 0 1 1 3 0-7 0 0 1 3 0-4 0 7 0-7 1 5 1 2 0-7 1 6 3 0 0 3 1-3 3-6 2 8 1-2 1-1 2 1 1 3 0-5 2 3 1-2 0-1 1-2 0 1 0 4 1-2 0 2 0-3 0-1 1 3 1 2 0-1 2 1 1 1 2-1-69 9 1-6 1 6 0 2 0 0 1 0 0-5 0 3 0 0 1 1 1-6 0 2 2-2 0 5 1-1 1-5 0 4 1-3 0 3 0 0 0 4 2-7 1 5 1-2 0 0 0-5 0 3 1-2 3-1 3 8 1-5 1 6 0-4 0 0 1-4 1 2 1 6 0-8 1 8 2-3 0-5 0 5 2 1 1-2 0 3 0-3 1-3 0 0 0-2 1 0 1 0 1 3 0 2 0 1 3-4 1 2 0 2 0 2 1-8 0 3 1 3 0-3 0 4 1 1 0-2 1-6 1 7 1 0 0-6 0 6 2-7 1 7 0 0 1-4 1-1 1 1 0-2 1 6 1-1 1-1 0 3 0-4 0-4 0 9 0-1 1-8 2 4 0-3 1 6 0 1 2 0 0-4 0 2 0 2 1-8 0 7 1 2 1-2 0-3 2-1 2 6 0-6 0-2 2 8 0-6 0 5 1-2 2 3 0-2 1 0 7 1 1-3 1-1 3-1 1 3 2 3 0-4 1 0 0 2 3 1 0-2 0 3 1-5 2-1 1 4 0-5 0 5 2-1 0-2 0 1 1 2 1 0 1-1 2 1 0-2-109 8 0-1 1 1 0 0 0 3 1 0 2-3 1 0 0 6 1-4 0 0 0 0 2-3 2 4 0-3 0 5 1-7 0 8 1-7 0 0 2 7 0-9 1 5 0-4 0 5 1 0 0 1 0-2 1 0 1 3 0-4 2-4 1 6 0-2 1 5 0 0 0-2 1-2 0-2 1 2 0-5 1 3 0-2 1 6 0-1 1 1 0 2 0-9 0 0 2 6 0 1 1-4 1-3 1 3 3 0 0 2 1 0 1-4 1 1 0 2 3-3 0 0 3 3 1-2 1 5 0 2 1-2 1-2 0-4 1 3 0-4 1 8 1-7 0 7 1 0 0-1 1-6 0 0 0 1 0 2 1 2 0 0 1-1 0-1 0-4 1 1 0 6 0-5 3 6 0-3 0 3 2-6 0 7 2-1 1-5 2 1 0-2 1 1 0 1 2 3 0-6 1 2 0 6 1-6 0 5 2-6 5 5 1-6 0 0 0 6 1-2 0-2 1 0 0 5 0-6 0 2 1 0 0 4 0-1 1 1 0 1 1-6 0-2 0-1 0 5 2 1 0-4 1 2 0-3 1 5 4-6 0 1 0 6 0-6 0 4 0 0 1 2 0-2 1 0 1-5 0 6 0 1 1-7 1 0 1 8 1-5 1-2 0 1 3-1 3 6 0 0 1-3 1 0 5 0 4 4 1 1 0-3 1-1 0 4 2-5 2 1-131 9 1 0 3-3 0 1 1 5 0-6 1 0 1 5 0-4 0 1 1 3 0 0 1-2 2 5 1-7 2 5 0-2 1 4 0-6 0-3 0 5 0 3 1-4 1 3 1-7 1 6 0 2 1-4 0 4 0-3 1 4 0-2 1 1 0-7 0 3 1 5 1-4 0 1 0-3 1 0 1 2 0 4 1-6 1-1 1 6 1-6 0-1 0 6 1-6 0 3 0-3 1 0 1 0 2-1 0 4 1 5 1-3 5 1 1 1 1-6 0 3 1 3 2-5 1 3 2 0 0-3 0-1 0 2 1-3 0 6 0 1 2 0 1-8 2 0 0 7 1 0 0-6 0-1 3 8 1-2 0 3 0-9 0 9 1-2 0 2 0-4 1 2 1-2 0 3 1-4 0-4 0 4 0 4 1-6 1-1 0 4 0 1 0-6 1 0 0 0 1 2 0 5 1-4 0 5 0-4 1 3 1-1 0 2 1-2 0-3 0-3 0 3 0 5 1-6 0 0 2-1 0 1 1 1 0 2 0-4 2 0 1 3 0 5 1-5 1 1 2 0 2 0 1-2 0 2 0 2 0-1 1-6 0 0 0 9 1-2 0-3 1 0 1-3 0 0 1 6 1-7 0 9 0-3 1-2 0 1 0-2 1-2 0 2 1 0 1-1 0 6 0-5 5-2 0 3 2-2 0 6 0-3 1-2 0 3 0-4 1 6 0-7 1 3 2-3 1-1 0 2 1 5 0-7 1 3 0-3 1 4 3-2 0 7 1-3 1-2 0 2 1-3 1 5 4-1 2 0 0-5 1-2 1 6 0 3 1-1 0 0 1-2 2 2-125 6 0-1 1 0 1 3 0-2 0-3 0 3 1-1 0 4 1-3 0-2 1 1 0 3 0 3 3-3 0 1 1-3 1-2 0 6 1 0 0-5 0 4 0 0 1 0 0-4 1 4 1-6 0-1 0 0 1 1 0 1 1 4 1 0 2-5 1 0 0 4 0-5 0 8 4-4 1 0 0-1 0 0 1 5 3-1 1-1 0-2 1-2 1-2 0 6 0 3 0-8 0 2 0 5 1-8 0 8 0-1 1-2 0-5 0 8 2-6 0-2 0 8 0 0 0-5 1 0 0 6 0-5 0 4 1-1 0-7 0 8 1 1 0-7 0 2 1 2 0-2 1 1 1-2 0 6 0-1 1-2 0-6 2 1 0 0 0 8 0 0 0-1 1-7 0 7 0-4 1-3 0 1 0 4 0-4 1 2 1 4 6 1 4 0 1 0 0-9 1 7 0-3 3 4 1 0 2 0 1 0 1-7 0 2 0 4 1-4 0-2 2 3 1-1 1 0 0 5 2-3 1-4 1 8 0-7 0 7 0-5 3-2 0 2 0 2 1-5 0 4 1-2 0 3 0 0 1 0 0-1 0-5 0 9 2-9 0 4 1-4 1 0 0 0 0 4 0-4 1 3 0 5 2 0 1-3 0 2 1 0 1-6 1 0 3 0 3 4 3-1 1 5 0-7 2 0 1-1 2 1 1 7 0-8 0 6 1-7 2 5 0 1 0-1 0-2 1 0 0 5 1 1 0-3 0-2 0-4 1 8 0-5 0 5 0-4 1 2 0-5 1 5 0-2 4 1 1-5 1 7 1 1 1-6-121 8 4 3 2-1 2-2 2 6 0-2 1-3 0 2 0 1 2 5 1-2 1 2 1 0 2-1 0-4 2 4 0-7 1 7 0-8 2 5 0 3 0-2 3-6 0 0 0 2 1 0 0-2 1 5 0 3 1-1 0-4 1-1 1 6 1-3 2 2 1-2 0 4 1-8 2 7 1-6 0 0 1 1 0 6 0-6 1 2 0-5 1 0 1 9 0-2 1-2 1-3 1 3 0 4 1-2 1-6 1 7 0-2 0-5 1 8 2-3 1-5 0 1 1 2 0-3 1 3 1-3 2 2 0 5 0-7 1 6 0-2 0 4 0-7 1 5 0-2 1 3 1 0 1-8 0 6 1-3 1-2 0 0 3 4 0-2 0 2 3-2 0 1 0-3 1 2 1 3 0-4 1 6 1-6 5-2 3 0 5 7 1-7 1 6 1-4 1-1 1 2 3 2 0 3 0-4 0-1 1 6 0-7 1 1 2 2 0-2 2 0 1 3 3-2 1-4 1 0 1 5 2 1 0-2 0-3 0 5 1 3 0 0 1-4 1-3 0-2 0 0 0 8 3-5 0-2 3 3 0-2-104 9 5-1 4 0 0 5 1-4 0-1 1 1 2 2 1 3 1 0 1-2 0 1 1 3 0-5 1-2 1 0 1 7 1-6 0 5 1 0 0-5 0 7 0-1 1-5 0 5 1 1 1-3 0-4 0 0 0 2 0 2 1-2 0 5 1-6 0 1 0 2 3-5 0 5 0-2 2-3 0 8 2-3 0 0 1 2 4-4 1 0 0-4 0 7 0-7 1 7 0-7 0 1 1 5 1 3 1-8 1 6 1-6 0-1 0 7 2-6 1 2 1 4 0-5 0 3 0 2 0-6 2 7 3-2 0 3 6-6 0 2 1-1 1 4 5-2 0-2 2 1 0 2 2-2 2-3 0 3 1-3 0 4 1 1 0-5 1 7 2-6 0 3 2-4 1-1 0-1 3 0 3 9 0 0 0-1 0-6 2 0 3-1 0 1 3-1-75 11 3 0 4 4 0-4 1 2 0 0 1-1 0 2 2-1 0 0 1-4 0 3 0 1 1-2 0 2 1 1 0 0 0 0 1-3 0 6 0-7 0 5 1-5 0 2 0 5 1-6 0 5 1-3 1-4 2 8 0-6 2 0 1 6 0-2 1-2 1-3 0 2 0 1 1 4 1-2 1-5 1 2 0 2 1-1 0-1 0 3 2-1 0 2 2-2 0 1 1-4 0 3 0-3 0 6 0-3 1-4 2-1 1 7 0-4 4 0 1 3 1-3 0 2 0-4 1 5 0-4 3 2 0-4 1 3 0-3 0 3 0-3 1 5 1-3 2 2 3-2 0-2 1 2 0 0 1 0 2-1 0 1 0 1 4-1-51 8 14 0 3 0 8 0" style="marker:url(#mh_g)"/><path d="m1222 1839 13-5 22 34-40 5 2 6 16-1 24 12 23 8 0 0 14-5-94 11 3 5 12-4 20-4 1 1 32-1 4 7 3-4 1 1 5 3 12 0 9 1-105 2 5 2 5 4 1-1 9 0 26-1 0 2 9-1 28 2 0-3 6-5 11 0 3 9 8-7-117 12 5-2 5 4 18 2 6 0 16-6 24 6 3-5 2 2 3 3 18-6 3 5 4-4 2 0 6 3 2-4 1 0 6 6-112 3 25 0 1 6 17-6 8-1 3 8 3-1 8-4 3-1 15 3 15 3-63 8 5 3 8 0 9-6 5 5 10-1 4-6 1-1 0 0 5 6 6-5-51 9 1 5 9 0 10 2 8-6 4 4 0-1 4-1 6-2" style="marker:url(#mh_o0)"/><path d="m1230 1820-6 14 17 10 5-4 2 23-16 18 1 12 14 1-46 6 58 7 13-2 5-1 8 0 1-2 1 4-96 12 13-5 63-3 10 3 8-3 22 9 2-9 3 8-106 6 15 4 1-7 34-1 5 9 8-8 3 4 43 2 1-4-92 13 49 2 5 1 9-3 6-3 22-1-81 11 4 3 1 1 26-4 7 5 27-2-64 5 0 1 25 0 4 0 2 4 4-5 3 2 2 2 2-2 0-3 8 5 13-4" style="marker:url(#mh_o1)"/><path d="m1225 1810 2 14 13 28-13 12-8 9 14 13-30 8 47-1 52 1-59 12 6 2 26-1 0-6 8 6-63 8 41 4 22-9-84 14 10-2 32 5 7 1 40-6 12 6 17-8-83 19 3 0 4-8 9 2-10 10 3 3 32-1 8-5 6 4 4 5 5-7 0 3-54 7 12 5 14-1 6-1 10-1 6-2" style="marker:url(#mh_o2)"/><path d="m1221 1824-7 16 28 12-8 17 1 2 0 0 12 5-40 17 35 0 27 1 13 4 6-3 6 2 9 2-64 1 40 1 16-1-109 18 52-4 2 3 42 2 1-9 1 4-56 8 13-1 2 1 46 5 28-6-97 18 12 0 17 0 3-5 16-1 22 2 3-5 19 5-79 11 10-6 20 1 13 3 25 4-62 8 42-3" style="marker:url(#mh_o3)"/><path d="m1217 1815 13 2 10 47-7 13 10-6-18 24 39 3 22-4 8 1-73 7 10 4 36-5 23 0 7 7 7 0-107 8 48-3 30 3 4 2 32-7-119 10 12 8 29-3 4-1 19 4 45-5 2-4-86 19 18-3 7-5 53 5 23-2-103 7 16 3 16 1 39 1 3-1 0-1 7 2 6-5-32 15 24-6" style="marker:url(#mh_o4)"/></g>
<text x="0" y="889.5" font-size="12.3" font-weight="bold">h</text><defs><linearGradient id="og" x1="0" y1="0" x2="0" y2="1"><stop offset="0" stop-color="#7f0000"/><stop offset="0.3" stop-color="#d7301f"/><stop offset="0.55" stop-color="#fc8d59"/><stop offset="0.8" stop-color="#fdd49e"/><stop offset="1" stop-color="#eeeeee"/></linearGradient></defs><text x="32.7" y="894.3" font-size="9.6" font-weight="bold">TCF7</text><line x1="32.7" y1="898.4" x2="32.7" y2="984.6" stroke="#444" stroke-width="0.7"/><line x1="32.35" y1="984.2" x2="107.3" y2="984.2" stroke="#444" stroke-width="0.7"/><line x1="30.7" y1="904.9" x2="32.7" y2="904.9" stroke="#444" stroke-width="0.6"/><text x="29.9" y="907.3" font-size="6.7" text-anchor="end" fill="#333">4</text><line x1="30.7" y1="926.6" x2="32.7" y2="926.6" stroke="#444" stroke-width="0.6"/><text x="29.9" y="929" font-size="6.7" text-anchor="end" fill="#333">2</text><line x1="30.7" y1="948.1" x2="32.7" y2="948.1" stroke="#444" stroke-width="0.6"/><text x="29.9" y="950.5" font-size="6.7" text-anchor="end" fill="#333">0</text><line x1="30.7" y1="969.3" x2="32.7" y2="969.3" stroke="#444" stroke-width="0.6"/><text x="29.9" y="971.7" font-size="6.7" text-anchor="end" fill="#333">−2</text><line x1="48" y1="984.2" x2="48" y2="986.2" stroke="#444" stroke-width="0.6"/><text x="48" y="991.9" font-size="6.7" text-anchor="middle" fill="#333">−2</text><line x1="70.5" y1="984.2" x2="70.5" y2="986.2" stroke="#444" stroke-width="0.6"/><text x="70.5" y="991.9" font-size="6.7" text-anchor="middle" fill="#333">0</text><line x1="93" y1="984.2" x2="93" y2="986.2" stroke="#444" stroke-width="0.6"/><text x="93" y="991.9" font-size="6.7" text-anchor="middle" fill="#333">2</text><text x="70" y="999.4" font-size="7.2" text-anchor="middle" fill="#222">Dim1</text><text x="21.8" y="944.8" font-size="7.2" text-anchor="middle" fill="#222" transform="rotate(-90 21.8 944.8)">Dim2</text><rect x="114.4" y="929" width="5.2" height="35" fill="url(#og)"/><line x1="118.3" y1="964.2" x2="119.6" y2="964.2" stroke="#fff" stroke-width="0.5"/><text x="123.6" y="966.4" font-size="6.5" fill="#333">0</text><line x1="118.3" y1="955.65" x2="119.6" y2="955.65" stroke="#fff" stroke-width="0.5"/><text x="123.6" y="957.85" font-size="6.5" fill="#333">1</text><line x1="118.3" y1="947.1" x2="119.6" y2="947.1" stroke="#fff" stroke-width="0.5"/><text x="123.6" y="949.3" font-size="6.5" fill="#333">2</text><line x1="118.3" y1="938.55" x2="119.6" y2="938.55" stroke="#fff" stroke-width="0.5"/><text x="123.6" y="940.75" font-size="6.5" fill="#333">3</text><line x1="118.3" y1="930" x2="119.6" y2="930" stroke="#fff" stroke-width="0.5"/><text x="123.6" y="932.2" font-size="6.5" fill="#333">4</text><text x="171.2" y="894.3" font-size="9.6" font-weight="bold">KLF2</text><line x1="171.2" y1="898.4" x2="171.2" y2="984.6" stroke="#444" stroke-width="0.7"/><line x1="170.85" y1="984.2" x2="245.8" y2="984.2" stroke="#444" stroke-width="0.7"/><line x1="169.2" y1="904.9" x2="171.2" y2="904.9" stroke="#444" stroke-width="0.6"/><text x="168.4" y="907.3" font-size="6.7" text-anchor="end" fill="#333">4</text><line x1="169.2" y1="926.6" x2="171.2" y2="926.6" stroke="#444" stroke-width="0.6"/><text x="168.4" y="929" font-size="6.7" text-anchor="end" fill="#333">2</text><line x1="169.2" y1="948.1" x2="171.2" y2="948.1" stroke="#444" stroke-width="0.6"/><text x="168.4" y="950.5" font-size="6.7" text-anchor="end" fill="#333">0</text><line x1="169.2" y1="969.3" x2="171.2" y2="969.3" stroke="#444" stroke-width="0.6"/><text x="168.4" y="971.7" font-size="6.7" text-anchor="end" fill="#333">−2</text><line x1="186.5" y1="984.2" x2="186.5" y2="986.2" stroke="#444" stroke-width="0.6"/><text x="186.5" y="991.9" font-size="6.7" text-anchor="middle" fill="#333">−2</text><line x1="209" y1="984.2" x2="209" y2="986.2" stroke="#444" stroke-width="0.6"/><text x="209" y="991.9" font-size="6.7" text-anchor="middle" fill="#333">0</text><line x1="231.5" y1="984.2" x2="231.5" y2="986.2" stroke="#444" stroke-width="0.6"/><text x="231.5" y="991.9" font-size="6.7" text-anchor="middle" fill="#333">2</text><text x="208.5" y="999.4" font-size="7.2" text-anchor="middle" fill="#222">Dim1</text><text x="160.3" y="944.8" font-size="7.2" text-anchor="middle" fill="#222" transform="rotate(-90 160.3 944.8)">Dim2</text><rect x="252.9" y="929" width="5.2" height="35" fill="url(#og)"/><line x1="256.8" y1="964.2" x2="258.1" y2="964.2" stroke="#fff" stroke-width="0.5"/><text x="262.1" y="966.4" font-size="6.5" fill="#333">0</text><line x1="256.8" y1="955.65" x2="258.1" y2="955.65" stroke="#fff" stroke-width="0.5"/><text x="262.1" y="957.85" font-size="6.5" fill="#333">1</text><line x1="256.8" y1="947.1" x2="258.1" y2="947.1" stroke="#fff" stroke-width="0.5"/><text x="262.1" y="949.3" font-size="6.5" fill="#333">2</text><line x1="256.8" y1="938.55" x2="258.1" y2="938.55" stroke="#fff" stroke-width="0.5"/><text x="262.1" y="940.75" font-size="6.5" fill="#333">3</text><line x1="256.8" y1="930" x2="258.1" y2="930" stroke="#fff" stroke-width="0.5"/><text x="262.1" y="932.2" font-size="6.5" fill="#333">4</text><text x="309.7" y="894.3" font-size="9.6" font-weight="bold">SOX4</text><line x1="309.7" y1="898.4" x2="309.7" y2="984.6" stroke="#444" stroke-width="0.7"/><line x1="309.35" y1="984.2" x2="384.3" y2="984.2" stroke="#444" stroke-width="0.7"/><line x1="307.7" y1="904.9" x2="309.7" y2="904.9" stroke="#444" stroke-width="0.6"/><text x="306.9" y="907.3" font-size="6.7" text-anchor="end" fill="#333">4</text><line x1="307.7" y1="926.6" x2="309.7" y2="926.6" stroke="#444" stroke-width="0.6"/><text x="306.9" y="929" font-size="6.7" text-anchor="end" fill="#333">2</text><line x1="307.7" y1="948.1" x2="309.7" y2="948.1" stroke="#444" stroke-width="0.6"/><text x="306.9" y="950.5" font-size="6.7" text-anchor="end" fill="#333">0</text><line x1="307.7" y1="969.3" x2="309.7" y2="969.3" stroke="#444" stroke-width="0.6"/><text x="306.9" y="971.7" font-size="6.7" text-anchor="end" fill="#333">−2</text><line x1="325" y1="984.2" x2="325" y2="986.2" stroke="#444" stroke-width="0.6"/><text x="325" y="991.9" font-size="6.7" text-anchor="middle" fill="#333">−2</text><line x1="347.5" y1="984.2" x2="347.5" y2="986.2" stroke="#444" stroke-width="0.6"/><text x="347.5" y="991.9" font-size="6.7" text-anchor="middle" fill="#333">0</text><line x1="370" y1="984.2" x2="370" y2="986.2" stroke="#444" stroke-width="0.6"/><text x="370" y="991.9" font-size="6.7" text-anchor="middle" fill="#333">2</text><text x="347" y="999.4" font-size="7.2" text-anchor="middle" fill="#222">Dim1</text><text x="298.8" y="944.8" font-size="7.2" text-anchor="middle" fill="#222" transform="rotate(-90 298.8 944.8)">Dim2</text><rect x="391.4" y="929" width="5.2" height="35" fill="url(#og)"/><line x1="395.3" y1="964.2" x2="396.6" y2="964.2" stroke="#fff" stroke-width="0.5"/><text x="400.6" y="966.4" font-size="6.5" fill="#333">0</text><line x1="395.3" y1="957.36" x2="396.6" y2="957.36" stroke="#fff" stroke-width="0.5"/><text x="400.6" y="959.56" font-size="6.5" fill="#333">1</text><line x1="395.3" y1="950.52" x2="396.6" y2="950.52" stroke="#fff" stroke-width="0.5"/><text x="400.6" y="952.72" font-size="6.5" fill="#333">2</text><line x1="395.3" y1="943.68" x2="396.6" y2="943.68" stroke="#fff" stroke-width="0.5"/><text x="400.6" y="945.88" font-size="6.5" fill="#333">3</text><line x1="395.3" y1="936.84" x2="396.6" y2="936.84" stroke="#fff" stroke-width="0.5"/><text x="400.6" y="939.04" font-size="6.5" fill="#333">4</text><line x1="395.3" y1="930" x2="396.6" y2="930" stroke="#fff" stroke-width="0.5"/><text x="400.6" y="932.2" font-size="6.5" fill="#333">5</text><text x="448.3" y="894.3" font-size="9.6" font-weight="bold">DUSP4</text><line x1="448.3" y1="898.4" x2="448.3" y2="984.6" stroke="#444" stroke-width="0.7"/><line x1="447.95" y1="984.2" x2="522.9" y2="984.2" stroke="#444" stroke-width="0.7"/><line x1="446.3" y1="904.9" x2="448.3" y2="904.9" stroke="#444" stroke-width="0.6"/><text x="445.5" y="907.3" font-size="6.7" text-anchor="end" fill="#333">4</text><line x1="446.3" y1="926.6" x2="448.3" y2="926.6" stroke="#444" stroke-width="0.6"/><text x="445.5" y="929" font-size="6.7" text-anchor="end" fill="#333">2</text><line x1="446.3" y1="948.1" x2="448.3" y2="948.1" stroke="#444" stroke-width="0.6"/><text x="445.5" y="950.5" font-size="6.7" text-anchor="end" fill="#333">0</text><line x1="446.3" y1="969.3" x2="448.3" y2="969.3" stroke="#444" stroke-width="0.6"/><text x="445.5" y="971.7" font-size="6.7" text-anchor="end" fill="#333">−2</text><line x1="463.6" y1="984.2" x2="463.6" y2="986.2" stroke="#444" stroke-width="0.6"/><text x="463.6" y="991.9" font-size="6.7" text-anchor="middle" fill="#333">−2</text><line x1="486.1" y1="984.2" x2="486.1" y2="986.2" stroke="#444" stroke-width="0.6"/><text x="486.1" y="991.9" font-size="6.7" text-anchor="middle" fill="#333">0</text><line x1="508.6" y1="984.2" x2="508.6" y2="986.2" stroke="#444" stroke-width="0.6"/><text x="508.6" y="991.9" font-size="6.7" text-anchor="middle" fill="#333">2</text><text x="485.6" y="999.4" font-size="7.2" text-anchor="middle" fill="#222">Dim1</text><text x="437.4" y="944.8" font-size="7.2" text-anchor="middle" fill="#222" transform="rotate(-90 437.4 944.8)">Dim2</text><rect x="530" y="929" width="5.2" height="35" fill="url(#og)"/><line x1="533.9" y1="964.2" x2="535.2" y2="964.2" stroke="#fff" stroke-width="0.5"/><text x="539.2" y="966.4" font-size="6.5" fill="#333">0</text><line x1="533.9" y1="957.36" x2="535.2" y2="957.36" stroke="#fff" stroke-width="0.5"/><text x="539.2" y="959.56" font-size="6.5" fill="#333">1</text><line x1="533.9" y1="950.52" x2="535.2" y2="950.52" stroke="#fff" stroke-width="0.5"/><text x="539.2" y="952.72" font-size="6.5" fill="#333">2</text><line x1="533.9" y1="943.68" x2="535.2" y2="943.68" stroke="#fff" stroke-width="0.5"/><text x="539.2" y="945.88" font-size="6.5" fill="#333">3</text><line x1="533.9" y1="936.84" x2="535.2" y2="936.84" stroke="#fff" stroke-width="0.5"/><text x="539.2" y="939.04" font-size="6.5" fill="#333">4</text><line x1="533.9" y1="930" x2="535.2" y2="930" stroke="#fff" stroke-width="0.5"/><text x="539.2" y="932.2" font-size="6.5" fill="#333">5</text><text x="587.7" y="894.3" font-size="9.6" font-weight="bold">RBPJ</text><line x1="587.7" y1="898.4" x2="587.7" y2="984.6" stroke="#444" stroke-width="0.7"/><line x1="587.35" y1="984.2" x2="662.3" y2="984.2" stroke="#444" stroke-width="0.7"/><line x1="585.7" y1="904.9" x2="587.7" y2="904.9" stroke="#444" stroke-width="0.6"/><text x="584.9" y="907.3" font-size="6.7" text-anchor="end" fill="#333">4</text><line x1="585.7" y1="926.6" x2="587.7" y2="926.6" stroke="#444" stroke-width="0.6"/><text x="584.9" y="929" font-size="6.7" text-anchor="end" fill="#333">2</text><line x1="585.7" y1="948.1" x2="587.7" y2="948.1" stroke="#444" stroke-width="0.6"/><text x="584.9" y="950.5" font-size="6.7" text-anchor="end" fill="#333">0</text><line x1="585.7" y1="969.3" x2="587.7" y2="969.3" stroke="#444" stroke-width="0.6"/><text x="584.9" y="971.7" font-size="6.7" text-anchor="end" fill="#333">−2</text><line x1="603" y1="984.2" x2="603" y2="986.2" stroke="#444" stroke-width="0.6"/><text x="603" y="991.9" font-size="6.7" text-anchor="middle" fill="#333">−2</text><line x1="625.5" y1="984.2" x2="625.5" y2="986.2" stroke="#444" stroke-width="0.6"/><text x="625.5" y="991.9" font-size="6.7" text-anchor="middle" fill="#333">0</text><line x1="648" y1="984.2" x2="648" y2="986.2" stroke="#444" stroke-width="0.6"/><text x="648" y="991.9" font-size="6.7" text-anchor="middle" fill="#333">2</text><text x="625" y="999.4" font-size="7.2" text-anchor="middle" fill="#222">Dim1</text><text x="576.8" y="944.8" font-size="7.2" text-anchor="middle" fill="#222" transform="rotate(-90 576.8 944.8)">Dim2</text><rect x="669.4" y="929" width="5.2" height="35" fill="url(#og)"/><line x1="673.3" y1="964.2" x2="674.6" y2="964.2" stroke="#fff" stroke-width="0.5"/><text x="678.6" y="966.4" font-size="6.5" fill="#333">0</text><line x1="673.3" y1="955.65" x2="674.6" y2="955.65" stroke="#fff" stroke-width="0.5"/><text x="678.6" y="957.85" font-size="6.5" fill="#333">1</text><line x1="673.3" y1="947.1" x2="674.6" y2="947.1" stroke="#fff" stroke-width="0.5"/><text x="678.6" y="949.3" font-size="6.5" fill="#333">2</text><line x1="673.3" y1="938.55" x2="674.6" y2="938.55" stroke="#fff" stroke-width="0.5"/><text x="678.6" y="940.75" font-size="6.5" fill="#333">3</text><line x1="673.3" y1="930" x2="674.6" y2="930" stroke="#fff" stroke-width="0.5"/><text x="678.6" y="932.2" font-size="6.5" fill="#333">4</text>
</svg></body></html>
